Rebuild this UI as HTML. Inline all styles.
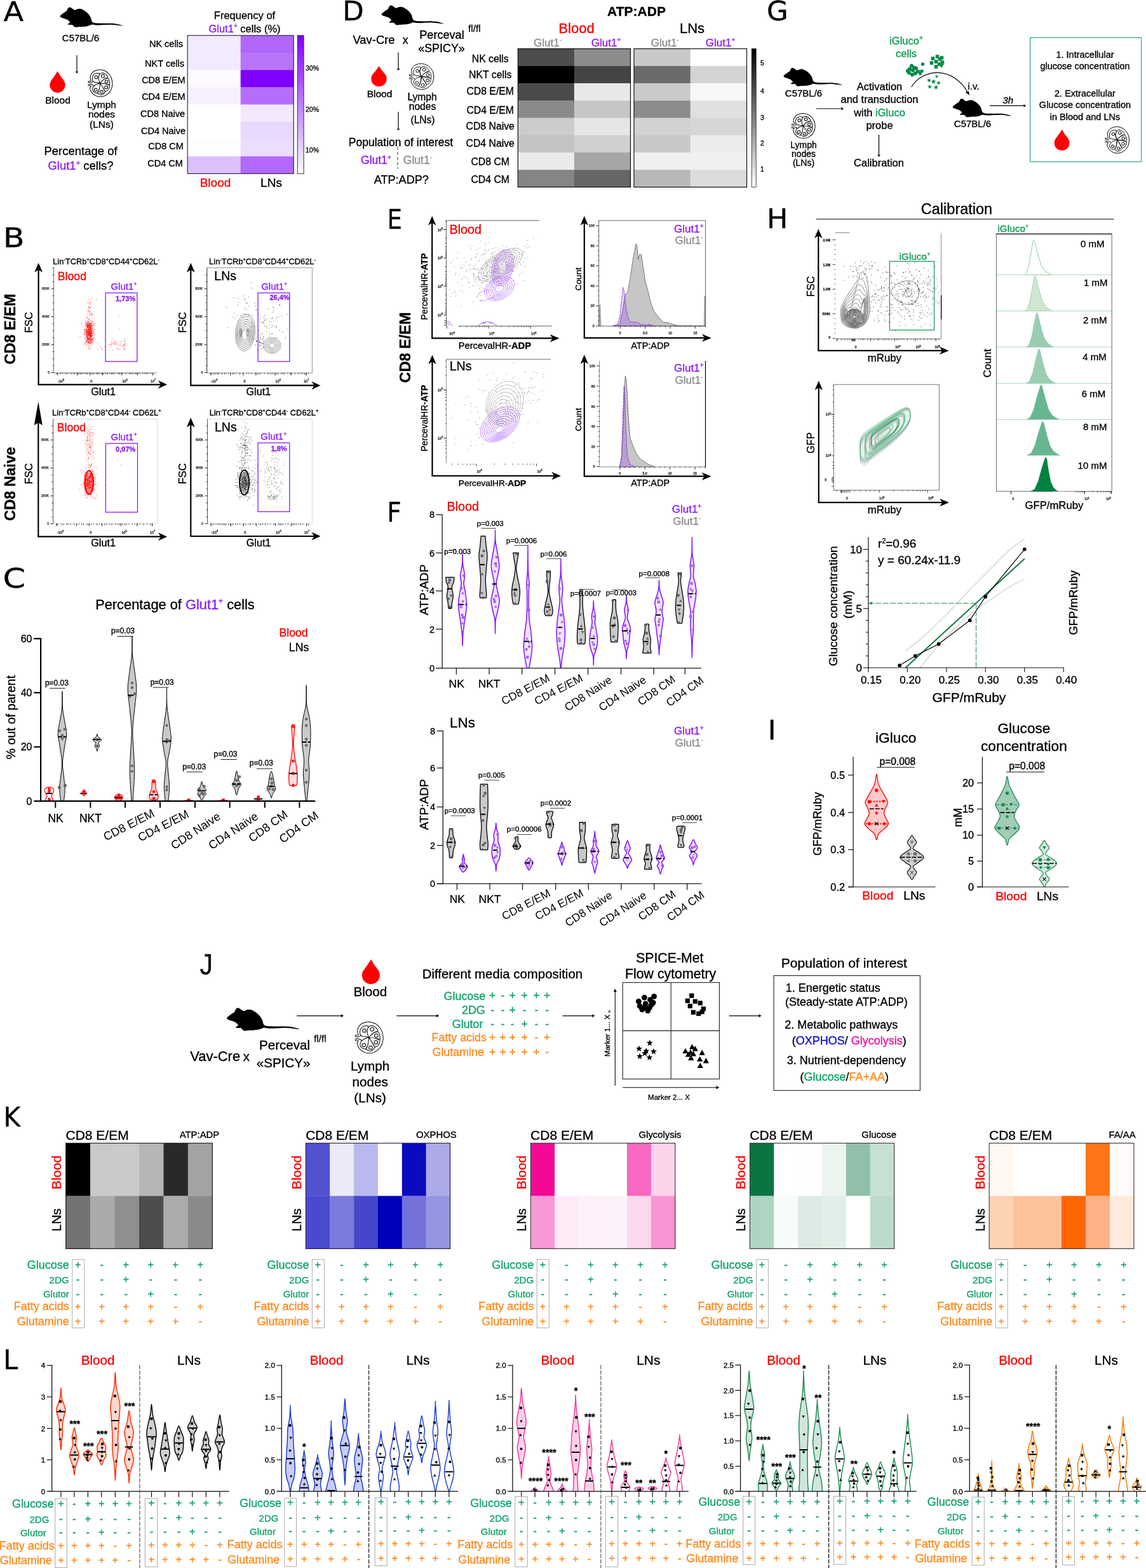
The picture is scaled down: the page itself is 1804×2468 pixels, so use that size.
<!DOCTYPE html>
<html lang="en"><head><meta charset="utf-8"><title>Figure</title>
<style>
html,body{margin:0;padding:0;background:#fff}
body{width:1804px;height:2468px;overflow:hidden}
svg{display:block;font-family:"Liberation Sans", sans-serif}
text{white-space:pre;stroke-width:0.34px;stroke-linejoin:round}
</style></head><body>
<svg xmlns="http://www.w3.org/2000/svg" width="1804" height="2468" viewBox="0 0 1804 2468">
<rect width="1804" height="2468" fill="#fff"/>
<text transform="translate(5.4,33.0) scale(1.065,1)" x="0" y="0" font-size="43.5" font-family="'DejaVu Sans', 'Liberation Sans', sans-serif" stroke="#000" stroke-width="0.5">A</text>
<path d="M94.5,25.4c.2-.5 .8-1.2 1.8-2.2 1-.9 2.8-2.2 4.3-3.2 1.4-1.1 3.4-2 4.4-3.1 1-1 1-2.5 1.6-3.3 .6-.9 1.1-1.6 1.8-1.9 .7-.3 1.6-.2 2.4 0 .9 .3 1.6 .8 2.5 1.4 .8 .5 1.8 1.5 2.6 1.9 .9 .5 1.6 .8 2.5 .7 .8-.1 1.7-1 2.7-1.3 1.1-.3 2.5-.7 3.7-.7 1.2 0 2.3 .1 3.6 .6 1.3 .5 2.8 1.4 4.2 2.3 1.5 .9 3 2 4.3 3.1 1.2 1.1 2.3 2.3 3.3 3.5 .9 1.3 1.8 2.7 2.4 4 .6 1.4 .8 2.9 1.2 4 .4 1.2 .4 2 1 2.7 .5 .7 1.2 1.3 2.1 1.7 .9 .4 1.7 .5 3.3 .7 1.7 .2 4.1 .3 6.7 .4 2.5 .1 5.4 .1 8.4 .1 3.1 0 6.9-.2 9.7-.1 2.9 .1 5.1 .4 7.3 .7 2.2 .4 4.2 .9 6.1 1.3 1.8 .5 4.1 1.3 4.8 1.6 .7 .4 .4 .5-.6 .5-1 0-3.5-.5-5.5-.7-1.9-.3-3.8-.6-6-.9-2.2-.2-4.7-.4-7.3-.5-2.6 0-5.6 .3-8.5 .4-2.8 .2-5.9 .4-8.4 .5-2.6 .1-4.8 .1-6.7-.1-1.9-.2-3.5-1-4.8-1-1.3 0-1.8 .7-3.1 1.1-1.3 .4-3 1.2-4.8 1.6-1.8 .4-3.8 .5-6.1 .7-2.2 .2-5.2 .2-7.2 .4-2 .1-3.6 .5-4.9 .4-1.2 0-1.9-.3-2.6-.8-.7-.5-1-1.5-1.6-1.9-.6-.5-.7-.8-1.8-1-1.1-.2-3.8 .1-4.9 0-1.1-.1-1.6-.4-1.7-.7 0-.4 .9-1.1 1.5-1.6 .5-.5 1.8-.6 1.9-1.2 .1-.6-.7-1.6-1.4-2.3-.7-.8-1.5-1.6-2.7-2.2-1.1-.6-2.8-1.1-4.2-1.6-1.4-.5-3.2-.8-4.3-1.3-1.1-.5-1.9-1-2.4-1.5-.5-.4-.8-.6-.6-1.2Z" fill="#000"/>
<text x="127.0" y="65.0" font-size="15" text-anchor="middle" stroke="#000">C57BL/6</text>
<line x1="121.0" y1="87.0" x2="121.0" y2="112.5" stroke="#000" stroke-width="1.2"/>
<polygon points="121.0,115.5 118.6,112.5 123.4,112.5" fill="#000"/>
<path d="M90.5,112.0 Q94.8,119.7 100.6,126.9 A12.2,12.2 0 1 1 80.4,126.9 Q86.2,119.7 90.5,112.0Z" fill="#ff0000"/>
<text x="91.0" y="162.5" font-size="15.5" text-anchor="middle" stroke="#000">Blood</text>
<defs><g id="ln" fill="none" stroke="#000" stroke-linecap="round" stroke-linejoin="round"><path d="M12.8,45.6c-.4-1.1-1.9-4.1-2.5-6.6-.6-2.5-1.4-5.1-1.1-8.2 .4-3.2 1-7.1 3.1-10.8 2.1-3.7 5.9-8.6 9.8-11.6 3.8-2.9 8.8-4.7 13.3-6 4.4-1.4 8.9-2 13.3-1.9 4.5 .1 9 1 13.4 2.3 4.3 1.3 8.7 2.8 12.8 5.6 4.1 2.8 8.3 6.9 11.8 11.3 3.4 4.4 6.9 9.6 9 15.2 2.1 5.6 3.4 12.3 3.8 18.4 .4 6.2-.3 12.9-1.6 18.5-1.2 5.6-3.4 10.8-6.1 15.4-2.7 4.6-6.2 8.7-10.3 12.3-4.1 3.6-9.2 7.2-14.3 9.2-5.1 2.1-11 3.1-16.4 3.1-5.5 0-11.3-1-16.4-3.1-5.2-2-10.5-5.5-14.4-9.2-3.9-3.8-7.2-9.5-9.2-13.3-2-3.9-2.6-7.2-2.8-9.8-.2-2.6 1-4.3 1.7-5.6 .8-1.4 2.4-2.2 2.9-2.6M.5,48.2c1.2 0 5.4 .3 7.2 .2 1.8-.1 2.7-.2 3.6-.7 .8-.5 1.3-1.7 1.5-2.1M.5,52.3c1.4 .3 5.8 1.4 8.2 1.5 2.4 .2 4.5 .2 6.2-.5 1.7-.7 3.2-2.5 4.1-3.6 .8-1 .8-2.1 1-2.5M.5,61c1.6-.1 6.5-.9 9.2-.7 2.8 .2 5.2 .9 7.2 1.8 2.1 .8 3.9 2 5.2 3 1.2 1.1 2.1 2.6 2.5 3.1M.5,66.2c1.4-.1 6.2-.7 8.2-.4 2 .4 3.3 2 3.9 2.4M49.7,56.4c-2.1-.7-4.2-2.1-9.2-3.1-5-.9-7.6 .3-12.3-1-4.7-1.3-5.2-.8-7.7-4.6-2.4-3.8-3.1-6.1-2.8-11.8 .4-5.7 1.2-8.3 4.1-12.8 3-4.5 4.5-4.6 8.5-6.5 4-1.9 4.6-1.8 8.7-1.7 4.1 0 7.6-1 8.9 2 1.3 3-2.6 5.2-3.5 10.8-.9 5.6-1.5 6.6-.3 13.3 1.2 6.7 4.3 11.8 5.6 15.4M49.7,56.4c-1.3-3.6-4.4-8.7-5.6-15.4-1.2-6.7-.8-7.9 .3-13.3 1.1-5.5 .9-6.8 4.3-10.1 3.4-3.2 5.4-3.7 10.3-3.8 4.9 0 6.4 .9 10.7 3.6 4.4 2.8 5.2 4.4 7.7 8.2 2.6 3.9 6 5.2 3.3 8.5-2.6 3.2-8.9 2.1-14.5 5.4-5.7 3.3-6 4.8-9.8 8.7-3.8 4-5.1 6.3-6.7 8.2M49.7,56.4c1.6-1.9 2.9-4.2 6.7-8.2 3.8-3.9 5.3-5.6 9.8-8.7 4.4-3.1 5.1-4.3 9.2-4.6 4.1-.4 5.3 .2 8.2 3 2.9 2.9 3 5 4.1 9.3 1.1 4.3 .9 5.4 .7 9.2-.2 3.8 2.3 6.7-1.7 7.2-4 .5-6.8-3.3-15.4-4.9-8.6-1.7-16.5-1.8-21.6-2.3M49.7,56.4c5.1 .5 13 .6 21.6 2.3 8.6 1.6 11.7 1.3 15.4 4.9 3.6 3.5 1.2 5.5 .2 10.2-1.1 4.8-1.8 6.8-4.8 10.3-3.1 3.5-5.1 3.7-8.3 4.6-3.1 1-2.1 3-5.1-.5-3-3.5-3.2-6.9-7.7-14.4-4.4-7.4-8.6-13.3-11.3-17.4M49.7,56.4c2.7 4.1 6.9 10 11.3 17.4 4.5 7.5 6 9.6 7.7 14.4 1.7 4.8 1.2 3-.5 6.2-1.7 3.1-3.1 5-6.7 7.1-3.6 2.2-4.7 2.3-8.7 2.1-3.9-.2-5.1-1.2-8.2-3.1-3.1-1.9-5.2-1.3-5.1-5.1 .1-3.8 3.7-5.3 5.6-11.3 2-6 1.7-7.9 2.8-14.4 1.1-6.4 1.4-10.2 1.8-13.3M49.7,56.4c-3.1 .8-7.7 1.2-13.3 3.6-5.6 2.4-6.9 3.4-10.8 6.7-3.8 3.2-4 3.1-5.6 7.1-1.6 4.1-2.2 6-1.2 10.3 .9 4.3 2.1 5.5 5.3 8.2 3.2 2.8 4.6 2.9 8.2 3.6 3.6 .7 4.2 2.2 7.2-.5 3-2.8 3.7-5.3 5.6-11.3 2-6 1.7-7.9 2.8-14.4 1.1-6.4 1.4-10.2 1.8-13.3"/><circle cx="33.5" cy="31.5" r="6.2"/><circle cx="61.0" cy="26.7" r="6.4"/><circle cx="75.4" cy="49.2" r="6.4"/><circle cx="74.4" cy="72.8" r="6.4"/><circle cx="55.4" cy="91.8" r="6.2"/><circle cx="31.5" cy="83.1" r="6.2"/></g></defs>
<use href="#ln" transform="translate(138.5,109.5) scale(0.3850,0.3829)" stroke-width="2.60"/>
<text x="160.0" y="169.5" font-size="15.5" text-anchor="middle" stroke="#000">Lymph</text>
<text x="160.0" y="184.5" font-size="15.5" text-anchor="middle" stroke="#000">nodes</text>
<text x="160.0" y="200.5" font-size="15.5" text-anchor="middle" stroke="#000">(LNs)</text>
<text x="127.0" y="244.0" font-size="18.5" text-anchor="middle" stroke="#000">Percentage of</text>
<text x="127.0" y="266.5" font-size="18.5" text-anchor="middle" stroke="#000"><tspan fill="#8a1cf5" stroke="#8a1cf5">Glut1</tspan><tspan dy="-7" font-size="11" fill="#8a1cf5" stroke="#8a1cf5">+</tspan><tspan dy="7" font-size="1">&#8203;</tspan> cells?</text>
<text x="385.0" y="30.0" font-size="16.5" text-anchor="middle" stroke="#000">Frequency of</text>
<text x="385.0" y="50.5" font-size="16.5" text-anchor="middle" stroke="#000"><tspan fill="#8a1cf5" stroke="#8a1cf5">Glut1</tspan><tspan dy="-6.5" font-size="10" fill="#8a1cf5" stroke="#8a1cf5">+</tspan><tspan dy="6.5" font-size="1">&#8203;</tspan> cells (%)</text>
<rect x="295.20" y="55.80" width="83.80" height="27.49" fill="#f3eafd"/>
<rect x="378.70" y="55.80" width="83.80" height="27.49" fill="#b066fb"/>
<rect x="295.20" y="82.99" width="83.80" height="27.49" fill="#f3ebfd"/>
<rect x="378.70" y="82.99" width="83.80" height="27.49" fill="#b774fb"/>
<rect x="295.20" y="110.17" width="83.80" height="27.49" fill="#fcfaff"/>
<rect x="378.70" y="110.17" width="83.80" height="27.49" fill="#7f00ff"/>
<rect x="295.20" y="137.36" width="83.80" height="27.49" fill="#f6f0fe"/>
<rect x="378.70" y="137.36" width="83.80" height="27.49" fill="#b46efb"/>
<rect x="295.20" y="164.55" width="83.80" height="27.49" fill="#ffffff"/>
<rect x="378.70" y="164.55" width="83.80" height="27.49" fill="#f3e8fe"/>
<rect x="295.20" y="191.74" width="83.80" height="27.49" fill="#ffffff"/>
<rect x="378.70" y="191.74" width="83.80" height="27.49" fill="#e9d8fd"/>
<rect x="295.20" y="218.93" width="83.80" height="27.49" fill="#fdfcff"/>
<rect x="378.70" y="218.93" width="83.80" height="27.49" fill="#ecdcfd"/>
<rect x="295.20" y="246.11" width="83.80" height="27.49" fill="#dcc0fb"/>
<rect x="378.70" y="246.11" width="83.80" height="27.49" fill="#b268fb"/>
<rect x="295.2" y="55.8" width="167.0" height="217.5" fill="none" stroke="#333" stroke-width="1.2"/>
<defs><linearGradient id="gA" x1="0" y1="0" x2="0" y2="1"><stop offset="0" stop-color="#7f00ff"/><stop offset="1" stop-color="#ffffff"/></linearGradient><linearGradient id="gD" x1="0" y1="0" x2="0" y2="1"><stop offset="0" stop-color="#000"/><stop offset="1" stop-color="#fff"/></linearGradient></defs>
<rect x="468.3" y="55.8" width="9.8" height="217.5" fill="url(#gA)" stroke="#333" stroke-width="1"/>
<text x="481.0" y="110.8" font-size="10.5" stroke="#000">30%</text>
<text x="481.0" y="175.8" font-size="10.5" stroke="#000">20%</text>
<text x="481.0" y="240.3" font-size="10.5" stroke="#000">10%</text>
<text x="261.5" y="73.7" font-size="14.5" text-anchor="middle" stroke="#000">NK cells</text>
<text x="259.0" y="105.2" font-size="14.5" text-anchor="middle" stroke="#000">NKT cells</text>
<text x="257.4" y="131.2" font-size="14.5" text-anchor="middle" stroke="#000">CD8 E/EM</text>
<text x="257.4" y="157.2" font-size="14.5" text-anchor="middle" stroke="#000">CD4 E/EM</text>
<text x="256.0" y="184.2" font-size="14.5" text-anchor="middle" stroke="#000">CD8 Naive</text>
<text x="257.0" y="211.2" font-size="14.5" text-anchor="middle" stroke="#000">CD4 Naive</text>
<text x="261.0" y="235.2" font-size="14.5" text-anchor="middle" stroke="#000">CD8 CM</text>
<text x="260.1" y="262.2" font-size="14.5" text-anchor="middle" stroke="#000">CD4 CM</text>
<text x="339.0" y="293.5" font-size="19" text-anchor="middle" fill="#ff0000" stroke="#ff0000">Blood</text>
<text x="427.0" y="293.5" font-size="19" text-anchor="middle" stroke="#000">LNs</text>
<text transform="translate(539.3,32.0) scale(1.0,1)" x="0" y="0" font-size="43.5" font-family="'DejaVu Sans', 'Liberation Sans', sans-serif" stroke="#000" stroke-width="0.5">D</text>
<path d="M600.5,22.3c.2-.6 .8-1.3 1.8-2.2 1-.9 2.7-2.2 4.2-3.2 1.4-1.1 3.4-2 4.4-3 1-1.1 1-2.5 1.6-3.4 .5-.8 1.1-1.5 1.8-1.8 .7-.3 1.6-.2 2.4 0 .7 .3 1.5 .8 2.3 1.4 .9 .5 1.8 1.4 2.7 1.9 .8 .4 1.5 .8 2.4 .7 .8-.1 1.7-1 2.7-1.3 1.1-.4 2.4-.7 3.6-.7 1.2-.1 2.3 .1 3.6 .6 1.3 .4 2.8 1.3 4.2 2.2 1.4 .9 2.9 2 4.2 3.1 1.2 1.1 2.3 2.3 3.2 3.5 .9 1.2 1.8 2.6 2.4 4 .6 1.3 .8 2.8 1.2 3.9 .3 1.1 .4 1.9 .9 2.6 .6 .7 1.3 1.3 2.2 1.7 .9 .4 1.6 .5 3.2 .7 1.7 .2 4.1 .3 6.6 .4 2.5 .1 5.4 .1 8.4 .1 3 0 6.8-.2 9.6-.1 2.7 .1 4.9 .4 7.1 .7 2.2 .3 4.2 .8 6 1.3 1.8 .5 4.1 1.2 4.8 1.6 .7 .3 .4 .5-.6 .5-1-.1-3.5-.5-5.4-.8-1.9-.2-3.8-.6-6-.8-2.2-.2-4.5-.5-7.1-.5-2.6 0-5.6 .2-8.4 .4-2.8 .1-5.9 .4-8.4 .5-2.5 0-4.7 0-6.6-.2-1.9-.1-3.5-.9-4.8-.9-1.3 0-1.6 .6-2.9 1.1-1.3 .4-3 1.1-4.8 1.5-1.8 .4-3.8 .5-6 .7-2.2 .2-5.2 .2-7.2 .4-2 .1-3.5 .5-4.8 .5-1.2-.1-1.9-.4-2.6-.9-.7-.4-1-1.4-1.6-1.9-.5-.5-.7-.8-1.8-.9-1.1-.2-3.7 .1-4.7 0-1.1-.2-1.7-.4-1.7-.8-.1-.3 .9-1.1 1.4-1.5 .6-.5 1.9-.6 1.9-1.2 .1-.6-.7-1.5-1.4-2.3-.7-.7-1.5-1.5-2.6-2.1-1.2-.7-2.8-1.1-4.2-1.6-1.4-.5-3.1-.9-4.2-1.3-1.1-.5-1.9-1-2.4-1.4-.5-.5-.8-.7-.6-1.2Z" fill="#000"/>
<text x="588.5" y="69.0" font-size="18.4" text-anchor="middle" stroke="#000">Vav-Cre</text>
<text x="638.0" y="69.0" font-size="17.5" text-anchor="middle" stroke="#000">x</text>
<text x="695.5" y="60.5" font-size="18.1" text-anchor="middle" stroke="#000">Perceval</text>
<text x="737.0" y="50.0" font-size="15.3" stroke="#000">fl/fl</text>
<text x="695.0" y="82.0" font-size="17.9" text-anchor="middle" stroke="#000">«SPICY»</text>
<line x1="627.0" y1="82.5" x2="627.0" y2="108.0" stroke="#000" stroke-width="1.2"/>
<polygon points="627.0,111.0 624.6,108.0 629.4,108.0" fill="#000"/>
<path d="M596.5,104.0 Q600.6,110.7 606.3,116.8 A12.2,12.2 0 1 1 586.7,116.8 Q592.4,110.7 596.5,104.0Z" fill="#ff0000"/>
<text x="597.5" y="153.0" font-size="15.5" text-anchor="middle" stroke="#000">Blood</text>
<use href="#ln" transform="translate(644.0,100.0) scale(0.3900,0.3651)" stroke-width="2.56"/>
<text x="664.5" y="158.0" font-size="15.6" text-anchor="middle" stroke="#000">Lymph</text>
<text x="665.0" y="173.0" font-size="15.6" text-anchor="middle" stroke="#000">nodes</text>
<text x="665.5" y="194.0" font-size="15.6" text-anchor="middle" stroke="#000">(LNs)</text>
<line x1="627.0" y1="176.0" x2="627.0" y2="202.5" stroke="#000" stroke-width="1.2"/>
<polygon points="627.0,205.5 624.6,202.5 629.4,202.5" fill="#000"/>
<text x="631.0" y="229.5" font-size="17.5" text-anchor="middle" stroke="#000">Population of interest</text>
<line x1="626.0" y1="231.0" x2="626.0" y2="266.0" stroke="#666" stroke-width="1.3" stroke-dasharray="5,3"/>
<text x="592.0" y="257.5" font-size="17.5" text-anchor="middle" stroke="#000"><tspan fill="#8a1cf5" stroke="#8a1cf5">Glut1</tspan><tspan dy="-7" font-size="10.5" fill="#8a1cf5" stroke="#8a1cf5">+</tspan><tspan dy="7" font-size="1">&#8203;</tspan></text>
<text x="657.5" y="257.5" font-size="17.5" text-anchor="middle" stroke="#000"><tspan fill="#8c8c8c" stroke="#8c8c8c">Glut1</tspan><tspan dy="-7" font-size="10.5" fill="#8c8c8c" stroke="#8c8c8c">-</tspan><tspan dy="7" font-size="1">&#8203;</tspan></text>
<text x="631.8" y="288.5" font-size="18.1" text-anchor="middle" stroke="#000">ATP:ADP?</text>
<text x="1002.0" y="24.8" font-size="21" text-anchor="middle" stroke="#000" font-weight="bold">ATP:ADP</text>
<text x="907.5" y="52.0" font-size="22" text-anchor="middle" fill="#ff0000" stroke="#ff0000">Blood</text>
<text x="1089.5" y="52.0" font-size="22" text-anchor="middle" stroke="#000">LNs</text>
<text x="862.0" y="73.0" font-size="17" text-anchor="middle" stroke="#000"><tspan fill="#8c8c8c" stroke="#8c8c8c">Glut1</tspan><tspan dy="-7" font-size="10" fill="#8c8c8c" stroke="#8c8c8c">-</tspan><tspan dy="7" font-size="1">&#8203;</tspan></text>
<text x="954.0" y="73.0" font-size="17" text-anchor="middle" stroke="#000"><tspan fill="#8a1cf5" stroke="#8a1cf5">Glut1</tspan><tspan dy="-7" font-size="10" fill="#8a1cf5" stroke="#8a1cf5">+</tspan><tspan dy="7" font-size="1">&#8203;</tspan></text>
<text x="1046.7" y="73.0" font-size="17" text-anchor="middle" stroke="#000"><tspan fill="#8c8c8c" stroke="#8c8c8c">Glut1</tspan><tspan dy="-7" font-size="10" fill="#8c8c8c" stroke="#8c8c8c">-</tspan><tspan dy="7" font-size="1">&#8203;</tspan></text>
<text x="1134.0" y="73.0" font-size="17" text-anchor="middle" stroke="#000"><tspan fill="#8a1cf5" stroke="#8a1cf5">Glut1</tspan><tspan dy="-7" font-size="10" fill="#8a1cf5" stroke="#8a1cf5">+</tspan><tspan dy="7" font-size="1">&#8203;</tspan></text>
<rect x="815.30" y="76.70" width="88.90" height="27.53" fill="#4d4d4d"/>
<rect x="903.90" y="76.70" width="88.90" height="27.53" fill="#8c8c8c"/>
<rect x="815.30" y="103.93" width="88.90" height="27.53" fill="#000000"/>
<rect x="903.90" y="103.93" width="88.90" height="27.53" fill="#444444"/>
<rect x="815.30" y="131.15" width="88.90" height="27.53" fill="#4a4a4a"/>
<rect x="903.90" y="131.15" width="88.90" height="27.53" fill="#e8e8e8"/>
<rect x="815.30" y="158.38" width="88.90" height="27.53" fill="#8a8a8a"/>
<rect x="903.90" y="158.38" width="88.90" height="27.53" fill="#c6c6c6"/>
<rect x="815.30" y="185.60" width="88.90" height="27.53" fill="#cccccc"/>
<rect x="903.90" y="185.60" width="88.90" height="27.53" fill="#e6e6e6"/>
<rect x="815.30" y="212.82" width="88.90" height="27.53" fill="#c4c4c4"/>
<rect x="903.90" y="212.82" width="88.90" height="27.53" fill="#d0d0d0"/>
<rect x="815.30" y="240.05" width="88.90" height="27.53" fill="#ebebeb"/>
<rect x="903.90" y="240.05" width="88.90" height="27.53" fill="#a6a6a6"/>
<rect x="815.30" y="267.28" width="88.90" height="27.53" fill="#858585"/>
<rect x="903.90" y="267.28" width="88.90" height="27.53" fill="#666666"/>
<rect x="815.3" y="76.7" width="177.2" height="217.8" fill="none" stroke="#111" stroke-width="1.2"/>
<rect x="998.00" y="76.70" width="89.05" height="27.53" fill="#c8c8c8"/>
<rect x="1086.75" y="76.70" width="89.05" height="27.53" fill="#ffffff"/>
<rect x="998.00" y="103.93" width="89.05" height="27.53" fill="#6b6b6b"/>
<rect x="1086.75" y="103.93" width="89.05" height="27.53" fill="#d4d4d4"/>
<rect x="998.00" y="131.15" width="89.05" height="27.53" fill="#cacaca"/>
<rect x="1086.75" y="131.15" width="89.05" height="27.53" fill="#f8f8f8"/>
<rect x="998.00" y="158.38" width="89.05" height="27.53" fill="#8c8c8c"/>
<rect x="1086.75" y="158.38" width="89.05" height="27.53" fill="#e0e0e0"/>
<rect x="998.00" y="185.60" width="89.05" height="27.53" fill="#d2d2d2"/>
<rect x="1086.75" y="185.60" width="89.05" height="27.53" fill="#d6d6d6"/>
<rect x="998.00" y="212.82" width="89.05" height="27.53" fill="#c8c8c8"/>
<rect x="1086.75" y="212.82" width="89.05" height="27.53" fill="#ececec"/>
<rect x="998.00" y="240.05" width="89.05" height="27.53" fill="#f0f0f0"/>
<rect x="1086.75" y="240.05" width="89.05" height="27.53" fill="#f0f0f0"/>
<rect x="998.00" y="267.28" width="89.05" height="27.53" fill="#b8b8b8"/>
<rect x="1086.75" y="267.28" width="89.05" height="27.53" fill="#dcdcdc"/>
<rect x="998.0" y="76.7" width="177.5" height="217.8" fill="none" stroke="#111" stroke-width="1.2"/>
<rect x="1183.2" y="76.7" width="7.0" height="217.8" fill="url(#gD)" stroke="#222" stroke-width="0.8"/>
<text x="1197.0" y="103.4" font-size="10.5" stroke="#000">5</text>
<text x="1197.0" y="146.8" font-size="10.5" stroke="#000">4</text>
<text x="1197.0" y="189.4" font-size="10.5" stroke="#000">3</text>
<text x="1197.0" y="229.2" font-size="10.5" stroke="#000">2</text>
<text x="1197.0" y="269.8" font-size="10.5" stroke="#000">1</text>
<text x="771.7" y="97.7" font-size="15.8" text-anchor="middle" stroke="#000">NK cells</text>
<text x="771.7" y="122.7" font-size="15.8" text-anchor="middle" stroke="#000">NKT cells</text>
<text x="771.7" y="148.9" font-size="15.8" text-anchor="middle" stroke="#000">CD8 E/EM</text>
<text x="771.7" y="178.6" font-size="15.8" text-anchor="middle" stroke="#000">CD4 E/EM</text>
<text x="771.7" y="204.3" font-size="15.8" text-anchor="middle" stroke="#000">CD8 Naive</text>
<text x="771.7" y="231.3" font-size="15.8" text-anchor="middle" stroke="#000">CD4 Naive</text>
<text x="771.7" y="260.0" font-size="15.8" text-anchor="middle" stroke="#000">CD8 CM</text>
<text x="771.7" y="287.9" font-size="15.8" text-anchor="middle" stroke="#000">CD4 CM</text>
<text transform="translate(1207.0,32.0) scale(1.0,1)" x="0" y="0" font-size="43.5" font-family="'DejaVu Sans', 'Liberation Sans', sans-serif" stroke="#000" stroke-width="0.5">G</text>
<text x="1426.5" y="69.5" font-size="16.5" text-anchor="middle" stroke="#000"><tspan fill="#0c9a55" stroke="#0c9a55">iGluco</tspan><tspan dy="-6.5" font-size="10" fill="#0c9a55" stroke="#0c9a55">+</tspan><tspan dy="6.5" font-size="1">&#8203;</tspan></text>
<text x="1426.5" y="89.8" font-size="16.5" text-anchor="middle" fill="#0c9a55" stroke="#0c9a55">cells</text>
<path d="M1233.5,119.7c.2-.5 .7-1.2 1.7-2 .9-.9 2.6-2.1 3.9-3 1.4-1 3.2-1.9 4.2-2.8 .9-1 .9-2.4 1.4-3.2 .6-.8 1.1-1.4 1.7-1.7 .7-.3 1.5-.2 2.3 0 .7 .2 1.4 .8 2.2 1.3 .8 .5 1.7 1.3 2.5 1.8 .8 .4 1.4 .7 2.2 .6 .8-.1 1.6-.9 2.6-1.2 1-.3 2.2-.7 3.4-.7 1.1 0 2.1 .1 3.3 .6 1.3 .4 2.7 1.3 4 2.1 1.3 .9 2.7 1.9 3.9 2.9 1.2 1.1 2.1 2.1 3 3.3 .9 1.2 1.7 2.5 2.3 3.7 .5 1.2 .8 2.7 1.1 3.7 .3 1 .4 1.8 .9 2.5 .5 .6 1.2 1.2 2 1.5 .9 .4 1.5 .5 3 .7 1.6 .2 3.9 .3 6.2 .4 2.4 0 5.1 .1 7.9 .1 2.8 0 6.3-.2 9-.1 2.6 0 4.6 .3 6.7 .6 2.1 .3 3.9 .8 5.6 1.3 1.7 .4 3.8 1.1 4.5 1.4 .7 .3 .4 .5-.6 .5-.9-.1-3.2-.5-5-.7-1.8-.2-3.6-.6-5.6-.8-2.1-.2-4.3-.4-6.8-.4-2.4-.1-5.2 .2-7.8 .3-2.6 .1-5.5 .4-7.9 .4-2.3 .1-4.4 .1-6.2-.1-1.7-.1-3.2-.9-4.4-.9-1.3 .1-1.6 .6-2.9 1-1.2 .5-2.8 1.2-4.4 1.5-1.7 .4-3.6 .5-5.7 .7-2 .1-4.8 .2-6.7 .3-1.9 .1-3.3 .5-4.5 .5-1.1-.1-1.8-.4-2.5-.8-.6-.5-.9-1.4-1.4-1.8-.5-.5-.7-.8-1.7-.9-1-.2-3.5 .1-4.5 0-1-.1-1.5-.3-1.6-.7 0-.3 .9-1 1.4-1.4 .5-.5 1.7-.6 1.8-1.2 .1-.5-.7-1.4-1.4-2.1-.6-.7-1.4-1.4-2.4-2-1.1-.6-2.7-1-4-1.5-1.3-.4-2.9-.8-3.9-1.2-1-.4-1.8-1-2.2-1.4-.5-.4-.8-.6-.6-1.1Z" fill="#000"/>
<text x="1265.0" y="151.8" font-size="15" text-anchor="middle" stroke="#000">C57BL/6</text>
<line x1="1285.0" y1="171.0" x2="1324.5" y2="171.0" stroke="#000" stroke-width="1.2"/>
<polygon points="1328.0,171.0 1324.5,173.4 1324.5,168.6" fill="#000"/>
<use href="#ln" transform="translate(1245.7,178.4) scale(0.3750,0.3517)" stroke-width="2.67"/>
<text x="1265.0" y="232.5" font-size="14" text-anchor="middle" stroke="#000">Lymph</text>
<text x="1265.0" y="247.0" font-size="14" text-anchor="middle" stroke="#000">nodes</text>
<text x="1265.0" y="261.0" font-size="14" text-anchor="middle" stroke="#000">(LNs)</text>
<text x="1384.5" y="141.7" font-size="16.5" text-anchor="middle" stroke="#000">Activation</text>
<text x="1384.5" y="162.2" font-size="16.5" text-anchor="middle" stroke="#000">and transduction</text>
<text x="1384.5" y="183.0" font-size="16.5" text-anchor="middle" stroke="#000">with <tspan fill="#0c9a55" stroke="#0c9a55">iGluco</tspan></text>
<text x="1384.5" y="203.3" font-size="16.5" text-anchor="middle" stroke="#000">probe</text>
<line x1="1383.5" y1="212.0" x2="1383.5" y2="243.5" stroke="#000" stroke-width="1.2"/>
<polygon points="1383.5,247.0 1381.1,243.5 1385.9,243.5" fill="#000"/>
<text x="1383.5" y="261.6" font-size="16.5" text-anchor="middle" stroke="#000">Calibration</text>
<circle cx="1437.0" cy="110.5" r="3.1" fill="#0a8a4a"/>
<circle cx="1442.0" cy="107.5" r="3.1" fill="#0a8a4a"/>
<circle cx="1432.0" cy="108.5" r="3.1" fill="#0a8a4a"/>
<circle cx="1431.0" cy="114.5" r="3.1" fill="#0a8a4a"/>
<circle cx="1441.0" cy="115.5" r="3.1" fill="#0a8a4a"/>
<circle cx="1436.0" cy="117.5" r="3.1" fill="#0a8a4a"/>
<circle cx="1445.0" cy="112.5" r="3.1" fill="#0a8a4a"/>
<circle cx="1435.0" cy="103.5" r="3.1" fill="#0a8a4a"/>
<circle cx="1439.0" cy="106.5" r="3.1" fill="#0a8a4a"/>
<circle cx="1429.0" cy="111.5" r="3.1" fill="#0a8a4a"/>
<circle cx="1452.5" cy="101.0" r="2.8" fill="#0a8a4a"/>
<circle cx="1451.0" cy="112.0" r="2.8" fill="#0a8a4a"/>
<circle cx="1448.5" cy="116.0" r="2.5" fill="#0a8a4a"/>
<rect x="1470.7" y="94.2" width="5.6" height="5.6" fill="#0a8a4a"/>
<rect x="1476.7" y="90.2" width="5.6" height="5.6" fill="#0a8a4a"/>
<rect x="1465.7" y="89.2" width="5.6" height="5.6" fill="#0a8a4a"/>
<rect x="1463.7" y="96.2" width="5.6" height="5.6" fill="#0a8a4a"/>
<rect x="1475.7" y="98.2" width="5.6" height="5.6" fill="#0a8a4a"/>
<rect x="1470.7" y="102.2" width="5.6" height="5.6" fill="#0a8a4a"/>
<rect x="1480.7" y="95.2" width="5.6" height="5.6" fill="#0a8a4a"/>
<rect x="1472.7" y="86.2" width="5.6" height="5.6" fill="#0a8a4a"/>
<rect x="1479.7" y="88.2" width="5.6" height="5.6" fill="#0a8a4a"/>
<polygon points="1478,101 1486,101 1482,107" fill="#0a8a4a"/>
<path d="M1469.5,124.3L1470.6,127L1473.5,127.2L1471.2,129.1L1472,131.9L1469.5,130.3L1467,131.9L1467.8,129.1L1465.5,127.2L1468.4,127Z" fill="#0a8a4a"/>
<path d="M1477.5,126.9L1478.4,129.2L1481,129.4L1479,131L1479.6,133.4L1477.5,132.1L1475.4,133.4L1476,131L1474,129.4L1476.6,129.2Z" fill="#0a8a4a"/>
<path d="M1462.5,122.9L1463.4,125.2L1466,125.4L1464,127L1464.6,129.4L1462.5,128.1L1460.4,129.4L1461,127L1459,125.4L1461.6,125.2Z" fill="#0a8a4a"/>
<path d="M1463.5,132.9L1464.4,135.2L1467,135.4L1465,137L1465.6,139.4L1463.5,138.1L1461.4,139.4L1462,137L1460,135.4L1462.6,135.2Z" fill="#0a8a4a"/>
<path d="M1473.5,133.6L1474.5,136.1L1477.2,136.3L1475.1,138L1475.8,140.7L1473.5,139.2L1471.2,140.7L1471.9,138L1469.8,136.3L1472.5,136.1Z" fill="#0a8a4a"/>
<path d="M1474.5,117.4L1475.3,119.4L1477.4,119.5L1475.8,120.9L1476.3,123L1474.5,121.8L1472.7,123L1473.2,120.9L1471.6,119.5L1473.7,119.4Z" fill="#0a8a4a"/>
<path d="M1434.7,137 C1452,108 1500,102 1525,148" fill="none" stroke="#000" stroke-width="1.2"/>
<polygon points="1526,150 1519.5,145 1525,143.5" fill="#000"/>
<text x="1523.5" y="140.8" font-size="15" stroke="#000">i.v.</text>
<path d="M1499.8,168.3c.2-.5 .7-1.2 1.7-2 .9-.9 2.6-2.1 3.9-3 1.4-1 3.2-1.9 4.2-2.8 .9-1 .9-2.4 1.4-3.2 .6-.8 1.1-1.4 1.7-1.7 .7-.3 1.5-.2 2.3 0 .7 .2 1.4 .8 2.2 1.3 .8 .5 1.7 1.3 2.5 1.8 .8 .4 1.4 .7 2.2 .6 .8-.1 1.6-.9 2.6-1.2 1-.3 2.2-.7 3.4-.7 1.1 0 2.1 .1 3.3 .6 1.3 .4 2.7 1.3 4 2.1 1.3 .9 2.7 1.9 3.9 2.9 1.2 1.1 2.1 2.1 3 3.3 .9 1.2 1.7 2.5 2.3 3.7 .5 1.2 .8 2.7 1.1 3.7 .3 1 .4 1.8 .9 2.5 .5 .6 1.2 1.2 2 1.5 .9 .4 1.5 .5 3 .7 1.6 .2 3.9 .3 6.2 .4 2.4 0 5.1 .1 7.9 .1 2.8 0 6.3-.2 9-.1 2.6 0 4.6 .3 6.7 .6 2.1 .3 3.9 .8 5.6 1.3 1.7 .4 3.8 1.1 4.5 1.4 .7 .3 .4 .5-.6 .5-.9-.1-3.2-.5-5-.7-1.8-.2-3.6-.6-5.6-.8-2.1-.2-4.3-.4-6.8-.4-2.4-.1-5.2 .2-7.8 .3-2.6 .1-5.5 .4-7.9 .4-2.3 .1-4.4 .1-6.2-.1-1.7-.1-3.2-.9-4.4-.9-1.3 .1-1.6 .6-2.9 1-1.2 .5-2.8 1.2-4.4 1.5-1.7 .4-3.6 .5-5.7 .7-2 .1-4.8 .2-6.7 .3-1.9 .1-3.3 .5-4.5 .5-1.1-.1-1.8-.4-2.5-.8-.6-.5-.9-1.4-1.4-1.8-.5-.5-.7-.8-1.7-.9-1-.2-3.5 .1-4.5 0-1-.1-1.5-.3-1.6-.7 0-.3 .9-1 1.4-1.4 .5-.5 1.7-.6 1.8-1.2 .1-.5-.7-1.4-1.4-2.1-.6-.7-1.4-1.4-2.4-2-1.1-.6-2.7-1-4-1.5-1.3-.4-2.9-.8-3.9-1.2-1-.4-1.8-1-2.2-1.4-.5-.4-.8-.6-.6-1.1Z" fill="#000"/>
<text x="1531.0" y="199.5" font-size="15" text-anchor="middle" stroke="#000">C57BL/6</text>
<line x1="1558.0" y1="166.4" x2="1611.5" y2="166.4" stroke="#000" stroke-width="1.2"/>
<polygon points="1615.0,166.4 1611.5,168.8 1611.5,164.0" fill="#000"/>
<text x="1586.8" y="163.2" font-size="15" text-anchor="middle" stroke="#000" font-style="italic">3h</text>
<rect x="1621.6" y="59.2" width="175.0" height="195.3" fill="none" stroke="#3daf78" stroke-width="1.3"/>
<text x="1708.0" y="90.5" font-size="14.5" text-anchor="middle" stroke="#000">1. Intracellular</text>
<text x="1708.0" y="108.5" font-size="14.5" text-anchor="middle" stroke="#000">glucose concentration</text>
<text x="1708.0" y="152.0" font-size="14.5" text-anchor="middle" stroke="#000">2. Extracellular</text>
<text x="1708.0" y="170.2" font-size="14.5" text-anchor="middle" stroke="#000">Glucose concentration</text>
<text x="1708.0" y="188.5" font-size="14.5" text-anchor="middle" stroke="#000">in Blood and LNs</text>
<path d="M1671.6,204.0 Q1675.7,211.4 1681.4,218.1 A12.0,12.0 0 1 1 1661.8,218.1 Q1667.5,211.4 1671.6,204.0Z" fill="#ff0000"/>
<use href="#ln" transform="translate(1739.7,199.3) scale(0.3800,0.3740)" stroke-width="2.63"/>
<text transform="translate(4.9,388.8) scale(1.126,1)" x="0" y="0" font-size="43.5" font-family="'DejaVu Sans', 'Liberation Sans', sans-serif" stroke="#000" stroke-width="0.5">B</text>
<text x="24.0" y="518.0" font-size="23.5" text-anchor="middle" stroke="#000" font-weight="bold" transform="rotate(-90 24.0 518.0)">CD8 E/EM</text>
<text x="24.0" y="761.5" font-size="23.5" text-anchor="middle" stroke="#000" font-weight="bold" transform="rotate(-90 24.0 761.5)">CD8 Naive</text>
<text x="83.1" y="416.0" font-size="12.9" stroke="#000">Lin<tspan dy="-5" font-size="7.5">-</tspan><tspan dy="5" font-size="1">&#8203;</tspan>TCRb<tspan dy="-5" font-size="7.5">+</tspan><tspan dy="5" font-size="1">&#8203;</tspan>CD8<tspan dy="-5" font-size="7.5">+</tspan><tspan dy="5" font-size="1">&#8203;</tspan>CD44<tspan dy="-5" font-size="7.5">+</tspan><tspan dy="5" font-size="1">&#8203;</tspan>CD62L<tspan dy="-5" font-size="7.5">-</tspan><tspan dy="5" font-size="1">&#8203;</tspan></text>
<path d="M84.6,421.0V587.0H246.6" fill="none" stroke="#444" stroke-width="0.8"/>
<path d="M84.6,454.5h-4M84.6,498.5h-4M84.6,542.5h-4M84.6,586.5h-4M84.6,443.5h-2M84.6,432.5h-2M84.6,421.5h-2M84.6,465.5h-2M84.6,476.5h-2M84.6,487.5h-2M84.6,509.5h-2M84.6,520.5h-2M84.6,531.5h-2M84.6,553.5h-2M84.6,564.5h-2M84.6,575.5h-2" stroke="#000" stroke-width="0.8" fill="none"/>
<path d="M90.6,587.0v4M121.6,587.0v4M141.6,587.0v4M161.6,587.0v4M191.6,587.0v4M216.6,587.0v4M240.6,587.0v4M89.6,587.0v2M95.1,587.0v2M98.1,587.0v1.5M103.6,587.0v2.5M106.6,587.0v1.5M112.1,587.0v2M115.1,587.0v1.5M117.3,587.0v2.5M122.8,587.0v2M125.8,587.0v2.5M128.0,587.0v2.5M130.2,587.0v1.5M132.4,587.0v1.5M135.4,587.0v2.5M137.6,587.0v2M141.6,587.0v2M144.6,587.0v2.5M147.6,587.0v2.5M151.6,587.0v2M153.8,587.0v2.5M156.0,587.0v2M160.0,587.0v2M162.2,587.0v2.5M166.2,587.0v2M169.2,587.0v2.5M173.2,587.0v1.5M175.4,587.0v2.5M177.6,587.0v2M179.8,587.0v2M185.3,587.0v1.5M187.5,587.0v2.5M189.7,587.0v1.5M192.7,587.0v1.5M198.2,587.0v2M203.7,587.0v2M205.9,587.0v2.5M208.9,587.0v2.5M212.9,587.0v2M215.1,587.0v2M219.1,587.0v1.5M224.6,587.0v1.5M227.6,587.0v1.5M229.8,587.0v1.5M232.0,587.0v2M237.5,587.0v1.5M240.5,587.0v2" stroke="#000" stroke-width="0.8" fill="none"/>
<text x="78.1" y="456.3" font-size="5.2" text-anchor="end" fill="#333" stroke="#333">600K</text>
<text x="78.1" y="500.3" font-size="5.2" text-anchor="end" fill="#333" stroke="#333">400K</text>
<text x="78.1" y="544.3" font-size="5.2" text-anchor="end" fill="#333" stroke="#333">200K</text>
<text x="78.1" y="588.3" font-size="5.2" text-anchor="end" fill="#333" stroke="#333">0</text>
<text x="96.0" y="601.5" font-size="5.5" text-anchor="middle" fill="#222" stroke="#222">-10<tspan dy="-2.475" font-size="4.125">3</tspan><tspan dy="2.475" font-size="1">&#8203;</tspan></text>
<text x="143.9" y="601.5" font-size="5.5" text-anchor="middle" fill="#222" stroke="#222">0</text>
<text x="196.6" y="601.5" font-size="5.5" text-anchor="middle" fill="#222" stroke="#222">10<tspan dy="-2.475" font-size="4.125">5</tspan><tspan dy="2.475" font-size="1">&#8203;</tspan></text>
<text x="241.2" y="601.5" font-size="5.5" text-anchor="middle" fill="#222" stroke="#222">10<tspan dy="-2.475" font-size="4.125">7</tspan><tspan dy="2.475" font-size="1">&#8203;</tspan></text>
<path d="M146.3,520.3h0.9M137.1,527.0h0.9M131.6,541.6h0.9M147.4,522.1h0.9M145.0,519.8h0.9M140.9,522.0h0.9M136.4,513.8h0.9M142.2,523.5h0.9M139.7,522.5h0.9M135.0,509.4h0.9M139.1,524.7h0.9M141.5,536.4h0.9M143.6,523.0h0.9M138.8,518.2h0.9M134.4,511.7h0.9M142.5,529.8h0.9M138.0,515.5h0.9M140.9,536.3h0.9M139.9,515.9h0.9M137.0,512.3h0.9M138.8,512.4h0.9M138.8,522.5h0.9M141.9,523.5h0.9M137.4,521.4h0.9M140.0,511.6h0.9M133.3,532.9h0.9M135.8,522.7h0.9M149.1,509.6h0.9M143.1,530.6h0.9M137.4,510.1h0.9M142.4,525.3h0.9M145.4,513.1h0.9M143.6,526.6h0.9M140.2,525.2h0.9M139.3,534.7h0.9M141.8,521.2h0.9M142.7,530.8h0.9M137.4,536.9h0.9M131.6,518.5h0.9M133.3,509.3h0.9M136.9,523.6h0.9M139.8,524.5h0.9M139.0,519.6h0.9M143.0,525.7h0.9M141.1,525.1h0.9M136.9,524.9h0.9M148.3,528.8h0.9M140.0,516.5h0.9M143.4,519.8h0.9M143.7,528.0h0.9M146.5,531.7h0.9M141.0,521.1h0.9M139.6,522.0h0.9M138.4,513.3h0.9M141.6,522.3h0.9M141.7,524.8h0.9M140.0,532.9h0.9M136.1,543.5h0.9M138.8,511.1h0.9M135.8,525.1h0.9M135.9,520.5h0.9M139.6,526.2h0.9M149.2,525.7h0.9M145.0,533.9h0.9M138.0,511.8h0.9M142.9,515.9h0.9M143.3,533.3h0.9M134.2,520.0h0.9M135.6,542.3h0.9M137.5,522.1h0.9M137.9,526.5h0.9M135.9,507.9h0.9M140.3,515.0h0.9M140.8,529.2h0.9M142.4,518.6h0.9M142.4,529.3h0.9M141.0,520.2h0.9M149.5,533.5h0.9M141.0,517.4h0.9M132.1,526.3h0.9M141.9,513.0h0.9M134.9,520.0h0.9M138.7,502.3h0.9M138.0,515.5h0.9M141.6,514.5h0.9M136.0,512.1h0.9M139.5,531.6h0.9M137.5,511.1h0.9M137.9,513.7h0.9M142.5,538.7h0.9M139.6,540.2h0.9M143.2,493.1h0.9M141.5,525.3h0.9M135.2,518.7h0.9M139.2,525.1h0.9M142.4,540.5h0.9M140.0,538.6h0.9M140.3,509.0h0.9M142.7,523.7h0.9M141.0,509.1h0.9M144.2,517.9h0.9M142.3,521.9h0.9M143.4,508.7h0.9M140.8,532.7h0.9M143.0,515.5h0.9M137.9,524.1h0.9M140.5,521.2h0.9M135.2,517.3h0.9M133.5,521.7h0.9M138.4,529.8h0.9M141.8,521.5h0.9M144.5,508.0h0.9M141.8,519.5h0.9M140.4,532.4h0.9M142.8,526.7h0.9M148.5,518.5h0.9M139.8,538.7h0.9M144.4,523.2h0.9M143.4,524.2h0.9M137.7,526.0h0.9M142.4,518.4h0.9M142.8,513.8h0.9M144.5,524.8h0.9M137.1,500.5h0.9M125.5,530.0h0.9M143.7,514.6h0.9M138.5,511.8h0.9M143.7,512.5h0.9M137.9,505.6h0.9M135.9,527.0h0.9M142.5,510.2h0.9M142.4,532.8h0.9M142.5,517.5h0.9M135.9,499.0h0.9M143.6,511.5h0.9M139.5,527.5h0.9M137.4,519.7h0.9M136.5,522.2h0.9M140.5,522.7h0.9M137.0,531.1h0.9M147.9,528.4h0.9M129.8,513.4h0.9M141.3,525.2h0.9M144.4,543.0h0.9M132.4,528.0h0.9M141.3,511.8h0.9M140.3,534.2h0.9M136.1,541.1h0.9M147.6,512.7h0.9M138.5,521.2h0.9M139.4,523.2h0.9M139.8,538.3h0.9M141.2,521.6h0.9M140.5,523.3h0.9M139.0,538.5h0.9M140.3,534.3h0.9M135.4,522.0h0.9M143.2,510.2h0.9M139.1,506.0h0.9M140.8,520.4h0.9M135.7,507.5h0.9M136.9,513.3h0.9M143.1,512.2h0.9M140.7,529.2h0.9M135.6,518.3h0.9M145.4,539.6h0.9M137.9,515.0h0.9M142.3,535.0h0.9M142.0,517.6h0.9M140.6,515.2h0.9M146.4,534.6h0.9M141.2,525.3h0.9M137.3,529.3h0.9M144.4,517.3h0.9M139.5,515.3h0.9M135.7,508.5h0.9M144.1,529.7h0.9M136.0,537.2h0.9M136.6,534.5h0.9M138.0,514.8h0.9M147.0,521.8h0.9M141.5,510.6h0.9M146.2,524.7h0.9M134.3,507.1h0.9M137.9,522.8h0.9M141.9,526.3h0.9M141.8,529.2h0.9M138.0,509.8h0.9M143.8,533.9h0.9M141.6,524.2h0.9M137.3,529.0h0.9M138.7,527.7h0.9M136.6,532.6h0.9M142.5,523.8h0.9M137.4,527.4h0.9M134.6,539.3h0.9M138.9,519.1h0.9M141.0,513.0h0.9M146.2,532.2h0.9M145.8,505.8h0.9M144.5,516.9h0.9M141.9,535.0h0.9M136.9,537.0h0.9M139.9,527.1h0.9M140.1,515.8h0.9M142.0,519.7h0.9M138.0,533.5h0.9M137.6,530.1h0.9M141.2,528.5h0.9M142.8,539.2h0.9M139.7,526.6h0.9M148.6,501.3h0.9M141.1,520.1h0.9M138.9,548.5h0.9M139.4,529.0h0.9M138.3,525.7h0.9M144.0,527.9h0.9M137.7,522.1h0.9M142.8,529.2h0.9M138.6,519.6h0.9M142.3,526.9h0.9M136.2,526.3h0.9M140.6,506.9h0.9M143.0,522.5h0.9M139.7,531.5h0.9M136.6,519.3h0.9M133.3,519.4h0.9M143.4,528.7h0.9M137.4,511.5h0.9M135.8,499.2h0.9M133.8,538.2h0.9M133.0,540.3h0.9M143.0,511.7h0.9M137.1,515.7h0.9M137.3,522.3h0.9M137.7,527.4h0.9M136.1,519.7h0.9M139.2,546.0h0.9M137.1,507.1h0.9M146.3,525.0h0.9M135.8,514.4h0.9M135.6,530.6h0.9M143.2,525.0h0.9M136.4,530.3h0.9M139.7,512.9h0.9M141.0,514.9h0.9M139.7,514.2h0.9M140.2,518.8h0.9M145.5,533.1h0.9M141.9,518.8h0.9M142.8,520.0h0.9M139.9,518.7h0.9M138.6,524.6h0.9M142.4,514.4h0.9M142.1,530.2h0.9M142.6,530.4h0.9M136.1,513.1h0.9M138.8,512.9h0.9M139.9,502.7h0.9M142.1,528.6h0.9M143.0,530.7h0.9M137.1,521.8h0.9M133.2,521.1h0.9M139.4,536.2h0.9M139.3,505.9h0.9M141.3,529.9h0.9M140.8,547.8h0.9M135.0,521.8h0.9M142.0,537.0h0.9M139.9,521.0h0.9M140.1,524.4h0.9M142.7,523.8h0.9M139.1,539.4h0.9M142.0,518.8h0.9M136.9,523.0h0.9M138.0,532.4h0.9M145.1,537.8h0.9M141.5,511.2h0.9M143.2,504.0h0.9M140.7,510.7h0.9M140.1,511.6h0.9M141.4,526.9h0.9M142.7,509.9h0.9M138.7,539.1h0.9M141.3,516.1h0.9M137.5,510.6h0.9M137.1,524.2h0.9M136.5,519.0h0.9M134.2,514.0h0.9M133.7,526.4h0.9M143.3,522.5h0.9M144.3,514.4h0.9M138.8,510.5h0.9M140.5,512.7h0.9M142.1,517.0h0.9M138.4,514.2h0.9M142.8,516.9h0.9M135.7,527.1h0.9M144.7,512.8h0.9M139.4,534.7h0.9M144.2,521.4h0.9M141.9,549.1h0.9M139.7,509.4h0.9M146.0,532.0h0.9M145.6,524.4h0.9M134.7,512.5h0.9M140.0,512.0h0.9M138.6,525.9h0.9M138.3,518.4h0.9M143.5,528.2h0.9M144.2,506.8h0.9M140.4,525.6h0.9M141.8,529.4h0.9M147.0,524.8h0.9M136.0,528.5h0.9M138.7,534.4h0.9M138.7,529.2h0.9M142.7,527.6h0.9M145.4,524.5h0.9M145.6,533.1h0.9M135.2,529.8h0.9M132.4,523.6h0.9M138.1,531.9h0.9M136.3,537.4h0.9M139.2,526.9h0.9M133.7,523.4h0.9M144.7,528.4h0.9M146.0,527.1h0.9M143.5,521.1h0.9M143.7,522.2h0.9M143.6,528.2h0.9M139.4,521.4h0.9M139.9,523.1h0.9M146.5,537.2h0.9M142.5,518.0h0.9M142.9,534.7h0.9M138.9,513.5h0.9M136.8,530.3h0.9M139.1,543.6h0.9M134.5,525.0h0.9M139.5,527.8h0.9M147.2,510.8h0.9M140.2,520.0h0.9M133.8,524.2h0.9M139.3,528.4h0.9M137.2,532.8h0.9M136.9,515.0h0.9M136.3,521.4h0.9M143.1,515.4h0.9M147.4,508.8h0.9M134.2,504.1h0.9M133.5,515.6h0.9M136.6,523.0h0.9M145.3,517.8h0.9M140.4,517.4h0.9M142.6,513.9h0.9M140.6,527.5h0.9M143.1,494.6h0.9M141.9,504.6h0.9M140.5,518.5h0.9M147.0,511.8h0.9M145.7,505.8h0.9M137.6,524.4h0.9M133.7,532.1h0.9M134.9,531.1h0.9M145.0,540.1h0.9M140.9,516.8h0.9M139.9,507.4h0.9M139.0,521.7h0.9M138.2,519.1h0.9M142.5,544.4h0.9M141.3,526.4h0.9M137.2,533.6h0.9M132.8,518.1h0.9M139.7,517.9h0.9M140.2,508.9h0.9M139.5,521.9h0.9M141.1,528.4h0.9M137.6,505.3h0.9M139.3,523.1h0.9M136.6,528.4h0.9M149.0,513.1h0.9M138.7,531.8h0.9M128.6,509.5h0.9M139.5,518.6h0.9M142.0,524.6h0.9M137.5,508.3h0.9M140.1,503.6h0.9M143.0,529.9h0.9M143.9,509.5h0.9M137.2,523.4h0.9M144.9,533.8h0.9M144.5,506.1h0.9M138.7,499.8h0.9M143.1,534.1h0.9M145.7,515.3h0.9M146.0,517.0h0.9M138.8,520.5h0.9M141.5,531.5h0.9M142.6,527.7h0.9M139.6,533.7h0.9M137.7,513.2h0.9M139.0,525.3h0.9M138.8,518.1h0.9M138.7,517.2h0.9M140.5,524.7h0.9M134.7,525.8h0.9M140.9,523.6h0.9M144.0,521.1h0.9M140.6,512.5h0.9M143.9,500.5h0.9M141.8,527.5h0.9M143.5,534.9h0.9M132.1,524.6h0.9M136.0,510.2h0.9M137.8,516.0h0.9M140.9,514.4h0.9M144.6,520.8h0.9" stroke="#ff0000" stroke-width="0.9" fill="none" opacity="1"/>
<path d="M141.1,490.8h0.8M140.1,494.1h0.8M139.3,482.9h0.8M140.0,491.5h0.8M145.0,493.6h0.8M141.1,496.2h0.8M140.5,491.3h0.8M138.5,478.0h0.8M139.4,482.3h0.8M151.0,471.9h0.8M140.6,484.1h0.8M138.4,471.9h0.8M143.4,492.8h0.8M138.9,489.0h0.8M146.3,495.0h0.8M136.6,489.3h0.8M141.5,496.7h0.8M140.2,484.1h0.8M142.8,482.2h0.8M140.3,489.4h0.8M141.4,484.7h0.8M140.1,477.1h0.8M141.3,476.5h0.8M143.2,495.5h0.8M142.4,475.8h0.8M136.9,494.0h0.8M151.2,470.9h0.8M144.5,496.5h0.8M145.0,469.0h0.8M138.0,476.5h0.8M141.3,479.7h0.8M140.5,486.2h0.8M139.7,484.2h0.8M138.9,489.5h0.8M142.7,490.0h0.8M142.1,483.8h0.8M142.2,470.9h0.8M141.9,476.1h0.8M139.8,485.1h0.8M144.5,479.0h0.8M139.2,489.0h0.8" stroke="#ff0000" stroke-width="0.8" fill="none" opacity="1"/>
<ellipse cx="140.2" cy="512.0" rx="3.6" ry="4.0" fill="none" stroke="#ff0000" stroke-width="0.5"/>
<ellipse cx="140.2" cy="512.0" rx="2.1" ry="2.3" fill="none" stroke="#ff0000" stroke-width="0.5"/>
<ellipse cx="140.2" cy="512.0" rx="0.5" ry="0.6" fill="none" stroke="#ff0000" stroke-width="0.5"/>
<ellipse cx="140.7" cy="536.0" rx="5.5" ry="4.5" fill="none" stroke="#ff0000" stroke-width="0.5"/>
<ellipse cx="140.7" cy="536.0" rx="3.9" ry="3.2" fill="none" stroke="#ff0000" stroke-width="0.5"/>
<ellipse cx="140.7" cy="536.0" rx="2.4" ry="2.0" fill="none" stroke="#ff0000" stroke-width="0.5"/>
<ellipse cx="140.7" cy="536.0" rx="0.8" ry="0.7" fill="none" stroke="#ff0000" stroke-width="0.5"/>
<ellipse cx="140.2" cy="523.0" rx="4.5" ry="9.0" fill="none" stroke="#ff0000" stroke-width="0.5"/>
<ellipse cx="140.2" cy="523.0" rx="2.6" ry="5.2" fill="none" stroke="#ff0000" stroke-width="0.5"/>
<ellipse cx="140.2" cy="523.0" rx="0.7" ry="1.4" fill="none" stroke="#ff0000" stroke-width="0.5"/>
<path d="M195.5,533.5h0.9M189.9,545.2h0.9M193.7,544.6h0.9M196.9,544.5h0.9M179.9,538.3h0.9M171.3,542.4h0.9M196.0,541.2h0.9M182.7,549.0h0.9M181.1,539.5h0.9M195.3,550.1h0.9M195.2,543.3h0.9M177.4,551.7h0.9M195.0,548.0h0.9M173.6,542.1h0.9M196.1,536.7h0.9M196.9,541.2h0.9M195.2,550.3h0.9M195.0,543.0h0.9M180.9,537.4h0.9M175.2,541.3h0.9M188.8,541.0h0.9M172.6,544.1h0.9M185.1,549.4h0.9M186.7,549.8h0.9M183.3,540.9h0.9M171.3,550.0h0.9M175.4,538.4h0.9M185.5,544.8h0.9M174.6,541.8h0.9M179.2,540.0h0.9M183.3,541.4h0.9M174.6,546.7h0.9M192.3,544.5h0.9M176.3,533.9h0.9M194.7,542.4h0.9M179.4,541.5h0.9M194.7,543.7h0.9M188.4,542.5h0.9M190.1,537.8h0.9M177.2,541.0h0.9M197.2,549.4h0.9M179.2,542.0h0.9M193.5,546.5h0.9M182.4,542.1h0.9M195.2,537.3h0.9" stroke="#ff0000" stroke-width="0.9" fill="none" opacity="1"/>
<path d="M166.2,550.3h0.8M158.9,547.9h0.8M153.0,549.5h0.8M164.4,545.6h0.8M160.6,549.2h0.8M156.5,545.5h0.8M161.1,549.6h0.8M152.9,540.5h0.8" stroke="#ff0000" stroke-width="0.8" fill="none" opacity="1"/>
<path d="M187.6,498.0h0.8M187.1,518.0h0.8" stroke="#ff0000" stroke-width="0.8" fill="none" opacity="1"/>
<rect x="166.1" y="461.0" width="49.7" height="108.0" fill="none" stroke="#8a1cf5" stroke-width="1.3"/>
<text x="174.4" y="455.5" font-size="15" stroke="#000"><tspan fill="#8a1cf5" stroke="#8a1cf5">Glut1</tspan><tspan dy="-6" font-size="9" fill="#8a1cf5" stroke="#8a1cf5">+</tspan><tspan dy="6" font-size="1">&#8203;</tspan></text>
<text x="213.2" y="474.2" font-size="11" text-anchor="end" fill="#8a1cf5" stroke="#8a1cf5" font-weight="bold">1,73%</text>
<text x="90.8" y="440.7" font-size="17.7" fill="#ff0000" stroke="#ff0000">Blood</text>
<line x1="60.6" y1="605.3" x2="60.6" y2="424.8" stroke="#000" stroke-width="2.2"/>
<polygon points="60.6,413.8 67.1,428.8 60.6,424.8 54.1,428.8" fill="#000"/>
<line x1="59.6" y1="605.3" x2="253.0" y2="605.3" stroke="#000" stroke-width="2.2"/>
<polygon points="263.0,605.3 249.0,611.8 253.0,605.3 249.0,598.8" fill="#000"/>
<text x="51.0" y="507.5" font-size="16.5" text-anchor="middle" stroke="#000" transform="rotate(-90 51.0 507.5)">FSC</text>
<text x="162.6" y="622.3" font-size="16.2" text-anchor="middle" stroke="#000">Glut1</text>
<text x="329.1" y="416.0" font-size="12.9" stroke="#000">Lin<tspan dy="-5" font-size="7.5">-</tspan><tspan dy="5" font-size="1">&#8203;</tspan>TCRb<tspan dy="-5" font-size="7.5">+</tspan><tspan dy="5" font-size="1">&#8203;</tspan>CD8<tspan dy="-5" font-size="7.5">+</tspan><tspan dy="5" font-size="1">&#8203;</tspan>CD44<tspan dy="-5" font-size="7.5">+</tspan><tspan dy="5" font-size="1">&#8203;</tspan>CD62L<tspan dy="-5" font-size="7.5">-</tspan><tspan dy="5" font-size="1">&#8203;</tspan></text>
<rect x="325.8" y="421.5" width="165.6" height="165.5" fill="none" stroke="#8a8a8a" stroke-width="0.9"/>
<path d="M325.8,421.5V587.0" fill="none" stroke="#333" stroke-width="0.8"/>
<path d="M325.8,454.5h-4M325.8,498.5h-4M325.8,542.5h-4M325.8,586.5h-4M325.8,443.5h-2M325.8,432.5h-2M325.8,465.5h-2M325.8,476.5h-2M325.8,487.5h-2M325.8,509.5h-2M325.8,520.5h-2M325.8,531.5h-2M325.8,553.5h-2M325.8,564.5h-2M325.8,575.5h-2" stroke="#000" stroke-width="0.8" fill="none"/>
<path d="M331.8,587.0v4M362.8,587.0v4M382.8,587.0v4M402.8,587.0v4M432.8,587.0v4M457.8,587.0v4M481.8,587.0v4M330.8,587.0v1.5M333.8,587.0v2M336.8,587.0v2.5M339.0,587.0v2M341.2,587.0v2M343.4,587.0v2.5M345.6,587.0v1.5M349.6,587.0v2.5M353.6,587.0v2M355.8,587.0v1.5M359.8,587.0v1.5M362.8,587.0v1.5M366.8,587.0v2.5M369.0,587.0v1.5M372.0,587.0v1.5M377.5,587.0v2.5M383.0,587.0v1.5M388.5,587.0v1.5M391.5,587.0v1.5M395.5,587.0v2M401.0,587.0v1.5M405.0,587.0v2.5M408.0,587.0v2.5M411.0,587.0v1.5M416.5,587.0v1.5M422.0,587.0v2.5M426.0,587.0v2.5M429.0,587.0v2M434.5,587.0v2.5M437.5,587.0v2.5M443.0,587.0v2M445.2,587.0v1.5M447.4,587.0v2.5M452.9,587.0v1.5M456.9,587.0v1.5M459.1,587.0v2.5M464.6,587.0v2M470.1,587.0v2.5M474.1,587.0v1.5M476.3,587.0v1.5M479.3,587.0v2.5M482.3,587.0v2.5M485.3,587.0v1.5" stroke="#000" stroke-width="0.8" fill="none"/>
<text x="319.3" y="456.3" font-size="5.2" text-anchor="end" fill="#333" stroke="#333">600K</text>
<text x="319.3" y="500.3" font-size="5.2" text-anchor="end" fill="#333" stroke="#333">400K</text>
<text x="319.3" y="544.3" font-size="5.2" text-anchor="end" fill="#333" stroke="#333">200K</text>
<text x="319.3" y="588.3" font-size="5.2" text-anchor="end" fill="#333" stroke="#333">0</text>
<text x="337.2" y="601.5" font-size="5.5" text-anchor="middle" fill="#222" stroke="#222">-10<tspan dy="-2.475" font-size="4.125">3</tspan><tspan dy="2.475" font-size="1">&#8203;</tspan></text>
<text x="385.1" y="601.5" font-size="5.5" text-anchor="middle" fill="#222" stroke="#222">0</text>
<text x="437.8" y="601.5" font-size="5.5" text-anchor="middle" fill="#222" stroke="#222">10<tspan dy="-2.475" font-size="4.125">5</tspan><tspan dy="2.475" font-size="1">&#8203;</tspan></text>
<text x="482.4" y="601.5" font-size="5.5" text-anchor="middle" fill="#222" stroke="#222">10<tspan dy="-2.475" font-size="4.125">7</tspan><tspan dy="2.475" font-size="1">&#8203;</tspan></text>
<ellipse cx="386.0" cy="523.5" rx="15.3" ry="29.0" fill="none" stroke="#444" stroke-width="0.55" transform="rotate(5 386.0 523.5)"/>
<ellipse cx="386.0" cy="524.0" rx="13.5" ry="25.7" fill="none" stroke="#444" stroke-width="0.55" transform="rotate(5 386.0 523.5)"/>
<ellipse cx="386.0" cy="524.5" rx="11.8" ry="22.3" fill="none" stroke="#444" stroke-width="0.55" transform="rotate(5 386.0 523.5)"/>
<ellipse cx="386.0" cy="525.0" rx="10.0" ry="19.0" fill="none" stroke="#444" stroke-width="0.55" transform="rotate(5 386.0 523.5)"/>
<ellipse cx="386.0" cy="525.5" rx="8.3" ry="15.7" fill="none" stroke="#444" stroke-width="0.55" transform="rotate(5 386.0 523.5)"/>
<ellipse cx="386.0" cy="526.0" rx="6.5" ry="12.3" fill="none" stroke="#444" stroke-width="0.55" transform="rotate(5 386.0 523.5)"/>
<ellipse cx="386.0" cy="526.5" rx="4.7" ry="9.0" fill="none" stroke="#444" stroke-width="0.55" transform="rotate(5 386.0 523.5)"/>
<ellipse cx="379.0" cy="523.5" rx="1.2" ry="6.0" fill="none" stroke="#777" stroke-width="1.2"/>
<ellipse cx="389.5" cy="523.5" rx="1.2" ry="6.0" fill="none" stroke="#777" stroke-width="1.0"/>
<ellipse cx="428.2" cy="543.8" rx="13.8" ry="12.5" fill="none" stroke="#444" stroke-width="0.55"/>
<ellipse cx="428.2" cy="543.8" rx="11.5" ry="10.4" fill="none" stroke="#444" stroke-width="0.55"/>
<ellipse cx="428.2" cy="543.8" rx="9.1" ry="8.2" fill="none" stroke="#444" stroke-width="0.55"/>
<ellipse cx="428.2" cy="543.8" rx="6.8" ry="6.1" fill="none" stroke="#444" stroke-width="0.55"/>
<ellipse cx="428.2" cy="543.8" rx="4.4" ry="4.0" fill="none" stroke="#444" stroke-width="0.55"/>
<path d="M384.7,470.2h0.9M396.4,507.5h0.9M370.2,500.9h0.9M367.9,468.9h0.9M388.2,477.5h0.9M387.2,495.2h0.9M402.1,481.9h0.9M374.4,480.0h0.9M390.9,467.7h0.9M391.8,482.1h0.9M359.1,515.9h0.9M402.5,487.2h0.9M384.2,494.3h0.9M373.4,496.5h0.9M387.9,476.5h0.9M395.9,514.3h0.9M396.3,453.5h0.9M392.9,521.7h0.9M384.8,484.9h0.9M355.9,483.5h0.9M381.5,521.0h0.9M404.0,488.3h0.9M390.5,497.2h0.9M398.2,533.5h0.9M379.0,497.1h0.9M395.0,444.9h0.9M368.2,493.2h0.9M372.5,526.8h0.9M374.9,505.0h0.9M384.6,521.9h0.9M366.4,499.0h0.9M399.4,512.9h0.9M391.8,495.7h0.9M409.3,501.9h0.9M375.1,475.4h0.9M397.5,496.2h0.9M374.5,469.8h0.9M389.0,503.7h0.9M400.6,476.8h0.9M384.9,508.9h0.9M390.8,518.8h0.9M382.7,465.6h0.9M385.7,471.8h0.9M386.8,487.6h0.9M381.2,499.9h0.9" stroke="#222" stroke-width="0.9" fill="none" opacity="1"/>
<path d="M430.3,505.2h0.9M407.2,519.7h0.9M434.6,515.4h0.9M427.5,472.7h0.9M435.1,498.7h0.9M434.1,531.5h0.9M415.5,501.2h0.9M443.3,497.1h0.9M428.4,499.6h0.9M427.3,515.3h0.9M439.7,479.5h0.9M430.3,484.9h0.9M426.2,501.4h0.9M439.9,480.5h0.9M445.1,522.5h0.9M415.0,499.7h0.9M429.8,491.4h0.9M426.6,525.4h0.9M434.7,501.6h0.9M423.6,529.2h0.9M411.6,507.0h0.9M428.0,512.4h0.9M408.1,506.0h0.9M424.0,525.4h0.9M415.6,503.8h0.9M432.7,513.0h0.9M416.3,513.2h0.9M418.7,513.1h0.9M422.0,486.8h0.9M428.4,524.8h0.9M423.7,505.9h0.9M419.7,522.0h0.9M424.2,512.1h0.9M416.7,504.3h0.9M413.7,508.0h0.9M414.9,508.3h0.9M451.3,494.1h0.9M452.6,518.3h0.9M424.3,547.2h0.9M413.6,507.3h0.9M439.4,519.7h0.9M419.5,502.0h0.9M429.2,501.4h0.9M438.2,499.2h0.9M448.9,531.8h0.9M416.6,496.3h0.9M435.1,514.0h0.9M426.0,506.3h0.9M419.7,515.6h0.9M429.5,483.4h0.9M423.4,516.9h0.9M429.6,488.7h0.9" stroke="#222" stroke-width="0.9" fill="none" opacity="1"/>
<path d="M410.8,543.8h1.0M409.0,541.0h1.0M404.1,537.0h1.0M414.4,536.8h1.0M409.9,534.2h1.0M407.8,537.8h1.0M412.6,524.4h1.0M408.6,538.5h1.0M409.8,526.8h1.0M407.5,538.2h1.0M408.2,543.5h1.0M402.4,534.1h1.0M403.1,537.8h1.0M411.7,548.8h1.0M410.7,539.6h1.0M413.7,540.2h1.0M412.0,540.9h1.0M412.9,534.0h1.0M403.1,536.3h1.0M413.8,532.0h1.0M414.2,529.4h1.0M409.9,531.9h1.0M414.6,546.5h1.0M406.6,551.0h1.0M401.4,543.2h1.0" stroke="#111" stroke-width="1.0" fill="none" opacity="1"/>
<rect x="406.1" y="461.0" width="49.7" height="108.0" fill="none" stroke="#8a1cf5" stroke-width="1.3"/>
<text x="411.2" y="455.5" font-size="15" stroke="#000"><tspan fill="#8a1cf5" stroke="#8a1cf5">Glut1</tspan><tspan dy="-6" font-size="9" fill="#8a1cf5" stroke="#8a1cf5">+</tspan><tspan dy="6" font-size="1">&#8203;</tspan></text>
<text x="455.6" y="472.0" font-size="11" text-anchor="end" fill="#8a1cf5" stroke="#8a1cf5" font-weight="bold">26,4%</text>
<text x="337.3" y="440.7" font-size="19.5" stroke="#000">LNs</text>
<line x1="300.3" y1="606.7" x2="300.3" y2="424.8" stroke="#000" stroke-width="2.2"/>
<polygon points="300.3,413.8 306.8,428.8 300.3,424.8 293.8,428.8" fill="#000"/>
<line x1="299.3" y1="606.7" x2="494.5" y2="606.7" stroke="#000" stroke-width="2.2"/>
<polygon points="504.5,606.7 490.5,613.2 494.5,606.7 490.5,600.2" fill="#000"/>
<text x="293.0" y="507.5" font-size="16.5" text-anchor="middle" stroke="#000" transform="rotate(-90 293.0 507.5)">FSC</text>
<text x="406.8" y="622.3" font-size="16.2" text-anchor="middle" stroke="#000">Glut1</text>
<text x="82.1" y="654.0" font-size="12.9" stroke="#000">Lin<tspan dy="-5" font-size="7.5">-</tspan><tspan dy="5" font-size="1">&#8203;</tspan>TCRb<tspan dy="-5" font-size="7.5">+</tspan><tspan dy="5" font-size="1">&#8203;</tspan>CD8<tspan dy="-5" font-size="7.5">+</tspan><tspan dy="5" font-size="1">&#8203;</tspan>CD44<tspan dy="-5" font-size="7.5">-</tspan><tspan dy="5" font-size="1">&#8203;</tspan> CD62L<tspan dy="-5" font-size="7.5">+</tspan><tspan dy="5" font-size="1">&#8203;</tspan></text>
<rect x="83.6" y="659.5" width="163.9" height="164.7" fill="none" stroke="#d4d4d4" stroke-width="0.9"/>
<path d="M83.6,659.5V824.2" fill="none" stroke="#333" stroke-width="0.8"/>
<path d="M83.6,692.5h-4M83.6,736.5h-4M83.6,780.5h-4M83.6,824.5h-4M83.6,681.5h-2M83.6,670.5h-2M83.6,703.5h-2M83.6,714.5h-2M83.6,725.5h-2M83.6,747.5h-2M83.6,758.5h-2M83.6,769.5h-2M83.6,791.5h-2M83.6,802.5h-2M83.6,813.5h-2" stroke="#000" stroke-width="0.8" fill="none"/>
<path d="M89.6,824.2v4M120.6,824.2v4M140.6,824.2v4M160.6,824.2v4M190.6,824.2v4M215.6,824.2v4M239.6,824.2v4M88.6,824.2v2M90.8,824.2v2M96.3,824.2v1.5M99.3,824.2v2.5M104.8,824.2v2M107.0,824.2v2M111.0,824.2v2M116.5,824.2v2M120.5,824.2v2M124.5,824.2v1.5M128.5,824.2v1.5M131.5,824.2v2.5M137.0,824.2v2.5M140.0,824.2v2.5M144.0,824.2v1.5M147.0,824.2v1.5M152.5,824.2v2.5M156.5,824.2v1.5M159.5,824.2v1.5M165.0,824.2v2.5M168.0,824.2v2M172.0,824.2v2M176.0,824.2v2.5M181.5,824.2v2M184.5,824.2v1.5M187.5,824.2v2.5M189.7,824.2v1.5M192.7,824.2v2M196.7,824.2v2.5M198.9,824.2v2M202.9,824.2v1.5M208.4,824.2v1.5M212.4,824.2v1.5M216.4,824.2v2M220.4,824.2v1.5M225.9,824.2v2.5M231.4,824.2v1.5M236.9,824.2v2.5M239.9,824.2v2.5" stroke="#000" stroke-width="0.8" fill="none"/>
<text x="77.1" y="694.3" font-size="5.2" text-anchor="end" fill="#333" stroke="#333">600K</text>
<text x="77.1" y="738.3" font-size="5.2" text-anchor="end" fill="#333" stroke="#333">400K</text>
<text x="77.1" y="782.3" font-size="5.2" text-anchor="end" fill="#333" stroke="#333">200K</text>
<text x="77.1" y="826.3" font-size="5.2" text-anchor="end" fill="#333" stroke="#333">0</text>
<text x="95.0" y="839.5" font-size="5.5" text-anchor="middle" fill="#222" stroke="#222">-10<tspan dy="-2.475" font-size="4.125">3</tspan><tspan dy="2.475" font-size="1">&#8203;</tspan></text>
<text x="142.9" y="839.5" font-size="5.5" text-anchor="middle" fill="#222" stroke="#222">0</text>
<text x="195.6" y="839.5" font-size="5.5" text-anchor="middle" fill="#222" stroke="#222">10<tspan dy="-2.475" font-size="4.125">5</tspan><tspan dy="2.475" font-size="1">&#8203;</tspan></text>
<text x="240.2" y="839.5" font-size="5.5" text-anchor="middle" fill="#222" stroke="#222">10<tspan dy="-2.475" font-size="4.125">7</tspan><tspan dy="2.475" font-size="1">&#8203;</tspan></text>
<ellipse cx="140.2" cy="759.3" rx="6.6" ry="18.5" fill="#ffd9d9" stroke="#ff0000" stroke-width="2.3"/>
<ellipse cx="140.2" cy="759.3" rx="4.5" ry="15.0" fill="none" stroke="#ff0000" stroke-width="0.5"/>
<ellipse cx="140.2" cy="759.3" rx="2.9" ry="9.8" fill="none" stroke="#ff0000" stroke-width="0.5"/>
<ellipse cx="140.2" cy="759.3" rx="1.4" ry="4.5" fill="none" stroke="#ff0000" stroke-width="0.5"/>
<path d="M131.5,761.2h0.9M137.7,761.7h0.9M142.2,767.0h0.9M138.8,753.7h0.9M140.4,758.3h0.9M141.0,753.7h0.9M139.2,753.1h0.9M137.6,761.1h0.9M145.4,753.6h0.9M142.9,763.1h0.9M140.7,766.7h0.9M137.7,765.5h0.9M141.8,765.8h0.9M149.0,748.0h0.9M140.7,763.2h0.9M135.9,772.3h0.9M142.3,750.8h0.9M134.8,754.9h0.9M150.9,782.6h0.9M129.1,739.8h0.9M143.2,758.2h0.9M137.4,765.9h0.9M140.7,762.5h0.9M141.4,747.7h0.9M146.2,754.4h0.9M145.3,766.8h0.9M140.4,760.9h0.9M140.0,739.5h0.9M138.8,764.0h0.9M133.0,743.3h0.9M145.1,768.1h0.9M133.3,764.4h0.9M140.0,769.9h0.9M138.8,757.0h0.9M136.8,761.3h0.9M139.7,752.3h0.9M138.7,751.2h0.9M143.0,748.2h0.9M133.2,749.0h0.9M145.1,753.9h0.9M143.2,767.3h0.9M137.9,767.5h0.9M142.5,758.9h0.9M137.0,758.7h0.9M134.4,756.4h0.9M137.6,764.1h0.9M141.8,752.4h0.9M144.1,772.3h0.9M140.5,751.3h0.9M142.5,732.9h0.9M137.6,765.7h0.9M149.3,751.4h0.9M147.2,784.6h0.9M148.8,733.8h0.9M145.2,761.4h0.9M144.8,757.4h0.9M137.4,756.9h0.9M147.0,768.5h0.9M138.9,763.5h0.9M144.2,765.5h0.9M140.0,752.2h0.9M136.8,754.6h0.9M137.7,742.2h0.9M133.8,768.9h0.9M135.1,745.1h0.9M140.0,775.1h0.9M146.0,754.8h0.9M135.5,753.5h0.9M136.1,753.3h0.9M142.4,747.7h0.9M136.7,756.5h0.9M140.1,751.0h0.9M136.6,747.0h0.9M136.8,765.0h0.9M143.0,758.6h0.9M136.2,756.5h0.9M126.4,741.2h0.9M145.5,782.7h0.9M150.2,751.3h0.9M140.4,767.8h0.9M134.6,778.4h0.9M136.9,763.2h0.9M134.9,763.3h0.9M140.1,771.2h0.9M134.9,759.2h0.9M148.5,746.2h0.9M141.8,764.1h0.9M137.9,756.4h0.9M146.7,771.8h0.9M142.8,762.3h0.9M135.0,760.3h0.9M148.4,770.9h0.9M134.0,736.5h0.9M137.2,761.1h0.9M137.7,755.9h0.9M141.8,769.2h0.9M141.2,773.1h0.9M133.7,764.5h0.9M142.2,742.9h0.9M146.0,741.7h0.9M146.2,763.5h0.9M146.4,772.0h0.9M135.0,764.6h0.9M146.7,757.5h0.9M140.5,754.2h0.9M143.6,753.2h0.9M137.5,745.8h0.9M135.9,761.7h0.9M142.4,755.0h0.9M135.4,763.1h0.9M141.9,773.4h0.9M137.9,754.8h0.9M142.6,776.2h0.9M140.0,758.4h0.9M135.9,755.1h0.9M144.6,768.7h0.9M145.4,741.2h0.9M144.1,749.1h0.9M143.0,733.1h0.9M139.8,749.5h0.9M146.1,760.7h0.9M146.2,754.4h0.9M149.3,754.4h0.9M149.0,753.9h0.9M135.7,769.3h0.9M138.4,758.7h0.9M134.0,755.5h0.9M140.7,751.5h0.9M142.0,733.8h0.9M144.3,754.8h0.9M147.0,755.4h0.9M137.2,754.3h0.9M141.5,765.9h0.9M138.1,750.5h0.9M142.2,768.5h0.9M132.1,747.7h0.9M137.1,778.3h0.9M145.9,768.2h0.9M142.5,746.9h0.9M145.4,754.4h0.9M136.5,780.8h0.9M133.5,774.7h0.9M141.1,749.1h0.9M141.0,749.9h0.9M141.1,752.1h0.9M137.9,770.3h0.9M140.0,766.9h0.9M134.3,747.7h0.9M125.0,770.5h0.9M142.3,746.2h0.9M144.1,765.9h0.9M153.8,762.0h0.9M144.5,766.2h0.9M143.8,759.1h0.9M138.3,767.2h0.9M146.0,746.3h0.9M134.9,758.9h0.9M148.6,757.0h0.9M132.3,768.3h0.9M143.7,781.0h0.9M141.1,781.3h0.9M136.9,769.4h0.9M140.8,746.1h0.9M138.9,774.2h0.9M145.4,755.1h0.9M145.4,769.4h0.9M144.4,762.5h0.9M141.6,750.1h0.9M139.9,760.7h0.9M136.8,756.1h0.9M141.0,761.7h0.9M145.1,747.9h0.9M138.4,762.4h0.9M138.5,763.1h0.9M138.0,772.5h0.9M139.2,746.7h0.9M143.7,777.9h0.9M131.3,757.9h0.9M140.5,770.9h0.9M147.2,757.6h0.9M133.0,766.8h0.9M144.9,764.5h0.9M140.6,750.3h0.9M151.6,746.0h0.9M133.2,770.2h0.9M141.6,766.8h0.9M141.9,778.1h0.9M146.9,753.2h0.9M144.9,746.3h0.9M132.3,772.8h0.9M138.2,735.5h0.9M140.1,752.0h0.9M142.6,758.7h0.9M136.7,751.4h0.9M143.8,749.0h0.9M140.8,748.4h0.9M142.3,779.2h0.9M142.9,771.8h0.9M142.3,748.7h0.9M138.8,760.2h0.9M142.3,752.7h0.9M143.1,751.4h0.9M140.5,759.3h0.9M134.9,770.5h0.9M140.5,760.6h0.9M140.1,736.0h0.9M133.7,749.4h0.9M144.8,753.0h0.9M143.1,747.9h0.9M136.3,754.2h0.9M145.2,741.0h0.9M139.4,763.9h0.9M140.9,759.2h0.9M143.9,762.6h0.9M135.6,766.4h0.9M136.6,755.6h0.9M147.0,764.1h0.9M136.6,750.9h0.9M148.0,763.1h0.9M133.8,776.8h0.9M142.9,774.0h0.9M142.1,735.4h0.9M136.8,757.8h0.9M139.5,776.1h0.9M137.1,758.3h0.9M140.0,758.4h0.9M135.4,745.8h0.9M128.3,763.1h0.9M139.3,761.6h0.9M135.3,759.4h0.9M135.7,748.1h0.9M141.8,766.4h0.9M142.9,758.9h0.9M138.4,774.9h0.9M146.0,752.3h0.9M135.2,763.5h0.9M141.7,749.2h0.9M150.8,736.2h0.9M136.4,762.1h0.9M144.8,738.8h0.9M138.2,775.3h0.9M146.7,756.6h0.9M140.4,749.6h0.9M142.1,747.7h0.9M130.8,742.5h0.9M140.5,744.7h0.9M145.4,773.6h0.9M144.9,766.6h0.9M145.5,762.3h0.9M144.3,764.6h0.9M143.9,748.1h0.9M137.2,748.3h0.9M144.1,765.0h0.9M136.6,748.4h0.9M137.6,769.0h0.9M139.7,756.7h0.9M137.0,758.0h0.9M147.6,751.7h0.9M138.6,778.2h0.9M143.6,746.8h0.9M145.3,745.4h0.9M142.8,731.4h0.9M135.6,769.5h0.9M137.5,751.3h0.9M140.5,759.4h0.9M138.1,751.9h0.9M148.6,775.9h0.9M141.8,746.6h0.9M137.8,756.2h0.9M142.5,777.1h0.9M137.8,761.0h0.9M138.2,760.9h0.9M137.0,763.6h0.9M145.6,755.0h0.9M138.7,760.7h0.9M134.1,779.4h0.9M134.0,755.4h0.9M136.1,776.0h0.9M138.0,753.8h0.9M149.0,758.1h0.9M136.6,759.3h0.9M141.1,751.1h0.9M139.4,757.1h0.9M143.6,767.9h0.9M144.1,758.0h0.9M143.9,757.0h0.9M145.6,763.9h0.9M138.3,773.0h0.9M133.2,748.6h0.9M136.5,757.9h0.9M134.5,746.1h0.9M131.5,760.6h0.9M136.7,783.6h0.9M143.8,746.7h0.9M146.3,760.6h0.9M145.2,747.1h0.9M145.6,771.5h0.9M138.3,750.0h0.9M138.5,762.3h0.9M151.4,779.4h0.9M147.2,757.0h0.9M138.7,763.5h0.9M139.0,754.2h0.9M139.3,768.7h0.9M139.9,762.0h0.9M139.0,757.2h0.9M138.7,773.4h0.9M141.3,775.9h0.9M139.4,771.1h0.9M133.8,754.9h0.9M140.0,752.4h0.9M139.7,749.2h0.9M139.5,752.0h0.9M140.2,756.1h0.9M135.6,754.9h0.9M140.4,745.3h0.9M140.7,773.2h0.9M139.2,765.5h0.9M143.1,750.5h0.9M135.5,783.1h0.9M137.0,775.5h0.9M131.9,772.0h0.9M140.9,745.2h0.9M136.4,747.8h0.9M136.1,763.6h0.9M139.4,731.7h0.9M138.8,764.5h0.9M140.6,778.1h0.9M131.7,762.1h0.9M140.4,767.4h0.9M134.0,744.9h0.9M139.4,760.2h0.9M131.9,763.4h0.9M140.2,767.5h0.9M128.2,764.9h0.9M136.1,754.1h0.9M143.8,778.1h0.9M140.9,758.2h0.9M146.3,749.5h0.9M139.5,753.8h0.9M135.7,761.5h0.9M149.7,762.1h0.9M142.5,759.0h0.9M145.5,761.4h0.9M136.2,760.5h0.9M146.9,758.4h0.9M145.8,758.6h0.9M149.6,762.5h0.9M143.3,756.2h0.9M144.1,756.9h0.9M133.4,762.7h0.9M134.6,775.7h0.9M143.9,759.6h0.9M143.4,730.7h0.9M147.3,752.2h0.9M132.8,754.8h0.9M141.8,764.0h0.9M132.4,749.1h0.9M147.1,752.7h0.9M142.8,744.2h0.9M136.0,739.2h0.9M141.5,772.2h0.9M140.7,756.4h0.9M141.4,764.6h0.9M138.9,765.5h0.9M149.3,784.0h0.9M137.6,745.4h0.9M149.1,770.3h0.9M145.9,766.1h0.9M139.2,770.2h0.9M145.4,772.4h0.9M135.2,770.8h0.9M138.6,755.4h0.9M141.9,755.6h0.9M151.0,765.6h0.9M141.5,757.3h0.9M141.4,756.9h0.9M142.9,768.9h0.9M144.1,745.5h0.9M138.7,760.3h0.9M134.6,763.6h0.9M139.6,760.0h0.9M142.0,752.5h0.9M147.4,770.9h0.9M137.7,764.6h0.9M143.7,750.9h0.9M138.6,767.1h0.9M128.3,744.8h0.9M141.8,766.3h0.9M136.0,768.9h0.9M150.5,761.7h0.9M140.1,760.2h0.9M135.6,765.5h0.9M141.1,767.7h0.9M146.9,759.8h0.9M141.1,763.0h0.9M148.3,743.3h0.9M140.2,752.5h0.9M140.8,768.6h0.9M140.6,767.6h0.9M141.1,751.5h0.9M137.2,744.1h0.9M141.3,755.1h0.9M144.1,770.1h0.9M136.2,747.4h0.9M143.1,749.7h0.9M141.2,766.2h0.9M138.5,779.1h0.9M136.7,764.1h0.9M139.5,757.7h0.9M142.9,758.0h0.9M136.9,753.7h0.9" stroke="#ff0000" stroke-width="0.9" fill="none" opacity="1"/>
<path d="M139.2,713.1h0.8M139.3,721.3h0.8M143.2,687.5h0.8M143.8,661.6h0.8M140.3,683.5h0.8M139.9,719.9h0.8M140.2,697.3h0.8M144.6,687.2h0.8M137.4,716.8h0.8M142.3,675.8h0.8M140.8,713.5h0.8M139.7,693.3h0.8M140.7,703.8h0.8M137.8,714.5h0.8M134.9,698.9h0.8M147.5,682.1h0.8M137.4,680.5h0.8M140.4,691.8h0.8M146.5,684.4h0.8M140.1,703.9h0.8M142.4,715.5h0.8M139.2,688.0h0.8M134.6,692.6h0.8M134.2,703.4h0.8M138.2,705.7h0.8M137.5,701.4h0.8M147.8,720.1h0.8M140.8,683.4h0.8M145.2,671.3h0.8M135.4,722.3h0.8M138.2,723.2h0.8M146.3,710.1h0.8M138.1,710.3h0.8M145.0,702.5h0.8M130.4,693.7h0.8M139.0,699.1h0.8M139.0,719.6h0.8M135.9,707.6h0.8M133.5,663.0h0.8M136.8,687.3h0.8M137.2,688.1h0.8M142.3,710.0h0.8M140.5,703.5h0.8M137.8,683.3h0.8M135.4,693.0h0.8M136.4,694.5h0.8M142.7,709.4h0.8M144.7,684.2h0.8M132.7,681.1h0.8M147.0,712.0h0.8M138.7,722.6h0.8M138.8,728.5h0.8M138.8,693.1h0.8M142.6,680.5h0.8M139.6,733.0h0.8M141.7,681.2h0.8M139.3,699.6h0.8M137.6,707.0h0.8M144.5,700.8h0.8M143.2,705.0h0.8M140.7,687.2h0.8M143.5,723.0h0.8M138.7,685.1h0.8M142.0,701.8h0.8M144.0,708.4h0.8M139.8,676.4h0.8M142.3,701.7h0.8M135.9,674.6h0.8M134.0,710.6h0.8M137.2,689.2h0.8M139.8,700.6h0.8M139.0,712.6h0.8M143.7,696.2h0.8M145.6,697.8h0.8M137.2,702.6h0.8M135.3,694.9h0.8M136.6,692.6h0.8M141.5,704.4h0.8M139.5,712.2h0.8M141.4,693.8h0.8M136.8,712.4h0.8M142.8,674.8h0.8M137.7,679.8h0.8M143.0,690.2h0.8M135.9,725.6h0.8M141.7,703.9h0.8M141.0,696.9h0.8M140.3,715.2h0.8M141.7,692.1h0.8M140.5,731.8h0.8M138.3,677.4h0.8M140.6,680.5h0.8M149.1,710.6h0.8M142.2,706.2h0.8M146.9,682.6h0.8M140.0,671.4h0.8M144.4,698.6h0.8M146.2,695.2h0.8M136.6,687.9h0.8M142.9,685.8h0.8M141.1,687.5h0.8M137.7,690.3h0.8M145.7,681.5h0.8M141.3,713.6h0.8M137.6,674.2h0.8M145.3,729.5h0.8M139.3,679.4h0.8M143.1,699.2h0.8M137.4,693.2h0.8M132.0,685.9h0.8M136.0,677.3h0.8M142.2,704.4h0.8M137.9,685.4h0.8M144.7,717.5h0.8M140.6,701.4h0.8M137.6,690.9h0.8M146.6,712.4h0.8M147.3,720.9h0.8M141.8,714.0h0.8M134.4,682.4h0.8M143.1,693.2h0.8M134.6,699.5h0.8M135.7,699.7h0.8M145.5,680.2h0.8M138.6,709.2h0.8M140.1,702.9h0.8M137.2,693.9h0.8M132.0,696.6h0.8M144.5,680.4h0.8M139.5,711.9h0.8M144.3,719.7h0.8M137.1,692.5h0.8M146.2,691.7h0.8M141.1,685.1h0.8M138.3,661.8h0.8M136.6,682.8h0.8M144.8,712.8h0.8M141.5,690.7h0.8M135.3,707.9h0.8M137.3,697.6h0.8M143.4,696.3h0.8M140.0,682.5h0.8" stroke="#ff0000" stroke-width="0.8" fill="none" opacity="1"/>
<path d="M184.6,724.5h0.8M189.6,731.5h0.8M164.6,763.5h0.8" stroke="#ff0000" stroke-width="0.8" fill="none" opacity="1"/>
<rect x="166.4" y="698.0" width="50.1" height="108.2" fill="none" stroke="#8a1cf5" stroke-width="1.3"/>
<text x="174.6" y="692.5" font-size="15" stroke="#000"><tspan fill="#8a1cf5" stroke="#8a1cf5">Glut1</tspan><tspan dy="-6" font-size="9" fill="#8a1cf5" stroke="#8a1cf5">+</tspan><tspan dy="6" font-size="1">&#8203;</tspan></text>
<text x="213.3" y="711.2" font-size="11" text-anchor="end" fill="#8a1cf5" stroke="#8a1cf5" font-weight="bold">0,07%</text>
<text x="89.8" y="678.7" font-size="17.7" fill="#ff0000" stroke="#ff0000">Blood</text>
<line x1="60.3" y1="844.7" x2="60.3" y2="665.2" stroke="#000" stroke-width="2.2"/>
<polygon points="60.3,632.2 66.8,669.2 60.3,665.2 53.8,669.2" fill="#000"/>
<line x1="59.3" y1="844.7" x2="253.0" y2="844.7" stroke="#000" stroke-width="2.2"/>
<polygon points="263.0,844.7 249.0,851.2 253.0,844.7 249.0,838.2" fill="#000"/>
<text x="51.0" y="745.5" font-size="16.5" text-anchor="middle" stroke="#000" transform="rotate(-90 51.0 745.5)">FSC</text>
<text x="162.6" y="860.3" font-size="16.2" text-anchor="middle" stroke="#000">Glut1</text>
<text x="329.8" y="654.0" font-size="12.9" stroke="#000">Lin<tspan dy="-5" font-size="7.5">-</tspan><tspan dy="5" font-size="1">&#8203;</tspan>TCRb<tspan dy="-5" font-size="7.5">+</tspan><tspan dy="5" font-size="1">&#8203;</tspan>CD8<tspan dy="-5" font-size="7.5">+</tspan><tspan dy="5" font-size="1">&#8203;</tspan>CD44<tspan dy="-5" font-size="7.5">-</tspan><tspan dy="5" font-size="1">&#8203;</tspan> CD62L<tspan dy="-5" font-size="7.5">+</tspan><tspan dy="5" font-size="1">&#8203;</tspan></text>
<rect x="326.5" y="659.5" width="164.9" height="164.7" fill="none" stroke="#d4d4d4" stroke-width="0.9"/>
<path d="M326.5,659.5V824.2" fill="none" stroke="#333" stroke-width="0.8"/>
<path d="M326.5,692.5h-4M326.5,736.5h-4M326.5,780.5h-4M326.5,824.5h-4M326.5,681.5h-2M326.5,670.5h-2M326.5,703.5h-2M326.5,714.5h-2M326.5,725.5h-2M326.5,747.5h-2M326.5,758.5h-2M326.5,769.5h-2M326.5,791.5h-2M326.5,802.5h-2M326.5,813.5h-2" stroke="#000" stroke-width="0.8" fill="none"/>
<path d="M332.5,824.2v4M363.5,824.2v4M383.5,824.2v4M403.5,824.2v4M433.5,824.2v4M458.5,824.2v4M482.5,824.2v4M331.5,824.2v1.5M335.5,824.2v2.5M338.5,824.2v1.5M341.5,824.2v1.5M343.7,824.2v1.5M345.9,824.2v2.5M348.9,824.2v2M351.1,824.2v2M353.3,824.2v2.5M355.5,824.2v2.5M359.5,824.2v2M362.5,824.2v2.5M366.5,824.2v2.5M370.5,824.2v2M373.5,824.2v2M377.5,824.2v1.5M383.0,824.2v2.5M387.0,824.2v2.5M391.0,824.2v1.5M394.0,824.2v2.5M398.0,824.2v1.5M402.0,824.2v2M407.5,824.2v1.5M410.5,824.2v2.5M413.5,824.2v2M417.5,824.2v2.5M421.5,824.2v1.5M425.5,824.2v1.5M431.0,824.2v2M433.2,824.2v1.5M438.7,824.2v2.5M440.9,824.2v2.5M443.1,824.2v2.5M445.3,824.2v1.5M449.3,824.2v1.5M453.3,824.2v2M458.8,824.2v1.5M461.0,824.2v2M463.2,824.2v2.5M466.2,824.2v2.5M470.2,824.2v1.5M473.2,824.2v2.5M477.2,824.2v1.5M482.7,824.2v2M485.7,824.2v2.5" stroke="#000" stroke-width="0.8" fill="none"/>
<text x="320.0" y="694.3" font-size="5.2" text-anchor="end" fill="#333" stroke="#333">600K</text>
<text x="320.0" y="738.3" font-size="5.2" text-anchor="end" fill="#333" stroke="#333">400K</text>
<text x="320.0" y="782.3" font-size="5.2" text-anchor="end" fill="#333" stroke="#333">200K</text>
<text x="320.0" y="826.3" font-size="5.2" text-anchor="end" fill="#333" stroke="#333">0</text>
<text x="337.9" y="839.5" font-size="5.5" text-anchor="middle" fill="#222" stroke="#222">-10<tspan dy="-2.475" font-size="4.125">3</tspan><tspan dy="2.475" font-size="1">&#8203;</tspan></text>
<text x="385.8" y="839.5" font-size="5.5" text-anchor="middle" fill="#222" stroke="#222">0</text>
<text x="438.5" y="839.5" font-size="5.5" text-anchor="middle" fill="#222" stroke="#222">10<tspan dy="-2.475" font-size="4.125">5</tspan><tspan dy="2.475" font-size="1">&#8203;</tspan></text>
<text x="483.1" y="839.5" font-size="5.5" text-anchor="middle" fill="#222" stroke="#222">10<tspan dy="-2.475" font-size="4.125">7</tspan><tspan dy="2.475" font-size="1">&#8203;</tspan></text>
<ellipse cx="384.6" cy="759.3" rx="7.6" ry="19.5" fill="#e4e4e4" stroke="#000" stroke-width="1.8"/>
<ellipse cx="384.6" cy="759.3" rx="5.4" ry="16.0" fill="none" stroke="#555" stroke-width="0.5"/>
<ellipse cx="384.6" cy="759.3" rx="3.5" ry="10.4" fill="none" stroke="#555" stroke-width="0.5"/>
<ellipse cx="384.6" cy="759.3" rx="1.6" ry="4.8" fill="none" stroke="#555" stroke-width="0.5"/>
<ellipse cx="384.6" cy="757.3" rx="3.0" ry="6.0" fill="none" stroke="#888" stroke-width="2.2"/>
<path d="M390.6,752.0h0.9M388.9,759.4h0.9M389.4,759.1h0.9M385.6,753.1h0.9M391.8,758.6h0.9M387.4,767.3h0.9M379.2,748.5h0.9M384.2,775.2h0.9M378.3,746.1h0.9M378.7,754.1h0.9M378.2,748.7h0.9M387.6,745.2h0.9M384.4,744.1h0.9M383.3,765.6h0.9M372.7,759.7h0.9M385.8,758.3h0.9M386.0,764.3h0.9M376.9,757.5h0.9M388.3,775.4h0.9M376.5,751.5h0.9M376.5,758.8h0.9M378.2,746.6h0.9M389.0,787.5h0.9M372.4,779.9h0.9M379.1,767.7h0.9M386.6,774.7h0.9M383.3,748.6h0.9M384.1,769.1h0.9M379.3,764.2h0.9M384.5,761.4h0.9M384.6,766.7h0.9M389.2,755.4h0.9M382.4,732.0h0.9M379.4,739.8h0.9M388.5,745.5h0.9M380.4,765.8h0.9M390.3,774.5h0.9M379.5,762.1h0.9M390.8,748.4h0.9M383.2,743.7h0.9M380.8,768.1h0.9M385.1,754.5h0.9M381.2,778.3h0.9M388.9,743.5h0.9M397.2,753.9h0.9M383.6,752.9h0.9M381.2,767.2h0.9M376.0,759.5h0.9M382.6,781.1h0.9M386.8,764.6h0.9M387.6,766.6h0.9M385.2,728.3h0.9M387.0,755.1h0.9M388.7,763.1h0.9M381.3,747.9h0.9M378.6,762.7h0.9M383.9,748.0h0.9M382.4,763.6h0.9M380.6,757.6h0.9M385.1,759.9h0.9M389.3,775.6h0.9M380.3,766.7h0.9M386.1,760.1h0.9M389.4,770.2h0.9M377.1,777.8h0.9M383.5,750.8h0.9M380.5,756.3h0.9M378.0,772.9h0.9M387.0,747.8h0.9M389.4,762.1h0.9M385.0,771.3h0.9M384.0,755.9h0.9M387.5,736.1h0.9M377.5,765.5h0.9M390.8,738.0h0.9M384.6,750.8h0.9M382.9,766.7h0.9M393.3,781.4h0.9M390.1,767.2h0.9M385.4,735.7h0.9M386.8,744.2h0.9M378.0,760.7h0.9M375.3,781.4h0.9M388.1,763.8h0.9M387.4,762.2h0.9M384.9,768.1h0.9M380.6,762.6h0.9M385.5,769.0h0.9M378.1,762.3h0.9M383.8,767.1h0.9M387.7,761.5h0.9M387.2,764.8h0.9M392.5,763.0h0.9M387.7,747.5h0.9M383.4,768.9h0.9M390.7,746.9h0.9M384.3,755.8h0.9M384.9,753.2h0.9M382.1,758.4h0.9M385.3,772.0h0.9M379.6,747.1h0.9M389.1,765.5h0.9M383.5,744.7h0.9M390.7,745.7h0.9M391.1,762.3h0.9M383.7,757.1h0.9M389.3,759.3h0.9M374.4,750.4h0.9M372.1,764.2h0.9M389.9,772.1h0.9M376.7,785.8h0.9M395.1,757.8h0.9M373.0,748.3h0.9M390.6,785.1h0.9M381.4,736.1h0.9M378.9,783.2h0.9M384.5,741.6h0.9M372.4,767.2h0.9M389.2,753.2h0.9M383.4,760.2h0.9M382.6,752.3h0.9M381.2,751.8h0.9M391.7,764.2h0.9M390.5,782.3h0.9M371.3,758.4h0.9M390.1,756.5h0.9M381.1,764.2h0.9M381.5,748.6h0.9M382.8,759.9h0.9M384.6,770.4h0.9M384.7,753.2h0.9M402.3,756.3h0.9M383.0,757.4h0.9M380.5,739.4h0.9M385.7,777.5h0.9M374.0,749.7h0.9M387.0,750.6h0.9M387.6,758.6h0.9M378.1,756.5h0.9M381.5,766.0h0.9M369.8,764.3h0.9M392.3,761.1h0.9M385.9,752.5h0.9M386.5,757.3h0.9M377.1,744.3h0.9M371.1,764.6h0.9M385.5,772.8h0.9M386.0,767.9h0.9M376.7,735.8h0.9M381.2,755.1h0.9M386.6,757.5h0.9M383.6,759.7h0.9M386.0,761.7h0.9M386.4,752.9h0.9M384.0,740.7h0.9M378.1,755.8h0.9M387.0,749.7h0.9M376.4,771.2h0.9M379.7,737.6h0.9M378.9,744.3h0.9M370.5,754.3h0.9M394.3,749.9h0.9M379.8,773.5h0.9M385.0,757.9h0.9M392.4,744.4h0.9M384.2,765.5h0.9M385.7,744.5h0.9M379.1,781.4h0.9M384.0,755.9h0.9M390.8,736.7h0.9M384.2,737.1h0.9M392.6,746.8h0.9M385.2,747.6h0.9M385.3,763.2h0.9M384.6,755.2h0.9M386.0,756.2h0.9M381.6,767.1h0.9M389.5,742.3h0.9M378.7,749.5h0.9M386.3,741.6h0.9M393.6,759.7h0.9M385.5,770.1h0.9M380.2,763.9h0.9M386.9,775.4h0.9M378.5,776.5h0.9M388.0,762.4h0.9M390.7,756.1h0.9M383.5,769.7h0.9M382.5,772.8h0.9M392.5,762.0h0.9M385.6,751.2h0.9M379.3,777.2h0.9M378.6,760.3h0.9M386.3,748.1h0.9M380.6,750.5h0.9M396.9,763.9h0.9M392.6,784.7h0.9M390.5,775.8h0.9M382.1,750.7h0.9M393.0,777.6h0.9M378.7,773.6h0.9M386.3,769.3h0.9M390.2,783.1h0.9M381.0,759.4h0.9M391.9,756.2h0.9M387.8,758.5h0.9M374.8,752.5h0.9M389.8,752.6h0.9M375.8,753.2h0.9M385.3,765.6h0.9M386.6,766.1h0.9M378.6,752.0h0.9M380.2,754.0h0.9M387.2,776.1h0.9M383.3,772.7h0.9M391.1,745.2h0.9M380.0,761.4h0.9M376.7,782.9h0.9M373.9,744.2h0.9M389.2,750.2h0.9M388.8,747.3h0.9M390.8,752.3h0.9M388.9,772.1h0.9M376.1,748.5h0.9M374.6,745.8h0.9M390.1,759.2h0.9M389.6,777.3h0.9M390.7,768.6h0.9M382.3,754.8h0.9M386.6,770.5h0.9M391.0,763.4h0.9M383.1,758.7h0.9M394.4,763.2h0.9M396.4,750.8h0.9M389.8,762.4h0.9M389.2,750.3h0.9M386.7,758.9h0.9M383.2,744.8h0.9M376.6,755.5h0.9M388.0,763.0h0.9M386.2,763.7h0.9M377.0,773.0h0.9M385.2,750.4h0.9M381.6,772.1h0.9M385.9,739.0h0.9M397.0,741.3h0.9M394.7,770.3h0.9M379.0,775.3h0.9M392.1,772.8h0.9M388.6,763.8h0.9M386.1,753.1h0.9M386.4,775.7h0.9M384.2,784.3h0.9M375.9,760.2h0.9M376.3,737.9h0.9M386.3,755.7h0.9M381.6,746.6h0.9M383.5,739.6h0.9M383.7,753.2h0.9M377.6,764.9h0.9M374.1,765.2h0.9M386.4,766.4h0.9M385.6,769.7h0.9M383.3,746.3h0.9M387.0,750.0h0.9M382.8,761.3h0.9M379.5,772.0h0.9M376.0,775.0h0.9M384.7,780.9h0.9M391.2,768.2h0.9M386.5,761.3h0.9M376.9,752.9h0.9M379.4,750.9h0.9M384.1,749.9h0.9M385.6,756.6h0.9M382.1,764.7h0.9M387.5,743.1h0.9M384.9,765.5h0.9M379.7,772.0h0.9M393.7,767.0h0.9M384.1,760.2h0.9M373.9,767.2h0.9M383.1,764.7h0.9M387.0,762.5h0.9M397.0,771.3h0.9M381.1,767.4h0.9M388.5,760.3h0.9M393.0,755.2h0.9M374.7,746.6h0.9M387.1,747.5h0.9M385.7,741.0h0.9M387.1,756.6h0.9M379.6,752.9h0.9M383.3,771.2h0.9M386.2,757.3h0.9M385.8,770.9h0.9M387.5,781.6h0.9M380.7,770.0h0.9M385.6,752.0h0.9M388.3,770.2h0.9M390.5,765.8h0.9M379.8,761.9h0.9M387.0,780.5h0.9M385.5,761.7h0.9M393.8,760.6h0.9M382.3,763.4h0.9M389.3,761.7h0.9M375.2,754.8h0.9M390.6,750.6h0.9M389.8,761.9h0.9M380.3,769.7h0.9M372.5,733.8h0.9M375.9,766.4h0.9M383.3,767.7h0.9M384.4,761.4h0.9M381.8,754.9h0.9M390.5,769.3h0.9M377.2,766.9h0.9M396.5,769.2h0.9M379.4,769.0h0.9M386.1,755.9h0.9M390.4,775.0h0.9M381.8,761.3h0.9M382.6,759.9h0.9M394.0,754.5h0.9M388.1,763.0h0.9M385.3,745.9h0.9M388.4,746.3h0.9" stroke="#111" stroke-width="0.9" fill="none" opacity="1"/>
<path d="M389.0,704.2h0.85M386.4,697.6h0.85M382.0,687.5h0.85M385.8,704.3h0.85M387.1,700.6h0.85M389.2,708.3h0.85M386.3,701.4h0.85M385.7,717.3h0.85M382.7,684.4h0.85M387.5,713.2h0.85M385.9,710.1h0.85M380.0,688.5h0.85M385.8,705.2h0.85M380.3,714.0h0.85M377.3,727.8h0.85M381.1,695.8h0.85M381.2,681.8h0.85M384.4,672.1h0.85M384.3,708.7h0.85M384.5,705.3h0.85M379.4,672.9h0.85M379.9,724.5h0.85M387.2,673.9h0.85M393.3,716.8h0.85M390.6,723.6h0.85M391.5,675.7h0.85M386.1,691.9h0.85M394.3,717.8h0.85M385.7,701.1h0.85M376.4,707.5h0.85M382.0,729.7h0.85M389.0,704.3h0.85M384.0,725.2h0.85M383.4,725.1h0.85M386.7,700.6h0.85M387.4,736.6h0.85M378.7,718.9h0.85M389.0,701.1h0.85M392.2,717.5h0.85M388.2,687.8h0.85M388.3,682.7h0.85M381.8,733.3h0.85M381.0,706.8h0.85M388.9,680.0h0.85M387.2,691.9h0.85M383.0,720.6h0.85M385.4,712.8h0.85M385.8,712.4h0.85M392.7,707.8h0.85M384.5,706.1h0.85M388.9,713.7h0.85M376.2,704.3h0.85M383.1,700.8h0.85M380.6,704.4h0.85M377.9,690.7h0.85M385.4,678.8h0.85M384.6,693.4h0.85M391.3,733.9h0.85M395.1,708.1h0.85M382.9,735.8h0.85M381.7,724.4h0.85M378.8,698.5h0.85M384.9,701.1h0.85M377.1,707.8h0.85M384.5,732.0h0.85M388.3,667.0h0.85M386.3,724.6h0.85M385.3,693.0h0.85M379.7,699.0h0.85M381.6,700.7h0.85M384.3,728.4h0.85M381.4,711.5h0.85M380.9,710.5h0.85M390.3,695.4h0.85M380.5,706.2h0.85M385.8,694.2h0.85M387.6,706.9h0.85M388.8,681.1h0.85M389.1,728.1h0.85M382.1,740.9h0.85M386.8,682.4h0.85M381.0,692.3h0.85M382.8,701.3h0.85M387.1,701.9h0.85M384.3,688.4h0.85M376.6,692.9h0.85M380.3,721.3h0.85M374.9,725.9h0.85M373.0,702.0h0.85M385.8,685.7h0.85M381.4,721.2h0.85M380.9,703.9h0.85M385.9,717.2h0.85M380.1,729.0h0.85M385.0,723.6h0.85M379.4,725.0h0.85M385.3,719.5h0.85M382.9,720.9h0.85M385.9,671.6h0.85M396.9,693.6h0.85M387.8,702.0h0.85M383.7,698.8h0.85M389.8,722.3h0.85M389.9,676.3h0.85M389.4,678.6h0.85M396.1,712.4h0.85M390.8,705.5h0.85M386.4,692.8h0.85M394.7,699.6h0.85M390.6,691.0h0.85M385.1,698.5h0.85M385.2,696.4h0.85M388.6,717.3h0.85M378.5,697.6h0.85M379.8,724.8h0.85M380.1,713.9h0.85M386.4,704.5h0.85M377.0,736.0h0.85M385.1,717.8h0.85M390.5,687.6h0.85M381.3,736.4h0.85M394.4,690.8h0.85M385.4,722.6h0.85M385.1,729.2h0.85M388.4,704.2h0.85M388.8,697.0h0.85M391.4,693.7h0.85M377.9,736.1h0.85M379.1,704.3h0.85M394.0,725.1h0.85M388.8,712.3h0.85M386.5,713.9h0.85M384.9,700.5h0.85M380.2,737.0h0.85M385.7,739.9h0.85M389.1,713.8h0.85M380.8,701.0h0.85M386.0,703.4h0.85M384.4,664.5h0.85M383.9,701.1h0.85M383.6,699.9h0.85M378.7,690.2h0.85M392.4,688.6h0.85M383.4,690.7h0.85M385.0,696.3h0.85M394.8,686.9h0.85M391.9,697.2h0.85M385.7,705.5h0.85M372.9,699.5h0.85M384.7,708.0h0.85M386.8,685.9h0.85M381.5,719.5h0.85M384.6,706.3h0.85M388.8,707.6h0.85M386.5,686.2h0.85M385.8,675.1h0.85M393.8,691.9h0.85M393.4,696.8h0.85M385.2,729.3h0.85M386.7,709.1h0.85M384.6,701.1h0.85M382.5,691.9h0.85M377.7,703.1h0.85M382.3,731.2h0.85M395.4,740.2h0.85" stroke="#222" stroke-width="0.85" fill="none" opacity="1"/>
<path d="M420.3,739.7h0.85M428.8,716.2h0.85M442.4,761.3h0.85M432.2,785.8h0.85M433.8,741.0h0.85M432.1,737.6h0.85M433.7,720.7h0.85M434.0,741.1h0.85M426.5,739.4h0.85M428.9,712.1h0.85M434.7,743.1h0.85M444.3,746.7h0.85M437.5,746.4h0.85M428.8,722.6h0.85M426.2,735.3h0.85M410.5,741.1h0.85M424.2,753.2h0.85M438.2,741.0h0.85M439.5,772.0h0.85M436.1,740.5h0.85M430.8,780.0h0.85M442.4,770.1h0.85M444.2,761.5h0.85M440.8,758.8h0.85M427.5,756.4h0.85M429.6,777.2h0.85M436.7,728.1h0.85M423.9,767.6h0.85M437.1,753.0h0.85M432.7,722.1h0.85M423.1,757.8h0.85M415.3,757.1h0.85M434.7,760.4h0.85M436.8,785.6h0.85M432.4,730.9h0.85M430.8,765.1h0.85M416.6,750.8h0.85M424.3,742.2h0.85M431.7,748.0h0.85M420.5,762.5h0.85M428.9,709.6h0.85M436.2,779.0h0.85M426.9,779.6h0.85M417.3,742.2h0.85M440.5,773.7h0.85M434.2,768.7h0.85M426.7,761.8h0.85M437.7,766.4h0.85M433.1,764.2h0.85M433.5,759.6h0.85M417.6,759.4h0.85M422.5,739.7h0.85M430.5,752.3h0.85M419.4,736.6h0.85M431.9,739.0h0.85M430.2,751.9h0.85M431.7,736.3h0.85M431.5,758.8h0.85M419.8,763.0h0.85M422.0,754.6h0.85M434.9,760.2h0.85M420.5,728.8h0.85M420.5,758.7h0.85M431.1,710.9h0.85M435.9,771.1h0.85M425.8,745.6h0.85M432.0,726.9h0.85M426.5,758.3h0.85M427.2,747.0h0.85M430.9,781.7h0.85M432.1,754.0h0.85M426.2,772.1h0.85M430.5,746.6h0.85M440.5,774.2h0.85M422.5,740.9h0.85M440.2,737.7h0.85M442.6,743.9h0.85M445.6,727.6h0.85M414.3,717.9h0.85M445.9,732.6h0.85M426.5,735.6h0.85M424.0,750.3h0.85M431.0,734.6h0.85M425.7,774.0h0.85M437.6,767.1h0.85M439.9,743.3h0.85M437.0,780.2h0.85M423.3,774.4h0.85M410.2,708.8h0.85M418.2,727.0h0.85M422.1,737.3h0.85M436.5,732.4h0.85M426.9,720.9h0.85M417.1,743.4h0.85M423.9,764.8h0.85M430.8,710.6h0.85M435.7,722.9h0.85M426.7,726.0h0.85M423.2,734.9h0.85M420.3,732.1h0.85M427.6,761.4h0.85M435.5,782.6h0.85M416.8,739.0h0.85M439.6,724.1h0.85M428.5,761.4h0.85M442.2,758.4h0.85M432.4,743.6h0.85M434.8,748.8h0.85" stroke="#222" stroke-width="0.85" fill="none" opacity="1"/>
<path d="M431.8,781.7h0.8M429.0,781.1h0.8M423.2,781.2h0.8M424.7,781.6h0.8M426.2,779.7h0.8M431.6,783.8h0.8M439.0,777.9h0.8M421.2,780.9h0.8M424.4,783.2h0.8M424.6,781.4h0.8M434.1,782.7h0.8M420.0,785.2h0.8M443.2,785.6h0.8M428.7,786.1h0.8M429.3,782.3h0.8M431.2,785.9h0.8M430.4,782.4h0.8M421.4,783.5h0.8M423.2,782.9h0.8M421.3,781.2h0.8M423.9,781.6h0.8M422.8,785.8h0.8M434.3,782.3h0.8M423.4,785.5h0.8M428.2,784.3h0.8M435.7,782.2h0.8M432.3,784.1h0.8M427.1,782.7h0.8M425.9,775.6h0.8M427.3,786.7h0.8M435.8,789.1h0.8M430.1,785.0h0.8M425.9,781.4h0.8M424.4,784.1h0.8M434.3,778.9h0.8M433.9,785.1h0.8M434.4,780.3h0.8M430.9,783.8h0.8M421.7,780.6h0.8M442.9,781.6h0.8M426.7,778.8h0.8M426.0,786.0h0.8M432.0,781.2h0.8M429.9,783.9h0.8M433.2,780.9h0.8" stroke="#333" stroke-width="0.8" fill="none" opacity="1"/>
<path d="M401.7,744.8h0.8M399.1,741.8h0.8M398.2,763.2h0.8M395.3,758.5h0.8M408.7,741.2h0.8M399.7,754.3h0.8M405.2,732.6h0.8M402.3,753.8h0.8M406.4,752.1h0.8M406.5,740.0h0.8M401.6,737.8h0.8M398.8,735.4h0.8M399.4,780.1h0.8M399.0,794.7h0.8M405.4,760.2h0.8M400.6,760.4h0.8M398.3,764.8h0.8M400.8,724.2h0.8M400.7,764.5h0.8M400.7,760.3h0.8M400.6,747.6h0.8M403.7,777.7h0.8M399.7,768.1h0.8M397.3,775.2h0.8M398.1,756.0h0.8M403.4,747.3h0.8M400.7,771.3h0.8M398.9,760.7h0.8M403.8,759.3h0.8M398.2,749.0h0.8M399.8,755.6h0.8M402.4,730.6h0.8M400.3,758.5h0.8M405.0,732.1h0.8M397.9,769.4h0.8M400.4,772.6h0.8M400.4,745.0h0.8M400.4,774.8h0.8M402.7,758.4h0.8M401.0,772.3h0.8" stroke="#333" stroke-width="0.8" fill="none" opacity="1"/>
<rect x="406.1" y="697.1" width="49.7" height="108.3" fill="none" stroke="#8a1cf5" stroke-width="1.3"/>
<text x="410.3" y="691.6" font-size="15" stroke="#000"><tspan fill="#8a1cf5" stroke="#8a1cf5">Glut1</tspan><tspan dy="-6" font-size="9" fill="#8a1cf5" stroke="#8a1cf5">+</tspan><tspan dy="6" font-size="1">&#8203;</tspan></text>
<text x="451.6" y="710.3" font-size="11" text-anchor="end" fill="#8a1cf5" stroke="#8a1cf5" font-weight="bold">1,8%</text>
<text x="338.0" y="678.7" font-size="19.5" stroke="#000">LNs</text>
<line x1="300.3" y1="844.0" x2="300.3" y2="668.6" stroke="#000" stroke-width="2.2"/>
<polygon points="300.3,657.6 306.8,672.6 300.3,668.6 293.8,672.6" fill="#000"/>
<line x1="299.3" y1="844.0" x2="494.5" y2="844.0" stroke="#000" stroke-width="2.2"/>
<polygon points="504.5,844.0 490.5,850.5 494.5,844.0 490.5,837.5" fill="#000"/>
<text x="293.0" y="745.5" font-size="16.5" text-anchor="middle" stroke="#000" transform="rotate(-90 293.0 745.5)">FSC</text>
<text x="407.1" y="860.3" font-size="16.2" text-anchor="middle" stroke="#000">Glut1</text>
<text transform="translate(4.5,925.0) scale(1.17,1)" x="0" y="0" font-size="43.5" font-family="'DejaVu Sans', 'Liberation Sans', sans-serif" stroke="#000" stroke-width="0.5">C</text>
<text x="275.5" y="958.5" font-size="21.8" text-anchor="middle" stroke="#000">Percentage of <tspan fill="#8a1cf5" stroke="#8a1cf5">Glut1</tspan><tspan dy="-8.5" font-size="12" fill="#8a1cf5" stroke="#8a1cf5">+</tspan><tspan dy="8.5" font-size="1">&#8203;</tspan> cells</text>
<clipPath id="cC"><rect x="60" y="990" width="440" height="270.8"/></clipPath><g clip-path="url(#cC)">
<path d="M80.5,1239.3c1.7 .5 3.4 1.8 4 3.1 .6 1.2 .2 2.7-.4 4.5-.6 1.9-3.1 4.5-3.2 6.3-.1 1.9 2.2 3.5 2.4 4.8 .2 1.2 .4 2.4-1.3 2.8-1.7 .5-7.3 .5-9 0-1.7-.4-1.5-1.6-1.3-2.8 .2-1.3 2.5-2.9 2.4-4.8-.1-1.8-2.6-4.4-3.2-6.3-.6-1.8-1-3.3-.4-4.5 .6-1.3 2.3-2.6 4-3.1 1.7-.5 4.3-.5 6 0Z" fill="#fff" fill-opacity="1.0" stroke="#ff0000" stroke-width="1.2" stroke-linejoin="round"/>
<circle cx="77.5" cy="1241.9" r="2.4" fill="#ff0000" opacity="0.9"/>
<circle cx="77.5" cy="1245.6" r="2.4" fill="#ff0000" opacity="0.9"/>
<circle cx="77.5" cy="1258.0" r="2.4" fill="#ff0000" opacity="0.9"/>
<line x1="73.0" y1="1248.8" x2="82.0" y2="1248.8" stroke="#000" stroke-width="2"/>
<path d="M98,1091c.1 4.1-.1 16.8 .6 24.6 .7 7.8 2.6 15.5 3.6 22 1 6.5 2.6 11 2.6 17 0 5.9-1.8 11-2.8 18.6-1 7.6-3.3 18.7-3.5 27.1-.2 8.5 1.5 17 2.1 23.8 .6 6.7 1.6 10.8 1.6 16.9 0 6.1-1.2 15.3-1.7 19.8-.5 4.6-.3 6.1-1 7.3-.7 1.3-2.3 1.3-3 0-.7-1.2-.5-2.7-1-7.3-.5-4.5-1.7-13.7-1.7-19.8 0-6.1 1-10.2 1.6-16.9 .6-6.8 2.3-15.3 2.1-23.8-.2-8.4-2.5-19.5-3.5-27.1-1-7.6-2.8-12.7-2.8-18.6 0-6 1.6-10.5 2.6-17 1-6.5 2.9-14.2 3.6-22 .7-7.8 .5-20.5 .6-24.6 .1-4.1-.1-4.1 0 0Z" fill="#c9c9c9" fill-opacity="1.0" stroke="#000" stroke-width="1.0" stroke-linejoin="round"/>
<circle cx="94.0" cy="1150.3" r="2.2" fill="#5a5a5a" opacity="0.85"/>
<circle cx="101.8" cy="1147.8" r="2.2" fill="#5a5a5a" opacity="0.85"/>
<circle cx="98.0" cy="1157.1" r="2.2" fill="#5a5a5a" opacity="0.85"/>
<circle cx="98.0" cy="1162.7" r="2.2" fill="#5a5a5a" opacity="0.85"/>
<path d="M91.2,1237.2h4.2v4.2h-4.2Z" fill="#5a5a5a"/>
<path d="M100.5,1234.2h4.2v4.2h-4.2Z" fill="#5a5a5a"/>
<line x1="91.5" y1="1159.7" x2="104.5" y2="1159.7" stroke="#000" stroke-width="2" stroke-dasharray="6,2"/>
<path d="M132.2,1242.7c1.2 0 3.6 4.2 3.6 5.9 0 1.7-2.4 4.3-3.6 4.3-1.2 0-3.6-2.6-3.6-4.3 0-1.7 2.4-5.9 3.6-5.9Z" fill="#ffb3b3" fill-opacity="1.0" stroke="#ff0000" stroke-width="1.0" stroke-linejoin="round"/>
<circle cx="132.2" cy="1246.1" r="2.2" fill="#ff0000" opacity="0.9"/>
<circle cx="132.2" cy="1249.5" r="2.0" fill="#ff0000" opacity="0.9"/>
<line x1="125.7" y1="1248.8" x2="138.7" y2="1248.8" stroke="#000" stroke-width="1.6" stroke-dasharray="5,1.5"/>
<path d="M152.9,1155.4c.5 0 .4 2.8 1.5 4.3 1.1 1.4 5.2 3 5.3 4.5 .1 1.6-4.1 3.1-4.6 4.8-.5 1.6 1.6 3.5 1.4 5.1-.2 1.5-1.8 2.8-2.4 4.2-.6 1.4-.8 4.2-1.2 4.2-.4 0-.6-2.8-1.2-4.2-.6-1.4-2.2-2.7-2.4-4.2-.2-1.6 1.9-3.5 1.4-5.1-.5-1.7-4.7-3.2-4.6-4.8 .1-1.5 4.2-3.1 5.3-4.5 1.1-1.5 1-4.3 1.5-4.3Z" fill="#c9c9c9" fill-opacity="1.0" stroke="#000" stroke-width="1.0" stroke-linejoin="round"/>
<circle cx="152.9" cy="1164.2" r="2.2" fill="#5a5a5a"/>
<circle cx="152.9" cy="1174.1" r="2.2" fill="#5a5a5a"/>
<line x1="146.4" y1="1163.9" x2="159.4" y2="1163.9" stroke="#000" stroke-width="1.8" stroke-dasharray="5,1.5"/>
<path d="M187,1249.5c2.3 0 6.8 4 6.8 5.9 0 1.9-4.5 5.4-6.8 5.4-2.3 0-6.8-3.5-6.8-5.4 0-1.9 4.5-5.9 6.8-5.9Z" fill="#ffb3b3" fill-opacity="1.0" stroke="#ff0000" stroke-width="1.1" stroke-linejoin="round"/>
<circle cx="184.0" cy="1255.9" r="2.4" fill="#ff0000" opacity="0.9"/>
<circle cx="187.0" cy="1255.9" r="2.4" fill="#ff0000" opacity="0.9"/>
<circle cx="190.0" cy="1255.9" r="2.4" fill="#ff0000" opacity="0.9"/>
<circle cx="187.0" cy="1252.0" r="2.2" fill="#ff0000" opacity="0.9"/>
<line x1="180.5" y1="1254.9" x2="193.5" y2="1254.9" stroke="#000" stroke-width="1.8" stroke-dasharray="5,1.5"/>
<path d="M208,1004.6c.1 4.4-.3 16.8 .5 26.2 .8 9.5 3 21.5 4.1 30.6 1.1 9 2.3 15.2 2.2 23.7-.1 8.5-1.6 16.4-2.6 27.1-1 10.7-3.1 25.4-3.4 37.3-.3 11.9 1.1 22.6 1.6 33.9 .5 11.3 1.4 21 1.2 33.9-.2 12.9-2.1 35.1-2.6 43.5-.5 8.5-.2 6.1-.5 7.3-.2 1.3-.8 1.3-1 0-.2-1.2 0 1.2-.5-7.3-.5-8.4-2.4-30.6-2.6-43.5-.2-12.9 .7-22.6 1.2-33.9 .5-11.3 1.9-22 1.6-33.9-.3-11.9-2.4-26.6-3.4-37.3-1-10.7-2.5-18.6-2.6-27.1-.1-8.5 1.2-14.7 2.2-23.7 1.1-9.1 3.3-21.1 4.1-30.6 .8-9.4 .4-21.8 .5-26.2 .1-4.4-.1-4.4 0 0Z" fill="#c9c9c9" fill-opacity="1.0" stroke="#000" stroke-width="1.0" stroke-linejoin="round"/>
<circle cx="208.0" cy="1074.9" r="2.2" fill="#5a5a5a" opacity="0.85"/>
<circle cx="208.0" cy="1082.2" r="2.2" fill="#5a5a5a" opacity="0.85"/>
<circle cx="212.0" cy="1091.9" r="2.2" fill="#5a5a5a" opacity="0.85"/>
<circle cx="204.5" cy="1096.6" r="2.2" fill="#5a5a5a" opacity="0.85"/>
<circle cx="208.0" cy="1205.4" r="2.2" fill="#5a5a5a" opacity="0.85"/>
<circle cx="208.0" cy="1213.9" r="2.2" fill="#5a5a5a" opacity="0.85"/>
<line x1="201.5" y1="1094.2" x2="210.5" y2="1094.2" stroke="#000" stroke-width="2"/>
<path d="M243.8,1227.8c.8 .5 .8 .8 1 3 .2 2.3-.3 6.8 .4 10.2 .7 3.4 3 7.6 3.6 10.2 .6 2.6 .5 4.1 0 5.4-.5 1.3-1 1.8-2.8 2.2-1.8 .4-6.2 .4-8 0-1.8-.4-2.3-.9-2.8-2.2-.5-1.3-.6-2.8 0-5.4 .6-2.6 2.9-6.8 3.6-10.2 .7-3.4 .2-7.9 .4-10.2 .2-2.2 .2-2.5 1-3 .8-.5 2.8-.5 3.6 0Z" fill="#ffd0d0" fill-opacity="1.0" stroke="#ff0000" stroke-width="1.2" stroke-linejoin="round"/>
<circle cx="242.0" cy="1230.5" r="2.4" fill="#ff0000" opacity="0.9"/>
<circle cx="242.0" cy="1246.1" r="2.4" fill="#ff0000" opacity="0.9"/>
<circle cx="242.0" cy="1256.6" r="2.4" fill="#ff0000" opacity="0.9"/>
<line x1="235.5" y1="1250.8" x2="248.5" y2="1250.8" stroke="#000" stroke-width="1.8" stroke-dasharray="6,2"/>
<path d="M262.5,1085.9c.1 4.4-.2 17.1 .5 26.3 .7 9.2 2.8 20.3 3.9 28.8 1.1 8.5 2.4 15 2.4 22.1 0 7-1.7 14.1-2.6 20.3-.9 6.2-2.8 10.4-3 16.9-.2 6.5 1.3 15.6 1.8 22.1 .5 6.5 1.3 10.5 1.2 16.9-.1 6.4-1.4 16.7-1.8 21.5-.4 4.8-.2 6.1-.9 7.3-.6 1.3-2.4 1.3-3 0-.6-1.2-.4-2.5-.9-7.3-.4-4.8-1.7-15.1-1.8-21.5-.1-6.4 .7-10.4 1.2-16.9 .5-6.5 2-15.6 1.8-22.1-.2-6.5-2.1-10.7-3-16.9-.9-6.2-2.6-13.3-2.6-20.3 0-7.1 1.4-13.6 2.4-22.1 1.1-8.5 3.2-19.6 3.9-28.8 .7-9.2 .4-21.9 .5-26.3 .1-4.3-.1-4.3 0 0Z" fill="#c9c9c9" fill-opacity="1.0" stroke="#000" stroke-width="1.0" stroke-linejoin="round"/>
<circle cx="262.5" cy="1141.9" r="2.2" fill="#5a5a5a" opacity="0.85"/>
<circle cx="262.5" cy="1163.9" r="2.2" fill="#5a5a5a" opacity="0.85"/>
<circle cx="262.5" cy="1168.1" r="2.2" fill="#5a5a5a" opacity="0.85"/>
<circle cx="266.5" cy="1165.6" r="2.2" fill="#5a5a5a" opacity="0.85"/>
<circle cx="262.5" cy="1238.5" r="2.2" fill="#5a5a5a" opacity="0.85"/>
<circle cx="262.5" cy="1243.2" r="2.2" fill="#5a5a5a" opacity="0.85"/>
<line x1="256.0" y1="1166.8" x2="269.0" y2="1166.8" stroke="#000" stroke-width="2" stroke-dasharray="8,1.5"/>
<circle cx="297.0" cy="1259.3" r="2.6" fill="#ff0000"/>
<line x1="290.5" y1="1259.7" x2="303.5" y2="1259.7" stroke="#ff0000" stroke-width="0.8"/>
<path d="M317.6,1230c.7 0 1.1 5.4 2.2 7.6 1.1 2.3 4.1 4.5 4.6 6 .5 1.4-1.8 1.9-1.8 2.8 0 1 2.1 1.9 1.8 3.1-.2 1.2-2.2 2.5-3.3 4.2-1.1 1.7-2.3 6-3.5 6-1.2 0-2.4-4.3-3.5-6-1.1-1.7-3.1-3-3.3-4.2-.2-1.2 1.8-2.1 1.8-3.1 0-.9-2.3-1.4-1.8-2.8 .5-1.5 3.5-3.7 4.6-6 1.1-2.2 1.5-7.6 2.2-7.6Z" fill="#c9c9c9" fill-opacity="1.0" stroke="#000" stroke-width="1.0" stroke-linejoin="round"/>
<circle cx="313.5" cy="1241.9" r="2.4" fill="#5a5a5a" opacity="0.85"/>
<circle cx="321.5" cy="1237.6" r="2.4" fill="#5a5a5a" opacity="0.85"/>
<circle cx="317.6" cy="1248.6" r="2.4" fill="#5a5a5a" opacity="0.85"/>
<circle cx="313.5" cy="1252.0" r="2.4" fill="#5a5a5a" opacity="0.85"/>
<circle cx="320.0" cy="1249.5" r="2.4" fill="#5a5a5a" opacity="0.85"/>
<line x1="312.1" y1="1244.7" x2="323.1" y2="1244.7" stroke="#000" stroke-width="1.8"/>
<circle cx="351.5" cy="1259.3" r="2.6" fill="#ff0000"/>
<line x1="345.0" y1="1259.7" x2="358.0" y2="1259.7" stroke="#ff0000" stroke-width="0.8"/>
<path d="M372.4,1213.6c.7 0 1.6 6.2 2.2 8.8 .6 2.6 .4 4.8 1.2 6.8 .8 1.9 3.7 3.1 3.7 5 0 2-2.7 4-3.9 6.8-1.2 2.8-2.1 10.2-3.2 10.2-1.1 0-2-7.4-3.2-10.2-1.2-2.8-3.9-4.8-3.9-6.8 0-1.9 2.9-3.1 3.7-5 .8-2 .6-4.2 1.2-6.8 .6-2.6 1.5-8.8 2.2-8.8Z" fill="#c9c9c9" fill-opacity="1.0" stroke="#000" stroke-width="1.0" stroke-linejoin="round"/>
<circle cx="377.0" cy="1222.7" r="2.4" fill="#5a5a5a" opacity="0.85"/>
<circle cx="372.4" cy="1228.3" r="2.4" fill="#5a5a5a" opacity="0.85"/>
<circle cx="368.4" cy="1233.9" r="2.4" fill="#5a5a5a" opacity="0.85"/>
<circle cx="372.4" cy="1236.8" r="2.4" fill="#5a5a5a" opacity="0.85"/>
<circle cx="376.0" cy="1234.2" r="2.4" fill="#5a5a5a" opacity="0.85"/>
<line x1="366.4" y1="1234.2" x2="378.4" y2="1234.2" stroke="#000" stroke-width="1.8" stroke-dasharray="5,1.5"/>
<circle cx="406.6" cy="1254.6" r="2.5" fill="#ff0000" opacity="0.9"/>
<circle cx="406.6" cy="1258.0" r="2.5" fill="#ff0000" opacity="0.9"/>
<line x1="399.8" y1="1257.5" x2="413.4" y2="1257.5" stroke="#000" stroke-width="1.8" stroke-dasharray="6,1.5"/>
<path d="M427.1,1213.9c1.1 0 2.4 6.8 3.2 10.2 .8 3.4 .8 7.2 1.4 10.1 .6 3 2.6 5.1 2.2 7.7-.4 2.5-3.5 5.2-4.6 7.6-1.1 2.4-1.5 6.8-2.2 6.8-.7 0-1.1-4.4-2.2-6.8-1.1-2.4-4.2-5.1-4.6-7.6-.4-2.6 1.6-4.7 2.2-7.7 .6-2.9 .6-6.7 1.4-10.1 .8-3.4 2.1-10.2 3.2-10.2Z" fill="#c9c9c9" fill-opacity="1.0" stroke="#000" stroke-width="1.0" stroke-linejoin="round"/>
<circle cx="427.1" cy="1225.8" r="2.4" fill="#5a5a5a" opacity="0.85"/>
<circle cx="428.0" cy="1232.5" r="2.4" fill="#5a5a5a" opacity="0.85"/>
<circle cx="424.0" cy="1241.9" r="2.4" fill="#5a5a5a" opacity="0.85"/>
<circle cx="430.0" cy="1242.7" r="2.4" fill="#5a5a5a" opacity="0.85"/>
<circle cx="427.1" cy="1237.6" r="2.4" fill="#5a5a5a" opacity="0.85"/>
<line x1="422.1" y1="1237.6" x2="432.1" y2="1237.6" stroke="#000" stroke-width="1.6"/>
<path d="M463,1141c.7 .5 1.1 0 1 3.1-.1 3.1-1.1 11-1.4 15.6-.3 4.5-.8 7-.6 11.8 .2 4.8 .9 11.3 1.6 17 .7 5.6 2.1 11.8 2.8 16.9 .7 5.1 1.4 9.3 1.6 13.6 .2 4.2 0 9-.2 11.8-.2 2.9-.3 4.1-.9 5.1-.6 1-1.1 .7-2.5 .9-1.4 .1-4.6 .1-6 0-1.4-.2-1.9 .1-2.5-.9-.6-1-.7-2.2-.9-5.1-.2-2.8-.4-7.6-.2-11.8 .2-4.3 .9-8.5 1.6-13.6 .7-5.1 2.1-11.3 2.8-16.9 .7-5.7 1.4-12.2 1.6-17 .2-4.8-.3-7.3-.6-11.8-.3-4.6-1.3-12.5-1.4-15.6-.1-3.1 .3-2.6 1-3.1 .7-.5 2.5-.5 3.2 0Z" fill="#ffdede" fill-opacity="1.0" stroke="#ff0000" stroke-width="1.3" stroke-linejoin="round"/>
<circle cx="461.4" cy="1143.6" r="2.5" fill="#ff0000" opacity="0.85"/>
<circle cx="461.4" cy="1197.8" r="2.5" fill="#ff0000" opacity="0.85"/>
<circle cx="461.4" cy="1217.3" r="2.5" fill="#ff0000" opacity="0.85"/>
<circle cx="461.4" cy="1235.9" r="2.5" fill="#ff0000" opacity="0.85"/>
<line x1="454.9" y1="1217.6" x2="467.9" y2="1217.6" stroke="#000" stroke-width="2" stroke-dasharray="6,1.5"/>
<path d="M482.2,1081.7c.1 4.5-.3 18.6 .6 27.1 .9 8.5 3.8 16.4 4.8 23.7 1 7.4 1.3 13.3 1.4 20.4 .1 7-.1 14.7-.6 22-.5 7.4-2.4 15-2.6 22-.2 7.1 1.3 13.6 1.2 20.4-.1 6.8-.9 13.1-1.6 20.3-.7 7.3-1.9 18.4-2.4 23.2-.5 4.8-.3 4.7-.5 5.6-.2 1-.4 1-.6 0-.2-.9 0-.8-.5-5.6-.5-4.8-1.7-15.9-2.4-23.2-.7-7.2-1.5-13.5-1.6-20.3-.1-6.8 1.4-13.3 1.2-20.4-.2-7-2.1-14.6-2.6-22-.5-7.3-.7-15-.6-22 .1-7.1 .4-13 1.4-20.4 1-7.3 3.9-15.2 4.8-23.7 .9-8.5 .5-22.6 .6-27.1 .1-4.5-.1-4.5 0 0Z" fill="#c9c9c9" fill-opacity="1.0" stroke="#000" stroke-width="1.0" stroke-linejoin="round"/>
<circle cx="482.2" cy="1131.7" r="2.3" fill="#5a5a5a" opacity="0.85"/>
<circle cx="482.2" cy="1141.9" r="2.3" fill="#5a5a5a" opacity="0.85"/>
<circle cx="482.2" cy="1163.4" r="2.3" fill="#5a5a5a" opacity="0.85"/>
<circle cx="482.2" cy="1173.2" r="2.3" fill="#5a5a5a" opacity="0.85"/>
<circle cx="482.2" cy="1212.2" r="2.3" fill="#5a5a5a" opacity="0.85"/>
<circle cx="482.2" cy="1231.2" r="2.3" fill="#5a5a5a" opacity="0.85"/>
<line x1="475.7" y1="1168.1" x2="488.7" y2="1168.1" stroke="#000" stroke-width="2" stroke-dasharray="7,2"/>
</g>
<line x1="64.1" y1="1004.0" x2="64.1" y2="1261.8" stroke="#000" stroke-width="2.2"/>
<line x1="53.4" y1="1260.8" x2="496.2" y2="1260.8" stroke="#000" stroke-width="2.2"/>
<text x="50.5" y="1266.6" font-size="16" text-anchor="end" stroke="#000">0</text>
<line x1="53.4" y1="1175.6" x2="64.1" y2="1175.6" stroke="#000" stroke-width="2.2"/>
<text x="50.5" y="1181.4" font-size="16" text-anchor="end" stroke="#000">20</text>
<line x1="53.4" y1="1090.3" x2="64.1" y2="1090.3" stroke="#000" stroke-width="2.2"/>
<text x="50.5" y="1096.1" font-size="16" text-anchor="end" stroke="#000">40</text>
<line x1="53.4" y1="1005.1" x2="64.1" y2="1005.1" stroke="#000" stroke-width="2.2"/>
<text x="50.5" y="1010.9" font-size="16" text-anchor="end" stroke="#000">60</text>
<line x1="53.4" y1="1005.1" x2="64.1" y2="1005.1" stroke="#000" stroke-width="2.2"/>
<line x1="87.3" y1="1260.8" x2="87.3" y2="1271.5" stroke="#000" stroke-width="2"/>
<line x1="142.4" y1="1260.8" x2="142.4" y2="1271.5" stroke="#000" stroke-width="2"/>
<line x1="197.1" y1="1260.8" x2="197.1" y2="1271.5" stroke="#000" stroke-width="2"/>
<line x1="252.0" y1="1260.8" x2="252.0" y2="1271.5" stroke="#000" stroke-width="2"/>
<line x1="307.0" y1="1260.8" x2="307.0" y2="1271.5" stroke="#000" stroke-width="2"/>
<line x1="361.7" y1="1260.8" x2="361.7" y2="1271.5" stroke="#000" stroke-width="2"/>
<line x1="416.8" y1="1260.8" x2="416.8" y2="1271.5" stroke="#000" stroke-width="2"/>
<line x1="471.4" y1="1260.8" x2="471.4" y2="1271.5" stroke="#000" stroke-width="2"/>
<text x="23.5" y="1129.0" font-size="19.5" text-anchor="middle" stroke="#000" transform="rotate(-90 23.5 1129.0)">% out of parent</text>
<text x="87.6" y="1294.2" font-size="17.5" text-anchor="middle" stroke="#000">NK</text>
<text x="142.4" y="1294.2" font-size="17.5" text-anchor="middle" stroke="#000">NKT</text>
<text transform="translate(202.6,1298.0) rotate(-27)" x="0" y="6.7" font-size="18.5" text-anchor="middle" fill="#000">CD8 E/EM</text>
<text transform="translate(256.8,1299.3) rotate(-27)" x="0" y="6.7" font-size="18.5" text-anchor="middle" fill="#000">CD4 E/EM</text>
<text transform="translate(307.6,1307.3) rotate(-33.8)" x="0" y="6.7" font-size="18.5" text-anchor="middle" fill="#000">CD8 Naive</text>
<text transform="translate(366.9,1307.3) rotate(-33.8)" x="0" y="6.7" font-size="18.5" text-anchor="middle" fill="#000">CD4 Naive</text>
<text transform="translate(421.7,1300.1) rotate(-36)" x="0" y="6.7" font-size="18.5" text-anchor="middle" fill="#000">CD8 CM</text>
<text transform="translate(470.0,1301.6) rotate(-36)" x="0" y="6.7" font-size="18.5" text-anchor="middle" fill="#000">CD4 CM</text>
<text x="89.4" y="1078.8" font-size="12" text-anchor="middle" stroke="#000">p=0.03</text>
<line x1="78.0" y1="1083.3" x2="102.5" y2="1083.3" stroke="#000" stroke-width="0.9"/>
<text x="193.5" y="997.0" font-size="12" text-anchor="middle" stroke="#000">p=0.03</text>
<line x1="184.7" y1="1001.5" x2="209.7" y2="1001.5" stroke="#000" stroke-width="0.9"/>
<text x="255.2" y="1077.5" font-size="12" text-anchor="middle" stroke="#000">p=0.03</text>
<line x1="240.7" y1="1082.0" x2="265.3" y2="1082.0" stroke="#000" stroke-width="0.9"/>
<text x="305.7" y="1210.5" font-size="12" text-anchor="middle" stroke="#000">p=0.03</text>
<line x1="293.6" y1="1215.0" x2="318.6" y2="1215.0" stroke="#000" stroke-width="0.9"/>
<text x="355.0" y="1191.0" font-size="12" text-anchor="middle" stroke="#000">p=0.03</text>
<line x1="347.5" y1="1195.5" x2="372.7" y2="1195.5" stroke="#000" stroke-width="0.9"/>
<text x="411.3" y="1205.4" font-size="12" text-anchor="middle" stroke="#000">p=0.03</text>
<line x1="404.0" y1="1209.9" x2="429.0" y2="1209.9" stroke="#000" stroke-width="0.9"/>
<text x="484.7" y="1001.7" font-size="17.7" text-anchor="end" fill="#ff0000" stroke="#ff0000">Blood</text>
<text x="486.3" y="1024.6" font-size="17.7" text-anchor="end" stroke="#000">LNs</text>
<text transform="translate(609.6,360.0) scale(0.857,1)" x="0" y="0" font-size="43.5" font-family="'DejaVu Sans', 'Liberation Sans', sans-serif" stroke="#000" stroke-width="0.5">E</text>
<text x="645.5" y="547.0" font-size="23.5" text-anchor="middle" stroke="#000" font-weight="bold" transform="rotate(-90 645.5 547.0)">CD8 E/EM</text>
<path d="M848.8,347.1H702.5V513.2" fill="none" stroke="#333" stroke-width="0.8"/>
<line x1="722.5" y1="513.2" x2="868.8" y2="513.2" stroke="#333" stroke-width="0.8"/>
<path d="M702.5,374.9h-1.8M702.5,382.8h-1.8M702.5,388.4h-1.8M702.5,392.7h-1.8M702.5,396.2h-1.8M702.5,399.2h-1.8M702.5,401.8h-1.8M702.5,404.1h-1.8M702.5,419.5h-1.8M702.5,427.3h-1.8M702.5,432.8h-1.8M702.5,437.1h-1.8M702.5,440.7h-1.8M702.5,443.6h-1.8M702.5,446.2h-1.8M702.5,448.5h-1.8M702.5,464.1h-1.8M702.5,472.1h-1.8M702.5,477.8h-1.8M702.5,482.1h-1.8M702.5,485.7h-1.8M702.5,488.8h-1.8M702.5,491.4h-1.8M702.5,493.7h-1.8M702.5,361.5h-4M702.5,406.1h-4M702.5,450.5h-4M702.5,495.8h-4" stroke="#000" stroke-width="0.8" fill="none"/>
<path d="M702.5,348.1h-1.8M702.5,361.5h-4" stroke="#000" stroke-width="0.8" fill="none"/>
<path d="M702.5,504.7h-3M702.5,508.1h-3M702.5,511.5h-3" stroke="#000" stroke-width="0.8"/>
<path d="M723.2,513.2v1.8M734.8,513.2v1.8M743.0,513.2v1.8M749.4,513.2v1.8M754.6,513.2v1.8M759.0,513.2v1.8M762.8,513.2v1.8M766.1,513.2v1.8M789.1,513.2v1.8M800.7,513.2v1.8M808.9,513.2v1.8M815.4,513.2v1.8M820.6,513.2v1.8M825.0,513.2v1.8M828.8,513.2v1.8M832.2,513.2v1.8M703.4,513.2v4M769.2,513.2v4M835.3,513.2v4" stroke="#000" stroke-width="0.8" fill="none"/>
<text x="697.1" y="363.5" font-size="5.5" text-anchor="end" fill="#222" stroke="#222">10<tspan dy="-2.475" font-size="4.125">6</tspan><tspan dy="2.475" font-size="1">&#8203;</tspan></text>
<text x="697.1" y="408.1" font-size="5.5" text-anchor="end" fill="#222" stroke="#222">10<tspan dy="-2.475" font-size="4.125">5</tspan><tspan dy="2.475" font-size="1">&#8203;</tspan></text>
<text x="697.1" y="452.5" font-size="5.5" text-anchor="end" fill="#222" stroke="#222">10<tspan dy="-2.475" font-size="4.125">4</tspan><tspan dy="2.475" font-size="1">&#8203;</tspan></text>
<text x="697.1" y="497.8" font-size="5.5" text-anchor="end" fill="#222" stroke="#222">10<tspan dy="-2.475" font-size="4.125">3</tspan><tspan dy="2.475" font-size="1">&#8203;</tspan></text>
<text x="711.5" y="527.1" font-size="5.5" text-anchor="middle" fill="#222" stroke="#222">10<tspan dy="-2.475" font-size="4.125">3</tspan><tspan dy="2.475" font-size="1">&#8203;</tspan></text>
<text x="774.2" y="527.1" font-size="5.5" text-anchor="middle" fill="#222" stroke="#222">10<tspan dy="-2.475" font-size="4.125">4</tspan><tspan dy="2.475" font-size="1">&#8203;</tspan></text>
<text x="840.3" y="527.1" font-size="5.5" text-anchor="middle" fill="#222" stroke="#222">10<tspan dy="-2.475" font-size="4.125">5</tspan><tspan dy="2.475" font-size="1">&#8203;</tspan></text>
<path d="M726.9,422.2h0.85M768.5,374.0h0.85M745.5,387.7h0.85M806.3,407.2h0.85M806.5,391.7h0.85M781.1,410.7h0.85M752.7,435.9h0.85M732.7,436.2h0.85M793.2,411.4h0.85M783.0,463.6h0.85M768.3,411.3h0.85M771.8,410.7h0.85M757.9,422.3h0.85M831.1,389.4h0.85M784.5,429.7h0.85M828.4,385.6h0.85M779.7,471.6h0.85M726.8,439.3h0.85M815.0,447.7h0.85M720.5,397.9h0.85M786.3,402.6h0.85M766.1,435.4h0.85M781.9,422.8h0.85M773.2,449.4h0.85M816.2,398.0h0.85M767.0,440.8h0.85M775.7,397.2h0.85M770.0,446.0h0.85M766.4,418.0h0.85M778.3,417.7h0.85M752.8,390.6h0.85M825.0,396.7h0.85M757.2,451.6h0.85M781.6,417.0h0.85M825.7,441.2h0.85M804.6,438.3h0.85M765.4,442.6h0.85M720.6,444.9h0.85M820.4,417.7h0.85M770.0,381.8h0.85M799.7,417.3h0.85M708.5,426.2h0.85M757.0,472.2h0.85M746.1,431.2h0.85M771.0,435.0h0.85M789.7,417.9h0.85M780.1,423.3h0.85M807.0,400.2h0.85M759.1,438.1h0.85M717.2,430.0h0.85M746.5,442.5h0.85M807.9,407.1h0.85M776.0,410.0h0.85M739.7,387.1h0.85M724.8,420.3h0.85M803.4,418.9h0.85M821.3,428.4h0.85M774.5,443.6h0.85M828.8,390.1h0.85M802.2,401.5h0.85M727.3,449.6h0.85M750.0,436.7h0.85M762.5,434.3h0.85M808.2,394.2h0.85M746.4,436.4h0.85M796.3,417.6h0.85M764.1,383.5h0.85M753.6,461.5h0.85M764.0,393.3h0.85M732.8,412.4h0.85M755.1,457.2h0.85M777.6,443.5h0.85M762.5,394.2h0.85M777.2,469.6h0.85M739.3,417.1h0.85M809.6,403.0h0.85M787.5,445.8h0.85M725.2,457.4h0.85M727.1,416.0h0.85M760.6,454.0h0.85M749.4,393.9h0.85M755.8,465.0h0.85M791.3,386.9h0.85M840.1,375.8h0.85M736.0,439.1h0.85M816.8,432.8h0.85M798.4,397.7h0.85M740.9,407.0h0.85M764.2,413.1h0.85M766.6,396.8h0.85M748.1,415.7h0.85M724.8,422.0h0.85M730.2,419.0h0.85M790.3,414.0h0.85M738.9,451.9h0.85M796.2,441.0h0.85M764.6,421.4h0.85M753.5,435.1h0.85M788.9,416.4h0.85M770.9,435.2h0.85M777.8,424.3h0.85M747.2,440.5h0.85M734.4,424.2h0.85M799.2,453.7h0.85M802.0,405.3h0.85M777.5,440.9h0.85M826.0,419.0h0.85M769.0,427.9h0.85M759.8,422.4h0.85M744.8,431.7h0.85M775.4,399.4h0.85M775.0,391.5h0.85M765.8,434.3h0.85M734.5,427.0h0.85M745.8,423.9h0.85M773.3,420.7h0.85M809.8,418.5h0.85M756.9,422.5h0.85M715.3,420.4h0.85M758.4,445.9h0.85M784.4,432.9h0.85M798.6,403.5h0.85M829.0,378.5h0.85M749.7,424.9h0.85M804.6,400.7h0.85M755.3,441.0h0.85M804.7,401.2h0.85M776.4,443.7h0.85M811.3,421.1h0.85M753.0,438.9h0.85M764.6,386.2h0.85M809.0,403.6h0.85M786.0,464.6h0.85M769.4,407.4h0.85M776.6,432.0h0.85M795.9,407.4h0.85M739.9,424.4h0.85M737.6,417.8h0.85M766.9,414.0h0.85M765.6,407.2h0.85M745.1,432.9h0.85M774.2,446.4h0.85M748.1,439.9h0.85M757.7,400.9h0.85M795.7,412.5h0.85M717.0,466.1h0.85M791.9,393.2h0.85M824.0,396.4h0.85M744.5,449.9h0.85M748.1,405.6h0.85M712.0,461.0h0.85M757.6,444.4h0.85M778.5,406.8h0.85M775.3,459.4h0.85M830.5,406.0h0.85M751.9,411.4h0.85M778.4,455.4h0.85M783.1,409.4h0.85M738.2,444.6h0.85M746.9,436.3h0.85M805.4,427.1h0.85M773.1,413.8h0.85M797.9,447.5h0.85M769.1,392.6h0.85M820.7,400.4h0.85M766.7,418.4h0.85M777.6,406.0h0.85M709.4,414.4h0.85M763.6,415.3h0.85M777.5,465.9h0.85M807.1,426.5h0.85M761.0,434.8h0.85M764.3,421.8h0.85M800.7,419.4h0.85M783.0,419.1h0.85M722.7,433.2h0.85M779.9,409.5h0.85M753.5,440.2h0.85M738.6,425.8h0.85M794.7,401.4h0.85M819.8,406.9h0.85M807.9,426.9h0.85M708.5,455.7h0.85M730.0,435.2h0.85M782.3,443.7h0.85M788.2,449.2h0.85M756.6,429.4h0.85M785.0,435.6h0.85M764.7,412.4h0.85M748.5,404.2h0.85M817.0,413.3h0.85M787.9,419.2h0.85M750.7,425.0h0.85M788.0,395.6h0.85M766.0,460.2h0.85M821.1,401.0h0.85M790.0,416.1h0.85M809.6,391.2h0.85M779.9,428.2h0.85M812.0,394.2h0.85M774.3,409.9h0.85M746.7,421.7h0.85M784.1,434.8h0.85M746.2,423.2h0.85M764.4,434.0h0.85M780.0,390.0h0.85M772.6,399.8h0.85M783.4,394.5h0.85M733.8,427.7h0.85M760.6,406.6h0.85M780.2,420.7h0.85M777.7,424.7h0.85M790.4,395.7h0.85M772.3,421.2h0.85M717.1,461.2h0.85M742.9,422.5h0.85M760.6,430.5h0.85M787.0,424.2h0.85M759.6,444.2h0.85M780.6,408.6h0.85M780.1,435.0h0.85M792.2,426.0h0.85M787.2,438.4h0.85M743.9,475.3h0.85M742.0,408.6h0.85M708.5,466.8h0.85M814.3,420.2h0.85M776.2,451.2h0.85M764.3,413.4h0.85M776.7,424.0h0.85M778.0,427.3h0.85M725.4,482.3h0.85M762.8,441.3h0.85M751.2,437.2h0.85M751.4,399.1h0.85M790.1,425.7h0.85M719.1,405.9h0.85M745.4,418.5h0.85M775.6,419.6h0.85M825.6,406.2h0.85M766.8,428.4h0.85M744.9,434.8h0.85M783.9,420.0h0.85M792.5,395.5h0.85M780.0,414.7h0.85M776.2,426.7h0.85M766.6,429.6h0.85M781.9,438.7h0.85M772.4,428.4h0.85M798.2,430.8h0.85M750.7,449.3h0.85M798.6,416.7h0.85M808.5,418.7h0.85M800.3,392.2h0.85M779.5,406.0h0.85M809.6,403.9h0.85M736.3,444.4h0.85M753.7,453.6h0.85M740.6,392.0h0.85M771.8,444.4h0.85M775.6,406.2h0.85M797.0,420.5h0.85M823.9,412.6h0.85M775.1,403.2h0.85M783.8,422.0h0.85M777.2,428.2h0.85M744.3,449.9h0.85M776.5,427.3h0.85M766.7,418.4h0.85M787.8,430.2h0.85M766.6,432.1h0.85M754.8,440.7h0.85M760.1,400.9h0.85M796.9,388.8h0.85M761.6,399.4h0.85M729.6,460.0h0.85M711.4,410.9h0.85M750.7,400.4h0.85M785.2,454.2h0.85M764.9,433.7h0.85M791.1,416.7h0.85M784.3,447.7h0.85M773.8,428.7h0.85M762.8,399.4h0.85M782.3,417.5h0.85M798.0,422.4h0.85M751.8,423.0h0.85M752.1,442.1h0.85M771.7,425.2h0.85M716.4,432.5h0.85M766.2,415.6h0.85M754.0,429.5h0.85M753.9,409.2h0.85M813.2,384.4h0.85M797.1,420.8h0.85M794.4,397.2h0.85M748.5,444.6h0.85M756.2,380.0h0.85M758.7,423.6h0.85M774.6,399.7h0.85M812.3,405.4h0.85M715.8,458.5h0.85M761.3,437.5h0.85M776.0,434.2h0.85M743.9,429.9h0.85M765.1,409.6h0.85M765.7,438.7h0.85M825.2,387.6h0.85M784.6,390.5h0.85M762.8,434.2h0.85M778.7,396.2h0.85M791.1,414.5h0.85M819.2,415.7h0.85M784.1,406.7h0.85M771.4,403.9h0.85M730.5,405.5h0.85" stroke="#333" stroke-width="0.85" fill="none" opacity="0.9"/>
<ellipse cx="787.8" cy="416.6" rx="40.0" ry="17.0" fill="none" stroke="#8a8a8a" stroke-width="0.55" transform="rotate(-33 787.8 416.6)"/>
<ellipse cx="787.8" cy="416.6" rx="35.2" ry="15.0" fill="none" stroke="#8a8a8a" stroke-width="0.55" transform="rotate(-33 787.8 416.6)"/>
<ellipse cx="787.8" cy="416.6" rx="30.4" ry="12.9" fill="none" stroke="#8a8a8a" stroke-width="0.55" transform="rotate(-33 787.8 416.6)"/>
<ellipse cx="787.8" cy="416.6" rx="25.6" ry="10.9" fill="none" stroke="#8a8a8a" stroke-width="0.55" transform="rotate(-33 787.8 416.6)"/>
<ellipse cx="787.8" cy="416.6" rx="20.8" ry="8.8" fill="none" stroke="#8a8a8a" stroke-width="0.55" transform="rotate(-33 787.8 416.6)"/>
<ellipse cx="787.8" cy="416.6" rx="16.0" ry="6.8" fill="none" stroke="#8a8a8a" stroke-width="0.55" transform="rotate(-33 787.8 416.6)"/>
<ellipse cx="787.8" cy="416.6" rx="11.2" ry="4.8" fill="none" stroke="#8a8a8a" stroke-width="0.55" transform="rotate(-33 787.8 416.6)"/>
<ellipse cx="791.2" cy="421.7" rx="16.0" ry="29.0" fill="none" stroke="#8a1cf5" stroke-width="0.6" stroke-dasharray="3,0.8" transform="rotate(14 791.2 421.7)"/>
<ellipse cx="791.2" cy="421.7" rx="13.9" ry="25.2" fill="none" stroke="#8a1cf5" stroke-width="0.6" stroke-dasharray="3,0.8" transform="rotate(14 791.2 421.7)"/>
<ellipse cx="791.2" cy="421.7" rx="11.8" ry="21.5" fill="none" stroke="#8a1cf5" stroke-width="0.6" stroke-dasharray="3,0.8" transform="rotate(14 791.2 421.7)"/>
<ellipse cx="791.2" cy="421.7" rx="9.8" ry="17.7" fill="none" stroke="#8a1cf5" stroke-width="0.6" stroke-dasharray="3,0.8" transform="rotate(14 791.2 421.7)"/>
<ellipse cx="791.2" cy="421.7" rx="7.7" ry="13.9" fill="none" stroke="#8a1cf5" stroke-width="0.6" stroke-dasharray="3,0.8" transform="rotate(14 791.2 421.7)"/>
<ellipse cx="791.2" cy="421.7" rx="5.6" ry="10.1" fill="none" stroke="#8a1cf5" stroke-width="0.6" stroke-dasharray="3,0.8" transform="rotate(14 791.2 421.7)"/>
<ellipse cx="786.1" cy="453.9" rx="25.0" ry="17.0" fill="none" stroke="#8a1cf5" stroke-width="0.6" stroke-dasharray="3,0.8" transform="rotate(-28 786.1 453.9)"/>
<ellipse cx="786.1" cy="453.9" rx="21.5" ry="14.6" fill="none" stroke="#8a1cf5" stroke-width="0.6" stroke-dasharray="3,0.8" transform="rotate(-28 786.1 453.9)"/>
<ellipse cx="786.1" cy="453.9" rx="18.0" ry="12.2" fill="none" stroke="#8a1cf5" stroke-width="0.6" stroke-dasharray="3,0.8" transform="rotate(-28 786.1 453.9)"/>
<ellipse cx="786.1" cy="453.9" rx="14.5" ry="9.9" fill="none" stroke="#8a1cf5" stroke-width="0.6" stroke-dasharray="3,0.8" transform="rotate(-28 786.1 453.9)"/>
<ellipse cx="786.1" cy="453.9" rx="11.0" ry="7.5" fill="none" stroke="#8a1cf5" stroke-width="0.6" stroke-dasharray="3,0.8" transform="rotate(-28 786.1 453.9)"/>
<ellipse cx="786.1" cy="453.9" rx="7.5" ry="5.1" fill="none" stroke="#8a1cf5" stroke-width="0.6" stroke-dasharray="3,0.8" transform="rotate(-28 786.1 453.9)"/>
<path d="M750.5,469.2c2,-8 12,-14 20,-12M754.7,472.5c8,4 14,-4 22,-4" fill="none" stroke="#8a1cf5" stroke-width="0.6" stroke-dasharray="3,1"/>
<path d="M703.1,505.6q6,0 8,7M703.1,508.1q3,0 4,4M752.2,512.4q14,-12 30,0M759.0,508.5h6M770.0,508.1h6" fill="none" stroke="#8a1cf5" stroke-width="0.7"/>
<text x="707.5" y="367.5" font-size="19.7" fill="#ff0000" stroke="#ff0000">Blood</text>
<line x1="680.2" y1="532.4" x2="680.2" y2="350.7" stroke="#000" stroke-width="2.2"/>
<polygon points="680.2,340.0 686.4,354.7 680.2,350.7 674.0,354.7" fill="#000"/>
<line x1="679.2" y1="532.4" x2="869.8" y2="532.4" stroke="#000" stroke-width="2.2"/>
<polygon points="880.5,532.4 865.8,538.6 869.8,532.4 865.8,526.2" fill="#000"/>
<text x="673.4" y="451.0" font-size="13.8" text-anchor="middle" stroke="#000" transform="rotate(-90 673.4 451.0)">PercevalHR-<tspan font-weight="bold">ATP</tspan></text>
<text x="778.9" y="548.8" font-size="14.7" text-anchor="middle" stroke="#000">PercevalHR-<tspan font-weight="bold">ADP</tspan></text>
<path d="M867.1,565.4H702.5" fill="none" stroke="#555" stroke-width="0.8"/>
<line x1="702.5" y1="565.4" x2="702.5" y2="729.3" stroke="#777" stroke-width="0.8"/>
<path d="M702.5,590.9h-1.8M702.5,577.6h-1.8M702.5,568.1h-1.8M702.5,613.7h-4" stroke="#000" stroke-width="0.7" fill="none"/>
<path d="M702.5,666.7h-1.8M702.5,653.3h-1.8M702.5,643.9h-1.8M702.5,636.5h-1.8M702.5,630.5h-1.8M702.5,625.5h-1.8M702.5,621.1h-1.8M702.5,617.2h-1.8M702.5,689.5h-4M702.5,613.7h-4" stroke="#000" stroke-width="0.7" fill="none"/>
<path d="M702.5,719.6h-1.8M702.5,712.3h-1.8M702.5,706.3h-1.8M702.5,701.2h-1.8M702.5,696.8h-1.8M702.5,693.0h-1.8M702.5,689.5h-4" stroke="#000" stroke-width="0.7" fill="none"/>
<clipPath id="cE3"><rect x="708.1" y="729.3" width="140.7" height="6"/></clipPath><g clip-path="url(#cE3)">
<path d="M683.3,729.7v1.8M700.0,729.7v1.8M711.9,729.7v1.8M721.1,729.7v1.8M728.6,729.7v1.8M735.0,729.7v1.8M740.5,729.7v1.8M745.3,729.7v1.8M778.2,729.7v1.8M794.9,729.7v1.8M806.8,729.7v1.8M816.0,729.7v1.8M823.5,729.7v1.8M829.9,729.7v1.8M835.4,729.7v1.8M840.2,729.7v1.8M654.7,729.7v4M749.7,729.7v4M844.6,729.7v4" stroke="#000" stroke-width="0.8" fill="none"/>
</g>
<text x="754.7" y="743.7" font-size="5.5" text-anchor="middle" fill="#222" stroke="#222">10<tspan dy="-2.475" font-size="4.125">4</tspan><tspan dy="2.475" font-size="1">&#8203;</tspan></text>
<text x="849.7" y="743.7" font-size="5.5" text-anchor="middle" fill="#222" stroke="#222">10<tspan dy="-2.475" font-size="4.125">5</tspan><tspan dy="2.475" font-size="1">&#8203;</tspan></text>
<text x="697.1" y="615.7" font-size="5.5" text-anchor="end" fill="#222" stroke="#222">10<tspan dy="-2.475" font-size="4.125">5</tspan><tspan dy="2.475" font-size="1">&#8203;</tspan></text>
<text x="697.1" y="691.5" font-size="5.5" text-anchor="end" fill="#222" stroke="#222">10<tspan dy="-2.475" font-size="4.125">4</tspan><tspan dy="2.475" font-size="1">&#8203;</tspan></text>
<path d="M741.7,635.2h0.85M795.9,632.4h0.85M754.1,657.8h0.85M821.5,635.7h0.85M797.4,634.4h0.85M796.7,653.9h0.85M751.1,669.1h0.85M764.6,614.6h0.85M737.0,661.9h0.85M781.9,667.9h0.85M768.2,620.0h0.85M799.9,637.5h0.85M829.5,618.3h0.85M740.7,648.0h0.85M782.0,617.1h0.85M817.2,604.5h0.85M790.8,623.0h0.85M781.3,599.6h0.85M753.6,612.5h0.85M778.5,604.9h0.85M821.7,642.5h0.85M811.6,605.8h0.85M835.5,595.1h0.85M796.6,630.5h0.85M787.1,647.0h0.85M737.6,624.4h0.85M826.7,586.7h0.85M790.0,642.6h0.85M768.7,617.5h0.85M780.0,615.5h0.85M809.5,607.3h0.85M798.1,648.4h0.85M731.0,636.9h0.85M835.2,634.4h0.85M791.9,613.2h0.85M842.3,609.1h0.85M808.6,571.1h0.85M781.2,612.3h0.85M769.3,664.4h0.85M814.9,602.6h0.85M805.4,659.3h0.85M816.7,610.7h0.85M814.8,618.3h0.85M751.3,648.2h0.85M813.5,633.0h0.85M749.9,641.4h0.85M761.0,614.2h0.85M837.5,610.9h0.85M792.8,680.4h0.85M731.5,627.6h0.85M822.7,651.9h0.85M806.4,595.7h0.85M819.6,622.8h0.85M810.2,629.2h0.85M837.1,630.2h0.85M853.1,615.8h0.85M771.1,597.7h0.85M797.1,587.9h0.85M717.3,637.4h0.85M813.3,624.6h0.85M821.3,618.3h0.85M782.2,661.3h0.85M757.8,616.8h0.85M832.3,616.8h0.85M764.8,645.4h0.85M840.8,621.4h0.85M776.3,673.6h0.85M716.3,690.3h0.85M808.1,617.0h0.85M782.2,596.1h0.85M799.1,640.4h0.85M769.6,652.4h0.85M765.8,590.8h0.85M784.9,653.1h0.85M748.4,665.0h0.85M793.1,596.9h0.85M800.0,650.5h0.85M808.8,593.1h0.85M833.8,610.6h0.85M819.1,653.0h0.85M825.1,617.8h0.85M835.9,617.9h0.85M836.6,596.4h0.85M759.4,698.4h0.85M829.3,619.0h0.85M798.1,625.5h0.85M789.8,608.3h0.85M823.2,611.7h0.85M770.4,655.4h0.85M787.0,635.3h0.85M846.5,665.0h0.85M768.6,660.7h0.85M825.3,619.3h0.85M840.0,585.4h0.85M787.2,635.7h0.85M767.1,680.5h0.85M764.7,667.3h0.85M826.0,584.8h0.85M789.8,628.6h0.85M855.6,592.7h0.85M754.4,689.1h0.85M775.6,586.9h0.85M848.0,629.5h0.85M736.8,707.6h0.85M820.2,611.1h0.85M779.9,651.8h0.85M773.8,650.2h0.85M784.4,626.0h0.85M826.8,633.4h0.85M831.4,615.5h0.85M802.2,630.0h0.85M780.1,632.7h0.85M830.7,665.4h0.85M804.3,620.8h0.85M823.1,636.2h0.85M812.1,663.3h0.85M773.8,679.8h0.85M832.2,630.0h0.85M844.6,587.1h0.85M814.2,623.3h0.85M769.6,628.2h0.85M783.0,662.1h0.85M709.9,658.1h0.85M815.7,650.5h0.85M809.5,653.9h0.85M789.6,619.7h0.85M750.1,668.4h0.85M854.2,589.1h0.85M771.5,663.4h0.85M740.6,639.3h0.85M838.4,609.5h0.85M831.6,609.8h0.85M796.2,634.1h0.85M800.0,655.3h0.85M734.4,623.5h0.85M781.4,664.8h0.85M753.4,598.2h0.85M798.5,643.4h0.85M807.7,616.4h0.85M754.2,674.5h0.85" stroke="#333" stroke-width="0.85" fill="none" opacity="0.9"/>
<path d="M751.3,682.7h0.9M813.5,633.1h0.9M716.9,698.9h0.9M819.1,651.9h0.9M741.8,694.3h0.9M811.1,665.1h0.9M806.0,650.0h0.9M782.9,673.2h0.9M816.4,635.7h0.9M796.5,689.7h0.9M780.0,649.3h0.9M801.9,623.8h0.9M758.6,700.1h0.9M798.2,668.7h0.9M810.4,627.6h0.9M804.3,640.0h0.9M799.9,656.2h0.9M773.4,643.5h0.9M800.7,650.8h0.9M798.4,630.3h0.9M794.7,650.5h0.9M771.0,666.6h0.9M766.5,647.0h0.9M764.7,667.1h0.9M805.1,644.1h0.9M847.6,628.8h0.9M803.2,653.0h0.9M740.8,701.5h0.9M825.7,611.3h0.9M844.2,631.6h0.9M795.7,645.3h0.9M782.4,647.6h0.9M789.4,659.8h0.9M779.6,640.7h0.9M817.0,625.1h0.9M810.0,655.9h0.9M806.5,696.9h0.9M798.1,661.0h0.9M783.7,669.7h0.9M749.6,700.9h0.9" stroke="#8a1cf5" stroke-width="0.9" fill="none" opacity="0.9"/>
<ellipse cx="794.6" cy="634.9" rx="28.0" ry="36.0" fill="none" stroke="#999" stroke-width="0.55" transform="rotate(25 794.6 634.9)"/>
<ellipse cx="794.6" cy="636.9" rx="24.9" ry="32.0" fill="none" stroke="#999" stroke-width="0.55" transform="rotate(25 794.6 634.9)"/>
<ellipse cx="794.6" cy="639.0" rx="21.8" ry="28.1" fill="none" stroke="#999" stroke-width="0.55" transform="rotate(25 794.6 634.9)"/>
<ellipse cx="794.6" cy="641.0" rx="18.8" ry="24.1" fill="none" stroke="#999" stroke-width="0.55" transform="rotate(25 794.6 634.9)"/>
<ellipse cx="794.6" cy="643.1" rx="15.7" ry="20.2" fill="none" stroke="#999" stroke-width="0.55" transform="rotate(25 794.6 634.9)"/>
<ellipse cx="794.6" cy="645.1" rx="12.6" ry="16.2" fill="none" stroke="#999" stroke-width="0.55" transform="rotate(25 794.6 634.9)"/>
<ellipse cx="794.6" cy="647.1" rx="9.5" ry="12.2" fill="none" stroke="#999" stroke-width="0.55" transform="rotate(25 794.6 634.9)"/>
<ellipse cx="794.6" cy="649.2" rx="6.4" ry="8.3" fill="none" stroke="#999" stroke-width="0.55" transform="rotate(25 794.6 634.9)"/>
<ellipse cx="786.9" cy="668.0" rx="35.0" ry="22.0" fill="none" stroke="#8a1cf5" stroke-width="0.6" stroke-dasharray="3,0.8" transform="rotate(-38 786.9 668.0)"/>
<ellipse cx="786.3" cy="668.6" rx="31.5" ry="19.8" fill="none" stroke="#8a1cf5" stroke-width="0.6" stroke-dasharray="3,0.8" transform="rotate(-38 786.9 668.0)"/>
<ellipse cx="785.6" cy="669.3" rx="28.0" ry="17.6" fill="none" stroke="#8a1cf5" stroke-width="0.6" stroke-dasharray="3,0.8" transform="rotate(-38 786.9 668.0)"/>
<ellipse cx="784.9" cy="670.0" rx="24.5" ry="15.4" fill="none" stroke="#8a1cf5" stroke-width="0.6" stroke-dasharray="3,0.8" transform="rotate(-38 786.9 668.0)"/>
<ellipse cx="784.2" cy="670.7" rx="21.0" ry="13.2" fill="none" stroke="#8a1cf5" stroke-width="0.6" stroke-dasharray="3,0.8" transform="rotate(-38 786.9 668.0)"/>
<ellipse cx="783.6" cy="671.4" rx="17.5" ry="11.0" fill="none" stroke="#8a1cf5" stroke-width="0.6" stroke-dasharray="3,0.8" transform="rotate(-38 786.9 668.0)"/>
<ellipse cx="782.9" cy="672.0" rx="14.0" ry="8.8" fill="none" stroke="#8a1cf5" stroke-width="0.6" stroke-dasharray="3,0.8" transform="rotate(-38 786.9 668.0)"/>
<ellipse cx="782.2" cy="672.7" rx="10.5" ry="6.6" fill="none" stroke="#8a1cf5" stroke-width="0.6" stroke-dasharray="3,0.8" transform="rotate(-38 786.9 668.0)"/>
<ellipse cx="781.5" cy="673.4" rx="7.0" ry="4.4" fill="none" stroke="#8a1cf5" stroke-width="0.6" stroke-dasharray="3,0.8" transform="rotate(-38 786.9 668.0)"/>
<text x="707.7" y="583.2" font-size="19.6" stroke="#000">LNs</text>
<line x1="680.5" y1="749.0" x2="680.5" y2="569.3" stroke="#000" stroke-width="2.2"/>
<polygon points="680.5,558.6 686.7,573.3 680.5,569.3 674.3,573.3" fill="#000"/>
<line x1="679.5" y1="749.0" x2="872.3" y2="749.0" stroke="#000" stroke-width="2.2"/>
<polygon points="883.0,749.0 868.3,755.2 872.3,749.0 868.3,742.8" fill="#000"/>
<text x="673.4" y="658.2" font-size="13.8" text-anchor="middle" stroke="#000" transform="rotate(-90 673.4 658.2)">PercevalHR-<tspan font-weight="bold">ATP</tspan></text>
<text x="775.0" y="765.4" font-size="13.7" text-anchor="middle" stroke="#000">PercevalHR-<tspan font-weight="bold">ADP</tspan></text>
<path d="M964.7,513.2L974.9,511.5L980.0,489.5L984.2,464.1L988.5,459.0L991.9,438.6L996.9,404.7L1001.2,383.6L1002.9,387.8L1004.6,408.1L1007.1,399.7L1009.7,401.4L1012.2,418.3L1015.6,442.0L1019.0,453.9L1021.5,464.1L1024.9,477.6L1029.2,489.5L1034.2,496.3L1039.3,502.2L1044.4,507.3L1051.2,507.8L1056.3,509.5L1063.1,511.5L1069.8,512.9L1107.1,513.1Z" fill="#c6c6c6" stroke="#333" stroke-width="0.6" stroke-linejoin="round"/>
<path d="M965.6,513.2L972.4,509.8L975.8,498.0L978.3,472.5L980.8,452.2L982.5,459.0L985.1,481.0L988.5,499.7L991.9,506.4L998.6,507.3L1003.7,507.3L1008.8,510.7L1015.6,511.5L1022.4,510.2L1029.2,513.2Z" fill="#8a1cf5" fill-opacity="0.22" stroke="#8a1cf5" stroke-width="0.8" stroke-dasharray="4,1" stroke-linejoin="round"/>
<path d="M943.1,513.2L944.4,479.3L945.8,513.2Z" fill="#c6c6c6" stroke="#444" stroke-width="0.6"/>
<path d="M1108.3,513.2L1109.7,465.8L1111.0,513.2Z" fill="#c6c6c6" stroke="#444" stroke-width="0.6"/>
<rect x="942.7" y="347.1" width="167.8" height="166.1" fill="none" stroke="#555" stroke-width="0.9"/>
<path d="M942.7,363.2h-1.6M942.7,371.1h-1.6M942.7,379.0h-1.6M942.7,394.8h-1.6M942.7,402.6h-1.6M942.7,410.5h-1.6M942.7,426.3h-1.6M942.7,434.2h-1.6M942.7,442.2h-1.6M942.7,458.0h-1.6M942.7,465.8h-1.6M942.7,473.6h-1.6M942.7,489.2h-1.6M942.7,497.1h-1.6M942.7,505.0h-1.6M942.7,355.3h-4.5M942.7,386.9h-4.5M942.7,418.3h-4.5M942.7,450.2h-4.5M942.7,481.4h-4.5M942.7,512.9h-4.5M984.1,513.2v1.6M992.0,513.2v1.6M999.9,513.2v1.6M1007.7,513.2v1.6M1023.5,513.2v1.6M1031.4,513.2v1.6M1039.3,513.2v1.6M1047.2,513.2v1.6M1062.9,513.2v1.6M1070.8,513.2v1.6M1078.7,513.2v1.6M1086.5,513.2v1.6M1102.3,513.2v1.6M1110.1,513.2v1.6M976.3,513.2v4M1015.6,513.2v4M1055.1,513.2v4M1094.4,513.2v4" stroke="#000" stroke-width="0.8" fill="none"/>
<text x="935.7" y="357.3" font-size="5.3" text-anchor="end" fill="#222" stroke="#222">100</text>
<text x="935.7" y="388.9" font-size="5.3" text-anchor="end" fill="#222" stroke="#222">80</text>
<text x="935.7" y="420.3" font-size="5.3" text-anchor="end" fill="#222" stroke="#222">60</text>
<text x="935.7" y="452.2" font-size="5.3" text-anchor="end" fill="#222" stroke="#222">40</text>
<text x="935.7" y="483.4" font-size="5.3" text-anchor="end" fill="#222" stroke="#222">20</text>
<text x="935.7" y="514.9" font-size="5.3" text-anchor="end" fill="#222" stroke="#222">0</text>
<text x="976.3" y="525.5" font-size="5.3" text-anchor="middle" fill="#222" stroke="#222">0</text>
<text x="1015.6" y="525.5" font-size="5.3" text-anchor="middle" fill="#222" stroke="#222">5.0</text>
<text x="1055.1" y="525.5" font-size="5.3" text-anchor="middle" fill="#222" stroke="#222">10</text>
<text x="1094.4" y="525.5" font-size="5.3" text-anchor="middle" fill="#222" stroke="#222">15</text>
<text x="1107.6" y="365.8" font-size="17" text-anchor="end" stroke="#000"><tspan fill="#8a1cf5" stroke="#8a1cf5">Glut1</tspan><tspan dy="-7" font-size="10" fill="#8a1cf5" stroke="#8a1cf5">+</tspan><tspan dy="7" font-size="1">&#8203;</tspan></text>
<text x="1106.6" y="384.3" font-size="17" text-anchor="end" stroke="#000"><tspan fill="#8c8c8c" stroke="#8c8c8c">Glut1</tspan><tspan dy="-7" font-size="10" fill="#8c8c8c" stroke="#8c8c8c">-</tspan><tspan dy="7" font-size="1">&#8203;</tspan></text>
<line x1="919.8" y1="531.9" x2="919.8" y2="350.7" stroke="#000" stroke-width="2.2"/>
<polygon points="919.8,340.0 926.0,354.7 919.8,350.7 913.6,354.7" fill="#000"/>
<line x1="918.8" y1="531.9" x2="1109.1" y2="531.9" stroke="#000" stroke-width="2.2"/>
<polygon points="1119.8,531.9 1105.1,538.1 1109.1,531.9 1105.1,525.7" fill="#000"/>
<text x="915.2" y="439.2" font-size="13.7" text-anchor="middle" stroke="#000" transform="rotate(-90 915.2 439.2)">Count</text>
<text x="1023.7" y="548.5" font-size="14.5" text-anchor="middle" stroke="#000">ATP:ADP</text>
<path d="M974.9,734.9L978.3,726.4L980.8,675.6L982.5,624.7L984.2,591.7L985.9,597.6L987.6,624.7L989.3,658.6L991.9,689.2L996.9,702.7L1001.2,712.9L1007.1,721.4L1013.9,726.4L1020.7,730.7L1030.8,734.6Z" fill="#c6c6c6" stroke="#333" stroke-width="0.6" stroke-linejoin="round"/>
<path d="M974.9,734.9L978.3,718.0L980.3,658.6L982.2,607.8L983.7,624.7L985.1,675.6L987.6,718.0L991.9,731.5L999.5,734.6Z" fill="#8a1cf5" fill-opacity="0.22" stroke="#8a1cf5" stroke-width="0.8" stroke-dasharray="4,1" stroke-linejoin="round"/>
<path d="M943.6,568.0V734.9H1110.5" fill="none" stroke="#777" stroke-width="0.9"/>
<line x1="1110.5" y1="568.0" x2="1110.5" y2="735.9" stroke="#000" stroke-width="1.2"/>
<path d="M943.6,583.9h-1.6M943.6,591.9h-1.6M943.6,599.8h-1.6M943.6,615.7h-1.6M943.6,623.6h-1.6M943.6,631.6h-1.6M943.6,647.5h-1.6M943.6,655.4h-1.6M943.6,663.4h-1.6M943.6,679.2h-1.6M943.6,687.0h-1.6M943.6,694.9h-1.6M943.6,710.6h-1.6M943.6,718.6h-1.6M943.6,726.5h-1.6M943.6,575.9h-4.5M943.6,607.8h-4.5M943.6,639.5h-4.5M943.6,671.4h-4.5M943.6,702.7h-4.5M943.6,734.4h-4.5M983.6,734.9v1.6M991.5,734.9v1.6M999.4,734.9v1.6M1007.2,734.9v1.6M1023.0,734.9v1.6M1030.9,734.9v1.6M1038.8,734.9v1.6M1046.7,734.9v1.6M1062.5,734.9v1.6M1070.4,734.9v1.6M1078.3,734.9v1.6M1086.2,734.9v1.6M1102.0,734.9v1.6M1109.9,734.9v1.6M975.8,734.9v4M1015.1,734.9v4M1054.6,734.9v4M1094.1,734.9v4" stroke="#000" stroke-width="0.8" fill="none"/>
<text x="936.6" y="577.9" font-size="5.3" text-anchor="end" fill="#222" stroke="#222">100</text>
<text x="936.6" y="609.8" font-size="5.3" text-anchor="end" fill="#222" stroke="#222">80</text>
<text x="936.6" y="641.5" font-size="5.3" text-anchor="end" fill="#222" stroke="#222">60</text>
<text x="936.6" y="673.4" font-size="5.3" text-anchor="end" fill="#222" stroke="#222">40</text>
<text x="936.6" y="704.7" font-size="5.3" text-anchor="end" fill="#222" stroke="#222">20</text>
<text x="936.6" y="736.4" font-size="5.3" text-anchor="end" fill="#222" stroke="#222">0</text>
<text x="975.8" y="747.2" font-size="5.3" text-anchor="middle" fill="#222" stroke="#222">0</text>
<text x="1015.1" y="747.2" font-size="5.3" text-anchor="middle" fill="#222" stroke="#222">5.0</text>
<text x="1054.6" y="747.2" font-size="5.3" text-anchor="middle" fill="#222" stroke="#222">10</text>
<text x="1094.1" y="747.2" font-size="5.3" text-anchor="middle" fill="#222" stroke="#222">15</text>
<text x="1107.6" y="585.0" font-size="17" text-anchor="end" stroke="#000"><tspan fill="#8a1cf5" stroke="#8a1cf5">Glut1</tspan><tspan dy="-7" font-size="10" fill="#8a1cf5" stroke="#8a1cf5">+</tspan><tspan dy="7" font-size="1">&#8203;</tspan></text>
<text x="1106.6" y="603.5" font-size="17" text-anchor="end" stroke="#000"><tspan fill="#8c8c8c" stroke="#8c8c8c">Glut1</tspan><tspan dy="-7" font-size="10" fill="#8c8c8c" stroke="#8c8c8c">-</tspan><tspan dy="7" font-size="1">&#8203;</tspan></text>
<line x1="919.8" y1="749.7" x2="919.8" y2="569.0" stroke="#000" stroke-width="2.2"/>
<polygon points="919.8,558.3 926.0,573.0 919.8,569.0 913.6,573.0" fill="#000"/>
<line x1="918.8" y1="749.7" x2="1108.8" y2="749.7" stroke="#000" stroke-width="2.2"/>
<polygon points="1119.5,749.7 1104.8,755.9 1108.8,749.7 1104.8,743.5" fill="#000"/>
<text x="915.2" y="660.5" font-size="13.7" text-anchor="middle" stroke="#000" transform="rotate(-90 915.2 660.5)">Count</text>
<text x="1023.7" y="765.4" font-size="14.5" text-anchor="middle" stroke="#000">ATP:ADP</text>
<text transform="translate(609.3,820.7) scale(0.9,1)" x="0" y="0" font-size="43.5" font-family="'DejaVu Sans', 'Liberation Sans', sans-serif" stroke="#000" stroke-width="0.5">F</text>
<clipPath id="cF1"><rect x="690" y="790" width="420" height="261.6"/></clipPath><g clip-path="url(#cF1)">
<path d="M713.9,908.6c2 .2 .7 0 .8 1.1 .1 1.1 .2 3.2-.3 5.7-.5 2.5-2.8 5.3-3 9-.2 3.8 2 9.6 2 13.6 0 4-1.4 7.4-1.8 10.5-.4 3.1-.4 6.3-.6 7.8-.2 1.5 .2 1-.6 1.2-.8 .2-3.2 .2-4 0-.8-.2-.4 .3-.6-1.2-.2-1.5-.2-4.7-.6-7.8-.4-3.1-1.8-6.5-1.8-10.5 0-4 2.2-9.8 2-13.6-.2-3.7-2.5-6.5-3-9-.5-2.5-.4-4.6-.3-5.7 .1-1.1-1.2-.9 .8-1.1 2-.1 9-.1 11 0Z" fill="#c8c8c8" fill-opacity="1.0" stroke="#000" stroke-width="1.3" stroke-linejoin="round"/>
<path d="M706.1,910.1a2.1,2.1 0 1,0 4.2,0a2.1,2.1 0 1,0 -4.2,0ZM705.7,911h4.2v4.2h-4.2ZM706.6,914.6L708.9,918.8L704.3,918.8ZM710.2,940.3L712.5,936.1L707.9,936.1ZM705.9,940L708.5,942.5L705.9,945L703.4,942.5ZM706.3,955.3a2.1,2.1 0 1,0 4.2,0a2.1,2.1 0 1,0 -4.2,0Z" fill="#5e5e5e"/>
<line x1="703.6" y1="926.7" x2="710.8" y2="926.7" stroke="#000" stroke-width="2"/>
<path d="M728.1,870.3c.2 0-.1 12 .5 18 .6 6 2.8 13.1 3 18.1 .2 5-1.8 7.5-1.6 12 .2 4.5 1.8 9.3 2.6 15.1 .8 5.7 2.1 12.5 2 19.5-.1 7-1.9 15.1-2.9 22.6-1 7.5-2.3 15.6-2.9 22.5-.6 6.9-.5 18.8-.7 18.8-.2 0-.1-11.9-.7-18.8-.6-6.9-1.9-15-2.9-22.5-1-7.5-2.8-15.6-2.9-22.6-.1-7 1.2-13.8 2-19.5 .8-5.8 2.4-10.6 2.6-15.1 .2-4.5-1.8-7-1.6-12 .2-5 2.4-12.1 3-18.1 .6-6 .3-18 .5-18Z" fill="#efe3ff" fill-opacity="1.0" stroke="#8a1cf5" stroke-width="1.6" stroke-linejoin="round"/>
<path d="M728,906.1a2.1,2.1 0 1,0 4.2,0a2.1,2.1 0 1,0 -4.2,0ZM723.9,924.1h4.2v4.2h-4.2ZM728.4,931.1L730.7,935.3L726.1,935.3ZM728.7,949.3L731,945.1L726.4,945.1ZM725.8,952.7L728.3,955.3L725.8,957.8L723.3,955.3ZM725.4,968.1a2.1,2.1 0 1,0 4.2,0a2.1,2.1 0 1,0 -4.2,0ZM727,969.7h4.2v4.2h-4.2ZM727.9,978.5L730.2,982.7L725.6,982.7Z" fill="#a65cf0"/>
<line x1="721.9" y1="951.5" x2="734.3" y2="951.5" stroke="#000" stroke-width="2" stroke-dasharray="8,2.5"/>
<path d="M763.3,843.9c1 .2 .3-1.3 .6 1.1 .3 2.4 .7 8.3 1.2 13.2 .5 5 1.8 10.6 1.9 16.6 .1 6-1 13.3-1.5 19.5-.5 6.3-1.1 12.6-1.2 18.1-.1 5.5 .6 11 .8 15 .2 4 .5 6.9 .6 9.1 .1 2.1 0 3.1-.2 3.9-.2 .7 .5 .5-1 .6-1.5 .1-6.5 .1-8 0-1.5-.1-.8 .1-1-.6-.2-.8-.3-1.8-.2-3.9 .1-2.2 .4-5.1 .6-9.1 .2-4 .9-9.5 .8-15-.1-5.5-.8-11.8-1.2-18.1-.5-6.2-1.6-13.5-1.5-19.5 .1-6 1.4-11.6 1.9-16.6 .5-4.9 .9-10.8 1.2-13.2 .3-2.4-.4-.9 .6-1.1 1-.1 4.6-.1 5.6 0Z" fill="#c8c8c8" fill-opacity="1.0" stroke="#000" stroke-width="1.3" stroke-linejoin="round"/>
<path d="M759.5,867.3a2.1,2.1 0 1,0 4.2,0a2.1,2.1 0 1,0 -4.2,0ZM756.7,872.7h4.2v4.2h-4.2ZM759.2,901.1L761.5,905.3L756.9,905.3ZM758.6,936.5L760.9,932.3L756.2,932.3ZM760.5,938.2L763.1,940.7L760.5,943.2L758,940.7Z" fill="#5e5e5e"/>
<line x1="755.7" y1="888.8" x2="762.9" y2="888.8" stroke="#000" stroke-width="2"/>
<path d="M779.6,834.2c.1 0-.2 12 .4 18 .6 6 2 11.8 3 18.1 1 6.2 2.8 13.5 2.9 19.5 .1 6-1.7 11.8-2.5 16.6-.8 4.7-2.3 8-2.3 12 0 4 1.3 7.5 2.1 12 .8 4.6 2.8 10.1 2.9 15.1 .1 5-1.5 10-2.5 15-1 5-2.7 8.9-3.4 15.1-.7 6.1-.4 21.8-.6 21.8-.2 0 .1-15.7-.6-21.8-.7-6.2-2.4-10.1-3.4-15.1-1-5-2.6-10-2.5-15 .1-5 2.1-10.5 2.9-15.1 .8-4.5 2.1-8 2.1-12 0-4-1.5-7.3-2.3-12-.8-4.8-2.6-10.6-2.5-16.6 .1-6 1.9-13.3 2.9-19.5 1-6.3 2.4-12.1 3-18.1 .6-6 .3-18 .4-18Z" fill="#efe3ff" fill-opacity="1.0" stroke="#8a1cf5" stroke-width="1.6" stroke-linejoin="round"/>
<path d="M779.6,877a2.1,2.1 0 1,0 4.2,0a2.1,2.1 0 1,0 -4.2,0ZM778,885h4.2v4.2h-4.2ZM781,888.3L783.3,892.5L778.7,892.5ZM779,902.2L781.3,898L776.7,898ZM780.8,935.4L783.4,938L780.8,940.5L778.3,938ZM775.5,943.2a2.1,2.1 0 1,0 4.2,0a2.1,2.1 0 1,0 -4.2,0ZM776.5,944.9h4.2v4.2h-4.2ZM780.5,952.2L782.8,956.4L778.2,956.4Z" fill="#a65cf0"/>
<line x1="774.8" y1="919.2" x2="782.0" y2="919.2" stroke="#000" stroke-width="2"/>
<path d="M815.6,870.3c1.2 .1 .5-1.1 .3 .9-.2 2-1 7.2-1.5 11.1-.5 3.9-1.7 7.5-1.6 12 .1 4.6 1.2 10.6 2 15.1 .8 4.5 2 8.3 2.6 12 .6 3.8 1 7 1 10.5 0 3.6-.5 7.7-.8 10.6-.3 2.9-.8 5.4-1.2 6.7-.4 1.4 .3 1.3-1 1.6-1.3 .2-5.5 .2-6.8 0-1.3-.3-.6-.2-1-1.6-.4-1.3-.9-3.8-1.2-6.7-.3-2.9-.8-7-.8-10.6 0-3.5 .4-6.7 1-10.5 .6-3.7 1.8-7.5 2.6-12 .8-4.5 1.9-10.5 2-15.1 .1-4.5-1.1-8.1-1.6-12-.5-3.9-1.3-9.1-1.5-11.1-.2-2-1-.8 .3-.9 1.2-.2 6-.2 7.2 0Z" fill="#c8c8c8" fill-opacity="1.0" stroke="#000" stroke-width="1.3" stroke-linejoin="round"/>
<path d="M811,871.8a2.1,2.1 0 1,0 4.2,0a2.1,2.1 0 1,0 -4.2,0ZM809.5,926.1h4.2v4.2h-4.2ZM809.9,931.1L812.2,935.3L807.6,935.3ZM810.8,940.3L813.1,936.1L808.5,936.1ZM810.5,947.5L813.1,950L810.5,952.5L808,950Z" fill="#5e5e5e"/>
<line x1="807.2" y1="928.2" x2="814.4" y2="928.2" stroke="#000" stroke-width="2"/>
<path d="M831,862.7c0 5.1 .1 22.6 .3 30.1 .2 7.6 .6 10.6 .9 15.1 .3 4.5 .8 8.3 .8 12 0 3.8-.5 5-.6 10.5-.1 5.6-.2 15.1-.1 22.6 .1 7.5 .3 15.6 .9 22.6 .6 7 1.9 12.5 2.6 19.5 .7 7.1 1.8 15.8 1.8 22.6 0 6.8-1.2 12.4-2 18.1-.8 5.6-2.2 12.5-2.8 15.8-.6 3.2-.1 3.1-.6 3.7-.5 .6-1.9 .6-2.4 0-.5-.6 0-.5-.6-3.7-.6-3.3-2-10.2-2.8-15.8-.8-5.7-2-11.3-2-18.1 0-6.8 1.1-15.5 1.8-22.6 .7-7 2-12.5 2.6-19.5 .6-7 .8-15.1 .9-22.6 .1-7.5 0-17-.1-22.6-.1-5.5-.6-6.7-.6-10.5 0-3.7 .5-7.5 .8-12 .3-4.5 .7-7.5 .9-15.1 .2-7.5 .2-25 .3-30.1 0-5 0-5 0 0Z" fill="#efe3ff" fill-opacity="1.0" stroke="#8a1cf5" stroke-width="1.6" stroke-linejoin="round"/>
<path d="M827.8,920.7a2.1,2.1 0 1,0 4.2,0a2.1,2.1 0 1,0 -4.2,0ZM830.4,958.4h4.2v4.2h-4.2ZM829.5,1002.6L831.8,1006.8L827.2,1006.8ZM832.9,1014L835.2,1009.8L830.6,1009.8ZM832.9,1015.2L835.4,1017.7L832.9,1020.2L830.4,1017.7ZM826.7,1022.2a2.1,2.1 0 1,0 4.2,0a2.1,2.1 0 1,0 -4.2,0ZM828.3,1032.2h4.2v4.2h-4.2Z" fill="#a65cf0"/>
<line x1="824.8" y1="1009.4" x2="837.2" y2="1009.4" stroke="#000" stroke-width="2" stroke-dasharray="8,2.5"/>
<path d="M865.7,898.9c.9 .1 .7-1.3 .7 1 0 2.3-.1 7.4-.5 12.5-.4 5.1-1.7 12.8-1.6 18 .1 5.3 1.5 8.8 2.4 13.6 1 4.7 2.8 11.4 3.3 15 .5 3.7-.2 5.2-.5 6.8-.2 1.6-.7 2-1 2.6-.3 .5 .5 .5-1 .6-1.5 .1-6.5 .1-8 0-1.5-.1-.7-.1-1-.6-.3-.6-.8-1-1-2.6-.2-1.6-1-3.1-.5-6.8 .5-3.6 2.3-10.3 3.3-15 1-4.8 2.3-8.3 2.4-13.6 .1-5.2-1.2-12.9-1.6-18-.4-5.1-.5-10.2-.5-12.5 0-2.3-.2-.9 .7-1 .9-.2 3.6-.2 4.4 0Z" fill="#c8c8c8" fill-opacity="1.0" stroke="#000" stroke-width="1.3" stroke-linejoin="round"/>
<path d="M861.4,900.4a2.1,2.1 0 1,0 4.2,0a2.1,2.1 0 1,0 -4.2,0ZM859,913.3h4.2v4.2h-4.2ZM863.1,948.4L865.4,952.6L860.8,952.6ZM865.5,962.8L867.8,958.6L863.2,958.6ZM861.6,960.3L864.1,962.8L861.6,965.3L859,962.8ZM861.9,968.1a2.1,2.1 0 1,0 4.2,0a2.1,2.1 0 1,0 -4.2,0Z" fill="#5e5e5e"/>
<line x1="858.7" y1="955.6" x2="865.9" y2="955.6" stroke="#000" stroke-width="2"/>
<path d="M882.8,883.1c.1 3.3 .1 14.9 .4 20.3 .3 5.4 1 8.2 1.4 12 .4 3.8 1.1 7 1.2 10.5 .1 3.5-.5 7.3-.8 10.6-.2 3.2-.9 5-.7 9 .2 4 1 9.5 1.7 15 .7 5.5 1.8 11.8 2.4 18.1 .6 6.3 1.1 13 1 19.5-.1 6.6-.8 13.3-1.6 19.6-.8 6.3-2.2 12.5-3 18.1-.8 5.5-1.2 12.5-1.6 15-.4 2.5-.4 2.5-.8 0-.4-2.5-.8-9.5-1.6-15-.8-5.6-2.2-11.8-3-18.1-.8-6.3-1.5-13-1.6-19.6-.1-6.5 .4-13.2 1-19.5 .6-6.3 1.7-12.6 2.4-18.1 .7-5.5 1.5-11 1.7-15 .2-4-.5-5.8-.7-9-.3-3.3-.9-7.1-.8-10.6 .1-3.5 .8-6.7 1.2-10.5 .4-3.8 1.1-6.6 1.4-12 .3-5.4 .3-17 .4-20.3 .1-3.4-.1-3.4 0 0Z" fill="#efe3ff" fill-opacity="1.0" stroke="#8a1cf5" stroke-width="1.6" stroke-linejoin="round"/>
<path d="M878.8,926.7a2.1,2.1 0 1,0 4.2,0a2.1,2.1 0 1,0 -4.2,0ZM881.1,966h4.2v4.2h-4.2ZM884.8,976.3L887.1,980.5L882.5,980.5ZM881.3,999.7L883.6,995.5L879,995.5ZM880.3,1003.1L882.9,1005.7L880.3,1008.2L877.8,1005.7ZM878.6,1008.7a2.1,2.1 0 1,0 4.2,0a2.1,2.1 0 1,0 -4.2,0ZM880.9,1018.6h4.2v4.2h-4.2Z" fill="#a65cf0"/>
<line x1="878.0" y1="987.6" x2="885.2" y2="987.6" stroke="#000" stroke-width="2"/>
<path d="M916.6,928.2c.6 .4 .4-.1 .5 2.2 .1 2.4 .1 8.3 .1 12.1 0 3.7-.2 6.7 0 10.5 .2 3.8 .6 8.3 1 12 .4 3.8 .8 6.3 1.3 10.6 .5 4.2 1.2 10.5 1.5 15 .3 4.5 .5 8.7 .5 12.1 0 3.3-.1 6.5-.3 8.2-.2 1.7-.5 1.6-.8 2-.3 .4 .6 .5-1 .6-1.6 .1-7.2 .1-8.8 0-1.6-.1-.7-.2-1-.6-.3-.4-.6-.3-.8-2-.2-1.7-.3-4.9-.3-8.2 0-3.4 .2-7.6 .5-12.1 .3-4.5 1-10.8 1.5-15 .5-4.3 .9-6.8 1.3-10.6 .4-3.7 .8-8.2 1-12 .2-3.8 0-6.8 0-10.5 0-3.8 0-9.7 .1-12.1 .1-2.3-.1-1.8 .5-2.2 .6-.4 2.6-.4 3.2 0Z" fill="#c8c8c8" fill-opacity="1.0" stroke="#000" stroke-width="1.3" stroke-linejoin="round"/>
<path d="M910.5,933.5a2.1,2.1 0 1,0 4.2,0a2.1,2.1 0 1,0 -4.2,0ZM910.8,965.2h4.2v4.2h-4.2ZM915,983L917.3,987.2L912.7,987.2ZM917.1,997.4L919.4,993.2L914.8,993.2ZM914.6,1004.7L917.1,1007.2L914.6,1009.7L912.1,1007.2ZM912.4,1012.4a2.1,2.1 0 1,0 4.2,0a2.1,2.1 0 1,0 -4.2,0Z" fill="#5e5e5e"/>
<line x1="910.2" y1="989.9" x2="917.4" y2="989.9" stroke="#000" stroke-width="2"/>
<path d="M934.3,945.5c.2 0 .1 7.9 .6 12 .5 4.2 2.1 9.1 2.4 12.8 .3 3.8-1.1 5.9-.8 9.8 .3 3.9 1.7 8.5 2.4 13.5 .7 5 1.9 11.6 1.7 16.6-.2 5-1.8 9.8-2.7 13.5-.9 3.8-2.4 5.2-3 9-.6 3.9-.4 14.3-.6 14.3-.2 0 0-10.4-.6-14.3-.6-3.8-2.1-5.2-3-9-1-3.7-2.5-8.5-2.7-13.5-.2-5 1-11.6 1.7-16.6 .7-5 2.1-9.6 2.4-13.5 .3-3.9-1.1-6-.8-9.8 .3-3.7 1.9-8.6 2.4-12.8 .5-4.1 .4-12 .6-12Z" fill="#efe3ff" fill-opacity="1.0" stroke="#8a1cf5" stroke-width="1.6" stroke-linejoin="round"/>
<path d="M932.9,970.3a2.1,2.1 0 1,0 4.2,0a2.1,2.1 0 1,0 -4.2,0ZM930.2,985.5h4.2v4.2h-4.2ZM934.7,998.8L937,1003L932.4,1003ZM932.7,1014L935,1009.8L930.4,1009.8ZM934.8,1012.2L937.4,1014.7L934.8,1017.2L932.3,1014.7ZM934.5,1021.5a2.1,2.1 0 1,0 4.2,0a2.1,2.1 0 1,0 -4.2,0Z" fill="#a65cf0"/>
<line x1="929.5" y1="1004.9" x2="936.7" y2="1004.9" stroke="#000" stroke-width="2"/>
<path d="M968.8,944c.8 .2 .5-.5 .6 1 .1 1.5-.2 4.9-.1 8 .1 3.1 .2 7 .7 10.5 .5 3.6 1.7 7.3 2.2 10.6 .5 3.2 .8 5.2 .9 9 .1 3.8-.2 9.5-.3 13.5-.1 4.1-.4 8.4-.6 10.6-.2 2.2-.2 2.1-.4 2.7-.2 .5 .5 .5-1 .6-1.5 .1-6.5 .1-8 0-1.5-.1-.8-.1-1-.6-.2-.6-.2-.5-.4-2.7-.2-2.2-.5-6.5-.6-10.6-.1-4-.4-9.7-.3-13.5 .1-3.8 .4-5.8 .9-9 .5-3.3 1.7-7 2.2-10.6 .5-3.5 .6-7.4 .7-10.5 .1-3.1-.2-6.5-.1-8 .1-1.5-.2-.8 .6-1 .8-.2 3.2-.2 4 0Z" fill="#c8c8c8" fill-opacity="1.0" stroke="#000" stroke-width="1.3" stroke-linejoin="round"/>
<path d="M962.5,945.5a2.1,2.1 0 1,0 4.2,0a2.1,2.1 0 1,0 -4.2,0ZM965,970.5h4.2v4.2h-4.2ZM967.3,980L969.6,984.2L965,984.2ZM965,989.2L967.4,985L962.7,985ZM965.6,999.4L968.2,1001.9L965.6,1004.4L963.1,1001.9ZM967.2,1009.4a2.1,2.1 0 1,0 4.2,0a2.1,2.1 0 1,0 -4.2,0Z" fill="#5e5e5e"/>
<line x1="962.0" y1="984.6" x2="969.2" y2="984.6" stroke="#000" stroke-width="2"/>
<path d="M986,936.5c.2 0 .1 8.1 .6 12 .5 3.9 2.2 7.3 2.4 11.3 .1 4-1.7 9.1-1.5 12.8 .2 3.6 2.1 6 2.9 9 .8 3 2 6 2.1 9 .1 3-1 6-1.3 9-.3 3.1-.3 6.1-.7 9.1-.4 3-1.2 6-1.9 9-.7 3-1.7 5.8-2.1 9-.4 3.3-.3 10.6-.5 10.6-.2 0-.1-7.3-.5-10.6-.4-3.2-1.4-6-2.1-9-.7-3-1.5-6-1.9-9-.4-3-.4-6-.7-9.1-.3-3-1.4-6-1.3-9 .1-3 1.3-6 2.1-9 .8-3 2.7-5.4 2.9-9 .2-3.7-1.6-8.8-1.5-12.8 .1-4 1.9-7.4 2.4-11.3 .5-3.9 .4-12 .6-12Z" fill="#efe3ff" fill-opacity="1.0" stroke="#8a1cf5" stroke-width="1.6" stroke-linejoin="round"/>
<path d="M986.4,960.2a2.1,2.1 0 1,0 4.2,0a2.1,2.1 0 1,0 -4.2,0ZM982,982.5h4.2v4.2h-4.2ZM987,987.6L989.3,991.8L984.7,991.8ZM988.3,998.9L990.6,994.7L985.9,994.7ZM984.7,1006.2L987.2,1008.7L984.7,1011.2L982.2,1008.7ZM984.5,1013.2a2.1,2.1 0 1,0 4.2,0a2.1,2.1 0 1,0 -4.2,0Z" fill="#a65cf0"/>
<line x1="979.8" y1="992.9" x2="992.2" y2="992.9" stroke="#000" stroke-width="2" stroke-dasharray="8,2.5"/>
<path d="M1020.8,982.3c.9 .2 .6-.3 .7 1.1 .1 1.4-.3 4.8-.1 7.2 .2 2.5 .7 5 1.2 7.5 .5 2.6 1.6 5.2 1.8 7.6 .2 2.3-.3 4.6-.4 6.7-.1 2.2-.4 4-.3 6.1 .1 2 .7 4.5 .9 6 .2 1.4 .3 2 .2 2.5-.1 .6 1.2 .8-.8 .9-2 .2-9.2 .2-11.2 0-2-.1-.7-.3-.8-.9-.1-.5 0-1.1 .2-2.5 .2-1.5 .8-4 .9-6 .1-2.1-.2-3.9-.3-6.1-.1-2.1-.6-4.4-.4-6.7 .2-2.4 1.3-5 1.8-7.6 .5-2.5 1-5 1.2-7.5 .2-2.4-.2-5.8-.1-7.2 .1-1.4-.2-.9 .7-1.1 .9-.1 3.9-.1 4.8 0Z" fill="#c8c8c8" fill-opacity="1.0" stroke="#000" stroke-width="1.3" stroke-linejoin="round"/>
<path d="M1014,983.9a2.1,2.1 0 1,0 4.2,0a2.1,2.1 0 1,0 -4.2,0ZM1015.6,994.5h4.2v4.2h-4.2ZM1019.3,1002.6L1021.6,1006.8L1017,1006.8ZM1018.9,1016.3L1021.2,1012.1L1016.5,1012.1ZM1019.8,1024.2L1022.3,1026.7L1019.8,1029.2L1017.3,1026.7Z" fill="#5e5e5e"/>
<line x1="1013.6" y1="1009.7" x2="1020.8" y2="1009.7" stroke="#000" stroke-width="2"/>
<path d="M1037.5,913.1c.2 0 .1 10.2 .7 14.3 .6 4.2 2.1 7.2 3.1 10.6 1 3.4 2.4 6.9 2.7 9.7 .3 2.9-.8 5.1-1.1 7.6-.3 2.5-.9 5.1-.9 7.5 0 2.4 .8 4.6 1.1 6.8 .3 2.1 1.1 3 .9 6-.2 3-1.4 8.3-1.9 12-.5 3.8-.8 7-1.2 10.5-.4 3.6-.9 6.8-1.4 10.6-.5 3.7-1.2 8.4-1.5 12-.3 3.6-.3 9.8-.5 9.8-.2 0-.2-6.2-.5-9.8-.3-3.6-1-8.3-1.5-12-.5-3.8-1-7-1.4-10.6-.4-3.5-.7-6.7-1.2-10.5-.5-3.7-1.7-9-1.9-12-.2-3 .6-3.9 .9-6 .3-2.2 1.1-4.4 1.1-6.8 0-2.4-.6-5-.9-7.5-.3-2.5-1.4-4.7-1.1-7.6 .3-2.8 1.7-6.3 2.7-9.7 1-3.4 2.5-6.4 3.1-10.6 .6-4.1 .5-14.3 .7-14.3Z" fill="#efe3ff" fill-opacity="1.0" stroke="#8a1cf5" stroke-width="1.6" stroke-linejoin="round"/>
<path d="M1033.3,941.7a2.1,2.1 0 1,0 4.2,0a2.1,2.1 0 1,0 -4.2,0ZM1034.6,945.6h4.2v4.2h-4.2ZM1039.3,956.7L1041.6,960.9L1037,960.9ZM1037.9,977.9L1040.2,973.7L1035.6,973.7ZM1037.3,976.1L1039.8,978.6L1037.3,981.1L1034.7,978.6ZM1034.9,983.9a2.1,2.1 0 1,0 4.2,0a2.1,2.1 0 1,0 -4.2,0ZM1037.8,999.1h4.2v4.2h-4.2Z" fill="#a65cf0"/>
<line x1="1032.7" y1="968.1" x2="1039.9" y2="968.1" stroke="#000" stroke-width="2"/>
<path d="M1071.9,901.9c.8 .1 .7-1.2 .6 1-.1 2.3-1.1 8.7-1 12.5 .1 3.8 .8 6.8 1.4 10.5 .6 3.8 1.5 8.3 2 12.1 .5 3.7 1 7.2 1.2 10.5 .3 3.3 .4 5.8 .3 9-.1 3.3-.6 7.5-.9 10.6-.3 3-.9 5.5-1.2 7.5-.3 2-.4 3.6-.6 4.5-.2 .9 .3 .7-.8 .9-1.1 .1-4.9 .1-6 0-1.1-.2-.6 0-.8-.9-.2-.9-.3-2.5-.6-4.5-.3-2-.8-4.5-1.2-7.5-.3-3.1-.8-7.3-.9-10.6-.1-3.2 0-5.7 .3-9 .2-3.3 .7-6.8 1.2-10.5 .5-3.8 1.4-8.3 2-12.1 .6-3.7 1.3-6.7 1.4-10.5 .1-3.8-.9-10.2-1-12.5-.1-2.2-.2-.9 .6-1 .8-.2 3.2-.2 4 0Z" fill="#c8c8c8" fill-opacity="1.0" stroke="#000" stroke-width="1.3" stroke-linejoin="round"/>
<path d="M1068.2,903.4a2.1,2.1 0 1,0 4.2,0a2.1,2.1 0 1,0 -4.2,0ZM1065.4,935.1h4.2v4.2h-4.2ZM1071.4,943.2L1073.7,947.4L1069.1,947.4ZM1069,962.1L1071.4,957.9L1066.7,957.9ZM1069.6,963.3L1072.1,965.8L1069.6,968.3L1067,965.8ZM1066.4,980.1a2.1,2.1 0 1,0 4.2,0a2.1,2.1 0 1,0 -4.2,0Z" fill="#5e5e5e"/>
<line x1="1065.1" y1="952.7" x2="1072.3" y2="952.7" stroke="#000" stroke-width="2"/>
<path d="M1089.4,845.4c.1 0 0 18.7 .3 24.9 .3 6.1 1.2 8.7 1.7 12 .5 3.3 .9 4.8 1 7.5 .1 2.8-.4 6-.5 9.1-.1 3-.7 5.7-.3 9 .4 3.2 1.9 6.7 2.6 10.5 .7 3.8 1.6 8 1.7 12 .1 4.1-.2 7.1-.9 12.1-.7 5-2.4 12.5-3 18-.6 5.5-.3 10.1-.4 15.1-.1 5 .2 10.5 0 15-.2 4.5-.7 8.3-1 12.1-.3 3.7-.5 5-.7 10.5-.2 5.5-.3 22.6-.5 22.6-.2 0-.3-17.1-.5-22.6-.2-5.5-.4-6.8-.7-10.5-.3-3.8-.8-7.6-1-12.1-.2-4.5 .1-10 0-15-.1-5 .2-9.6-.4-15.1-.6-5.5-2.3-13-3-18-.6-5-1-8-.9-12.1 .1-4 1-8.2 1.7-12 .7-3.8 2.2-7.3 2.6-10.5 .4-3.3-.2-6-.3-9-.1-3.1-.6-6.3-.5-9.1 .1-2.7 .5-4.2 1-7.5 .5-3.3 1.4-5.9 1.7-12 .3-6.2 .2-24.9 .3-24.9Z" fill="#efe3ff" fill-opacity="1.0" stroke="#8a1cf5" stroke-width="1.6" stroke-linejoin="round"/>
<path d="M1087,890.6a2.1,2.1 0 1,0 4.2,0a2.1,2.1 0 1,0 -4.2,0ZM1086.4,916.3h4.2v4.2h-4.2ZM1087.3,924.4L1089.7,928.6L1085,928.6ZM1090,932.8L1092.4,928.6L1087.7,928.6ZM1087.4,937L1089.9,939.5L1087.4,942L1084.9,939.5ZM1088.7,962.8a2.1,2.1 0 1,0 4.2,0a2.1,2.1 0 1,0 -4.2,0ZM1084.9,968.2h4.2v4.2h-4.2ZM1090.8,988.3L1093.1,992.5L1088.5,992.5Z" fill="#a65cf0"/>
<line x1="1083.2" y1="934.5" x2="1095.6" y2="934.5" stroke="#000" stroke-width="2" stroke-dasharray="8,2.5"/>
</g>
<line x1="696.1" y1="809.5" x2="696.1" y2="1052.2" stroke="#1a1a1a" stroke-width="1.3"/>
<line x1="686.3" y1="1051.6" x2="1103.9" y2="1051.6" stroke="#1a1a1a" stroke-width="1.3"/>
<line x1="686.3" y1="810.1" x2="696.1" y2="810.1" stroke="#1a1a1a" stroke-width="1.3"/>
<text x="684.0" y="815.3" font-size="14.5" text-anchor="end" stroke="#000">8</text>
<line x1="686.3" y1="870.3" x2="696.1" y2="870.3" stroke="#1a1a1a" stroke-width="1.3"/>
<text x="684.0" y="875.5" font-size="14.5" text-anchor="end" stroke="#000">6</text>
<line x1="686.3" y1="930.1" x2="696.1" y2="930.1" stroke="#1a1a1a" stroke-width="1.3"/>
<text x="684.0" y="935.3" font-size="14.5" text-anchor="end" stroke="#000">4</text>
<line x1="686.3" y1="990.3" x2="696.1" y2="990.3" stroke="#1a1a1a" stroke-width="1.3"/>
<text x="684.0" y="995.5" font-size="14.5" text-anchor="end" stroke="#000">2</text>
<line x1="686.3" y1="1051.6" x2="696.1" y2="1051.6" stroke="#1a1a1a" stroke-width="1.3"/>
<text x="684.0" y="1056.8" font-size="14.5" text-anchor="end" stroke="#000">0</text>
<line x1="718.4" y1="1051.6" x2="718.4" y2="1061.6" stroke="#1a1a1a" stroke-width="1.3"/>
<line x1="770.1" y1="1051.6" x2="770.1" y2="1061.6" stroke="#1a1a1a" stroke-width="1.3"/>
<line x1="821.7" y1="1051.6" x2="821.7" y2="1061.6" stroke="#1a1a1a" stroke-width="1.3"/>
<line x1="873.6" y1="1051.6" x2="873.6" y2="1061.6" stroke="#1a1a1a" stroke-width="1.3"/>
<line x1="925.6" y1="1051.6" x2="925.6" y2="1061.6" stroke="#1a1a1a" stroke-width="1.3"/>
<line x1="977.5" y1="1051.6" x2="977.5" y2="1061.6" stroke="#1a1a1a" stroke-width="1.3"/>
<line x1="1029.2" y1="1051.6" x2="1029.2" y2="1061.6" stroke="#1a1a1a" stroke-width="1.3"/>
<line x1="1078.3" y1="1051.6" x2="1078.3" y2="1061.6" stroke="#1a1a1a" stroke-width="1.3"/>
<text x="718.7" y="1082.4" font-size="17.4" text-anchor="middle" stroke="#000">NK</text>
<text x="770.1" y="1082.4" font-size="17.4" text-anchor="middle" stroke="#000">NKT</text>
<text transform="translate(827.0,1085.0) rotate(-27.8)" x="0" y="6.3" font-size="17.6" text-anchor="middle" fill="#000">CD8 E/EM</text>
<text transform="translate(879.0,1085.0) rotate(-27.8)" x="0" y="6.3" font-size="17.6" text-anchor="middle" fill="#000">CD4 E/EM</text>
<text transform="translate(925.8,1091.2) rotate(-33.5)" x="0" y="6.3" font-size="17.6" text-anchor="middle" fill="#000">CD8 Naive</text>
<text transform="translate(979.6,1091.2) rotate(-33.5)" x="0" y="6.3" font-size="17.6" text-anchor="middle" fill="#000">CD4 Naive</text>
<text transform="translate(1033.0,1086.5) rotate(-35.6)" x="0" y="6.3" font-size="17.6" text-anchor="middle" fill="#000">CD8 CM</text>
<text transform="translate(1077.8,1088.0) rotate(-35.6)" x="0" y="6.3" font-size="17.6" text-anchor="middle" fill="#000">CD4 CM</text>
<text x="703.6" y="804.0" font-size="19.7" fill="#ff0000" stroke="#ff0000">Blood</text>
<text x="673.6" y="928.2" font-size="19" text-anchor="middle" stroke="#000" transform="rotate(-90 673.6 928.2)">ATP:ADP</text>
<text x="1104.2" y="807.0" font-size="17" text-anchor="end" stroke="#000"><tspan fill="#8a1cf5" stroke="#8a1cf5">Glut1</tspan><tspan dy="-7" font-size="10" fill="#8a1cf5" stroke="#8a1cf5">+</tspan><tspan dy="7" font-size="1">&#8203;</tspan></text>
<text x="1103.2" y="825.9" font-size="17" text-anchor="end" stroke="#000"><tspan fill="#8c8c8c" stroke="#8c8c8c">Glut1</tspan><tspan dy="-7" font-size="10" fill="#8c8c8c" stroke="#8c8c8c">-</tspan><tspan dy="7" font-size="1">&#8203;</tspan></text>
<text x="720.3" y="872.0" font-size="11.5" text-anchor="middle" stroke="#000">p=0.003</text>
<line x1="706.6" y1="865.8" x2="717.5" y2="865.8" stroke="#333" stroke-width="0.9"/>
<text x="771.8" y="827.8" font-size="11.5" text-anchor="middle" stroke="#000">p=0.003</text>
<line x1="757.8" y1="831.5" x2="780.8" y2="831.5" stroke="#333" stroke-width="0.9"/>
<text x="821.0" y="855.2" font-size="11.5" text-anchor="middle" stroke="#000">p=0.0006</text>
<line x1="809.0" y1="858.4" x2="832.0" y2="858.4" stroke="#333" stroke-width="0.9"/>
<text x="871.4" y="876.3" font-size="11.5" text-anchor="middle" stroke="#000">p=0.006</text>
<line x1="860.0" y1="879.3" x2="883.7" y2="879.3" stroke="#333" stroke-width="0.9"/>
<text x="921.8" y="937.7" font-size="11.5" text-anchor="middle" stroke="#000">p=0.0007</text>
<line x1="911.6" y1="927.7" x2="935.0" y2="927.7" stroke="#333" stroke-width="0.9"/>
<text x="977.8" y="937.2" font-size="11.5" text-anchor="middle" stroke="#000">p=0.0003</text>
<line x1="963.5" y1="928.6" x2="986.0" y2="928.6" stroke="#333" stroke-width="0.9"/>
<text x="1029.7" y="907.1" font-size="11.5" text-anchor="middle" stroke="#000">p=0.0008</text>
<line x1="1015.9" y1="909.4" x2="1038.7" y2="909.4" stroke="#333" stroke-width="0.9"/>
<path d="M712.1,1304.3c.8 .2 .4-.6 .6 1 .2 1.7 0 6.3 .4 8.8 .4 2.4 1.4 4 2 6 .6 2 1.4 4 1.5 6 .1 2-.4 4-.9 6-.5 2-1.6 3.8-2.1 6-.5 2.3-.6 5.7-.8 7.6-.1 1.8 0 3-.1 3.7-.1 .8 .2 .7-.6 .8-.8 .1-3.2 .1-4 0-.8-.1-.5 0-.6-.8-.1-.7 0-1.9-.1-3.7-.1-1.9-.3-5.3-.8-7.6-.5-2.2-1.6-4-2.1-6-.5-2-1-4-.9-6 .1-2 .9-4 1.5-6 .6-2 1.6-3.6 2-6 .4-2.5 .2-7.1 .4-8.8 .2-1.6-.2-.8 .6-1 .8-.2 3.2-.2 4 0Z" fill="#c8c8c8" fill-opacity="1.0" stroke="#000" stroke-width="1.3" stroke-linejoin="round"/>
<path d="M709.5,1305.8a2.1,2.1 0 1,0 4.2,0a2.1,2.1 0 1,0 -4.2,0ZM708,1318h4.2v4.2h-4.2ZM711.1,1323L713.5,1327.2L708.8,1327.2ZM708.8,1335.9L711.2,1331.7L706.5,1331.7ZM711.3,1346.2L713.8,1348.7L711.3,1351.2L708.8,1348.7Z" fill="#5e5e5e"/>
<line x1="703.9" y1="1325.8" x2="716.3" y2="1325.8" stroke="#000" stroke-width="2" stroke-dasharray="8,2.5"/>
<path d="M729.4,1344.2c.3 0 .5 3.1 .8 4.5 .3 1.4 1.1 2.4 1.2 3.7 .1 1.4-1.1 3.2-.8 4.5 .3 1.4 1.9 2.6 2.8 3.8 .9 1.2 2.4 2.2 2.5 3.3 .1 1.1-.9 2-2 3.5-1.1 1.4-3 5.2-4.5 5.2-1.5 0-3.4-3.8-4.5-5.2-1.1-1.5-2.1-2.4-2-3.5 .1-1.1 1.6-2.1 2.5-3.3 .9-1.2 2.5-2.4 2.8-3.8 .3-1.3-.9-3.1-.8-4.5 .1-1.3 .9-2.3 1.2-3.7 .3-1.4 .5-4.5 .8-4.5Z" fill="#efe3ff" fill-opacity="1.0" stroke="#8a1cf5" stroke-width="1.6" stroke-linejoin="round"/>
<path d="M726.9,1351.7a2.1,2.1 0 1,0 4.2,0a2.1,2.1 0 1,0 -4.2,0ZM726,1358.6h4.2v4.2h-4.2ZM731.7,1362.2L734,1366.4L729.4,1366.4ZM728.9,1369L731.2,1364.8L726.6,1364.8Z" fill="#a65cf0"/>
<line x1="723.2" y1="1363.4" x2="735.6" y2="1363.4" stroke="#000" stroke-width="2" stroke-dasharray="8,2.5"/>
<path d="M766.5,1234.3c1.7 .2 .8-1 1 1.2 .2 2.3 .3 6.6 .4 12.4 .1 5.8 .4 16.3 .3 22.5-.1 6.3-.7 10.1-1.1 15.1-.4 5-1.2 10-1.2 15 0 5 .6 10.6 1 15.1 .4 4.5 1.1 8.7 1.3 12 .2 3.3-.2 6.3-.3 7.8-.1 1.6 0 1.2-.2 1.5-.2 .4 .5 .5-1.2 .6-1.7 .1-7.5 .1-9.2 0-1.7-.1-1-.2-1.2-.6-.2-.3-.1 .1-.2-1.5-.1-1.5-.5-4.5-.3-7.8 .2-3.3 .9-7.5 1.3-12 .4-4.5 1-10.1 1-15.1 0-5-.8-10-1.2-15-.4-5-1-8.8-1.1-15.1-.1-6.2 .2-16.7 .3-22.5 .1-5.8 .2-10.1 .4-12.4 .2-2.2-.7-1 1-1.2 1.7-.2 7.5-.2 9.2 0Z" fill="#c8c8c8" fill-opacity="1.0" stroke="#000" stroke-width="1.3" stroke-linejoin="round"/>
<path d="M759.2,1235.8a2.1,2.1 0 1,0 4.2,0a2.1,2.1 0 1,0 -4.2,0ZM761.6,1246.5h4.2v4.2h-4.2ZM761.2,1250.1L763.6,1254.3L758.9,1254.3ZM762.7,1274.3L765,1270.1L760.4,1270.1ZM760.3,1289L762.8,1291.5L760.3,1294L757.7,1291.5ZM761.5,1326.9a2.1,2.1 0 1,0 4.2,0a2.1,2.1 0 1,0 -4.2,0ZM758.6,1327.8h4.2v4.2h-4.2ZM759.7,1334.3L762,1338.5L757.3,1338.5Z" fill="#5e5e5e"/>
<line x1="757.1" y1="1281.7" x2="764.3" y2="1281.7" stroke="#000" stroke-width="2"/>
<path d="M780.8,1295.3c.3 0 .4 6.7 1 9.7 .6 3.1 2.2 5.3 2.5 8.3 .3 3-.9 6.4-.5 9.8 .4 3.4 2.4 7.3 3 10.5 .6 3.3 .7 6 .5 9.1-.2 3-.6 6-1.5 9-.9 3-3.2 5.8-4 9-.8 3.3-.7 10.5-1 10.5-.3 0-.2-7.2-1-10.5-.8-3.2-3.1-6-4-9-.9-3-1.3-6-1.5-9-.2-3.1-.1-5.8 .5-9.1 .6-3.2 2.6-7.1 3-10.5 .4-3.4-.8-6.8-.5-9.8 .3-3 1.9-5.2 2.5-8.3 .6-3 .7-9.7 1-9.7Z" fill="#efe3ff" fill-opacity="1.0" stroke="#8a1cf5" stroke-width="1.6" stroke-linejoin="round"/>
<path d="M781.1,1313.3a2.1,2.1 0 1,0 4.2,0a2.1,2.1 0 1,0 -4.2,0ZM777.1,1328.5h4.2v4.2h-4.2ZM783,1331.3L785.3,1335.5L780.7,1335.5ZM783.2,1344.2L785.5,1340L780.9,1340ZM781.3,1344.7L783.9,1347.2L781.3,1349.7L778.8,1347.2ZM776.3,1350.2a2.1,2.1 0 1,0 4.2,0a2.1,2.1 0 1,0 -4.2,0Z" fill="#a65cf0"/>
<line x1="776.0" y1="1338.1" x2="783.2" y2="1338.1" stroke="#000" stroke-width="2"/>
<path d="M815.1,1317.1c.6 .2 .3-.1 .4 1.2 .1 1.2-.4 4.6 0 6.3 .4 1.7 1.5 2.6 2.2 3.8 .7 1.2 2 2.4 2.1 3.4 .1 1-1.2 1.9-1.7 2.6-.5 .7-.8 1.3-1.1 1.6-.3 .4 .1 .5-.9 .6-1 .1-4.2 .1-5.2 0-1-.1-.6-.2-.9-.6-.3-.3-.6-.9-1.1-1.6-.5-.7-1.8-1.6-1.7-2.6 .1-1 1.4-2.2 2.1-3.4 .7-1.2 1.8-2.1 2.2-3.8 .4-1.7-.1-5.1 0-6.3 .1-1.3-.2-1 .4-1.2 .6-.2 2.6-.2 3.2 0Z" fill="#c8c8c8" fill-opacity="1.0" stroke="#000" stroke-width="1.3" stroke-linejoin="round"/>
<path d="M809.2,1319.3a2.1,2.1 0 1,0 4.2,0a2.1,2.1 0 1,0 -4.2,0ZM809.9,1328.5h4.2v4.2h-4.2ZM812.9,1329.8L815.3,1334L810.6,1334ZM814.1,1338.2L816.4,1334L811.7,1334Z" fill="#5e5e5e"/>
<line x1="807.3" y1="1331.8" x2="819.7" y2="1331.8" stroke="#000" stroke-width="2" stroke-dasharray="8,2.5"/>
<path d="M832.7,1350.2c1.2 0 2.4 2.5 3.5 3.7 1.1 1.3 2.8 2.7 3 3.8 .2 1.1-1 2-1.5 3-.5 1-1 2-1.5 3-.5 1-.7 2-1.3 3-.6 1-1.5 3-2.2 3-.7 0-1.6-2-2.2-3-.6-1-.8-2-1.3-3-.5-1-1-2-1.5-3-.5-1-1.8-1.9-1.5-3 .2-1.1 1.9-2.5 3-3.8 1.1-1.2 2.3-3.7 3.5-3.7Z" fill="#efe3ff" fill-opacity="1.0" stroke="#8a1cf5" stroke-width="1.6" stroke-linejoin="round"/>
<path d="M832.9,1354.7a2.1,2.1 0 1,0 4.2,0a2.1,2.1 0 1,0 -4.2,0ZM829.9,1355.6h4.2v4.2h-4.2ZM830.9,1356.9L833.2,1361.1L828.6,1361.1ZM833,1364.5L835.3,1360.3L830.7,1360.3ZM830.9,1363.5L833.4,1366L830.9,1368.5L828.4,1366Z" fill="#a65cf0"/>
<line x1="826.5" y1="1358.2" x2="838.9" y2="1358.2" stroke="#000" stroke-width="2" stroke-dasharray="8,2.5"/>
<path d="M869.4,1277.2c1.5 .3 1 .5 1 1.5 0 1-.6 3.2-1 4.5-.4 1.4-1.6 2.2-1.5 3.8 .1 1.6 1.5 4.1 2.1 6 .6 1.9 1.7 3.5 1.7 5.3 0 1.7-1 3.4-1.5 5.2-.6 1.9-1.5 3.9-1.8 6.1-.3 2.1-.2 5.3-.2 6.7 0 1.5 .1 1.6 0 2-.1 .4 0 .4-.8 .4-.8 .1-3.2 .1-4 0-.8 0-.7 0-.8-.4-.1-.4 0-.5 0-2 0-1.4 .1-4.6-.2-6.7-.3-2.2-1.2-4.2-1.8-6.1-.5-1.8-1.5-3.5-1.5-5.2 0-1.8 1.1-3.4 1.7-5.3 .6-1.9 2-4.4 2.1-6 .1-1.6-1.1-2.4-1.5-3.8-.4-1.3-1-3.5-1-4.5 0-1-.5-1.2 1-1.5 1.5-.2 6.5-.2 8 0Z" fill="#c8c8c8" fill-opacity="1.0" stroke="#000" stroke-width="1.3" stroke-linejoin="round"/>
<path d="M861.2,1278a2.1,2.1 0 1,0 4.2,0a2.1,2.1 0 1,0 -4.2,0ZM863.6,1294.7h4.2v4.2h-4.2ZM866.4,1296.7L868.7,1300.9L864.1,1300.9ZM863.2,1319.4L865.5,1315.2L860.9,1315.2Z" fill="#5e5e5e"/>
<line x1="859.2" y1="1297.2" x2="871.6" y2="1297.2" stroke="#000" stroke-width="2" stroke-dasharray="8,2.5"/>
<path d="M884.5,1325.4c.4 0 .7 3.1 1.2 4.5 .5 1.3 1.4 2.4 1.8 3.7 .4 1.4 0 2.8 .6 4.5 .6 1.7 2.8 4 2.9 5.8 .1 1.7-1.8 3.3-2.3 4.8-.5 1.4-.5 2.4-1 3.7-.5 1.4-1.5 2.9-2 4.5-.5 1.7-.8 5.3-1.2 5.3-.4 0-.7-3.6-1.2-5.3-.5-1.6-1.5-3.1-2-4.5-.5-1.3-.5-2.3-1-3.7-.5-1.5-2.4-3.1-2.3-4.8 .1-1.8 2.3-4.1 2.9-5.8 .6-1.7 .2-3.1 .6-4.5 .4-1.3 1.3-2.4 1.8-3.7 .5-1.4 .8-4.5 1.2-4.5Z" fill="#efe3ff" fill-opacity="1.0" stroke="#8a1cf5" stroke-width="1.6" stroke-linejoin="round"/>
<path d="M882.2,1333.6a2.1,2.1 0 1,0 4.2,0a2.1,2.1 0 1,0 -4.2,0ZM883.4,1340.6h4.2v4.2h-4.2ZM885.8,1341.9L888.1,1346.1L883.5,1346.1ZM883.9,1354.7L886.2,1350.5L881.6,1350.5Z" fill="#a65cf0"/>
<line x1="878.3" y1="1343.7" x2="890.7" y2="1343.7" stroke="#000" stroke-width="2" stroke-dasharray="8,2.5"/>
<path d="M920.7,1294.5c1.4 .2 .7-.8 .8 1.2 .1 2 .1 7.8-.1 10.9-.2 3-.8 5.2-1.1 7.5-.3 2.2-.8 3.7-.6 6 .2 2.2 1.2 5 1.8 7.5 .6 2.5 1.6 4.5 1.9 7.5 .3 3 0 7.3-.1 10.6-.1 3.2-.2 7.1-.4 9-.2 1.9-.3 1.7-.6 2.2-.3 .6 .6 .7-1 .8-1.6 .1-7.2 .1-8.8 0-1.6-.1-.7-.2-1-.8-.3-.5-.4-.3-.6-2.2-.2-1.9-.3-5.8-.4-9-.1-3.3-.4-7.6-.1-10.6 .3-3 1.3-5 1.9-7.5 .6-2.5 1.6-5.3 1.8-7.5 .2-2.3-.3-3.8-.6-6-.3-2.3-.9-4.5-1.1-7.5-.2-3.1-.2-8.9-.1-10.9 .1-2-.6-1 .8-1.2 1.4-.2 6.2-.2 7.6 0Z" fill="#c8c8c8" fill-opacity="1.0" stroke="#000" stroke-width="1.3" stroke-linejoin="round"/>
<path d="M916.7,1296a2.1,2.1 0 1,0 4.2,0a2.1,2.1 0 1,0 -4.2,0ZM913.1,1305.2h4.2v4.2h-4.2ZM918,1332.1L920.3,1336.3L915.7,1336.3ZM918.3,1356.3L920.6,1352.1L915.9,1352.1ZM918.8,1353.7L921.3,1356.2L918.8,1358.7L916.3,1356.2Z" fill="#5e5e5e"/>
<line x1="910.7" y1="1334.8" x2="923.1" y2="1334.8" stroke="#000" stroke-width="2" stroke-dasharray="8,2.5"/>
<path d="M936.3,1308.1c.3 0 .4 6.3 .8 9 .4 2.6 1.5 4.5 1.7 6.8 .2 2.2-.9 4.7-.5 6.7 .4 2 1.9 3.7 2.6 5.3 .8 1.5 1.9 2.7 1.9 4 0 1.4-1.4 2.8-2.1 4.3-.7 1.4-1.8 3-1.9 4.5-.1 1.5 .8 3 1.1 4.5 .3 1.5 1.1 2.7 .9 4.5-.2 1.8-1.4 3.3-2.1 6-.8 2.8-1.6 10.6-2.4 10.6-.8 0-1.6-7.8-2.4-10.6-.8-2.7-1.9-4.2-2.1-6-.2-1.8 .6-3 .9-4.5 .3-1.5 1.2-3 1.1-4.5-.1-1.5-1.2-3.1-1.9-4.5-.7-1.5-2.1-2.9-2.1-4.3 0-1.3 1.1-2.5 1.9-4 .7-1.6 2.2-3.3 2.6-5.3 .4-2-.7-4.5-.5-6.7 .2-2.3 1.3-4.2 1.7-6.8 .4-2.7 .5-9 .8-9Z" fill="#efe3ff" fill-opacity="1.0" stroke="#8a1cf5" stroke-width="1.6" stroke-linejoin="round"/>
<path d="M934.2,1323.9a2.1,2.1 0 1,0 4.2,0a2.1,2.1 0 1,0 -4.2,0ZM932.2,1334.5h4.2v4.2h-4.2ZM934,1338.1L936.4,1342.3L931.7,1342.3ZM936.4,1359.3L938.8,1355.1L934.1,1355.1Z" fill="#a65cf0"/>
<line x1="930.1" y1="1339.9" x2="942.5" y2="1339.9" stroke="#000" stroke-width="2" stroke-dasharray="8,2.5"/>
<path d="M972.7,1297.5c1.6 .2 .9-.5 1 1.2 .1 1.8 .1 6.5-.2 9.4-.3 2.8-1.5 5.3-1.5 7.5 0 2.1 1 3.5 1.5 5.2 .5 1.8 1.4 3.4 1.5 5.3 .1 1.9-.7 4-1 6-.3 2-1 3.8-1 6 0 2.3 .9 5.7 1.1 7.6 .2 1.8 .6 2.8 .4 3.7-.2 .9 .4 1.3-1.4 1.5-1.8 .3-7.4 .3-9.2 0-1.8-.2-1.2-.6-1.4-1.5-.2-.9 .1-1.9 .4-3.7 .2-1.9 1.1-5.3 1.1-7.6 0-2.2-.7-4-1-6-.3-2-1.1-4.1-1-6 .1-1.9 1-3.5 1.5-5.3 .5-1.7 1.5-3.1 1.5-5.2 0-2.2-1.2-4.7-1.5-7.5-.3-2.9-.3-7.6-.2-9.4 .1-1.7-.6-1 1-1.2 1.6-.2 6.8-.2 8.4 0Z" fill="#c8c8c8" fill-opacity="1.0" stroke="#000" stroke-width="1.3" stroke-linejoin="round"/>
<path d="M964.8,1299a2.1,2.1 0 1,0 4.2,0a2.1,2.1 0 1,0 -4.2,0ZM967,1305.2h4.2v4.2h-4.2ZM966.4,1323L968.7,1327.2L964.1,1327.2ZM969.9,1347.2L972.2,1343L967.6,1343ZM967.1,1346.9L969.6,1349.4L967.1,1351.9L964.6,1349.4Z" fill="#5e5e5e"/>
<line x1="962.3" y1="1325.8" x2="974.7" y2="1325.8" stroke="#000" stroke-width="2" stroke-dasharray="8,2.5"/>
<path d="M987.7,1323.1c.9 0 1.9 4.8 2.6 6.8 .8 2 1.8 3.7 1.9 5.2 .1 1.5-1 2.5-1.5 3.8-.5 1.2-1.8 2.1-1.5 3.8 .3 1.6 2.2 4.2 3.1 6 .9 1.7 2.2 3 2.2 4.5 0 1.5-1.5 3-2.4 4.5-.9 1.5-2.2 3-2.9 4.5-.7 1.5-1 4.5-1.5 4.5-.5 0-.8-3-1.5-4.5-.7-1.5-2-3-2.9-4.5-.9-1.5-2.4-3-2.4-4.5 0-1.5 1.3-2.8 2.2-4.5 .9-1.8 2.8-4.4 3.1-6 .3-1.7-1-2.6-1.5-3.8-.5-1.3-1.6-2.3-1.5-3.8 .1-1.5 1.1-3.2 1.9-5.2 .8-2 1.7-6.8 2.6-6.8Z" fill="#efe3ff" fill-opacity="1.0" stroke="#8a1cf5" stroke-width="1.6" stroke-linejoin="round"/>
<path d="M983.2,1335.1a2.1,2.1 0 1,0 4.2,0a2.1,2.1 0 1,0 -4.2,0ZM984,1334.5h4.2v4.2h-4.2ZM987.5,1350.9L989.8,1355.1L985.2,1355.1ZM988,1356.3L990.3,1352.1L985.7,1352.1Z" fill="#a65cf0"/>
<line x1="982.9" y1="1350.2" x2="990.1" y2="1350.2" stroke="#000" stroke-width="2"/>
<path d="M1022.6,1329.1c.9 .2 .5-.3 .6 1.2 .1 1.5-.5 5.5-.2 7.8 .3 2.4 1.2 3.8 1.8 6.1 .6 2.2 1.6 5.5 1.7 7.5 .1 2-.9 3.2-1.3 4.5-.4 1.3-1 1.8-1 3 0 1.3 1 3.2 1.2 4.5 .2 1.3 .4 2.6 .3 3.3-.1 .8 .6 1-1.1 1.2-1.6 .2-7.1 .2-8.8 0-1.6-.2-1-.4-1.1-1.2-.1-.7 0-2 .3-3.3 .2-1.3 1.2-3.2 1.2-4.5 0-1.2-.6-1.7-1-3-.4-1.3-1.4-2.5-1.3-4.5 .1-2 1.1-5.3 1.7-7.5 .6-2.3 1.5-3.7 1.8-6.1 .3-2.3-.3-6.3-.2-7.8 .1-1.5-.3-1 .6-1.2 .9-.2 3.9-.2 4.8 0Z" fill="#c8c8c8" fill-opacity="1.0" stroke="#000" stroke-width="1.3" stroke-linejoin="round"/>
<path d="M1017.5,1330.6a2.1,2.1 0 1,0 4.2,0a2.1,2.1 0 1,0 -4.2,0ZM1016.5,1342.8h4.2v4.2h-4.2ZM1020.1,1350.1L1022.4,1354.3L1017.8,1354.3ZM1022.4,1369L1024.7,1364.8L1020.1,1364.8Z" fill="#5e5e5e"/>
<line x1="1014.0" y1="1352.4" x2="1026.4" y2="1352.4" stroke="#000" stroke-width="2" stroke-dasharray="8,2.5"/>
<path d="M1039.5,1329.9c.5 0 1 4.9 1.6 6.7 .6 1.9 1.4 3 1.9 4.6 .5 1.5 .8 2.8 1.3 4.5 .5 1.6 1.9 3.7 1.7 5.2-.2 1.5-2 2.7-2.7 3.8-.8 1.1-1.8 2-1.8 3 0 1 1.3 2.1 1.8 3 .5 .9 1.4 1.3 1.2 2.3-.2 1-1.6 1.6-2.4 3.7-.8 2.2-1.7 9.1-2.6 9.1-.9 0-1.8-6.9-2.6-9.1-.8-2.1-2.2-2.7-2.4-3.7-.2-1 .7-1.4 1.2-2.3 .5-.9 1.8-2 1.8-3 0-1-1-1.9-1.8-3-.8-1.1-2.5-2.3-2.7-3.8-.2-1.5 1.2-3.6 1.7-5.2 .5-1.7 .8-3 1.3-4.5 .5-1.6 1.3-2.7 1.9-4.6 .6-1.8 1.1-6.7 1.6-6.7Z" fill="#efe3ff" fill-opacity="1.0" stroke="#8a1cf5" stroke-width="1.6" stroke-linejoin="round"/>
<path d="M1037.6,1341.2a2.1,2.1 0 1,0 4.2,0a2.1,2.1 0 1,0 -4.2,0ZM1039.6,1345.1h4.2v4.2h-4.2ZM1037.1,1349.4L1039.5,1353.6L1034.8,1353.6ZM1042,1365.3L1044.3,1361.1L1039.7,1361.1Z" fill="#a65cf0"/>
<line x1="1033.3" y1="1351.2" x2="1045.7" y2="1351.2" stroke="#000" stroke-width="2" stroke-dasharray="8,2.5"/>
<path d="M1076.6,1300.5c1.9 .3 1.5 .8 1.7 1.8 .2 1 0 3-.2 4.3-.2 1.2-.4 1.5-.8 3-.4 1.5-1.1 4-1.5 6-.4 2-1 4-1 6 0 2 .7 4.5 1 6 .3 1.5 .7 2.2 .8 3 .1 .9 0 1.6-.2 2.1-.2 .5 .4 .8-1 .9-1.4 .2-5.8 .2-7.2 0-1.4-.1-.8-.4-1-.9-.2-.5-.3-1.2-.2-2.1 .1-.8 .5-1.5 .8-3 .3-1.5 1-4 1-6 0-2-.6-4-1-6-.4-2-1.1-4.5-1.5-6-.4-1.5-.6-1.8-.8-3-.2-1.3-.5-3.3-.2-4.3 .2-1-.2-1.5 1.7-1.8 1.9-.3 7.7-.3 9.6 0Z" fill="#c8c8c8" fill-opacity="1.0" stroke="#000" stroke-width="1.3" stroke-linejoin="round"/>
<path d="M1071.6,1302.8a2.1,2.1 0 1,0 4.2,0a2.1,2.1 0 1,0 -4.2,0ZM1069.9,1304.5h4.2v4.2h-4.2ZM1071.9,1307.2L1074.2,1311.4L1069.6,1311.4ZM1072,1332.9L1074.3,1328.7L1069.7,1328.7Z" fill="#5e5e5e"/>
<line x1="1067.0" y1="1315.3" x2="1074.2" y2="1315.3" stroke="#000" stroke-width="2"/>
<path d="M1091.4,1321.6c1.3 0 2.7 5.5 3.8 7.5 1.1 2 2.6 3.2 2.7 4.5 .1 1.4-1.2 2.7-2 3.8-.8 1.1-2.5 2-2.5 3 0 1 1.5 1.9 2.2 3 .7 1.1 1.9 2.4 1.8 3.8-.1 1.3-1.4 3-2.2 4.5-.8 1.5-2 2.9-2.6 4.5-.6 1.6-.8 5.3-1.2 5.3-.4 0-.6-3.7-1.2-5.3-.6-1.6-1.8-3-2.6-4.5-.8-1.5-2.1-3.2-2.2-4.5-.1-1.4 1.1-2.7 1.8-3.8 .7-1.1 2.2-2 2.2-3 0-1-1.8-1.9-2.5-3-.8-1.1-2.1-2.4-2-3.8 .1-1.3 1.6-2.5 2.7-4.5 1.1-2 2.5-7.5 3.8-7.5Z" fill="#efe3ff" fill-opacity="1.0" stroke="#8a1cf5" stroke-width="1.6" stroke-linejoin="round"/>
<path d="M1091.3,1332.9a2.1,2.1 0 1,0 4.2,0a2.1,2.1 0 1,0 -4.2,0ZM1087.1,1332.3h4.2v4.2h-4.2ZM1092.1,1343.4L1094.4,1347.6L1089.8,1347.6ZM1091.6,1350.2L1093.9,1346L1089.3,1346ZM1090.4,1347.7L1092.9,1350.2L1090.4,1352.7L1087.9,1350.2Z" fill="#a65cf0"/>
<line x1="1086.6" y1="1340.4" x2="1093.8" y2="1340.4" stroke="#000" stroke-width="2"/>
<line x1="697.3" y1="1149.5" x2="697.3" y2="1391.4" stroke="#1a1a1a" stroke-width="1.3"/>
<line x1="687.8" y1="1390.8" x2="1104.5" y2="1390.8" stroke="#1a1a1a" stroke-width="1.3"/>
<line x1="687.8" y1="1150.5" x2="697.3" y2="1150.5" stroke="#1a1a1a" stroke-width="1.3"/>
<text x="685.0" y="1155.7" font-size="14.5" text-anchor="end" stroke="#000">8</text>
<line x1="687.8" y1="1208.8" x2="697.3" y2="1208.8" stroke="#1a1a1a" stroke-width="1.3"/>
<text x="685.0" y="1214.0" font-size="14.5" text-anchor="end" stroke="#000">6</text>
<line x1="687.8" y1="1270.1" x2="697.3" y2="1270.1" stroke="#1a1a1a" stroke-width="1.3"/>
<text x="685.0" y="1275.3" font-size="14.5" text-anchor="end" stroke="#000">4</text>
<line x1="687.8" y1="1330.6" x2="697.3" y2="1330.6" stroke="#1a1a1a" stroke-width="1.3"/>
<text x="685.0" y="1335.8" font-size="14.5" text-anchor="end" stroke="#000">2</text>
<line x1="687.8" y1="1390.8" x2="697.3" y2="1390.8" stroke="#1a1a1a" stroke-width="1.3"/>
<text x="685.0" y="1396.0" font-size="14.5" text-anchor="end" stroke="#000">0</text>
<line x1="719.4" y1="1390.8" x2="719.4" y2="1400.6" stroke="#1a1a1a" stroke-width="1.3"/>
<line x1="771.0" y1="1390.8" x2="771.0" y2="1400.6" stroke="#1a1a1a" stroke-width="1.3"/>
<line x1="822.5" y1="1390.8" x2="822.5" y2="1400.6" stroke="#1a1a1a" stroke-width="1.3"/>
<line x1="874.7" y1="1390.8" x2="874.7" y2="1400.6" stroke="#1a1a1a" stroke-width="1.3"/>
<line x1="926.3" y1="1390.8" x2="926.3" y2="1400.6" stroke="#1a1a1a" stroke-width="1.3"/>
<line x1="977.9" y1="1390.8" x2="977.9" y2="1400.6" stroke="#1a1a1a" stroke-width="1.3"/>
<line x1="1029.7" y1="1390.8" x2="1029.7" y2="1400.6" stroke="#1a1a1a" stroke-width="1.3"/>
<line x1="1081.6" y1="1390.8" x2="1081.6" y2="1400.6" stroke="#1a1a1a" stroke-width="1.3"/>
<text x="719.9" y="1421.4" font-size="17.4" text-anchor="middle" stroke="#000">NK</text>
<text x="771.0" y="1421.4" font-size="17.4" text-anchor="middle" stroke="#000">NKT</text>
<text transform="translate(827.9,1423.5) rotate(-27.8)" x="0" y="6.3" font-size="17.6" text-anchor="middle" fill="#000">CD8 E/EM</text>
<text transform="translate(880.0,1423.5) rotate(-27.8)" x="0" y="6.3" font-size="17.6" text-anchor="middle" fill="#000">CD4 E/EM</text>
<text transform="translate(926.5,1430.4) rotate(-33.5)" x="0" y="6.3" font-size="17.6" text-anchor="middle" fill="#000">CD8 Naive</text>
<text transform="translate(980.3,1430.4) rotate(-33.5)" x="0" y="6.3" font-size="17.6" text-anchor="middle" fill="#000">CD4 Naive</text>
<text transform="translate(1033.8,1424.7) rotate(-35.6)" x="0" y="6.3" font-size="17.6" text-anchor="middle" fill="#000">CD8 CM</text>
<text transform="translate(1078.9,1425.7) rotate(-35.6)" x="0" y="6.3" font-size="17.6" text-anchor="middle" fill="#000">CD4 CM</text>
<text x="708.1" y="1144.8" font-size="22.4" stroke="#000">LNs</text>
<text x="673.6" y="1266.2" font-size="19" text-anchor="middle" stroke="#000" transform="rotate(-90 673.6 1266.2)">ATP:ADP</text>
<text x="1107.6" y="1156.4" font-size="17" text-anchor="end" stroke="#000"><tspan fill="#8a1cf5" stroke="#8a1cf5">Glut1</tspan><tspan dy="-7" font-size="10" fill="#8a1cf5" stroke="#8a1cf5">+</tspan><tspan dy="7" font-size="1">&#8203;</tspan></text>
<text x="1106.6" y="1174.5" font-size="17" text-anchor="end" stroke="#000"><tspan fill="#8c8c8c" stroke="#8c8c8c">Glut1</tspan><tspan dy="-7" font-size="10" fill="#8c8c8c" stroke="#8c8c8c">-</tspan><tspan dy="7" font-size="1">&#8203;</tspan></text>
<text x="723.6" y="1279.9" font-size="11.5" text-anchor="middle" stroke="#000">p=0.0003</text>
<line x1="709.6" y1="1284.0" x2="733.0" y2="1284.0" stroke="#333" stroke-width="0.9"/>
<text x="773.9" y="1223.8" font-size="11.5" text-anchor="middle" stroke="#000">p=0.005</text>
<line x1="762.3" y1="1228.0" x2="785.6" y2="1228.0" stroke="#333" stroke-width="0.9"/>
<text x="825.2" y="1309.3" font-size="11.5" text-anchor="middle" stroke="#000">p=0.00006</text>
<line x1="813.5" y1="1313.6" x2="836.8" y2="1313.6" stroke="#333" stroke-width="0.9"/>
<text x="875.0" y="1268.2" font-size="11.5" text-anchor="middle" stroke="#000">p=0.0002</text>
<line x1="866.1" y1="1272.2" x2="889.0" y2="1272.2" stroke="#333" stroke-width="0.9"/>
<text x="1081.9" y="1290.8" font-size="11.5" text-anchor="middle" stroke="#000">p=0.0001</text>
<line x1="1073.8" y1="1294.8" x2="1097.0" y2="1294.8" stroke="#333" stroke-width="0.9"/>
<text transform="translate(1207.0,359.4) scale(1.02,1)" x="0" y="0" font-size="43.5" font-family="'DejaVu Sans', 'Liberation Sans', sans-serif" stroke="#000" stroke-width="0.5">H</text>
<text x="1506.0" y="336.5" font-size="23.5" text-anchor="middle" stroke="#000">Calibration</text>
<line x1="1285.0" y1="344.8" x2="1753.7" y2="344.8" stroke="#333" stroke-width="1.3"/>
<line x1="1315.1" y1="366.2" x2="1337.1" y2="366.2" stroke="#555" stroke-width="0.8"/>
<line x1="1481.6" y1="367.3" x2="1481.6" y2="533.3" stroke="#777" stroke-width="0.9"/>
<line x1="1481.6" y1="464.9" x2="1481.6" y2="502.7" stroke="#000" stroke-width="1.3"/>
<line x1="1315.1" y1="533.3" x2="1481.6" y2="533.3" stroke="#555" stroke-width="0.8"/>
<path d="M1315.1,532.6h-4.5M1315.1,524.8h-1.6M1315.1,517.1h-1.6M1315.1,509.3h-1.6M1315.1,501.6h-1.6M1315.1,493.8h-4.5M1315.1,486.1h-1.6M1315.1,478.3h-1.6M1315.1,470.6h-1.6M1315.1,462.8h-1.6M1315.1,455.1h-4.5M1315.1,447.3h-1.6M1315.1,439.5h-1.6M1315.1,431.8h-1.6M1315.1,424.0h-1.6M1315.1,416.3h-4.5M1315.1,408.5h-1.6M1315.1,400.8h-1.6M1315.1,393.0h-1.6M1315.1,385.3h-1.6M1315.1,377.5h-4.5" stroke="#111" stroke-width="0.8" fill="none"/>
<path d="M1317.4,533.3v4M1370.2,533.3v4M1407.9,533.3v4M1440.7,533.3v4M1473.3,533.3v4M1318.5,533.3v1.4M1324.2,533.3v2.4M1329.9,533.3v2.4M1334.3,533.3v2M1337.4,533.3v2M1340.6,533.3v2.4M1343.7,533.3v1.4M1345.9,533.3v2M1351.6,533.3v1.4M1354.7,533.3v1.4M1357.9,533.3v2.4M1360.1,533.3v2M1365.8,533.3v2.4M1371.4,533.3v1.4M1375.8,533.3v2.4M1381.5,533.3v2.4M1383.7,533.3v2.4M1388.1,533.3v1.4M1391.3,533.3v2.4M1393.5,533.3v1.4M1395.7,533.3v2M1398.8,533.3v2.4M1403.2,533.3v2M1408.9,533.3v1.4M1412.0,533.3v2.4M1414.2,533.3v2M1417.4,533.3v1.4M1420.5,533.3v1.4M1422.7,533.3v1.4M1428.4,533.3v2.4M1434.1,533.3v1.4M1438.5,533.3v1.4M1444.1,533.3v2M1448.5,533.3v2M1454.2,533.3v2M1459.9,533.3v2M1464.3,533.3v1.4M1466.5,533.3v1.4M1472.1,533.3v1.4M1477.8,533.3v1.4M1341.1,533.3v4M1342.3,533.3v4M1343.6,533.3v4M1344.8,533.3v4M1346.1,533.3v4" stroke="#111" stroke-width="0.8" fill="none"/>
<text x="1307.2" y="379.5" font-size="5.3" text-anchor="end" fill="#222" stroke="#222" font-weight="bold">2.0M</text>
<text x="1307.2" y="418.9" font-size="5.3" text-anchor="end" fill="#222" stroke="#222" font-weight="bold">1.5M</text>
<text x="1307.2" y="457.4" font-size="5.3" text-anchor="end" fill="#222" stroke="#222" font-weight="bold">1.0M</text>
<text x="1307.2" y="496.3" font-size="5.3" text-anchor="end" fill="#222" stroke="#222" font-weight="bold">500K</text>
<text x="1307.2" y="533.0" font-size="5.3" text-anchor="end" fill="#222" stroke="#222" font-weight="bold">0</text>
<text x="1347.0" y="547.5" font-size="5.5" text-anchor="middle" fill="#222" stroke="#222">0</text>
<text x="1413.4" y="548.0" font-size="5.5" text-anchor="middle" fill="#222" stroke="#222">10<tspan dy="-2.475" font-size="4.125">4</tspan><tspan dy="2.475" font-size="1">&#8203;</tspan></text>
<text x="1445.7" y="548.0" font-size="5.5" text-anchor="middle" fill="#222" stroke="#222">10<tspan dy="-2.475" font-size="4.125">5</tspan><tspan dy="2.475" font-size="1">&#8203;</tspan></text>
<text x="1475.6" y="548.0" font-size="5.5" text-anchor="middle" fill="#222" stroke="#222">10<tspan dy="-2.475" font-size="4.125">6</tspan><tspan dy="2.475" font-size="1">&#8203;</tspan></text>
<ellipse cx="1345.0" cy="498.7" rx="14.0" ry="12.5" fill="none" stroke="#2a2a2a" stroke-width="0.7"/>
<ellipse cx="1345.0" cy="498.7" rx="12.8" ry="11.4" fill="none" stroke="#2a2a2a" stroke-width="0.7"/>
<ellipse cx="1345.0" cy="498.7" rx="11.6" ry="10.4" fill="none" stroke="#2a2a2a" stroke-width="0.7"/>
<ellipse cx="1345.0" cy="498.7" rx="10.4" ry="9.3" fill="none" stroke="#2a2a2a" stroke-width="0.7"/>
<ellipse cx="1345.0" cy="498.7" rx="9.2" ry="8.2" fill="none" stroke="#2a2a2a" stroke-width="0.7"/>
<ellipse cx="1345.0" cy="498.7" rx="8.0" ry="7.2" fill="none" stroke="#2a2a2a" stroke-width="0.7"/>
<ellipse cx="1345.0" cy="498.7" rx="6.9" ry="6.1" fill="none" stroke="#2a2a2a" stroke-width="0.7"/>
<ellipse cx="1345.0" cy="498.7" rx="5.7" ry="5.1" fill="none" stroke="#2a2a2a" stroke-width="0.7"/>
<ellipse cx="1345.0" cy="498.7" rx="4.5" ry="4.0" fill="none" stroke="#2a2a2a" stroke-width="0.7"/>
<ellipse cx="1345.0" cy="498.7" rx="3.3" ry="2.9" fill="none" stroke="#2a2a2a" stroke-width="0.7"/>
<ellipse cx="1345.0" cy="498.7" rx="2.1" ry="1.9" fill="none" stroke="#2a2a2a" stroke-width="0.7"/>
<path d="M1345,512.1c-3.8-.4-8-2.8-10.9-5.5-2.9-2.7-3.3-3.9-3.6-7.9-.3-3.9 1.2-11.6 2-11.8 .9-.1 .4 11.3 2.3 11 1.8-.2 4.4-9.5 7-12.2 2.7-2.7 4-2.5 6.3-1.3 2.4 1.2 3.3 9.6 5.5 7.2 2.3-2.3 4.6-18.8 5.9-18.8 1.2 0 .5 12.2 .3 18.8-.3 6.7-.4 10.8-1.8 14.2-1.3 3.4-2.4 1.6-5.1 2.8-2.6 1.3-4.1 3.9-7.9 3.5Z" fill="none" stroke="#3a3a3a" stroke-width="0.6"/>
<path d="M1345,512.7c-4-.4-8.4-2.8-11.5-5.5-3-2.8-3.5-4.2-3.8-8.5-.3-4.2 .8-11.4 2.1-12.9 1.4-1.5 2.5 6.7 4.8 5.3 2.2-1.3 4.1-9.4 6.7-12 2.6-2.7 3.9-2.5 6.2-1.3 2.4 1.2 3.2 8.5 5.4 7.2 2.1-1.2 4.3-14.7 5.5-13.4 1.2 1.3 .7 13.2 .4 20-.4 6.9-.6 10.7-2.1 14.2-1.4 3.5-2.6 2-5.3 3.4-2.8 1.4-4.4 3.9-8.4 3.5Z" fill="none" stroke="#3a3a3a" stroke-width="0.6"/>
<path d="M1345,513.2c-4.2-.4-8.9-2.6-12.1-5.5-3.2-2.9-3.7-4.4-4-9-.4-4.6 .3-11.2 2.2-14 1.9-2.9 4.5 2.1 7.2-.4 2.8-2.4 3.8-9.2 6.4-11.9 2.5-2.6 4-2.4 6.3-1.2 2.3 1.2 3 7.4 5.1 7.2 2.1-.1 4.2-10.6 5.3-7.9 1.1 2.6 .8 14.1 .4 21.1-.4 7.1-.7 10.6-2.3 14.2-1.6 3.6-2.8 2.5-5.7 4-2.9 1.5-4.6 3.8-8.8 3.4Z" fill="none" stroke="#3a3a3a" stroke-width="0.6"/>
<path d="M1345,513.8c-4.4-.4-9.3-2.5-12.7-5.5-3.4-3-3.9-4.6-4.2-9.6-.4-4.9-.1-10.9 2.3-15.2 2.5-4.2 6.6-2.4 9.7-6 3.2-3.5 3.5-9.1 6-11.7 2.4-2.6 4-2.4 6.3-1.2 2.2 1.2 2.9 6.3 4.9 7.2 2 1 4-6.4 5.1-2.4 1.1 3.9 .9 15 .4 22.2-.4 7.3-.9 10.5-2.6 14.2-1.7 3.7-2.9 2.9-5.9 4.5-3.1 1.6-4.9 3.9-9.3 3.5Z" fill="none" stroke="#3a3a3a" stroke-width="0.6"/>
<path d="M1345,514.5c-4.7-.4-9.8-2.4-13.4-5.5-3.6-3.2-4.1-4.9-4.5-10.3-.4-5.3-.5-10.7 2.5-16.5 3-5.8 9-7.8 12.6-12.6 3.7-4.8 3.2-8.9 5.5-11.5 2.4-2.5 4.1-2.4 6.3-1.2 2.2 1.2 2.9 5 4.8 7.2 1.9 2.2 3.7-1.6 4.8 3.9 1 5.5 1 16.1 .5 23.6-.5 7.6-1.2 10.3-3 14.2-1.9 3.9-3.1 3.5-6.3 5.2-3.2 1.7-5.2 3.9-9.8 3.5Z" fill="none" stroke="#3a3a3a" stroke-width="0.6"/>
<path d="M1345,515.1c-4.9-.4-10.4-2.2-14.1-5.5-3.8-3.3-4.3-5.1-4.7-10.9-.4-5.7-1-10.4 2.6-17.8 3.6-7.4 11.4-13.1 15.5-19.2 4.1-6.1 2.8-8.8 5.1-11.3 2.3-2.5 4.1-2.4 6.3-1.2 2.1 1.1 2.7 3.7 4.5 7.2 1.8 3.5 3.5 3.3 4.6 10.3 1 7.1 1.1 17.1 .6 24.9-.6 7.9-1.5 10.2-3.5 14.2-2 4-3.2 4-6.6 5.9-3.4 1.8-5.4 3.8-10.3 3.4Z" fill="none" stroke="#3a3a3a" stroke-width="0.6"/>
<path d="M1345,515.9c-5.2-.4-11-2.1-14.9-5.5-4-3.5-4.6-5.5-5-11.7-.4-6.2-1.5-10.1 2.8-19.3 4.3-9.3 14.1-19.2 18.8-26.8 4.7-7.5 2.4-8.5 4.6-11 2.2-2.5 4.2-2.5 6.3-1.3 2.1 1.2 2.5 2.3 4.2 7.3 1.7 4.9 3.3 8.8 4.4 17.6 1 8.8 1.3 18.3 .7 26.4-.7 8.2-1.8 10.1-4 14.2-2.2 4.2-3.4 4.6-7 6.6-3.6 2-5.7 3.9-10.9 3.5Z" fill="none" stroke="#3a3a3a" stroke-width="0.6"/>
<path d="M1345,516.8c-5.5-.4-11.7-1.9-15.9-5.5-4.3-3.6-4.9-5.8-5.4-12.6-.4-6.7-2.2-9.7 3-21.2 5.2-11.5 17.6-26.8 23-36.2 5.4-9.4 1.9-8.3 3.9-10.7 2.1-2.4 4.3-2.5 6.3-1.3 2.1 1.2 2.4 .5 4 7.3 1.6 6.8 3 15.7 4 26.7 1 11 1.6 19.8 .9 28.3-.8 8.5-2.3 9.9-4.7 14.2-2.4 4.4-3.6 5.4-7.4 7.6-3.9 2.2-6.2 3.8-11.7 3.4Z" fill="none" stroke="#3a3a3a" stroke-width="0.6"/>
<path d="M1402.4,460.2c0-4 4.6-9.6 8.7-12.6 4.1-3 11-5 15.7-5.5 4.7-.6 9.3-.2 12.6 2.3 3.3 2.5 6.3 8.4 7.1 12.6 .8 4.2-.7 9.2-2.4 12.6-1.7 3.4-4.4 6.4-7.8 7.9-3.4 1.4-8.4 1.8-12.6 .8-4.2-1.1-9.1-4.1-12.6-7.1-3.6-3-8.7-7.1-8.7-11Z" fill="none" stroke="#333" stroke-width="0.6"/>
<ellipse cx="1429.2" cy="461.0" rx="5.5" ry="7" fill="none" stroke="#444" stroke-width="0.55" transform="rotate(20 1429.2 461.0)"/>
<path d="M1404.7,453.4h0.95M1445.5,461.7h0.95M1408.3,431.4h0.95M1444.4,443.1h0.95M1430.5,479.1h0.95M1447.5,455.8h0.95M1412.9,470.0h0.95M1467.7,470.5h0.95M1417.0,447.1h0.95M1446.6,455.7h0.95M1429.7,458.9h0.95M1408.3,488.7h0.95M1431.0,496.7h0.95M1399.6,473.2h0.95M1429.4,454.4h0.95M1415.2,512.8h0.95M1425.3,457.5h0.95M1430.3,489.4h0.95M1461.6,436.1h0.95M1441.1,475.1h0.95M1428.6,455.1h0.95M1459.6,492.3h0.95M1461.0,447.6h0.95M1417.7,474.5h0.95M1392.6,496.2h0.95M1412.7,465.4h0.95M1415.1,455.8h0.95M1424.2,438.2h0.95M1465.7,492.6h0.95M1427.4,486.3h0.95M1387.3,482.1h0.95M1430.6,415.8h0.95M1441.4,474.3h0.95M1413.6,473.4h0.95M1394.6,427.8h0.95M1444.5,469.0h0.95M1424.6,485.0h0.95M1460.0,454.0h0.95M1464.0,439.9h0.95M1456.3,510.0h0.95M1445.8,504.3h0.95M1431.9,428.0h0.95M1377.1,462.0h0.95M1381.3,497.0h0.95M1396.8,483.4h0.95M1444.2,448.3h0.95M1472.5,455.4h0.95M1429.3,443.8h0.95M1458.6,498.1h0.95M1442.1,434.8h0.95M1393.9,448.9h0.95M1470.0,476.2h0.95M1412.7,491.4h0.95M1418.4,498.5h0.95M1431.0,446.5h0.95M1408.8,447.9h0.95M1433.5,472.4h0.95M1411.7,440.6h0.95M1461.4,435.5h0.95M1389.3,429.6h0.95M1467.5,459.0h0.95M1475.6,450.5h0.95M1420.0,435.1h0.95M1436.5,465.8h0.95M1425.0,456.8h0.95M1423.1,497.6h0.95M1402.1,478.8h0.95M1439.5,438.2h0.95M1419.2,479.8h0.95M1470.1,444.0h0.95M1449.1,467.0h0.95M1399.5,488.7h0.95M1437.4,491.1h0.95M1400.1,436.6h0.95M1424.8,428.1h0.95M1440.6,445.0h0.95M1392.6,466.9h0.95M1419.2,487.3h0.95M1380.1,457.1h0.95M1446.0,455.0h0.95M1449.4,514.0h0.95M1427.0,452.2h0.95M1447.6,491.5h0.95M1407.3,446.0h0.95M1449.2,462.4h0.95M1385.9,479.3h0.95M1400.7,488.0h0.95M1434.9,473.3h0.95M1467.8,468.9h0.95M1460.7,445.1h0.95M1433.5,502.9h0.95M1426.0,448.5h0.95M1404.6,479.8h0.95M1384.0,472.7h0.95M1407.0,429.5h0.95M1419.4,455.1h0.95M1452.0,460.5h0.95M1403.3,492.9h0.95M1451.3,445.4h0.95M1467.5,478.8h0.95M1402.3,480.1h0.95M1446.9,458.0h0.95M1450.5,460.4h0.95M1428.3,464.8h0.95M1450.9,492.6h0.95M1458.9,448.8h0.95M1444.8,444.5h0.95M1372.5,490.1h0.95M1431.5,497.3h0.95M1448.9,432.5h0.95M1374.5,472.6h0.95M1423.2,454.8h0.95M1374.3,482.6h0.95M1476.7,460.7h0.95M1451.6,488.2h0.95M1390.9,458.0h0.95M1381.8,465.4h0.95M1421.7,449.9h0.95M1445.0,480.9h0.95M1427.2,460.6h0.95M1446.6,427.1h0.95M1435.6,474.2h0.95M1444.3,441.7h0.95M1418.6,475.7h0.95M1407.9,452.7h0.95M1437.9,437.9h0.95M1452.8,467.1h0.95M1414.7,478.6h0.95M1436.6,479.5h0.95M1462.2,455.5h0.95M1419.8,479.6h0.95M1378.4,462.6h0.95M1394.5,440.4h0.95M1425.8,459.1h0.95M1405.2,485.1h0.95M1452.7,442.2h0.95M1455.7,465.8h0.95M1475.4,476.8h0.95M1403.5,434.5h0.95M1417.6,455.6h0.95M1421.8,479.9h0.95M1381.8,472.3h0.95M1382.5,506.0h0.95M1441.6,481.4h0.95M1460.7,467.3h0.95M1429.8,446.8h0.95M1467.2,458.4h0.95M1410.4,473.0h0.95M1403.8,461.4h0.95M1378.0,477.0h0.95M1432.7,498.4h0.95M1401.4,494.4h0.95M1457.9,438.1h0.95M1428.8,445.4h0.95M1399.8,458.2h0.95M1456.7,462.1h0.95M1455.0,495.8h0.95M1402.9,444.3h0.95M1409.2,463.9h0.95M1434.8,479.4h0.95M1440.5,447.0h0.95M1420.9,464.4h0.95M1443.7,449.6h0.95M1437.0,440.5h0.95M1404.7,471.4h0.95M1444.4,477.4h0.95M1439.6,475.4h0.95M1447.9,447.1h0.95M1447.5,438.3h0.95M1378.5,448.8h0.95M1426.5,457.9h0.95M1444.7,456.4h0.95M1414.9,484.3h0.95M1397.8,452.5h0.95M1427.6,453.5h0.95M1429.4,475.5h0.95M1400.9,428.2h0.95M1414.0,466.8h0.95M1463.9,441.8h0.95M1398.9,507.1h0.95M1429.4,443.7h0.95M1466.6,494.9h0.95M1443.8,458.5h0.95M1395.8,438.2h0.95M1412.9,462.1h0.95M1434.9,433.2h0.95M1464.2,448.3h0.95M1424.7,483.1h0.95M1435.1,455.1h0.95M1431.7,428.1h0.95M1435.5,503.7h0.95M1390.3,465.8h0.95M1397.5,455.0h0.95M1450.2,483.9h0.95M1386.6,476.3h0.95M1421.7,429.4h0.95M1408.4,470.4h0.95M1470.9,418.9h0.95M1460.6,426.0h0.95M1473.5,438.4h0.95M1419.6,475.8h0.95M1455.3,465.1h0.95M1420.4,442.8h0.95M1464.5,457.0h0.95M1431.3,466.9h0.95M1440.0,475.9h0.95M1411.6,458.4h0.95M1402.0,434.6h0.95M1441.8,472.6h0.95M1423.3,446.4h0.95M1437.8,496.4h0.95M1431.1,490.9h0.95M1411.3,418.2h0.95M1446.9,426.2h0.95M1454.9,445.4h0.95M1421.2,459.6h0.95M1382.2,490.0h0.95M1421.1,464.1h0.95M1394.7,428.4h0.95M1428.4,492.7h0.95M1425.5,511.7h0.95M1422.5,487.6h0.95M1405.0,464.5h0.95M1453.0,452.5h0.95M1461.7,486.2h0.95M1370.9,467.3h0.95M1463.1,495.0h0.95M1417.9,487.3h0.95M1424.0,502.1h0.95M1438.4,458.7h0.95M1428.4,414.6h0.95M1414.8,462.3h0.95M1452.1,460.1h0.95M1468.2,435.3h0.95M1472.9,473.9h0.95M1403.4,445.8h0.95M1430.8,458.3h0.95M1410.9,463.0h0.95M1433.9,478.6h0.95M1435.0,462.4h0.95M1439.1,413.2h0.95M1453.6,458.9h0.95M1392.1,503.1h0.95M1448.3,500.9h0.95M1446.3,453.6h0.95M1417.9,473.9h0.95M1383.4,504.7h0.95M1414.7,445.8h0.95M1430.0,423.2h0.95M1428.8,452.8h0.95M1477.6,478.2h0.95M1416.3,494.7h0.95M1454.1,422.3h0.95M1428.6,457.2h0.95M1432.4,444.6h0.95M1435.1,467.3h0.95M1437.7,487.8h0.95M1447.1,498.4h0.95M1418.8,447.8h0.95M1464.4,511.9h0.95M1376.1,504.0h0.95M1434.8,432.1h0.95M1478.2,475.6h0.95M1430.5,447.7h0.95M1457.8,482.2h0.95M1455.4,473.8h0.95M1448.8,494.1h0.95M1392.7,420.1h0.95M1415.9,506.2h0.95M1468.7,453.3h0.95M1429.4,466.0h0.95M1382.2,488.2h0.95M1455.6,443.2h0.95M1427.1,487.3h0.95M1384.3,456.3h0.95M1415.2,450.5h0.95M1437.4,473.0h0.95M1435.2,448.5h0.95M1439.3,461.8h0.95M1441.9,424.5h0.95M1420.6,463.1h0.95M1457.9,467.5h0.95M1420.5,446.1h0.95M1449.5,479.9h0.95M1421.0,428.5h0.95M1436.3,478.5h0.95M1426.2,436.7h0.95M1406.2,500.5h0.95M1387.5,494.1h0.95M1408.9,520.4h0.95M1456.1,468.9h0.95M1438.3,511.1h0.95M1432.5,446.6h0.95M1472.7,453.5h0.95M1458.9,446.2h0.95M1450.7,501.2h0.95M1420.5,466.5h0.95M1402.9,483.8h0.95M1463.2,444.1h0.95M1426.8,461.0h0.95M1338.5,423.4h0.95M1382.7,425.8h0.95M1362.6,424.4h0.95M1328.8,441.3h0.95M1371.4,412.2h0.95M1348.2,426.1h0.95M1341.9,419.8h0.95M1367.6,424.1h0.95M1363.5,423.1h0.95M1372.8,418.4h0.95M1338.4,419.4h0.95M1342.1,435.9h0.95M1347.9,434.4h0.95M1372.2,418.0h0.95M1367.8,418.4h0.95M1343.3,427.6h0.95M1358.4,438.2h0.95M1356.1,432.0h0.95M1348.2,421.7h0.95M1345.9,419.4h0.95M1350.0,429.0h0.95M1377.0,413.5h0.95M1359.7,431.6h0.95M1328.2,419.1h0.95M1372.2,446.2h0.95M1366.5,442.9h0.95M1341.5,427.1h0.95M1355.8,437.3h0.95M1371.5,432.6h0.95M1366.5,415.0h0.95M1358.4,426.9h0.95M1359.3,413.8h0.95M1362.7,411.9h0.95M1345.8,413.6h0.95M1380.8,425.1h0.95M1344.3,433.9h0.95M1360.9,431.5h0.95M1335.6,436.0h0.95M1352.4,419.1h0.95M1354.4,411.0h0.95M1349.8,430.5h0.95M1356.6,418.3h0.95M1353.2,418.8h0.95M1371.9,422.5h0.95M1348.2,424.9h0.95M1371.2,443.5h0.95M1361.2,422.0h0.95M1365.1,437.1h0.95M1351.7,436.8h0.95M1371.9,418.9h0.95M1361.4,426.2h0.95M1350.7,422.9h0.95M1368.9,423.1h0.95M1390.6,471.3h0.95M1395.4,464.4h0.95M1376.9,463.4h0.95M1387.2,452.3h0.95M1398.1,494.9h0.95M1386.7,453.8h0.95M1386.8,469.0h0.95M1375.7,467.1h0.95M1376.8,471.8h0.95M1391.3,452.5h0.95M1369.7,485.4h0.95M1371.4,475.1h0.95M1379.2,467.7h0.95M1385.9,436.9h0.95M1373.5,465.4h0.95M1381.2,501.4h0.95M1373.3,466.9h0.95M1387.0,454.9h0.95M1389.0,457.6h0.95M1392.3,442.9h0.95M1388.0,471.8h0.95M1394.9,490.1h0.95M1375.8,456.9h0.95M1390.9,453.6h0.95M1369.6,489.9h0.95M1393.1,505.6h0.95M1394.7,482.6h0.95M1396.1,465.4h0.95M1396.0,489.2h0.95M1387.6,467.3h0.95M1386.5,491.7h0.95M1384.9,482.8h0.95M1397.1,429.3h0.95M1399.8,446.8h0.95M1401.3,433.1h0.95M1387.1,450.7h0.95M1382.3,455.2h0.95" stroke="#111" stroke-width="0.95" fill="none" opacity="1"/>
<rect x="1400.4" y="411.4" width="70.2" height="108.1" fill="none" stroke="#1f9b5d" stroke-width="1.3"/>
<text x="1415.5" y="409.3" font-size="15.4" stroke="#000"><tspan fill="#0c9a55" stroke="#0c9a55">iGluco</tspan><tspan dy="-6" font-size="9" fill="#0c9a55" stroke="#0c9a55">+</tspan><tspan dy="6" font-size="1">&#8203;</tspan></text>
<line x1="1288.3" y1="551.9" x2="1288.3" y2="370.9" stroke="#000" stroke-width="2.2"/>
<polygon points="1288.3,360.2 1294.5,374.9 1288.3,370.9 1282.1,374.9" fill="#000"/>
<line x1="1287.3" y1="551.9" x2="1483.0" y2="551.9" stroke="#000" stroke-width="2.2"/>
<polygon points="1493.7,551.9 1479.0,558.1 1483.0,551.9 1479.0,545.7" fill="#000"/>
<text x="1282.3" y="451.0" font-size="16.2" text-anchor="middle" stroke="#000" transform="rotate(-90 1282.3 451.0)">FSC</text>
<text x="1392.4" y="569.2" font-size="16.8" text-anchor="middle" stroke="#000">mRuby</text>
<rect x="1312.4" y="605.2" width="166.0" height="166.4" fill="none" stroke="#666" stroke-width="0.9"/>
<path d="M1312.4,632.9h-1.8M1312.4,621.5h-1.8M1312.4,613.4h-1.8M1312.4,607.1h-1.8M1312.4,652.4h-4" stroke="#000" stroke-width="0.7" fill="none"/>
<path d="M1312.4,697.7h-1.8M1312.4,686.3h-1.8M1312.4,678.2h-1.8M1312.4,671.9h-1.8M1312.4,666.8h-1.8M1312.4,662.4h-1.8M1312.4,658.7h-1.8M1312.4,655.4h-1.8M1312.4,717.2h-4M1312.4,652.4h-4" stroke="#000" stroke-width="0.7" fill="none"/>
<path d="M1312.4,755.0h-4M1312.4,751.5h-3M1312.4,753.1h-3M1312.4,756.9h-3M1312.4,758.8h-3M1312.4,765.7h-3M1312.4,727.9h-2M1312.4,732.7h-2M1312.4,737.4h-2" stroke="#111" stroke-width="0.8" fill="none"/>
<path d="M1406.8,771.5v1.8M1420.3,771.5v1.8M1429.8,771.5v1.8M1437.2,771.5v1.8M1443.3,771.5v1.8M1448.4,771.5v1.8M1452.8,771.5v1.8M1456.7,771.5v1.8M1383.9,771.5v4M1460.2,771.5v4" stroke="#000" stroke-width="0.8" fill="none"/>
<path d="M1323.7,771.5v4h1v-4M1326.1,771.5v4M1328.5,771.5v4M1330.8,771.5v4M1333.2,771.5v4M1335.5,771.5v3M1337.9,771.5v4M1345.0,771.5v2M1354.4,771.5v2M1363.1,771.5v2M1370.2,771.5v2M1376.5,771.5v2M1317.0,771.5v2" stroke="#111" stroke-width="0.8" fill="none"/>
<text x="1308.0" y="654.4" font-size="5.5" text-anchor="end" fill="#222" stroke="#222">10<tspan dy="-2.475" font-size="4.125">5</tspan><tspan dy="2.475" font-size="1">&#8203;</tspan></text>
<text x="1308.0" y="719.2" font-size="5.5" text-anchor="end" fill="#222" stroke="#222">10<tspan dy="-2.475" font-size="4.125">4</tspan><tspan dy="2.475" font-size="1">&#8203;</tspan></text>
<text x="1301.2" y="757.0" font-size="5.5" text-anchor="end" fill="#222" stroke="#222">0</text>
<text x="1333.2" y="786.0" font-size="5.5" text-anchor="middle" fill="#222" stroke="#222">0</text>
<text x="1388.3" y="786.0" font-size="5.5" text-anchor="middle" fill="#222" stroke="#222">10<tspan dy="-2.475" font-size="4.125">5</tspan><tspan dy="2.475" font-size="1">&#8203;</tspan></text>
<text x="1465.4" y="786.0" font-size="5.5" text-anchor="middle" fill="#222" stroke="#222">10<tspan dy="-2.475" font-size="4.125">6</tspan><tspan dy="2.475" font-size="1">&#8203;</tspan></text>
<path d="M1354.4,696.8c1.1-4.3 2.1-8.8 6.3-13.2 4.2-4.5 12.1-8.8 18.9-13.4 6.8-4.6 15.2-10 22-14.2 6.9-4.2 14.3-8.9 18.9-11 4.6-2.1 6.7-2.2 8.7-1.6 2 .7 3.1 2.3 3.4 5.5 .4 3.3 1.2 8.7-1.4 14.2-2.5 5.5-7.6 12.2-13.8 18.9-6.3 6.6-16.3 15.2-23.6 21.1-7.4 5.8-15.2 10.3-20.5 14.1-5.2 3.8-8 7.9-11 8.7-3 .8-5.6-1.2-6.9-3.9-1.4-2.8-1.1-8.4-1.3-12.6-.1-4.2-.8-8.3 .3-12.6Z" fill="#dcebe3" fill-opacity="0.75" stroke="none"/>
<path d="M1354.4,704.3c1.1-4 2.1-7.1 6.3-11.6 4.2-4.4 12.1-9.8 18.9-15.1 6.8-5.2 15.2-11.3 22-16.1 6.9-4.8 14.3-10.2 18.9-12.8 4.6-2.5 6.7-2.8 8.7-2.3 2 .5 3.1 1.9 3.4 5.2 .4 3.2 1.2 8.5-1.4 14.3-2.5 5.7-7.6 13.2-13.8 20.1-6.3 6.9-16.3 14.9-23.6 21-7.4 6.2-15.2 11.8-20.5 16.1-5.2 4.3-8 8.6-11 9.6-3 1.1-5.6-.6-6.9-3.3-1.4-2.6-1.1-8.3-1.3-12.4-.1-4.2-.8-8.6 .3-12.7Z" fill="none" stroke="#b9b9b9" stroke-width="0.4"/>
<path d="M1361.7,702.1c.9-3.1 1.7-5.6 4.9-9.1 3.3-3.6 9.5-8 14.8-12.2 5.3-4.2 11.8-9.1 17.2-13 5.3-3.9 11.1-8.3 14.7-10.4 3.6-2 5.2-2.3 6.7-2 1.6 .4 2.5 1.5 2.7 4 .3 2.5 .9 6.7-1.1 11.2-1.9 4.5-5.9 10.5-10.8 16-4.8 5.5-12.7 11.9-18.4 16.9-5.7 4.9-11.8 9.4-15.9 12.9-4.1 3.4-6.3 6.8-8.6 7.7-2.4 .9-4.4-.4-5.4-2.4-1.1-2-.9-6.5-1-9.7-.1-3.3-.6-6.7 .2-9.9Z" fill="none" stroke="#9a9a9a" stroke-width="0.4"/>
<path d="M1369.4,699.8c.6-2.2 1.1-4 3.4-6.6 2.3-2.6 6.7-5.9 10.4-9.1 3.8-3.1 8.4-6.8 12.1-9.8 3.8-2.9 7.9-6.2 10.4-7.7 2.5-1.6 3.7-1.9 4.8-1.7 1.1 .2 1.7 .9 1.9 2.7 .2 1.8 .6 4.7-.8 7.9-1.4 3.3-4.2 7.7-7.6 11.7-3.4 4-9 8.8-13 12.5-4 3.7-8.4 7.1-11.3 9.7-2.8 2.5-4.4 5-6 5.7-1.7 .7-3.1-.1-3.8-1.5-.8-1.4-.6-4.5-.7-6.8-.1-2.3-.4-4.7 .2-7Z" fill="none" stroke="#7a7a7a" stroke-width="0.4"/>
<path d="M1377.7,697.3c.3-1.2 .6-2.2 1.8-3.8 1.3-1.6 3.7-3.8 5.7-5.8 2.1-2 4.6-4.3 6.6-6.2 2.1-1.9 4.3-4 5.7-5.1 1.4-1 2-1.2 2.6-1.2 .6 0 .9 .4 1 1.3 .1 1 .4 2.5-.4 4.4-.8 1.9-2.3 4.5-4.2 6.9-1.8 2.5-4.8 5.5-7 7.8-2.2 2.4-4.6 4.5-6.2 6.2-1.5 1.6-2.4 3-3.3 3.6-.9 .5-1.6 .1-2.1-.6-.4-.7-.3-2.4-.3-3.7-.1-1.2-.3-2.5 .1-3.8Z" fill="none" stroke="#c8c8c8" stroke-width="0.4"/>
<path d="M1354.4,702.4c1.1-4 2.1-7.1 6.3-11.4 4.2-4.4 12.1-9.7 18.9-14.9 6.8-5.1 15.2-11.1 22-15.8 6.9-4.7 14.3-10 18.9-12.4 4.6-2.5 6.7-2.7 8.7-2.2 2 .5 3.1 2 3.4 5.2 .4 3.3 1.2 8.6-1.4 14.3-2.5 5.7-7.6 13.1-13.8 19.9-6.3 6.8-16.3 14.6-23.6 20.7-7.4 6-15.2 11.5-20.5 15.7-5.2 4.2-8 8.5-11 9.5-3 1-5.6-.8-6.9-3.4-1.4-2.7-1.1-8.4-1.3-12.5-.1-4.2-.8-8.6 .3-12.7Z" fill="none" stroke="#8f8f8f" stroke-width="0.4"/>
<path d="M1361.7,700.2c.9-3.1 1.7-5.5 4.9-9 3.3-3.5 9.5-7.8 14.8-11.9 5.3-4.1 11.8-8.9 17.2-12.7 5.3-3.8 11.1-8 14.7-10 3.6-2 5.2-2.2 6.7-1.9 1.6 .4 2.5 1.5 2.7 4 .3 2.6 .9 6.7-1.1 11.2-1.9 4.5-5.9 10.4-10.8 15.8-4.8 5.4-12.7 11.6-18.4 16.5-5.7 4.8-11.8 9.2-15.9 12.6-4.1 3.3-6.3 6.7-8.6 7.6-2.4 .8-4.4-.5-5.4-2.6-1.1-2-.9-6.5-1-9.7-.1-3.3-.6-6.7 .2-9.9Z" fill="none" stroke="#6c6c6c" stroke-width="0.4"/>
<path d="M1369.4,697.9c.6-2.2 1.1-3.9 3.4-6.5 2.3-2.5 6.7-5.7 10.4-8.8 3.8-3 8.4-6.6 12.1-9.4 3.8-2.8 7.9-6 10.4-7.5 2.5-1.5 3.7-1.7 4.8-1.5 1.1 .2 1.7 1 1.9 2.7 .2 1.8 .6 4.7-.8 7.9-1.4 3.3-4.2 7.5-7.6 11.5-3.4 3.9-9 8.6-13 12.1-4 3.6-8.4 6.9-11.3 9.4-2.8 2.5-4.4 4.9-6 5.6-1.7 .6-3.1-.3-3.8-1.7-.8-1.4-.6-4.5-.7-6.8-.1-2.3-.4-4.7 .2-7Z" fill="none" stroke="#d6d6d6" stroke-width="0.4"/>
<path d="M1377.7,695.4c.3-1.2 .6-2.2 1.8-3.7 1.3-1.6 3.7-3.6 5.7-5.5 2.1-1.9 4.6-4.1 6.6-5.9 2.1-1.8 4.3-3.7 5.7-4.7 1.4-1 2-1.2 2.6-1.1 .6 0 .9 .4 1 1.4 .1 .9 .4 2.5-.4 4.3-.8 1.9-2.3 4.4-4.2 6.7-1.8 2.4-4.8 5.3-7 7.5-2.2 2.2-4.6 4.2-6.2 5.8-1.5 1.5-2.4 2.9-3.3 3.4-.9 .4-1.6 .1-2.1-.7-.4-.7-.3-2.4-.3-3.7-.1-1.2-.3-2.5 .1-3.8Z" fill="none" stroke="#b9b9b9" stroke-width="0.4"/>
<path d="M1354.4,700.6c1.1-4 2.1-7.1 6.3-11.4 4.2-4.4 12.1-9.5 18.9-14.5 6.8-5 15.2-10.9 22-15.5 6.9-4.6 14.3-9.8 18.9-12.2 4.6-2.3 6.7-2.6 8.7-2.1 2 .6 3.1 2.1 3.4 5.3 .4 3.3 1.2 8.6-1.4 14.3-2.5 5.6-7.6 13-13.8 19.7-6.3 6.7-16.3 14.3-23.6 20.3-7.4 5.9-15.2 11.3-20.5 15.4-5.2 4.1-8 8.3-11 9.3-3 1-5.6-.8-6.9-3.5-1.4-2.7-1.1-8.3-1.3-12.5-.1-4.2-.8-8.6 .3-12.6Z" fill="none" stroke="#9a9a9a" stroke-width="0.4"/>
<path d="M1361.7,698.4c.9-3.2 1.7-5.6 4.9-9 3.3-3.4 9.5-7.6 14.8-11.6 5.3-4 11.8-8.7 17.2-12.3 5.3-3.7 11.1-7.9 14.7-9.8 3.6-1.9 5.2-2.1 6.7-1.7 1.6 .4 2.5 1.5 2.7 4.1 .3 2.5 .9 6.7-1.1 11.1-1.9 4.5-5.9 10.3-10.8 15.6-4.8 5.3-12.7 11.4-18.4 16.1-5.7 4.7-11.8 9-15.9 12.3-4.1 3.3-6.3 6.6-8.6 7.4-2.4 .8-4.4-.6-5.4-2.7-1.1-2-.9-6.4-1-9.7-.1-3.3-.6-6.7 .2-9.8Z" fill="none" stroke="#7a7a7a" stroke-width="0.4"/>
<path d="M1369.4,696.1c.6-2.3 1.1-4 3.4-6.5 2.3-2.5 6.7-5.5 10.4-8.5 3.8-2.9 8.4-6.4 12.1-9.1 3.8-2.7 7.9-5.7 10.4-7.2 2.5-1.4 3.7-1.6 4.8-1.3 1.1 .2 1.7 1 1.9 2.8 .2 1.8 .6 4.7-.8 7.9-1.4 3.1-4.2 7.3-7.6 11.2-3.4 3.8-9 8.3-13 11.8-4 3.4-8.4 6.6-11.3 9-2.8 2.4-4.4 4.8-6 5.4-1.7 .6-3.1-.3-3.8-1.8-.8-1.4-.6-4.5-.7-6.8-.1-2.3-.4-4.7 .2-6.9Z" fill="none" stroke="#c8c8c8" stroke-width="0.4"/>
<path d="M1377.7,693.6c.3-1.3 .6-2.3 1.8-3.7 1.3-1.5 3.7-3.4 5.7-5.2 2.1-1.8 4.6-3.9 6.6-5.5 2.1-1.7 4.3-3.6 5.7-4.5 1.4-.9 2-1 2.6-1 .6 .1 .9 .5 1 1.5 .1 1 .4 2.5-.4 4.3-.8 1.8-2.3 4.3-4.2 6.5-1.8 2.3-4.8 5-7 7.1-2.2 2.1-4.6 4-6.2 5.5-1.5 1.4-2.4 2.8-3.3 3.2-.9 .4-1.6 0-2.1-.7-.4-.8-.3-2.5-.3-3.7-.1-1.3-.3-2.6 .1-3.8Z" fill="none" stroke="#8f8f8f" stroke-width="0.4"/>
<path d="M1354.4,699c1.1-4 2.1-7.1 6.3-11.3 4.2-4.3 12.1-9.4 18.9-14.3 6.8-4.9 15.2-10.7 22-15.2 6.9-4.5 14.3-9.6 18.9-11.9 4.6-2.3 6.7-2.5 8.7-2 2 .6 3.1 2.1 3.4 5.4 .4 3.2 1.2 8.6-1.4 14.2-2.5 5.6-7.6 13-13.8 19.5-6.3 6.6-16.3 14.2-23.6 20-7.4 5.9-15.2 11.1-20.5 15.2-5.2 4-8 8.2-11 9.1-3 1-5.6-.9-6.9-3.6-1.4-2.7-1.1-8.3-1.3-12.5-.1-4.2-.8-8.6 .3-12.6Z" fill="none" stroke="#6c6c6c" stroke-width="0.4"/>
<path d="M1361.7,696.8c.9-3.1 1.7-5.5 4.9-8.9 3.3-3.4 9.5-7.4 14.8-11.3 5.3-3.9 11.8-8.5 17.2-12.1 5.3-3.6 11.1-7.6 14.7-9.5 3.6-1.8 5.2-2 6.7-1.6 1.6 .4 2.5 1.6 2.7 4.1 .3 2.6 .9 6.7-1.1 11.1-1.9 4.5-5.9 10.2-10.8 15.4-4.8 5.2-12.7 11.2-18.4 15.9-5.7 4.6-11.8 8.7-15.9 12-4.1 3.2-6.3 6.5-8.6 7.2-2.4 .8-4.4-.6-5.4-2.7-1.1-2.1-.9-6.5-1-9.8-.1-3.2-.6-6.7 .2-9.8Z" fill="none" stroke="#d6d6d6" stroke-width="0.4"/>
<path d="M1369.4,694.5c.6-2.2 1.1-3.9 3.4-6.4 2.3-2.4 6.7-5.4 10.4-8.2 3.8-2.9 8.4-6.2 12.1-8.8 3.8-2.7 7.9-5.6 10.4-7 2.5-1.3 3.7-1.5 4.8-1.2 1.1 .2 1.7 1 1.9 2.8 .2 1.8 .6 4.7-.8 7.9-1.4 3.1-4.2 7.3-7.6 11-3.4 3.8-9 8.1-13 11.5-4 3.4-8.4 6.4-11.3 8.8-2.8 2.3-4.4 4.7-6 5.2-1.7 .6-3.1-.4-3.8-1.8-.8-1.5-.6-4.6-.7-6.9-.1-2.3-.4-4.7 .2-6.9Z" fill="none" stroke="#b9b9b9" stroke-width="0.4"/>
<path d="M1377.7,692c.3-1.2 .6-2.2 1.8-3.6 1.3-1.4 3.7-3.2 5.7-4.9 2.1-1.7 4.6-3.7 6.6-5.3 2.1-1.6 4.3-3.3 5.7-4.2 1.4-.8 2-1 2.6-.9 .6 .1 .9 .6 1 1.5 .1 1 .4 2.6-.4 4.3-.8 1.8-2.3 4.2-4.2 6.4-1.8 2.1-4.8 4.7-7 6.7-2.2 2-4.6 3.9-6.2 5.2-1.5 1.4-2.4 2.8-3.3 3.2-.9 .3-1.6-.1-2.1-.9-.4-.8-.3-2.5-.3-3.7-.1-1.3-.3-2.6 .1-3.8Z" fill="none" stroke="#9a9a9a" stroke-width="0.4"/>
<path d="M1354.4,697.4c1.1-4 2.1-7 6.3-11.2 4.2-4.2 12.1-9.2 18.9-14 6.8-4.9 15.2-10.5 22-14.9 6.9-4.5 14.3-9.4 18.9-11.7 4.6-2.3 6.7-2.5 8.7-1.9 2 .6 3.1 2.2 3.4 5.4 .4 3.3 1.2 8.6-1.4 14.2-2.5 5.6-7.6 12.9-13.8 19.4-6.3 6.5-16.3 13.9-23.6 19.7-7.4 5.7-15.2 10.8-20.5 14.8-5.2 4-8 8.2-11 9.1-3 .8-5.6-1-6.9-3.7-1.4-2.8-1.1-8.4-1.3-12.6-.1-4.2-.8-8.6 .3-12.6Z" fill="none" stroke="#7a7a7a" stroke-width="0.4"/>
<path d="M1361.7,695.2c.9-3.1 1.7-5.5 4.9-8.8 3.3-3.3 9.5-7.3 14.8-11.1 5.3-3.8 11.8-8.3 17.2-11.8 5.3-3.5 11.1-7.4 14.7-9.2 3.6-1.8 5.2-2 6.7-1.5 1.6 .4 2.5 1.6 2.7 4.2 .3 2.5 .9 6.7-1.1 11.1-1.9 4.3-5.9 10-10.8 15.2-4.8 5.1-12.7 10.9-18.4 15.5-5.7 4.5-11.8 8.6-15.9 11.7-4.1 3.2-6.3 6.4-8.6 7.2-2.4 .7-4.4-.8-5.4-2.9-1.1-2.1-.9-6.5-1-9.8-.1-3.2-.6-6.7 .2-9.8Z" fill="none" stroke="#c8c8c8" stroke-width="0.4"/>
<path d="M1369.4,692.9c.6-2.2 1.1-3.9 3.4-6.3 2.3-2.3 6.7-5.2 10.4-8 3.8-2.7 8.4-6 12.1-8.5 3.8-2.5 7.9-5.4 10.4-6.7 2.5-1.3 3.7-1.4 4.8-1.1 1.1 .2 1.7 1.1 1.9 2.9 .2 1.8 .6 4.7-.8 7.8-1.4 3.1-4.2 7.2-7.6 10.9-3.4 3.6-9 7.9-13 11.1-4 3.3-8.4 6.3-11.3 8.5-2.8 2.3-4.4 4.6-6 5.2-1.7 .5-3.1-.5-3.8-2-.8-1.4-.6-4.6-.7-6.9-.1-2.3-.4-4.7 .2-6.9Z" fill="none" stroke="#8f8f8f" stroke-width="0.4"/>
<path d="M1377.7,690.4c.3-1.2 .6-2.1 1.8-3.5 1.3-1.4 3.7-3.1 5.7-4.7 2.1-1.6 4.6-3.5 6.6-5 2.1-1.4 4.3-3.1 5.7-3.9 1.4-.8 2-.9 2.6-.8 .6 .2 .9 .6 1 1.6 .1 .9 .4 2.5-.4 4.3-.8 1.7-2.3 4-4.2 6.1-1.8 2.1-4.8 4.6-7 6.5-2.2 1.9-4.6 3.6-6.2 4.9-1.5 1.3-2.4 2.6-3.3 3-.9 .3-1.6-.2-2.1-1-.4-.7-.3-2.4-.3-3.7-.1-1.3-.3-2.6 .1-3.8Z" fill="none" stroke="#6c6c6c" stroke-width="0.4"/>
<path d="M1354.4,695.8c1.1-3.9 2.1-7 6.3-11.1 4.2-4.2 12.1-9.1 18.9-13.8 6.8-4.7 15.2-10.3 22-14.6 6.9-4.3 14.3-9.2 18.9-11.4 4.6-2.2 6.7-2.4 8.7-1.8 2 .6 3.1 2.2 3.4 5.5 .4 3.2 1.2 8.6-1.4 14.2-2.5 5.5-7.6 12.7-13.8 19.1-6.3 6.5-16.3 13.7-23.6 19.4-7.4 5.7-15.2 10.7-20.5 14.6-5.2 3.9-8 8-11 8.9-3 .8-5.6-1.1-6.9-3.8-1.4-2.7-1.1-8.4-1.3-12.6-.1-4.2-.8-8.6 .3-12.6Z" fill="none" stroke="#d6d6d6" stroke-width="0.4"/>
<path d="M1361.7,693.6c.9-3.1 1.7-5.4 4.9-8.7 3.3-3.2 9.5-7.1 14.8-10.8 5.3-3.7 11.8-8.1 17.2-11.5 5.3-3.4 11.1-7.3 14.7-9 3.6-1.7 5.2-1.9 6.7-1.4 1.6 .5 2.5 1.7 2.7 4.2 .3 2.6 .9 6.7-1.1 11.1-1.9 4.3-5.9 10-10.8 15-4.8 5-12.7 10.8-18.4 15.2-5.7 4.5-11.8 8.4-15.9 11.5-4.1 3.1-6.3 6.3-8.6 7-2.4 .7-4.4-.8-5.4-2.9-1.1-2.2-.9-6.6-1-9.8-.1-3.3-.6-6.8 .2-9.9Z" fill="none" stroke="#b9b9b9" stroke-width="0.4"/>
<path d="M1369.4,691.3c.6-2.2 1.1-3.8 3.4-6.2 2.3-2.3 6.7-5 10.4-7.7 3.8-2.7 8.4-5.8 12.1-8.3 3.8-2.4 7.9-5.2 10.4-6.4 2.5-1.3 3.7-1.4 4.8-1.1 1.1 .4 1.7 1.2 1.9 3 .2 1.8 .6 4.7-.8 7.8-1.4 3.1-4.2 7.1-7.6 10.7-3.4 3.6-9 7.7-13 10.9-4 3.2-8.4 6-11.3 8.2-2.8 2.2-4.4 4.5-6 5-1.7 .5-3.1-.5-3.8-2-.8-1.5-.6-4.6-.7-6.9-.1-2.3-.4-4.8 .2-7Z" fill="none" stroke="#9a9a9a" stroke-width="0.4"/>
<path d="M1377.7,688.8c.3-1.2 .6-2.1 1.8-3.4 1.3-1.3 3.7-2.9 5.7-4.4 2.1-1.5 4.6-3.3 6.6-4.7 2.1-1.4 4.3-3 5.7-3.7 1.4-.7 2-.8 2.6-.7 .6 .2 .9 .6 1 1.6 .1 1 .4 2.6-.4 4.3-.8 1.7-2.3 3.9-4.2 6-1.8 2-4.8 4.3-7 6.1-2.2 1.8-4.6 3.4-6.2 4.7-1.5 1.2-2.4 2.5-3.3 2.8-.9 .3-1.6-.2-2.1-1-.4-.8-.3-2.5-.3-3.8-.1-1.2-.3-2.6 .1-3.8Z" fill="none" stroke="#7a7a7a" stroke-width="0.4"/>
<path d="M1354.4,694.6c1.1-4 2.1-7 6.3-11.1 4.2-4.1 12.1-8.9 18.9-13.6 6.8-4.6 15.2-10.1 22-14.4 6.9-4.2 14.3-9 18.9-11.2 4.6-2.1 6.7-2.3 8.7-1.7 2 .7 3.1 2.2 3.4 5.5 .4 3.3 1.2 8.7-1.4 14.2-2.5 5.5-7.6 12.7-13.8 19-6.3 6.4-16.3 13.6-23.6 19.2-7.4 5.5-15.2 10.5-20.5 14.3-5.2 3.9-8 8-11 8.8-3 .8-5.6-1.1-6.9-3.9-1.4-2.7-1.1-8.3-1.3-12.5-.1-4.2-.8-8.7 .3-12.6Z" fill="none" stroke="#c8c8c8" stroke-width="0.4"/>
<path d="M1361.7,692.4c.9-3.1 1.7-5.5 4.9-8.7 3.3-3.2 9.5-7 14.8-10.6 5.3-3.7 11.8-7.9 17.2-11.3 5.3-3.3 11.1-7.1 14.7-8.8 3.6-1.7 5.2-1.8 6.7-1.3 1.6 .5 2.5 1.7 2.7 4.3 .3 2.5 .9 6.7-1.1 11-1.9 4.3-5.9 9.9-10.8 14.9-4.8 5-12.7 10.6-18.4 15-5.7 4.3-11.8 8.2-15.9 11.2-4.1 3.1-6.3 6.3-8.6 6.9-2.4 .6-4.4-.9-5.4-3-1.1-2.1-.9-6.5-1-9.8-.1-3.3-.6-6.7 .2-9.8Z" fill="none" stroke="#8f8f8f" stroke-width="0.4"/>
<path d="M1369.4,690.1c.6-2.2 1.1-3.9 3.4-6.1 2.3-2.3 6.7-5 10.4-7.6 3.8-2.6 8.4-5.6 12.1-8 3.8-2.4 7.9-5.1 10.4-6.3 2.5-1.2 3.7-1.3 4.8-.9 1.1 .3 1.7 1.2 1.9 3 .2 1.8 .6 4.7-.8 7.8-1.4 3-4.2 7-7.6 10.5-3.4 3.5-9 7.5-13 10.6-4 3.1-8.4 5.9-11.3 8-2.8 2.2-4.4 4.4-6 4.9-1.7 .5-3.1-.6-3.8-2.1-.8-1.5-.6-4.6-.7-6.9-.1-2.3-.4-4.7 .2-6.9Z" fill="none" stroke="#6c6c6c" stroke-width="0.4"/>
<path d="M1377.7,687.6c.3-1.2 .6-2.1 1.8-3.4 1.3-1.3 3.7-2.8 5.7-4.2 2.1-1.5 4.6-3.2 6.6-4.5 2.1-1.3 4.3-2.8 5.7-3.5 1.4-.7 2-.7 2.6-.5 .6 .1 .9 .6 1 1.6 .1 1 .4 2.6-.4 4.2-.8 1.7-2.3 3.9-4.2 5.8-1.8 2-4.8 4.2-7 6-2.2 1.7-4.6 3.2-6.2 4.4-1.5 1.2-2.4 2.5-3.3 2.7-.9 .3-1.6-.3-2.1-1.1-.4-.8-.3-2.5-.3-3.7-.1-1.3-.3-2.6 .1-3.8Z" fill="none" stroke="#d6d6d6" stroke-width="0.4"/>
<path d="M1354.4,698c1.1-3.9 2.1-7 6.3-11.2 4.2-4.3 12.1-9.3 18.9-14.1 6.8-4.9 15.2-10.6 22-15.1 6.9-4.4 14.3-9.4 18.9-11.7 4.6-2.3 6.7-2.5 8.7-1.9 2 .5 3.1 2.1 3.4 5.3 .4 3.3 1.2 8.7-1.4 14.3-2.5 5.6-7.6 12.9-13.8 19.4-6.3 6.5-16.3 14-23.6 19.8-7.4 5.8-15.2 11-20.5 15-5.2 4-8 8.1-11 9-3 .9-5.6-.9-6.9-3.6-1.4-2.7-1.1-8.4-1.3-12.6-.1-4.2-.8-8.6 .3-12.6Z" fill="none" stroke="#2aa565" stroke-width="0.4"/>
<path d="M1363,694.9c.8-3.1 1.6-5.5 4.9-8.9 3.3-3.3 9.4-7.3 14.7-11.1 5.3-3.9 11.9-8.4 17.2-11.9 5.3-3.6 11.2-7.6 14.7-9.4 3.6-1.8 5.2-2 6.8-1.5 1.6 .4 2.4 1.6 2.7 4.1 .3 2.6 .9 6.7-1.1 11.1-2 4.4-6 10.1-10.8 15.3-4.9 5.1-12.7 11.1-18.4 15.6-5.8 4.6-11.9 8.7-16 11.9-4.1 3.2-6.3 6.4-8.6 7.2-2.3 .7-4.3-.7-5.4-2.8-1.1-2.1-.8-6.5-1-9.8-.1-3.3-.6-6.7 .3-9.8Z" fill="none" stroke="#47c987" stroke-width="0.4"/>
<path d="M1371.9,691.6c.6-2.3 1.2-3.9 3.5-6.3 2.3-2.4 6.6-5.4 10.4-8.1 3.7-2.8 8.3-6.1 12.1-8.7 3.7-2.6 7.8-5.5 10.4-6.8 2.5-1.3 3.6-1.5 4.7-1.2 1.1 .3 1.7 1.1 1.9 2.9 .2 1.8 .7 4.7-.7 7.8-1.4 3.2-4.2 7.3-7.7 11-3.4 3.7-8.9 8-12.9 11.3-4.1 3.3-8.4 6.3-11.3 8.6-2.9 2.3-4.4 4.6-6.1 5.2-1.6 .5-3-.5-3.8-1.9-.7-1.5-.6-4.6-.7-6.9 0-2.3-.4-4.7 .2-6.9Z" fill="none" stroke="#157a45" stroke-width="0.4"/>
<path d="M1381.6,688c.4-1.3 .7-2.2 1.9-3.6 1.3-1.4 3.6-3.1 5.7-4.7 2-1.7 4.5-3.6 6.6-5.2 2-1.5 4.3-3.2 5.7-4 1.3-.8 1.9-.9 2.6-.8 .6 .1 .9 .5 1 1.5 .1 1 .3 2.6-.4 4.3-.8 1.8-2.3 4.1-4.2 6.2-1.9 2.2-4.9 4.7-7.1 6.6-2.2 1.9-4.5 3.7-6.1 5.1-1.6 1.3-2.4 2.6-3.3 3-.9 .3-1.7-.2-2.1-.9-.4-.8-.3-2.5-.4-3.8 0-1.2-.2-2.5 .1-3.7Z" fill="none" stroke="#6fe0b0" stroke-width="0.4"/>
<path d="M1354.4,696.5c1.1-4 2.1-7 6.3-11.2 4.2-4.2 12.1-9.1 18.9-13.9 6.8-4.8 15.2-10.3 22-14.7 6.9-4.4 14.3-9.3 18.9-11.5 4.6-2.2 6.7-2.4 8.7-1.8 2 .6 3.1 2.1 3.4 5.4 .4 3.3 1.2 8.6-1.4 14.2-2.5 5.6-7.6 12.8-13.8 19.2-6.3 6.5-16.3 13.8-23.6 19.5-7.4 5.7-15.2 10.8-20.5 14.7-5.2 4-8 8.1-11 9-3 .8-5.6-1.1-6.9-3.8-1.4-2.7-1.1-8.3-1.3-12.5-.1-4.2-.8-8.7 .3-12.6Z" fill="none" stroke="#7fd9a8" stroke-width="0.4"/>
<path d="M1363,693.3c.8-3.1 1.6-5.5 4.9-8.8 3.3-3.2 9.4-7.1 14.7-10.9 5.3-3.7 11.9-8.2 17.2-11.6 5.3-3.5 11.2-7.3 14.7-9.1 3.6-1.7 5.2-1.9 6.8-1.4 1.6 .4 2.4 1.6 2.7 4.2 .3 2.5 .9 6.7-1.1 11-2 4.4-6 10.1-10.8 15.1-4.9 5.1-12.7 10.9-18.4 15.4-5.8 4.5-11.9 8.5-16 11.6-4.1 3.1-6.3 6.3-8.6 7-2.3 .7-4.3-.8-5.4-2.9-1.1-2.1-.8-6.5-1-9.8-.1-3.2-.6-6.7 .3-9.8Z" fill="none" stroke="#3fbf7a" stroke-width="0.4"/>
<path d="M1371.9,690c.6-2.2 1.2-3.9 3.5-6.2 2.3-2.4 6.6-5.2 10.4-7.9 3.7-2.7 8.3-5.9 12.1-8.4 3.7-2.4 7.8-5.2 10.4-6.5 2.5-1.3 3.6-1.4 4.7-1.1 1.1 .3 1.7 1.2 1.9 2.9 .2 1.8 .7 4.8-.7 7.9-1.4 3.1-4.2 7.1-7.7 10.7-3.4 3.6-8.9 7.8-12.9 11-4.1 3.2-8.4 6.1-11.3 8.3-2.9 2.3-4.4 4.6-6.1 5.1-1.6 .5-3-.5-3.8-2-.7-1.5-.6-4.6-.7-6.9 0-2.3-.4-4.7 .2-6.9Z" fill="none" stroke="#1f9b5d" stroke-width="0.4"/>
<path d="M1381.6,686.4c.4-1.2 .7-2.2 1.9-3.5 1.3-1.3 3.6-2.9 5.7-4.5 2-1.5 4.5-3.4 6.6-4.8 2-1.4 4.3-3.1 5.7-3.8 1.3-.8 1.9-.9 2.6-.7 .6 .1 .9 .6 1 1.6 .1 .9 .3 2.5-.4 4.2-.8 1.8-2.3 4-4.2 6.1-1.9 2-4.9 4.4-7.1 6.2-2.2 1.9-4.5 3.6-6.1 4.8-1.6 1.3-2.4 2.6-3.3 2.9-.9 .3-1.7-.2-2.1-1-.4-.8-.3-2.5-.4-3.7 0-1.3-.2-2.6 .1-3.8Z" fill="none" stroke="#5fd39a" stroke-width="0.4"/>
<path d="M1354.4,695.2c1.1-3.9 2.1-7 6.3-11.1 4.2-4.1 12.1-9 18.9-13.7 6.8-4.7 15.2-10.2 22-14.5 6.9-4.3 14.3-9.1 18.9-11.3 4.6-2.2 6.7-2.3 8.7-1.7 2 .6 3.1 2.2 3.4 5.4 .4 3.3 1.2 8.7-1.4 14.2-2.5 5.6-7.6 12.7-13.8 19.1-6.3 6.4-16.3 13.7-23.6 19.3-7.4 5.6-15.2 10.6-20.5 14.5-5.2 3.9-8 8-11 8.8-3 .8-5.6-1.1-6.9-3.8-1.4-2.8-1.1-8.4-1.3-12.6-.1-4.2-.8-8.6 .3-12.6Z" fill="none" stroke="#2aa565" stroke-width="0.4"/>
<path d="M1363,692c.8-3.1 1.6-5.4 4.9-8.7 3.3-3.2 9.4-7 14.7-10.7 5.3-3.7 11.9-8 17.2-11.4 5.3-3.4 11.2-7.2 14.7-8.9 3.6-1.7 5.2-1.8 6.8-1.3 1.6 .5 2.4 1.7 2.7 4.2 .3 2.6 .9 6.7-1.1 11.1-2 4.3-6 9.9-10.8 14.9-4.9 5-12.7 10.7-18.4 15.1-5.8 4.4-11.9 8.4-16 11.4-4.1 3-6.3 6.3-8.6 6.9-2.3 .7-4.3-.8-5.4-2.9-1.1-2.2-.8-6.6-1-9.8-.1-3.3-.6-6.8 .3-9.9Z" fill="none" stroke="#47c987" stroke-width="0.4"/>
<path d="M1371.9,688.7c.6-2.2 1.2-3.8 3.5-6.1 2.3-2.3 6.6-5.1 10.4-7.7 3.7-2.6 8.3-5.7 12.1-8.1 3.7-2.4 7.8-5.1 10.4-6.4 2.5-1.2 3.6-1.3 4.7-1 1.1 .4 1.7 1.2 1.9 3 .2 1.8 .7 4.7-.7 7.8-1.4 3.1-4.2 7.1-7.7 10.6-3.4 3.6-8.9 7.6-12.9 10.8-4.1 3.1-8.4 5.9-11.3 8.1-2.9 2.2-4.4 4.4-6.1 4.9-1.6 .5-3-.5-3.8-2-.7-1.5-.6-4.6-.7-6.9 0-2.4-.4-4.8 .2-7Z" fill="none" stroke="#157a45" stroke-width="0.4"/>
<path d="M1381.6,685.1c.4-1.2 .7-2.1 1.9-3.4 1.3-1.3 3.6-2.8 5.7-4.3 2-1.5 4.5-3.2 6.6-4.6 2-1.3 4.3-2.9 5.7-3.6 1.3-.7 1.9-.8 2.6-.6 .6 .2 .9 .6 1 1.6 .1 1 .3 2.6-.4 4.3-.8 1.7-2.3 3.9-4.2 5.9-1.9 1.9-4.9 4.2-7.1 6-2.2 1.8-4.5 3.3-6.1 4.6-1.6 1.2-2.4 2.5-3.3 2.7-.9 .3-1.7-.2-2.1-1-.4-.8-.3-2.5-.4-3.8 0-1.3-.2-2.6 .1-3.8Z" fill="none" stroke="#6fe0b0" stroke-width="0.4"/>
<path d="M1354.4,693.9c1.1-3.9 2.1-6.9 6.3-11 4.2-4.1 12.1-8.9 18.9-13.5 6.8-4.6 15.2-10 22-14.3 6.9-4.2 14.3-9 18.9-11.1 4.6-2.1 6.7-2.2 8.7-1.6 2 .7 3.1 2.2 3.4 5.5 .4 3.3 1.2 8.6-1.4 14.2-2.5 5.5-7.6 12.6-13.8 18.9-6.3 6.4-16.3 13.5-23.6 19-7.4 5.6-15.2 10.5-20.5 14.3-5.2 3.8-8 7.9-11 8.7-3 .8-5.6-1.1-6.9-3.9-1.4-2.7-1.1-8.4-1.3-12.6-.1-4.2-.8-8.6 .3-12.6Z" fill="none" stroke="#7fd9a8" stroke-width="0.4"/>
<path d="M1363,690.8c.8-3.1 1.6-5.5 4.9-8.6 3.3-3.2 9.4-7 14.7-10.6 5.3-3.6 11.9-7.8 17.2-11.1 5.3-3.4 11.2-7.1 14.7-8.7 3.6-1.7 5.2-1.8 6.8-1.3 1.6 .5 2.4 1.7 2.7 4.3 .3 2.5 .9 6.7-1.1 11-2 4.3-6 9.9-10.8 14.8-4.9 5-12.7 10.5-18.4 14.9-5.8 4.3-11.9 8.1-16 11.1-4.1 3-6.3 6.2-8.6 6.8-2.3 .7-4.3-.8-5.4-3-1.1-2.1-.8-6.5-1-9.8-.1-3.3-.6-6.7 .3-9.8Z" fill="none" stroke="#3fbf7a" stroke-width="0.4"/>
<path d="M1371.9,687.5c.6-2.2 1.2-3.9 3.5-6.1 2.3-2.3 6.6-4.9 10.4-7.5 3.7-2.5 8.3-5.5 12.1-7.9 3.7-2.3 7.8-5 10.4-6.1 2.5-1.2 3.6-1.3 4.7-1 1.1 .4 1.7 1.3 1.9 3.1 .2 1.8 .7 4.7-.7 7.8-1.4 3-4.2 6.9-7.7 10.4-3.4 3.5-8.9 7.5-12.9 10.5-4.1 3.1-8.4 5.8-11.3 7.9-2.9 2.1-4.4 4.4-6.1 4.8-1.6 .5-3-.6-3.8-2.1-.7-1.5-.6-4.6-.7-6.9 0-2.3-.4-4.8 .2-6.9Z" fill="none" stroke="#1f9b5d" stroke-width="0.4"/>
<path d="M1381.6,683.9c.4-1.2 .7-2.1 1.9-3.4 1.3-1.2 3.6-2.7 5.7-4.1 2-1.4 4.5-3.1 6.6-4.3 2-1.3 4.3-2.8 5.7-3.5 1.3-.6 1.9-.7 2.6-.5 .6 .2 .9 .7 1 1.7 .1 .9 .3 2.6-.4 4.2-.8 1.7-2.3 3.8-4.2 5.8-1.9 1.9-4.9 4.1-7.1 5.7-2.2 1.7-4.5 3.2-6.1 4.4-1.6 1.2-2.4 2.4-3.3 2.7-.9 .2-1.7-.4-2.1-1.2-.4-.8-.3-2.5-.4-3.8 0-1.2-.2-2.6 .1-3.7Z" fill="none" stroke="#5fd39a" stroke-width="0.4"/>
<path d="M1354.4,692.7c1.1-3.9 2.1-7 6.3-11 4.2-4 12.1-8.7 18.9-13.3 6.8-4.5 15.2-9.9 22-14 6.9-4.2 14.3-8.9 18.9-10.9 4.6-2.1 6.7-2.2 8.7-1.6 2 .7 3.1 2.3 3.4 5.6 .4 3.2 1.2 8.6-1.4 14.1-2.5 5.5-7.6 12.6-13.8 18.8-6.3 6.3-16.3 13.3-23.6 18.8-7.4 5.5-15.2 10.3-20.5 14-5.2 3.8-8 7.9-11 8.6-3 .8-5.6-1.2-6.9-3.9-1.4-2.8-1.1-8.4-1.3-12.6-.1-4.2-.8-8.7 .3-12.6Z" fill="none" stroke="#2aa565" stroke-width="0.4"/>
<path d="M1363,689.5c.8-3 1.6-5.4 4.9-8.5 3.3-3.2 9.4-6.8 14.7-10.4 5.3-3.5 11.9-7.7 17.2-10.9 5.3-3.3 11.2-6.9 14.7-8.5 3.6-1.6 5.2-1.7 6.8-1.2 1.6 .5 2.4 1.8 2.7 4.3 .3 2.6 .9 6.8-1.1 11.1-2 4.2-6 9.7-10.8 14.6-4.9 4.9-12.7 10.4-18.4 14.6-5.8 4.3-11.9 8-16 11-4.1 2.9-6.3 6.1-8.6 6.7-2.3 .6-4.3-1-5.4-3.1-1.1-2.2-.8-6.6-1-9.9-.1-3.2-.6-6.7 .3-9.8Z" fill="none" stroke="#47c987" stroke-width="0.4"/>
<path d="M1371.9,686.2c.6-2.2 1.2-3.8 3.5-6 2.3-2.2 6.6-4.8 10.4-7.3 3.7-2.5 8.3-5.4 12.1-7.7 3.7-2.2 7.8-4.8 10.4-5.9 2.5-1.1 3.6-1.2 4.7-.8 1.1 .3 1.7 1.2 1.9 3 .2 1.8 .7 4.8-.7 7.8-1.4 3-4.2 6.9-7.7 10.3-3.4 3.4-8.9 7.3-12.9 10.3-4.1 3-8.4 5.6-11.3 7.7-2.9 2-4.4 4.2-6.1 4.7-1.6 .4-3-.7-3.8-2.2-.7-1.6-.6-4.7-.7-7 0-2.3-.4-4.7 .2-6.9Z" fill="none" stroke="#157a45" stroke-width="0.4"/>
<path d="M1381.6,682.6c.4-1.2 .7-2.1 1.9-3.3 1.3-1.2 3.6-2.5 5.7-3.9 2-1.3 4.5-2.9 6.6-4.1 2-1.2 4.3-2.6 5.7-3.2 1.3-.6 1.9-.7 2.6-.5 .6 .3 .9 .7 1 1.7 .1 1 .3 2.6-.4 4.3-.8 1.6-2.3 3.7-4.2 5.6-1.9 1.8-4.9 3.9-7.1 5.5-2.2 1.6-4.5 3-6.1 4.1-1.6 1.2-2.4 2.4-3.3 2.6-.9 .2-1.7-.4-2.1-1.2-.4-.9-.3-2.6-.4-3.8 0-1.3-.2-2.6 .1-3.8Z" fill="none" stroke="#6fe0b0" stroke-width="0.4"/>
<path d="M1354.4,691.7c1.1-3.9 2.1-6.9 6.3-10.9 4.2-4 12.1-8.6 18.9-13.1 6.8-4.5 15.2-9.8 22-13.9 6.9-4.1 14.3-8.7 18.9-10.8 4.6-2 6.7-2.1 8.7-1.4 2 .6 3.1 2.2 3.4 5.5 .4 3.3 1.2 8.7-1.4 14.2-2.5 5.4-7.6 12.5-13.8 18.7-6.3 6.2-16.3 13.1-23.6 18.5-7.4 5.5-15.2 10.2-20.5 13.9-5.2 3.8-8 7.8-11 8.6-3 .7-5.6-1.3-6.9-4.1-1.4-2.7-1.1-8.4-1.3-12.6-.1-4.2-.8-8.6 .3-12.6Z" fill="none" stroke="#7fd9a8" stroke-width="0.4"/>
<path d="M1363,688.6c.8-3.1 1.6-5.4 4.9-8.5 3.3-3.2 9.4-6.7 14.7-10.2 5.3-3.5 11.9-7.6 17.2-10.8 5.3-3.2 11.2-6.8 14.7-8.3 3.6-1.6 5.2-1.7 6.8-1.2 1.6 .6 2.4 1.8 2.7 4.4 .3 2.6 .9 6.8-1.1 11-2 4.3-6 9.7-10.8 14.6-4.9 4.8-12.7 10.2-18.4 14.4-5.8 4.2-11.9 7.9-16 10.8-4.1 2.9-6.3 6-8.6 6.6-2.3 .6-4.3-1-5.4-3.2-1.1-2.1-.8-6.5-1-9.8-.1-3.3-.6-6.8 .3-9.8Z" fill="none" stroke="#3fbf7a" stroke-width="0.4"/>
<path d="M1371.9,685.3c.6-2.2 1.2-3.8 3.5-6 2.3-2.2 6.6-4.7 10.4-7.1 3.7-2.5 8.3-5.3 12.1-7.5 3.7-2.3 7.8-4.8 10.4-5.8 2.5-1.1 3.6-1.2 4.7-.8 1.1 .4 1.7 1.3 1.9 3.1 .2 1.8 .7 4.8-.7 7.7-1.4 3-4.2 6.9-7.7 10.3-3.4 3.3-8.9 7.1-12.9 10-4.1 3-8.4 5.5-11.3 7.6-2.9 2-4.4 4.2-6.1 4.6-1.6 .4-3-.7-3.8-2.3-.7-1.5-.6-4.6-.7-6.9 0-2.3-.4-4.8 .2-6.9Z" fill="none" stroke="#1f9b5d" stroke-width="0.4"/>
<path d="M1381.6,681.7c.4-1.2 .7-2.1 1.9-3.3 1.3-1.1 3.6-2.4 5.7-3.7 2-1.3 4.5-2.8 6.6-4 2-1.2 4.3-2.5 5.7-3.1 1.3-.5 1.9-.5 2.6-.3 .6 .2 .9 .7 1 1.7 .1 1 .3 2.6-.4 4.2-.8 1.6-2.3 3.7-4.2 5.5-1.9 1.8-4.9 3.8-7.1 5.4-2.2 1.5-4.5 2.9-6.1 3.9-1.6 1.1-2.4 2.3-3.3 2.5-.9 .2-1.7-.4-2.1-1.3-.4-.8-.3-2.5-.4-3.8 0-1.2-.2-2.6 .1-3.7Z" fill="none" stroke="#5fd39a" stroke-width="0.4"/>
<line x1="1288.8" y1="790.9" x2="1288.8" y2="609.9" stroke="#000" stroke-width="2.2"/>
<polygon points="1288.8,599.2 1295.0,613.9 1288.8,609.9 1282.6,613.9" fill="#000"/>
<line x1="1287.8" y1="790.9" x2="1483.3" y2="790.9" stroke="#000" stroke-width="2.2"/>
<polygon points="1494.0,790.9 1479.3,797.1 1483.3,790.9 1479.3,784.7" fill="#000"/>
<text x="1282.3" y="697.2" font-size="16.2" text-anchor="middle" stroke="#000" transform="rotate(-90 1282.3 697.2)">GFP</text>
<text x="1392.4" y="808.2" font-size="16.8" text-anchor="middle" stroke="#000">mRuby</text>
<text x="1570.4" y="365.1" font-size="15.4" stroke="#000"><tspan fill="#0c9a55" stroke="#0c9a55">iGluco</tspan><tspan dy="-6" font-size="9" fill="#0c9a55" stroke="#0c9a55">+</tspan><tspan dy="6" font-size="1">&#8203;</tspan></text>
<path d="M1612.4,432.6L1616.1,429.3L1619.8,416.3L1623.6,394.5L1626.0,380.4L1627.3,378.2L1629.0,382.0L1633.4,398.9L1639.1,417.4L1644.7,426.1L1650.3,429.9L1655.3,432.6Z" fill="none" stroke="#58b77a" stroke-width="0.7" stroke-linejoin="round"/>
<line x1="1568.4" y1="432.6" x2="1750.3" y2="432.6" stroke="#a5d3b3" stroke-width="0.9"/>
<path d="M1613.5,489.5L1617.5,486.2L1621.4,473.0L1625.4,451.0L1628.1,436.7L1629.4,434.5L1631.1,438.4L1635.4,455.4L1640.9,474.1L1646.4,482.9L1651.9,486.8L1656.8,489.5Z" fill="#cfe6d0" stroke="#7cc48f" stroke-width="0.7" stroke-linejoin="round"/>
<line x1="1568.4" y1="489.5" x2="1750.3" y2="489.5" stroke="#a5d3b3" stroke-width="0.9"/>
<path d="M1615.6,546.2L1619.8,543.0L1624.0,529.9L1628.2,508.2L1631.1,494.0L1632.4,491.9L1634.1,495.7L1638.1,512.5L1643.4,531.0L1648.6,539.7L1653.8,543.5L1658.5,546.2Z" fill="#9bcdb4" stroke="#8fc7aa" stroke-width="0.7" stroke-linejoin="round"/>
<line x1="1568.4" y1="546.2" x2="1750.3" y2="546.2" stroke="#a5d3b3" stroke-width="0.9"/>
<path d="M1615.6,603.4L1620.6,600.1L1625.6,587.0L1630.6,565.2L1634.3,551.0L1635.6,548.8L1637.3,552.6L1641.3,569.5L1646.5,588.1L1651.8,596.8L1657.0,600.7L1661.7,603.4Z" fill="#9bcdb4" stroke="#8fc7aa" stroke-width="0.7" stroke-linejoin="round"/>
<line x1="1568.4" y1="603.4" x2="1750.3" y2="603.4" stroke="#a5d3b3" stroke-width="0.9"/>
<path d="M1616.0,660.3L1621.8,657.0L1627.5,643.9L1633.2,621.9L1637.7,607.7L1639.0,605.5L1640.7,609.3L1645.1,626.3L1650.7,645.0L1656.3,653.7L1662.0,657.6L1667.0,660.3Z" fill="#68b591" stroke="#68b591" stroke-width="0.7" stroke-linejoin="round"/>
<line x1="1568.4" y1="660.3" x2="1750.3" y2="660.3" stroke="#a5d3b3" stroke-width="0.9"/>
<path d="M1617.1,716.6L1623.2,713.4L1629.3,700.5L1635.4,679.0L1640.2,665.0L1641.5,662.9L1643.2,666.6L1647.4,683.3L1652.7,701.5L1658.0,710.1L1663.3,713.9L1668.1,716.6Z" fill="#68b591" stroke="#68b591" stroke-width="0.7" stroke-linejoin="round"/>
<path d="M1623.0,773.3L1628.8,770.1L1634.6,757.2L1640.4,735.8L1644.9,721.9L1646.2,719.8L1647.9,723.5L1650.3,740.1L1654.0,758.3L1657.8,766.9L1661.5,770.6L1664.9,773.3Z" fill="#018240" stroke="#018240" stroke-width="0.7" stroke-linejoin="round"/>
<rect x="1568.4" y="368.2" width="181.8" height="405.1" fill="none" stroke="#555" stroke-width="0.9"/>
<line x1="1568.4" y1="368.2" x2="1750.3" y2="368.2" stroke="#000" stroke-width="1.1"/>
<text x="1738.6" y="389.3" font-size="15" text-anchor="end" stroke="#000">0 mM</text>
<text x="1743.5" y="450.0" font-size="15" text-anchor="end" stroke="#000">1 mM</text>
<text x="1742.4" y="508.9" font-size="15" text-anchor="end" stroke="#000">2 mM</text>
<text x="1741.8" y="566.8" font-size="15" text-anchor="end" stroke="#000">4 mM</text>
<text x="1740.3" y="625.3" font-size="15" text-anchor="end" stroke="#000">6 mM</text>
<text x="1742.4" y="677.3" font-size="15" text-anchor="end" stroke="#000">8 mM</text>
<text x="1742.4" y="737.6" font-size="15" text-anchor="end" stroke="#000">10 mM</text>
<path d="M1591.6,773.3v4.5M1707.4,773.3v4M1749.2,773.3v4" stroke="#111" stroke-width="1" fill="none"/>
<path d="M1678.1,773.3v1.8M1685.5,773.3v1.8M1690.7,773.3v1.8M1694.8,773.3v1.8M1698.1,773.3v1.8M1700.9,773.3v1.8M1703.3,773.3v1.8M1705.4,773.3v1.8M1720.0,773.3v1.8M1727.3,773.3v1.8M1732.6,773.3v1.8M1736.6,773.3v1.8M1739.9,773.3v1.8M1742.7,773.3v1.8M1745.1,773.3v1.8M1747.3,773.3v1.8M1665.5,773.3v4M1707.4,773.3v4M1749.2,773.3v4" stroke="#000" stroke-width="0.7" fill="none"/>
<rect x="1657.4" y="773.7" width="34.0" height="4.0" fill="#fff"/>
<text x="1594.8" y="787.3" font-size="5" text-anchor="middle" fill="#222" stroke="#222">0</text>
<text x="1711.0" y="787.3" font-size="5" text-anchor="middle" fill="#222" stroke="#222">10<tspan dy="-2.25" font-size="3.75">1</tspan><tspan dy="2.25" font-size="1">&#8203;</tspan></text>
<text x="1745.0" y="787.3" font-size="5" text-anchor="middle" fill="#222" stroke="#222">10<tspan dy="-2.25" font-size="3.75">2</tspan><tspan dy="2.25" font-size="1">&#8203;</tspan></text>
<text x="1559.8" y="571.7" font-size="16.9" text-anchor="middle" stroke="#000" transform="rotate(-90 1559.8 571.7)">Count</text>
<text x="1659.4" y="801.3" font-size="16.7" text-anchor="middle" stroke="#000">GFP/mRuby</text>
<path d="M1424.8,1024.9c4.7-3.7 17.4-12.7 28.2-22.4 10.9-9.6 24.6-23 36.9-35.4 12.3-12.4 24.6-26.4 36.8-39.1 12.3-12.8 26.7-27.1 36.9-37.3 10.2-10.3 16.4-17.1 24.6-24.2 8.2-7.2 20.5-15.6 24.6-18.7" fill="none" stroke="#cfcfcf" stroke-width="1.3"/>
<path d="M1448.1,1051c4.9-5.9 20.5-25.2 29.5-35.4 9-10.3 14.3-16.5 24.6-26.1 10.2-9.6 26.6-23.6 36.8-31.7 10.3-8.1 16.4-11.2 24.6-16.8 8.2-5.6 16.4-11.8 24.6-16.8 8.2-4.9 20.5-10.8 24.6-13" fill="none" stroke="#cfcfcf" stroke-width="1.3"/>
<line x1="1425.4" y1="1051.0" x2="1612.8" y2="879.5" stroke="#0b7a40" stroke-width="2"/>
<path d="M1416.2,1047.3L1440.7,1032.4L1477.6,1013.7L1526.7,976.4L1551.3,939.2L1612.8,864.6" fill="none" stroke="#000" stroke-width="1.2"/>
<circle cx="1416.2" cy="1047.3" r="2.9" fill="#000"/>
<circle cx="1440.7" cy="1032.4" r="2.9" fill="#000"/>
<circle cx="1477.6" cy="1013.7" r="2.9" fill="#000"/>
<circle cx="1526.7" cy="976.4" r="2.9" fill="#000"/>
<circle cx="1551.3" cy="939.2" r="2.9" fill="#000"/>
<circle cx="1612.8" cy="864.6" r="2.9" fill="#000"/>
<line x1="1536.6" y1="949.4" x2="1369.5" y2="949.4" stroke="#1f8f55" stroke-width="1" stroke-dasharray="9,2.5"/>
<polygon points="1367.0,949.4 1373.0,947.1 1373.0,951.7" fill="#1f8f55"/>
<line x1="1536.6" y1="949.4" x2="1536.6" y2="1051.0" stroke="#1f8f55" stroke-width="1" stroke-dasharray="9,2.5"/>
<line x1="1367.0" y1="845.6" x2="1367.0" y2="1051.6" stroke="#111" stroke-width="1.2"/>
<line x1="1366.4" y1="1051.0" x2="1674.8" y2="1051.0" stroke="#111" stroke-width="1.2"/>
<line x1="1359.0" y1="1051.0" x2="1367.0" y2="1051.0" stroke="#111" stroke-width="1.1"/>
<line x1="1363.0" y1="1032.4" x2="1367.0" y2="1032.4" stroke="#111" stroke-width="1.1"/>
<line x1="1363.0" y1="1013.7" x2="1367.0" y2="1013.7" stroke="#111" stroke-width="1.1"/>
<line x1="1363.0" y1="995.1" x2="1367.0" y2="995.1" stroke="#111" stroke-width="1.1"/>
<line x1="1363.0" y1="976.4" x2="1367.0" y2="976.4" stroke="#111" stroke-width="1.1"/>
<line x1="1359.0" y1="957.8" x2="1367.0" y2="957.8" stroke="#111" stroke-width="1.1"/>
<line x1="1363.0" y1="939.2" x2="1367.0" y2="939.2" stroke="#111" stroke-width="1.1"/>
<line x1="1363.0" y1="920.5" x2="1367.0" y2="920.5" stroke="#111" stroke-width="1.1"/>
<line x1="1363.0" y1="901.9" x2="1367.0" y2="901.9" stroke="#111" stroke-width="1.1"/>
<line x1="1363.0" y1="883.2" x2="1367.0" y2="883.2" stroke="#111" stroke-width="1.1"/>
<line x1="1359.0" y1="864.6" x2="1367.0" y2="864.6" stroke="#111" stroke-width="1.1"/>
<text x="1357.0" y="1057.0" font-size="17" text-anchor="end" stroke="#000">0</text>
<text x="1357.0" y="963.8" font-size="17" text-anchor="end" stroke="#000">5</text>
<text x="1357.0" y="870.6" font-size="17" text-anchor="end" stroke="#000">10</text>
<line x1="1367.0" y1="1051.0" x2="1367.0" y2="1058.0" stroke="#111" stroke-width="1.1"/>
<text x="1371.5" y="1075.5" font-size="17" text-anchor="middle" stroke="#000">0.15</text>
<line x1="1428.4" y1="1051.0" x2="1428.4" y2="1058.0" stroke="#111" stroke-width="1.1"/>
<text x="1432.9" y="1075.5" font-size="17" text-anchor="middle" stroke="#000">0.20</text>
<line x1="1489.9" y1="1051.0" x2="1489.9" y2="1058.0" stroke="#111" stroke-width="1.1"/>
<text x="1494.4" y="1075.5" font-size="17" text-anchor="middle" stroke="#000">0.25</text>
<line x1="1551.3" y1="1051.0" x2="1551.3" y2="1058.0" stroke="#111" stroke-width="1.1"/>
<text x="1555.8" y="1075.5" font-size="17" text-anchor="middle" stroke="#000">0.30</text>
<line x1="1612.8" y1="1051.0" x2="1612.8" y2="1058.0" stroke="#111" stroke-width="1.1"/>
<text x="1617.3" y="1075.5" font-size="17" text-anchor="middle" stroke="#000">0.35</text>
<line x1="1674.2" y1="1051.0" x2="1674.2" y2="1058.0" stroke="#111" stroke-width="1.1"/>
<text x="1678.7" y="1075.5" font-size="17" text-anchor="middle" stroke="#000">0.40</text>
<text x="1382.1" y="862.0" font-size="19" stroke="#000">r<tspan dy="-7.5" font-size="10.5">2</tspan><tspan dy="7.5" font-size="1">&#8203;</tspan>=0.96</text>
<text x="1382.1" y="887.6" font-size="19" stroke="#000">y = 60.24x-11.9</text>
<text x="1317.5" y="954.0" font-size="19" text-anchor="middle" stroke="#000" transform="rotate(-90 1317.5 954.0)">Glucose concentration</text>
<text x="1341.0" y="951.5" font-size="19" text-anchor="middle" stroke="#000" transform="rotate(-90 1341.0 951.5)">(mM)</text>
<text x="1696.5" y="948.7" font-size="18.5" text-anchor="middle" stroke="#000" transform="rotate(-90 1696.5 948.7)">GFP/mRuby</text>
<text x="1525.4" y="1105.0" font-size="21.1" text-anchor="middle" stroke="#000">GFP/mRuby</text>
<text transform="translate(1208.8,1163.7) scale(1.0,1)" x="0" y="0" font-size="43.5" font-family="'DejaVu Sans', 'Liberation Sans', sans-serif" stroke="#000" stroke-width="0.5">I</text>
<text x="1410.2" y="1169.0" font-size="22.7" text-anchor="middle" stroke="#000">iGluco</text>
<text x="1611.9" y="1154.0" font-size="22.6" text-anchor="middle" stroke="#000">Glucose</text>
<text x="1611.9" y="1182.0" font-size="22.6" text-anchor="middle" stroke="#000">concentration</text>
<path d="M1379.8,1218.5c1 0 1.3 10.6 3 15.6 1.8 5 5.1 9.6 7.5 14.3 2.5 4.8 6.7 10.4 7.2 14.3 .6 3.9-2.7 6.3-3.7 9.2-1 2.8-2.3 5.2-2.3 7.8 .1 2.6 1.7 5 2.8 7.8 1.2 2.8 4.7 6.2 4.2 9.1-.4 2.9-4.1 5.7-6.7 8.3-2.5 2.6-6.5 4.5-8.5 7.3-2 2.8-2.3 9.6-3.5 9.6-1.1 0-1.5-6.8-3.5-9.6-2-2.8-5.9-4.7-8.5-7.3-2.5-2.6-6.2-5.4-6.7-8.3-.4-2.9 3.1-6.3 4.2-9.1 1.2-2.8 2.8-5.2 2.8-7.8 .1-2.6-1.3-5-2.3-7.8-1-2.9-4.2-5.3-3.7-9.2 .6-3.9 4.8-9.5 7.2-14.3 2.5-4.7 5.8-9.3 7.5-14.3 1.8-5 2-15.6 3-15.6Z" fill="#ffc9c9" fill-opacity="1.0" stroke="#ff0000" stroke-width="1.3" stroke-linejoin="round"/>
<line x1="1365.8" y1="1261.4" x2="1393.8" y2="1261.4" stroke="#ff0000" stroke-width="1.8" stroke-dasharray="2.5,2"/>
<line x1="1362.8" y1="1296.6" x2="1396.8" y2="1296.6" stroke="#ff0000" stroke-width="1.8" stroke-dasharray="2.5,2"/>
<line x1="1368.8" y1="1272.9" x2="1390.8" y2="1272.9" stroke="#000" stroke-width="1.5" stroke-dasharray="7,2"/>
<path d="M1377.1,1244a2.7,2.7 0 1,0 5.4,0a2.7,2.7 0 1,0 -5.4,0Z" fill="#ff0000"/>
<path d="M1365.9,1259.5h5v5h-5Z" fill="#ff0000"/>
<path d="M1391,1264.2L1393.8,1259.2L1388.3,1259.2Z" fill="#ff0000"/>
<path d="M1379.8,1264.4L1382.6,1269.4L1377.1,1269.4Z" fill="#ff0000"/>
<path d="M1379.8,1276.2L1380.7,1278.4L1383.2,1278.6L1381.3,1280.1L1381.9,1282.5L1379.8,1281.2L1377.8,1282.5L1378.4,1280.1L1376.5,1278.6L1379,1278.4Z" fill="#ff0000"/>
<path d="M1365.7,1296.6a2.7,2.7 0 1,0 5.4,0a2.7,2.7 0 1,0 -5.4,0Z" fill="#ff0000"/>
<path d="M1377.2,1294.0L1382.4,1299.2M1377.2,1299.2L1382.4,1294.0" stroke="#000" stroke-width="1.2" fill="none"/>
<path d="M1391.8,1293.7L1394.7,1296.6L1391.8,1299.5L1388.9,1296.6Z" fill="#ff0000"/>
<path d="M1435.5,1314.8c1.2 0 2.3 3.4 3.5 5.2 1.3 1.8 3.8 3.8 3.8 5.7 0 2-2.9 4.3-3.8 6-.8 1.8-2.5 2.8-1.5 4.4 1.1 1.6 5.3 3 8 5.2 2.8 2.3 8.7 5.4 8.7 8.1 0 2.7-5.9 5.8-8.7 8.1-2.7 2.3-6.9 4.1-8 5.7-1 1.7 .7 2.5 1.5 4.2 .9 1.7 3.8 4 3.8 6 0 2-2.5 4.1-3.8 5.9-1.2 1.9-2.3 5.3-3.5 5.3-1.1 0-2.2-3.4-3.5-5.3-1.2-1.8-3.8-3.9-3.8-5.9 0-2 3-4.3 3.8-6 .9-1.7 2.6-2.5 1.5-4.2-1-1.6-5.2-3.4-8-5.7-2.7-2.3-8.7-5.4-8.7-8.1 0-2.7 6-5.8 8.7-8.1 2.8-2.2 7-3.6 8-5.2 1.1-1.6-.6-2.6-1.5-4.4-.8-1.7-3.8-4-3.8-6 0-1.9 2.6-3.9 3.8-5.7 1.3-1.8 2.4-5.2 3.5-5.2Z" fill="#cfcfcf" fill-opacity="1.0" stroke="#000" stroke-width="1.1" stroke-linejoin="round"/>
<line x1="1422.5" y1="1344.0" x2="1448.5" y2="1344.0" stroke="#555" stroke-width="0.8" stroke-dasharray="1.5,1.5"/>
<line x1="1422.5" y1="1354.4" x2="1448.5" y2="1354.4" stroke="#555" stroke-width="0.8" stroke-dasharray="1.5,1.5"/>
<line x1="1417.5" y1="1349.4" x2="1453.5" y2="1349.4" stroke="#000" stroke-width="1.7" stroke-dasharray="7,2"/>
<path d="M1435.5,1328.5L1438.3,1323.5L1432.8,1323.5Z" fill="#6a6a6a"/>
<path d="M1427.6,1344a2.5,2.5 0 1,0 5,0a2.5,2.5 0 1,0 -5,0Z" fill="#6a6a6a"/>
<path d="M1438,1341.5h5v5h-5Z" fill="#6a6a6a"/>
<path d="M1430.1,1351.9L1430.9,1354L1433.1,1354.1L1431.4,1355.6L1432,1357.7L1430.1,1356.5L1428.2,1357.7L1428.8,1355.6L1427,1354.1L1429.3,1354Z" fill="#6a6a6a"/>
<path d="M1438,1355.1a2.5,2.5 0 1,0 5,0a2.5,2.5 0 1,0 -5,0Z" fill="#6a6a6a"/>
<path d="M1435.5,1370.2L1438.7,1373.4L1435.5,1376.5L1432.4,1373.4Z" fill="#e0e0e0"/>
<path d="M1433.1,1371.0L1437.9,1375.8M1433.1,1375.8L1437.9,1371.0" stroke="#555" stroke-width="1.2" fill="none"/>
<line x1="1343.1" y1="1191.2" x2="1343.1" y2="1396.6" stroke="#111" stroke-width="1.2"/>
<line x1="1335.0" y1="1396.0" x2="1472.5" y2="1396.0" stroke="#111" stroke-width="1.2"/>
<line x1="1335.0" y1="1220.0" x2="1343.1" y2="1220.0" stroke="#111" stroke-width="1.2"/>
<text x="1330.0" y="1225.8" font-size="16.3" text-anchor="end" stroke="#000">0.5</text>
<line x1="1335.0" y1="1278.9" x2="1343.1" y2="1278.9" stroke="#111" stroke-width="1.2"/>
<text x="1330.0" y="1284.7" font-size="16.3" text-anchor="end" stroke="#000">0.4</text>
<line x1="1335.0" y1="1337.4" x2="1343.1" y2="1337.4" stroke="#111" stroke-width="1.2"/>
<text x="1330.0" y="1343.2" font-size="16.3" text-anchor="end" stroke="#000">0.3</text>
<line x1="1335.0" y1="1396.0" x2="1343.1" y2="1396.0" stroke="#111" stroke-width="1.2"/>
<text x="1330.0" y="1401.8" font-size="16.3" text-anchor="end" stroke="#000">0.2</text>
<text x="1292.6" y="1296.6" font-size="18.2" text-anchor="middle" stroke="#000" transform="rotate(-90 1292.6 1296.6)">GFP/mRuby</text>
<text x="1412.9" y="1203.7" font-size="15.6" text-anchor="middle" stroke="#000">p=0.008</text>
<line x1="1380.4" y1="1207.8" x2="1439.7" y2="1207.8" stroke="#111" stroke-width="1"/>
<text x="1381.8" y="1415.5" font-size="19.2" text-anchor="middle" fill="#ff0000" stroke="#ff0000">Blood</text>
<text x="1439.4" y="1415.5" font-size="19.2" text-anchor="middle" stroke="#000">LNs</text>
<path d="M1585.5,1221.9c1 0 1.5 9.3 3 13.5 1.4 4.2 3.6 8 5.5 11.7 1.8 3.7 3.8 7.2 5.5 10.4 1.7 3.3 4.7 6.1 4.7 9.1 0 3.1-3.5 6.1-4.7 9.2-1.3 3-3.2 6-3 9.1 .1 3 2.5 6 4 9.1 1.4 3 5 6.1 4.5 9.1-.5 3-4.9 6.3-7.5 9.1-2.7 2.8-6.5 4.8-8.5 7.8-2 3-2.4 10.4-3.5 10.4-1.2 0-1.5-7.4-3.5-10.4-2-3-5.9-5-8.5-7.8-2.7-2.8-7-6.1-7.5-9.1-.5-3 3-6.1 4.5-9.1 1.4-3.1 3.8-6.1 4-9.1 .1-3.1-1.8-6.1-3-9.1-1.3-3.1-4.7-6.1-4.7-9.2 0-3 3-5.8 4.7-9.1 1.7-3.2 3.6-6.7 5.5-10.4 1.8-3.7 4-7.5 5.5-11.7 1.4-4.2 2-13.5 3-13.5Z" fill="#a2ccb7" fill-opacity="1.0" stroke="#1a8a52" stroke-width="1.3" stroke-linejoin="round"/>
<line x1="1568.0" y1="1266.6" x2="1603.0" y2="1266.6" stroke="#1a8a52" stroke-width="1" stroke-dasharray="5,2"/>
<line x1="1567.0" y1="1303.1" x2="1604.0" y2="1303.1" stroke="#1a8a52" stroke-width="1" stroke-dasharray="5,2"/>
<line x1="1574.5" y1="1278.9" x2="1596.5" y2="1278.9" stroke="#000" stroke-width="1.7" stroke-dasharray="7,2"/>
<path d="M1582.8,1248.4a2.7,2.7 0 1,0 5.4,0a2.7,2.7 0 1,0 -5.4,0Z" fill="#1a8a52"/>
<path d="M1576.5,1264.1h5v5h-5Z" fill="#1a8a52"/>
<path d="M1591.7,1268.9L1594.5,1263.9L1589,1263.9Z" fill="#1a8a52"/>
<path d="M1585.5,1269.9L1588.2,1274.9L1582.7,1274.9Z" fill="#1a8a52"/>
<path d="M1585.5,1281.9L1586.3,1284.2L1588.8,1284.3L1586.9,1285.9L1587.5,1288.2L1585.5,1286.9L1583.4,1288.2L1584,1285.9L1582.1,1284.3L1584.6,1284.2Z" fill="#1a8a52"/>
<path d="M1570,1303.6a2.7,2.7 0 1,0 5.4,0a2.7,2.7 0 1,0 -5.4,0Z" fill="#1a8a52"/>
<path d="M1582.9,1301.0L1588.1,1306.2M1582.9,1306.2L1588.1,1301.0" stroke="#000" stroke-width="1.2" fill="none"/>
<path d="M1597.4,1300.7L1600.3,1303.6L1597.4,1306.5L1594.6,1303.6Z" fill="#1a8a52"/>
<path d="M1644,1322.6c1.2 0 2.2 3.8 3.5 5.7 1.3 2 4.3 4 4.3 6 0 2-3.3 4.2-4.3 6-.9 1.8-2.7 3-1.5 4.7 1.3 1.7 6.1 3.4 9 5.7 2.9 2.4 8.5 5.6 8.5 8.3 0 2.8-5.6 6-8.5 8.4-2.9 2.3-7.7 4-9 5.7-1.2 1.7 .6 2.9 1.5 4.7 1 1.8 4.3 4 4.3 6 0 2-3 3.9-4.3 6-1.3 2-2.3 6.2-3.5 6.2-1.1 0-2.2-4.2-3.5-6.2-1.3-2.1-4.3-4-4.3-6 0-2 3.4-4.2 4.3-6 1-1.8 2.8-3 1.5-4.7-1.2-1.7-6.1-3.4-9-5.7-2.9-2.4-8.5-5.6-8.5-8.4 0-2.7 5.6-5.9 8.5-8.3 2.9-2.3 7.8-4 9-5.7 1.3-1.7-.5-2.9-1.5-4.7-.9-1.8-4.3-4-4.3-6 0-2 3-4 4.3-6 1.3-1.9 2.4-5.7 3.5-5.7Z" fill="#d6e9de" fill-opacity="1.0" stroke="#1a8a52" stroke-width="1.2" stroke-linejoin="round"/>
<line x1="1629.0" y1="1353.3" x2="1659.0" y2="1353.3" stroke="#1a8a52" stroke-width="1" stroke-dasharray="5,2"/>
<line x1="1629.0" y1="1365.0" x2="1659.0" y2="1365.0" stroke="#1a8a52" stroke-width="1" stroke-dasharray="5,2"/>
<line x1="1625.0" y1="1359.0" x2="1663.0" y2="1359.0" stroke="#000" stroke-width="1.7" stroke-dasharray="7,2"/>
<path d="M1644,1337.1L1646.8,1332.1L1641.3,1332.1Z" fill="#1a8a52"/>
<path d="M1635,1350.8h5v5h-5Z" fill="#1a8a52"/>
<path d="M1647.5,1352.8a2.5,2.5 0 1,0 5,0a2.5,2.5 0 1,0 -5,0Z" fill="#1a8a52"/>
<path d="M1637.5,1357L1640,1361.6L1635,1361.6Z" fill="#1a8a52"/>
<path d="M1650,1357.3L1652.8,1360.1L1650,1362.8L1647.3,1360.1Z" fill="#1a8a52"/>
<path d="M1638.3,1362.3L1639.1,1364.4L1641.4,1364.6L1639.6,1366L1640.2,1368.2L1638.3,1366.9L1636.4,1368.2L1637,1366L1635.2,1364.6L1637.5,1364.4Z" fill="#1a8a52"/>
<path d="M1647.7,1363.5h4.6v4.6h-4.6Z" fill="#1a8a52"/>
<path d="M1641.4,1381.2L1646.6,1386.4M1641.4,1386.4L1646.6,1381.2" stroke="#000" stroke-width="1.2" fill="none"/>
<line x1="1546.4" y1="1191.2" x2="1546.4" y2="1396.6" stroke="#111" stroke-width="1.2"/>
<line x1="1538.1" y1="1396.0" x2="1682.5" y2="1396.0" stroke="#111" stroke-width="1.2"/>
<line x1="1538.1" y1="1232.3" x2="1546.4" y2="1232.3" stroke="#111" stroke-width="1.2"/>
<text x="1533.0" y="1238.1" font-size="16.3" text-anchor="end" stroke="#000">20</text>
<line x1="1538.1" y1="1273.4" x2="1546.4" y2="1273.4" stroke="#111" stroke-width="1.2"/>
<text x="1533.0" y="1279.2" font-size="16.3" text-anchor="end" stroke="#000">15</text>
<line x1="1538.1" y1="1314.5" x2="1546.4" y2="1314.5" stroke="#111" stroke-width="1.2"/>
<text x="1533.0" y="1320.3" font-size="16.3" text-anchor="end" stroke="#000">10</text>
<line x1="1538.1" y1="1355.4" x2="1546.4" y2="1355.4" stroke="#111" stroke-width="1.2"/>
<text x="1533.0" y="1361.2" font-size="16.3" text-anchor="end" stroke="#000">5</text>
<line x1="1538.1" y1="1396.0" x2="1546.4" y2="1396.0" stroke="#111" stroke-width="1.2"/>
<text x="1533.0" y="1401.8" font-size="16.3" text-anchor="end" stroke="#000">0</text>
<text x="1514.0" y="1286.7" font-size="18.2" text-anchor="middle" stroke="#000" transform="rotate(-90 1514.0 1286.7)">mM</text>
<text x="1616.7" y="1210.7" font-size="15.6" text-anchor="middle" stroke="#000">p=0.008</text>
<line x1="1584.2" y1="1215.1" x2="1644.0" y2="1215.1" stroke="#111" stroke-width="1"/>
<text x="1591.8" y="1417.1" font-size="19.2" text-anchor="middle" fill="#ff0000" stroke="#ff0000">Blood</text>
<text x="1649.0" y="1417.1" font-size="19.2" text-anchor="middle" stroke="#000">LNs</text>
<text transform="translate(314.5,1533.8) scale(0.87,1)" x="0" y="0" font-size="47" font-family="'Liberation Sans', 'Liberation Sans', sans-serif" stroke="#000" stroke-width="0.5">J</text>
<path d="M583.9,1510.1 Q588.8,1519.0 595.5,1527.1 A14.0,14.0 0 1 1 572.3,1527.1 Q579.0,1519.0 583.9,1510.1Z" fill="#ff0000"/>
<text x="582.9" y="1568.3" font-size="20.7" text-anchor="middle" stroke="#000">Blood</text>
<path d="M357,1602.4c.2-.6 .9-1.4 2.1-2.5 1.2-1 3.2-2.5 4.9-3.7 1.6-1.2 4-2.3 5.1-3.5 1.2-1.3 1.2-2.9 1.9-3.9 .6-1 1.2-1.8 2-2.1 .9-.4 1.9-.3 2.8 0 1 .2 1.8 .9 2.8 1.5 1 .6 2.1 1.7 3.1 2.2 1 .6 1.8 1 2.8 .9 1-.1 2-1.2 3.2-1.6 1.2-.3 2.8-.8 4.2-.8 1.4 0 2.7 .2 4.2 .7 1.5 .6 3.2 1.6 4.8 2.7 1.7 1 3.5 2.3 4.9 3.6 1.5 1.3 2.7 2.6 3.8 4 1.1 1.5 2.1 3.1 2.8 4.6 .7 1.6 1 3.4 1.4 4.6 .4 1.3 .5 2.3 1.1 3.1 .6 .8 1.5 1.5 2.5 2 1.1 .4 1.9 .6 3.8 .8 1.9 .2 4.7 .3 7.6 .4 3 .1 6.3 .2 9.8 .2 3.5 0 7.9-.3 11.2-.2 3.2 .1 5.8 .5 8.3 .9 2.6 .4 4.9 .9 7 1.5 2.1 .5 4.8 1.4 5.6 1.8 .8 .4 .5 .6-.7 .6-1.2-.1-4.1-.6-6.3-.9-2.2-.3-4.4-.7-7-1-2.5-.2-5.3-.5-8.3-.5-3 0-6.5 .2-9.8 .4-3.2 .2-6.8 .5-9.8 .6-2.9 0-5.4 0-7.6-.2-2.2-.2-4.1-1.1-5.6-1.1-1.5 0-2 .8-3.5 1.3-1.5 .5-3.5 1.3-5.6 1.8-2.1 .4-4.4 .6-6.9 .8-2.6 .2-6.1 .3-8.4 .4-2.3 .2-4.2 .7-5.6 .6-1.4-.1-2.3-.4-3.1-1-.8-.5-1.1-1.7-1.8-2.2-.6-.6-.8-.9-2.1-1.1-1.3-.2-4.3 .1-5.6 0-1.2-.2-1.9-.4-1.9-.9-.1-.4 1-1.2 1.7-1.8 .6-.5 2.1-.7 2.2-1.4 .1-.7-.9-1.8-1.7-2.6-.8-.9-1.7-1.8-3-2.5-1.4-.8-3.3-1.3-4.9-1.9-1.7-.5-3.6-1-4.9-1.5-1.3-.5-2.2-1.1-2.8-1.7-.6-.5-.9-.7-.7-1.4Z" fill="#000"/>
<line x1="467.1" y1="1598.8" x2="536.8" y2="1598.8" stroke="#000" stroke-width="1.3"/>
<polygon points="540.8,1598.8 536.8,1601.4 536.8,1596.2" fill="#000"/>
<use href="#ln" transform="translate(558.6,1608.2) scale(0.4470,0.4435)" stroke-width="2.24"/>
<text x="582.6" y="1684.5" font-size="20.7" text-anchor="middle" stroke="#000">Lymph</text>
<text x="582.6" y="1709.9" font-size="20.7" text-anchor="middle" stroke="#000">nodes</text>
<text x="582.6" y="1735.3" font-size="20.7" text-anchor="middle" stroke="#000">(LNs)</text>
<text x="378.2" y="1669.6" font-size="22" text-anchor="end" stroke="#000">Vav-Cre</text>
<text x="387.9" y="1669.6" font-size="20.3" text-anchor="middle" stroke="#000">x</text>
<text x="448.0" y="1651.8" font-size="20.6" text-anchor="middle" stroke="#000">Perceval</text>
<text x="494.3" y="1639.8" font-size="15" stroke="#000">fl/fl</text>
<text x="446.2" y="1679.8" font-size="20.6" text-anchor="middle" stroke="#000">«SPICY»</text>
<line x1="624.3" y1="1598.8" x2="687.2" y2="1598.8" stroke="#000" stroke-width="1.3"/>
<polygon points="691.2,1598.8 687.2,1601.4 687.2,1596.2" fill="#000"/>
<text x="790.9" y="1539.9" font-size="20.4" text-anchor="middle" stroke="#000">Different media composition</text>
<text x="764.2" y="1573.7" font-size="17.9" text-anchor="end" fill="#12a36a" stroke="#12a36a">Glucose</text>
<text x="775.1 791.4 806.7 825.6 844.4 861.2" y="1573.4" font-size="17.5" text-anchor="middle" fill="#12a36a" stroke="#12a36a">+-++++</text>
<text x="763.8" y="1596.2" font-size="17.9" text-anchor="end" fill="#12a36a" stroke="#12a36a">2DG</text>
<text x="775.1 791.4 806.7 825.6 844.4 861.2" y="1595.9" font-size="17.5" text-anchor="middle" fill="#12a36a" stroke="#12a36a">--+---</text>
<text x="760.5" y="1618.0" font-size="17.9" text-anchor="end" fill="#12a36a" stroke="#12a36a">Glutor</text>
<text x="775.1 791.4 806.7 825.6 844.4 861.2" y="1617.7" font-size="17.5" text-anchor="middle" fill="#12a36a" stroke="#12a36a">---+--</text>
<text x="766.0" y="1639.1" font-size="17.9" text-anchor="end" fill="#ff8a1c" stroke="#ff8a1c">Fatty acids</text>
<text x="775.1 791.4 806.7 825.6 844.4 861.2" y="1638.8" font-size="17.5" text-anchor="middle" fill="#ff8a1c" stroke="#ff8a1c">++++-+</text>
<text x="762.0" y="1662.3" font-size="17.9" text-anchor="end" fill="#ff8a1c" stroke="#ff8a1c">Glutamine</text>
<text x="775.1 791.4 806.7 825.6 844.4 861.2" y="1662" font-size="17.5" text-anchor="middle" fill="#ff8a1c" stroke="#ff8a1c">+++++-</text>
<line x1="885.4" y1="1598.8" x2="932.3" y2="1598.8" stroke="#000" stroke-width="1.3"/>
<polygon points="936.3,1598.8 932.3,1601.4 932.3,1596.2" fill="#000"/>
<text x="1054.3" y="1515.2" font-size="21.3" text-anchor="middle" stroke="#000">SPICE-Met</text>
<text x="1055.6" y="1539.9" font-size="21.3" text-anchor="middle" stroke="#000">Flow cytometry</text>
<rect x="980.2" y="1546.5" width="152.2" height="151.8" fill="none" stroke="#222" stroke-width="1.1"/>
<line x1="1056.2" y1="1546.5" x2="1056.2" y2="1698.3" stroke="#222" stroke-width="1.1"/>
<line x1="980.2" y1="1622.4" x2="1132.4" y2="1622.4" stroke="#222" stroke-width="1.1"/>
<line x1="968.3" y1="1708.8" x2="968.3" y2="1561.3" stroke="#000" stroke-width="1.1"/>
<polygon points="968.3,1556.3 970.9,1561.3 965.7,1561.3" fill="#000"/>
<line x1="980.2" y1="1711.7" x2="1127.4" y2="1711.7" stroke="#000" stroke-width="1.1"/>
<polygon points="1132.4,1711.7 1127.4,1714.3 1127.4,1709.1" fill="#000"/>
<text x="959.6" y="1626.7" font-size="11.5" text-anchor="middle" stroke="#000" transform="rotate(-90 959.6 1626.7)">Marker 1... X <tspan dy="1" font-size="6">n</tspan><tspan dy="-1" font-size="1">&#8203;</tspan></text>
<text x="1053.0" y="1731.3" font-size="11.5" text-anchor="middle" stroke="#000">Marker 2... X</text>
<circle cx="1005.3" cy="1576.2" r="4.4" fill="#000"/>
<circle cx="1014.4" cy="1570.1" r="4.4" fill="#000"/>
<circle cx="1023.5" cy="1573.7" r="4.4" fill="#000"/>
<circle cx="1029.6" cy="1568.3" r="4.4" fill="#000"/>
<circle cx="1007.1" cy="1583.5" r="4.4" fill="#000"/>
<circle cx="1016.2" cy="1579.9" r="4.4" fill="#000"/>
<circle cx="1025.3" cy="1581.7" r="4.4" fill="#000"/>
<circle cx="1028.2" cy="1578.1" r="4.4" fill="#000"/>
<circle cx="1010.8" cy="1589.0" r="4.4" fill="#000"/>
<circle cx="1019.8" cy="1590.8" r="4.4" fill="#000"/>
<circle cx="1015.1" cy="1585.3" r="4.4" fill="#000"/>
<circle cx="1022.4" cy="1586.1" r="4.4" fill="#000"/>
<rect x="1085.2" y="1563.6" width="7.2" height="7.2" fill="#000"/>
<rect x="1078.7" y="1571.6" width="7.2" height="7.2" fill="#000"/>
<rect x="1090.7" y="1572.6" width="7.2" height="7.2" fill="#000"/>
<rect x="1098.7" y="1575.2" width="7.2" height="7.2" fill="#000"/>
<rect x="1082.7" y="1579.9" width="7.2" height="7.2" fill="#000"/>
<rect x="1103.8" y="1584.3" width="7.2" height="7.2" fill="#000"/>
<rect x="1087.8" y="1589.7" width="7.2" height="7.2" fill="#000"/>
<rect x="1096.1" y="1591.9" width="7.2" height="7.2" fill="#000"/>
<rect x="1101.6" y="1589.0" width="7.2" height="7.2" fill="#000"/>
<path d="M1022.7,1636.3L1024.1,1639.8L1027.8,1640L1024.9,1642.3L1025.9,1645.9L1022.7,1643.9L1019.6,1645.9L1020.6,1642.3L1017.7,1640L1021.4,1639.8Z" fill="#000"/>
<path d="M1006,1645.4L1007.4,1648.9L1011.1,1649.1L1008.2,1651.4L1009.2,1655L1006,1653L1002.9,1655L1003.9,1651.4L1001,1649.1L1004.7,1648.9Z" fill="#000"/>
<path d="M1017.3,1649L1018.6,1652.5L1022.3,1652.7L1019.5,1655L1020.4,1658.6L1017.3,1656.6L1014.2,1658.6L1015.1,1655L1012.2,1652.7L1015.9,1652.5Z" fill="#000"/>
<path d="M1028.9,1649.7L1030.3,1653.2L1034,1653.4L1031.1,1655.8L1032,1659.4L1028.9,1657.3L1025.8,1659.4L1026.7,1655.8L1023.9,1653.4L1027.6,1653.2Z" fill="#000"/>
<path d="M1007.1,1657.4L1008.5,1660.8L1012.2,1661L1009.3,1663.4L1010.2,1667L1007.1,1665L1004,1667L1005,1663.4L1002.1,1661L1005.8,1660.8Z" fill="#000"/>
<path d="M1022.4,1659.2L1023.7,1662.7L1027.4,1662.9L1024.5,1665.2L1025.5,1668.8L1022.4,1666.8L1019.2,1668.8L1020.2,1665.2L1017.3,1662.9L1021,1662.7Z" fill="#000"/>
<path d="M1015.1,1652.6L1016.5,1656.1L1020.2,1656.3L1017.3,1658.7L1018.2,1662.3L1015.1,1660.2L1012,1662.3L1012.9,1658.7L1010.1,1656.3L1013.8,1656.1Z" fill="#000"/>
<path d="M1089.6,1643.2L1094.2,1651.6L1084.9,1651.6Z" fill="#000"/>
<path d="M1079,1649.7L1083.7,1658.1L1074.4,1658.1Z" fill="#000"/>
<path d="M1087,1651.5L1091.6,1659.9L1082.4,1659.9Z" fill="#000"/>
<path d="M1094.3,1646.1L1098.9,1654.5L1089.7,1654.5Z" fill="#000"/>
<path d="M1105.2,1652.3L1109.8,1660.7L1100.6,1660.7Z" fill="#000"/>
<path d="M1083.4,1655.2L1088,1663.6L1078.8,1663.6Z" fill="#000"/>
<path d="M1091.4,1654.1L1096,1662.5L1086.8,1662.5Z" fill="#000"/>
<path d="M1087.8,1660.6L1092.4,1669L1083.1,1669Z" fill="#000"/>
<path d="M1101.6,1662.4L1106.2,1670.8L1096.9,1670.8Z" fill="#000"/>
<path d="M1111.4,1665L1116,1673.4L1106.7,1673.4Z" fill="#000"/>
<path d="M1102.3,1672.6L1106.9,1681L1097.7,1681Z" fill="#000"/>
<line x1="1147.7" y1="1598.8" x2="1194.5" y2="1598.8" stroke="#000" stroke-width="1.3"/>
<polygon points="1198.5,1598.8 1194.5,1601.4 1194.5,1596.2" fill="#000"/>
<text x="1328.9" y="1522.5" font-size="21.1" text-anchor="middle" stroke="#000">Population of interest</text>
<rect x="1218.1" y="1535.6" width="230.3" height="180.8" fill="none" stroke="#222" stroke-width="1.1"/>
<text x="1236.7" y="1560.6" font-size="18" stroke="#000">1. Energetic status</text>
<text x="1235.9" y="1582.8" font-size="18" stroke="#000">(Steady-state ATP:ADP)</text>
<text x="1235.2" y="1619.1" font-size="18" stroke="#000">2. Metabolic pathways</text>
<text x="1246.8" y="1644.2" font-size="18" stroke="#000">(<tspan fill="#0a0ac8" stroke="#0a0ac8">OXPHOS</tspan>/ <tspan fill="#f0149a" stroke="#f0149a">Glycolysis</tspan>)</text>
<text x="1238.8" y="1675.4" font-size="18" stroke="#000">3. Nutrient-dependency</text>
<text x="1259.5" y="1700.5" font-size="18" stroke="#000">(<tspan fill="#12a36a" stroke="#12a36a">Glucose</tspan>/<tspan fill="#ff8a1c" stroke="#ff8a1c">FA+AA</tspan>)</text>
<text transform="translate(5.5,1773.4) scale(0.93,1)" x="0" y="0" font-size="43.5" font-family="'DejaVu Sans', 'Liberation Sans', sans-serif" stroke="#000" stroke-width="0.5">K</text>
<rect x="103.70" y="1799.30" width="38.73" height="83.35" fill="#000000"/>
<rect x="142.13" y="1799.30" width="38.73" height="83.35" fill="#c9c9c9"/>
<rect x="180.57" y="1799.30" width="38.73" height="83.35" fill="#cacaca"/>
<rect x="219.00" y="1799.30" width="38.73" height="83.35" fill="#b6b6b6"/>
<rect x="257.43" y="1799.30" width="38.73" height="83.35" fill="#292929"/>
<rect x="295.87" y="1799.30" width="38.73" height="83.35" fill="#a3a3a3"/>
<rect x="103.70" y="1882.35" width="38.73" height="83.35" fill="#737373"/>
<rect x="142.13" y="1882.35" width="38.73" height="83.35" fill="#aaaaaa"/>
<rect x="180.57" y="1882.35" width="38.73" height="83.35" fill="#8f8f8f"/>
<rect x="219.00" y="1882.35" width="38.73" height="83.35" fill="#4d4d4d"/>
<rect x="257.43" y="1882.35" width="38.73" height="83.35" fill="#ababab"/>
<rect x="295.87" y="1882.35" width="38.73" height="83.35" fill="#8a8a8a"/>
<rect x="103.7" y="1799.3" width="230.6" height="166.1" fill="none" stroke="#111" stroke-width="1.1"/>
<text x="103.5" y="1793.7" font-size="21" stroke="#000">CD8 E/EM</text>
<text x="345.3" y="1791.4" font-size="14.9" text-anchor="end" stroke="#000">ATP:ADP</text>
<text x="96.1" y="1845.3" font-size="20.9" text-anchor="middle" fill="#ff0000" stroke="#ff0000" transform="rotate(-90 96.1 1845.3)">Blood</text>
<text x="96.1" y="1920.1" font-size="20.3" text-anchor="middle" stroke="#000" transform="rotate(-90 96.1 1920.1)">LNs</text>
<text x="108.8" y="1996.6" font-size="18" text-anchor="end" fill="#12a36a" stroke="#12a36a">Glucose</text>
<text x="122.6 160.2 198.3 237.2 276.4 315.3" y="1996" font-size="16.5" text-anchor="middle" fill="#12a36a" stroke="#12a36a">+-++++</text>
<text x="108.8" y="2019.5" font-size="15.2" text-anchor="end" fill="#12a36a" stroke="#12a36a">2DG</text>
<text x="122.6 160.2 198.3 237.2 276.4 315.3" y="2018.9" font-size="16.5" text-anchor="middle" fill="#12a36a" stroke="#12a36a">--+---</text>
<text x="108.8" y="2042.4" font-size="15" text-anchor="end" fill="#12a36a" stroke="#12a36a">Glutor</text>
<text x="122.6 160.2 198.3 237.2 276.4 315.3" y="2041.8" font-size="16.5" text-anchor="middle" fill="#12a36a" stroke="#12a36a">---+--</text>
<text x="108.8" y="2062.2" font-size="18" text-anchor="end" fill="#ff8a1c" stroke="#ff8a1c">Fatty acids</text>
<text x="122.6 160.2 198.3 237.2 276.4 315.3" y="2061.6" font-size="16.5" text-anchor="middle" fill="#ff8a1c" stroke="#ff8a1c">++++-+</text>
<text x="108.8" y="2085.6" font-size="18" text-anchor="end" fill="#ff8a1c" stroke="#ff8a1c">Glutamine</text>
<text x="122.6 160.2 198.3 237.2 276.4 315.3" y="2085" font-size="16.5" text-anchor="middle" fill="#ff8a1c" stroke="#ff8a1c">+++++-</text>
<rect x="113.7" y="1982.4" width="19.0" height="107.6" fill="none" stroke="#b5b5b5" stroke-width="1.1"/>
<rect x="481.40" y="1799.30" width="38.15" height="83.35" fill="#5252d0"/>
<rect x="519.25" y="1799.30" width="38.15" height="83.35" fill="#eaeaf9"/>
<rect x="557.10" y="1799.30" width="38.15" height="83.35" fill="#b9b9ee"/>
<rect x="594.95" y="1799.30" width="38.15" height="83.35" fill="#ffffff"/>
<rect x="632.80" y="1799.30" width="38.15" height="83.35" fill="#0a0abf"/>
<rect x="670.65" y="1799.30" width="38.15" height="83.35" fill="#ababe8"/>
<rect x="481.40" y="1882.35" width="38.15" height="83.35" fill="#4a4ace"/>
<rect x="519.25" y="1882.35" width="38.15" height="83.35" fill="#7a7add"/>
<rect x="557.10" y="1882.35" width="38.15" height="83.35" fill="#4646cd"/>
<rect x="594.95" y="1882.35" width="38.15" height="83.35" fill="#0000bb"/>
<rect x="632.80" y="1882.35" width="38.15" height="83.35" fill="#7373da"/>
<rect x="670.65" y="1882.35" width="38.15" height="83.35" fill="#9595e3"/>
<rect x="481.4" y="1799.3" width="227.1" height="166.1" fill="none" stroke="#1a1a3a" stroke-width="1.1"/>
<text x="481.2" y="1793.7" font-size="21" stroke="#000">CD8 E/EM</text>
<text x="718.7" y="1791.4" font-size="14.9" text-anchor="end" stroke="#000">OXPHOS</text>
<text x="473.8" y="1845.3" font-size="20.9" text-anchor="middle" fill="#ff0000" stroke="#ff0000" transform="rotate(-90 473.8 1845.3)">Blood</text>
<text x="473.8" y="1920.1" font-size="20.3" text-anchor="middle" stroke="#000" transform="rotate(-90 473.8 1920.1)">LNs</text>
<text x="486.5" y="1996.6" font-size="18" text-anchor="end" fill="#12a36a" stroke="#12a36a">Glucose</text>
<text x="500.3 537.9 576 614.9 654.1 693" y="1996" font-size="16.5" text-anchor="middle" fill="#12a36a" stroke="#12a36a">+-++++</text>
<text x="486.5" y="2019.5" font-size="15.2" text-anchor="end" fill="#12a36a" stroke="#12a36a">2DG</text>
<text x="500.3 537.9 576 614.9 654.1 693" y="2018.9" font-size="16.5" text-anchor="middle" fill="#12a36a" stroke="#12a36a">--+---</text>
<text x="486.5" y="2042.4" font-size="15" text-anchor="end" fill="#12a36a" stroke="#12a36a">Glutor</text>
<text x="500.3 537.9 576 614.9 654.1 693" y="2041.8" font-size="16.5" text-anchor="middle" fill="#12a36a" stroke="#12a36a">---+--</text>
<text x="486.5" y="2062.2" font-size="18" text-anchor="end" fill="#ff8a1c" stroke="#ff8a1c">Fatty acids</text>
<text x="500.3 537.9 576 614.9 654.1 693" y="2061.6" font-size="16.5" text-anchor="middle" fill="#ff8a1c" stroke="#ff8a1c">++++-+</text>
<text x="486.5" y="2085.6" font-size="18" text-anchor="end" fill="#ff8a1c" stroke="#ff8a1c">Glutamine</text>
<text x="500.3 537.9 576 614.9 654.1 693" y="2085" font-size="16.5" text-anchor="middle" fill="#ff8a1c" stroke="#ff8a1c">+++++-</text>
<rect x="491.4" y="1982.4" width="19.0" height="107.6" fill="none" stroke="#b5b5b5" stroke-width="1.1"/>
<rect x="835.30" y="1799.30" width="38.22" height="83.35" fill="#f20a96"/>
<rect x="873.22" y="1799.30" width="38.22" height="83.35" fill="#ffffff"/>
<rect x="911.13" y="1799.30" width="38.22" height="83.35" fill="#ffffff"/>
<rect x="949.05" y="1799.30" width="38.22" height="83.35" fill="#ffffff"/>
<rect x="986.97" y="1799.30" width="38.22" height="83.35" fill="#f768c0"/>
<rect x="1024.88" y="1799.30" width="38.22" height="83.35" fill="#fdd3ec"/>
<rect x="835.30" y="1882.35" width="38.22" height="83.35" fill="#f898d4"/>
<rect x="873.22" y="1882.35" width="38.22" height="83.35" fill="#fdeaf6"/>
<rect x="911.13" y="1882.35" width="38.22" height="83.35" fill="#fef0f9"/>
<rect x="949.05" y="1882.35" width="38.22" height="83.35" fill="#fef2fa"/>
<rect x="986.97" y="1882.35" width="38.22" height="83.35" fill="#fcd8ee"/>
<rect x="1024.88" y="1882.35" width="38.22" height="83.35" fill="#f794d2"/>
<rect x="835.3" y="1799.3" width="227.5" height="166.1" fill="none" stroke="#333" stroke-width="1.1"/>
<text x="835.1" y="1793.7" font-size="21" stroke="#000">CD8 E/EM</text>
<text x="1072.5" y="1791.4" font-size="14.9" text-anchor="end" stroke="#000">Glycolysis</text>
<text x="827.7" y="1845.3" font-size="20.9" text-anchor="middle" fill="#ff0000" stroke="#ff0000" transform="rotate(-90 827.7 1845.3)">Blood</text>
<text x="827.7" y="1920.1" font-size="20.3" text-anchor="middle" stroke="#000" transform="rotate(-90 827.7 1920.1)">LNs</text>
<text x="840.4" y="1996.6" font-size="18" text-anchor="end" fill="#12a36a" stroke="#12a36a">Glucose</text>
<text x="854.2 891.8 929.9 968.8 1008 1046.9" y="1996" font-size="16.5" text-anchor="middle" fill="#12a36a" stroke="#12a36a">+-++++</text>
<text x="840.4" y="2019.5" font-size="15.2" text-anchor="end" fill="#12a36a" stroke="#12a36a">2DG</text>
<text x="854.2 891.8 929.9 968.8 1008 1046.9" y="2018.9" font-size="16.5" text-anchor="middle" fill="#12a36a" stroke="#12a36a">--+---</text>
<text x="840.4" y="2042.4" font-size="15" text-anchor="end" fill="#12a36a" stroke="#12a36a">Glutor</text>
<text x="854.2 891.8 929.9 968.8 1008 1046.9" y="2041.8" font-size="16.5" text-anchor="middle" fill="#12a36a" stroke="#12a36a">---+--</text>
<text x="840.4" y="2062.2" font-size="18" text-anchor="end" fill="#ff8a1c" stroke="#ff8a1c">Fatty acids</text>
<text x="854.2 891.8 929.9 968.8 1008 1046.9" y="2061.6" font-size="16.5" text-anchor="middle" fill="#ff8a1c" stroke="#ff8a1c">++++-+</text>
<text x="840.4" y="2085.6" font-size="18" text-anchor="end" fill="#ff8a1c" stroke="#ff8a1c">Glutamine</text>
<text x="854.2 891.8 929.9 968.8 1008 1046.9" y="2085" font-size="16.5" text-anchor="middle" fill="#ff8a1c" stroke="#ff8a1c">+++++-</text>
<rect x="845.3" y="1982.4" width="19.0" height="107.6" fill="none" stroke="#b5b5b5" stroke-width="1.1"/>
<rect x="1180.50" y="1799.30" width="38.15" height="83.35" fill="#0b7440"/>
<rect x="1218.35" y="1799.30" width="38.15" height="83.35" fill="#ffffff"/>
<rect x="1256.20" y="1799.30" width="38.15" height="83.35" fill="#fefefe"/>
<rect x="1294.05" y="1799.30" width="38.15" height="83.35" fill="#ecf4f0"/>
<rect x="1331.90" y="1799.30" width="38.15" height="83.35" fill="#90c0aa"/>
<rect x="1369.75" y="1799.30" width="38.15" height="83.35" fill="#c6e0d4"/>
<rect x="1180.50" y="1882.35" width="38.15" height="83.35" fill="#b0d4c2"/>
<rect x="1218.35" y="1882.35" width="38.15" height="83.35" fill="#f7fbf9"/>
<rect x="1256.20" y="1882.35" width="38.15" height="83.35" fill="#dcebe4"/>
<rect x="1294.05" y="1882.35" width="38.15" height="83.35" fill="#e2efe8"/>
<rect x="1331.90" y="1882.35" width="38.15" height="83.35" fill="#ffffff"/>
<rect x="1369.75" y="1882.35" width="38.15" height="83.35" fill="#bcdacb"/>
<rect x="1180.5" y="1799.3" width="227.1" height="166.1" fill="none" stroke="#333" stroke-width="1.1"/>
<text x="1180.3" y="1793.7" font-size="21" stroke="#000">CD8 E/EM</text>
<text x="1411.0" y="1791.4" font-size="14.9" text-anchor="end" stroke="#000">Glucose</text>
<text x="1172.9" y="1845.3" font-size="20.9" text-anchor="middle" fill="#ff0000" stroke="#ff0000" transform="rotate(-90 1172.9 1845.3)">Blood</text>
<text x="1172.9" y="1920.1" font-size="20.3" text-anchor="middle" stroke="#000" transform="rotate(-90 1172.9 1920.1)">LNs</text>
<text x="1185.6" y="1996.6" font-size="18" text-anchor="end" fill="#12a36a" stroke="#12a36a">Glucose</text>
<text x="1199.4 1237 1275.1 1314 1353.2 1392.1" y="1996" font-size="16.5" text-anchor="middle" fill="#12a36a" stroke="#12a36a">+-++++</text>
<text x="1185.6" y="2019.5" font-size="15.2" text-anchor="end" fill="#12a36a" stroke="#12a36a">2DG</text>
<text x="1199.4 1237 1275.1 1314 1353.2 1392.1" y="2018.9" font-size="16.5" text-anchor="middle" fill="#12a36a" stroke="#12a36a">--+---</text>
<text x="1185.6" y="2042.4" font-size="15" text-anchor="end" fill="#12a36a" stroke="#12a36a">Glutor</text>
<text x="1199.4 1237 1275.1 1314 1353.2 1392.1" y="2041.8" font-size="16.5" text-anchor="middle" fill="#12a36a" stroke="#12a36a">---+--</text>
<text x="1185.6" y="2062.2" font-size="18" text-anchor="end" fill="#ff8a1c" stroke="#ff8a1c">Fatty acids</text>
<text x="1199.4 1237 1275.1 1314 1353.2 1392.1" y="2061.6" font-size="16.5" text-anchor="middle" fill="#ff8a1c" stroke="#ff8a1c">++++-+</text>
<text x="1185.6" y="2085.6" font-size="18" text-anchor="end" fill="#ff8a1c" stroke="#ff8a1c">Glutamine</text>
<text x="1199.4 1237 1275.1 1314 1353.2 1392.1" y="2085" font-size="16.5" text-anchor="middle" fill="#ff8a1c" stroke="#ff8a1c">+++++-</text>
<rect x="1190.5" y="1982.4" width="19.0" height="107.6" fill="none" stroke="#b5b5b5" stroke-width="1.1"/>
<rect x="1557.20" y="1799.30" width="38.25" height="83.35" fill="#fff8f2"/>
<rect x="1595.15" y="1799.30" width="38.25" height="83.35" fill="#ffffff"/>
<rect x="1633.10" y="1799.30" width="38.25" height="83.35" fill="#ffffff"/>
<rect x="1671.05" y="1799.30" width="38.25" height="83.35" fill="#ffffff"/>
<rect x="1709.00" y="1799.30" width="38.25" height="83.35" fill="#ff7416"/>
<rect x="1746.95" y="1799.30" width="38.25" height="83.35" fill="#fffafa"/>
<rect x="1557.20" y="1882.35" width="38.25" height="83.35" fill="#fdd3b4"/>
<rect x="1595.15" y="1882.35" width="38.25" height="83.35" fill="#fdc29a"/>
<rect x="1633.10" y="1882.35" width="38.25" height="83.35" fill="#fdc39c"/>
<rect x="1671.05" y="1882.35" width="38.25" height="83.35" fill="#ff6600"/>
<rect x="1709.00" y="1882.35" width="38.25" height="83.35" fill="#fdb184"/>
<rect x="1746.95" y="1882.35" width="38.25" height="83.35" fill="#ffeadb"/>
<rect x="1557.2" y="1799.3" width="227.7" height="166.1" fill="none" stroke="#333" stroke-width="1.1"/>
<text x="1557.0" y="1793.7" font-size="21" stroke="#000">CD8 E/EM</text>
<text x="1787.6" y="1791.4" font-size="14.9" text-anchor="end" stroke="#000">FA/AA</text>
<text x="1549.6" y="1845.3" font-size="20.9" text-anchor="middle" fill="#ff0000" stroke="#ff0000" transform="rotate(-90 1549.6 1845.3)">Blood</text>
<text x="1549.6" y="1920.1" font-size="20.3" text-anchor="middle" stroke="#000" transform="rotate(-90 1549.6 1920.1)">LNs</text>
<text x="1562.3" y="1996.6" font-size="18" text-anchor="end" fill="#12a36a" stroke="#12a36a">Glucose</text>
<text x="1576.1 1613.7 1651.8 1690.7 1729.9 1768.8" y="1996" font-size="16.5" text-anchor="middle" fill="#12a36a" stroke="#12a36a">+-++++</text>
<text x="1562.3" y="2019.5" font-size="15.2" text-anchor="end" fill="#12a36a" stroke="#12a36a">2DG</text>
<text x="1576.1 1613.7 1651.8 1690.7 1729.9 1768.8" y="2018.9" font-size="16.5" text-anchor="middle" fill="#12a36a" stroke="#12a36a">--+---</text>
<text x="1562.3" y="2042.4" font-size="15" text-anchor="end" fill="#12a36a" stroke="#12a36a">Glutor</text>
<text x="1576.1 1613.7 1651.8 1690.7 1729.9 1768.8" y="2041.8" font-size="16.5" text-anchor="middle" fill="#12a36a" stroke="#12a36a">---+--</text>
<text x="1562.3" y="2062.2" font-size="18" text-anchor="end" fill="#ff8a1c" stroke="#ff8a1c">Fatty acids</text>
<text x="1576.1 1613.7 1651.8 1690.7 1729.9 1768.8" y="2061.6" font-size="16.5" text-anchor="middle" fill="#ff8a1c" stroke="#ff8a1c">++++-+</text>
<text x="1562.3" y="2085.6" font-size="18" text-anchor="end" fill="#ff8a1c" stroke="#ff8a1c">Glutamine</text>
<text x="1576.1 1613.7 1651.8 1690.7 1729.9 1768.8" y="2085" font-size="16.5" text-anchor="middle" fill="#ff8a1c" stroke="#ff8a1c">+++++-</text>
<rect x="1567.2" y="1982.4" width="19.0" height="107.6" fill="none" stroke="#b5b5b5" stroke-width="1.1"/>
<text transform="translate(5.2,2154.8) scale(0.95,1)" x="0" y="0" font-size="43.5" font-family="'DejaVu Sans', 'Liberation Sans', sans-serif" stroke="#000" stroke-width="0.5">L</text>
<clipPath id="cL1"><rect x="81.7" y="2140" width="278.8" height="207.4"/></clipPath><g clip-path="url(#cL1)">
<path d="M95.9,2184.4c.4 0 .4 10.8 1.2 15.2 .8 4.4 2.6 7.8 3.6 11.2 1 3.3 2.3 6 2.4 8.9 0 3-1.5 6-2.2 9-.7 3-1.6 6-2 9-.5 2.9-.6 5.6-.6 8.9-.1 3.4 .4 7.5 .2 11.2-.2 3.7-1 7.1-1.4 11.2-.5 4.1-.8 13.5-1.2 13.5-.4 0-.8-9.4-1.2-13.5-.5-4.1-1.2-7.5-1.4-11.2-.2-3.7 .2-7.8 .2-11.2-.1-3.3-.2-6-.6-8.9-.5-3-1.3-6-2-9-.7-3-2.3-6-2.2-9 0-2.9 1.4-5.6 2.4-8.9 1-3.4 2.8-6.8 3.6-11.2 .8-4.4 .8-15.2 1.2-15.2Z" fill="#ffd6cd" fill-opacity="1.0" stroke="#ff2a00" stroke-width="1.45" stroke-linejoin="round"/>
<line x1="89.6" y1="2222.0" x2="102.2" y2="2222.0" stroke="#000" stroke-width="2"/>
<path d="M116.9,2247.1c.7 0 1.4 5.9 2 8.5 .6 2.5 1.5 3.7 1.5 6.7 0 3-1.5 7.8-1.3 11.2 .3 3.4 1.9 6 2.8 9 .9 2.9 2.5 5.9 2.4 8.9-.1 3-1.8 5.6-2.8 9-1 3.3-2.3 7.6-3.1 11.2-.8 3.5-1 10-1.5 10-.5 0-.7-6.5-1.5-10-.8-3.6-2.1-7.9-3.1-11.2-1-3.4-2.7-6-2.8-9-.1-3 1.5-6 2.4-8.9 .9-3 2.6-5.6 2.8-9 .3-3.4-1.3-8.2-1.3-11.2 0-3 .9-4.2 1.5-6.7 .6-2.6 1.3-8.5 2-8.5Z" fill="#ffd6cd" fill-opacity="1.0" stroke="#ff2a00" stroke-width="1.45" stroke-linejoin="round"/>
<line x1="110.6" y1="2290.3" x2="123.2" y2="2290.3" stroke="#000" stroke-width="2"/>
<path d="M138.4,2282c1.5 0 3.3 2.6 4.5 3.8 1.2 1.2 2.7 2.1 2.7 3.4 0 1.2-1.5 2.1-2.7 4-1.2 1.9-3 7.2-4.5 7.2-1.5 0-3.3-5.3-4.5-7.2-1.2-1.9-2.7-2.8-2.7-4 0-1.3 1.5-2.2 2.7-3.4 1.2-1.2 3-3.8 4.5-3.8Z" fill="#ffd6cd" fill-opacity="1.0" stroke="#ff2a00" stroke-width="1.45" stroke-linejoin="round"/>
<line x1="132.1" y1="2289.6" x2="144.7" y2="2289.6" stroke="#000" stroke-width="2"/>
<path d="M159.7,2263.4c1.2 0 2.4 4.5 3.5 6.7 1.1 2.3 2.8 4.3 3.3 6.8 .5 2.4-.6 5.4-.5 7.8 .1 2.4 1.4 4.5 .9 6.7-.5 2.3-2.6 4.3-3.8 6.7-1.2 2.5-2.3 7.9-3.4 7.9-1.1 0-2.2-5.4-3.4-7.9-1.2-2.4-3.3-4.4-3.8-6.7-.5-2.2 .8-4.3 .9-6.7 .1-2.4-1-5.4-.5-7.8 .5-2.5 2.2-4.5 3.3-6.8 1.1-2.2 2.3-6.7 3.5-6.7Z" fill="#ffd6cd" fill-opacity="1.0" stroke="#ff2a00" stroke-width="1.45" stroke-linejoin="round"/>
<line x1="153.4" y1="2285.1" x2="166.0" y2="2285.1" stroke="#000" stroke-width="2"/>
<path d="M181.4,2159.7c.5 0 .5 15.3 1.4 22 .9 6.6 2.8 12.7 3.8 17.9 1 5.2 2 8.2 2.2 13.4 .2 5.2-.8 12-1.2 17.9-.4 6-.9 12-1.2 18-.3 5.9-.7 12.6-.8 17.9-.1 5.2 .6 8.6 .4 13.4-.2 4.9-1 10.5-1.6 15.7-.6 5.2-1.5 9.9-2 15.7-.5 5.8-.7 19-1 19-.3 0-.5-13.2-1-19-.5-5.8-1.4-10.5-2-15.7-.6-5.2-1.4-10.8-1.6-15.7-.2-4.8 .5-8.2 .4-13.4-.1-5.3-.5-12-.8-17.9-.3-6-.8-12-1.2-18-.4-5.9-1.4-12.7-1.2-17.9 .2-5.2 1.2-8.2 2.2-13.4 1-5.2 2.9-11.3 3.8-17.9 .9-6.7 .9-22 1.4-22Z" fill="#ffd6cd" fill-opacity="1.0" stroke="#ff2a00" stroke-width="1.45" stroke-linejoin="round"/>
<line x1="175.1" y1="2235.9" x2="187.7" y2="2235.9" stroke="#000" stroke-width="2"/>
<path d="M203.1,2220.2c.9 0 1.6 12.7 2.6 17.5 1 4.7 2.7 8.2 3.4 11.2 .8 2.9 1.4 3.7 1.2 6.7-.1 3-1.4 7.4-2.2 11.2-.7 3.7-2.2 7.4-2.2 11.2 .1 3.7 2 7.8 2.7 11.2 .8 3.3 1.9 5.6 1.7 8.9-.1 3.4-1.7 7.5-2.8 11.2-1 3.8-2.6 7-3.4 11.2-.7 4.2-.6 14.1-1 14.1-.3 0-.2-9.9-1-14.1-.7-4.2-2.3-7.4-3.4-11.2-1-3.7-2.6-7.8-2.8-11.2-.1-3.3 1-5.6 1.7-8.9 .8-3.4 2.7-7.5 2.7-11.2 .1-3.8-1.4-7.5-2.2-11.2-.7-3.8-2-8.2-2.2-11.2-.1-3 .5-3.8 1.2-6.7 .8-3 2.4-6.5 3.4-11.2 1-4.8 1.8-17.5 2.6-17.5Z" fill="#ffd6cd" fill-opacity="1.0" stroke="#ff2a00" stroke-width="1.45" stroke-linejoin="round"/>
<line x1="196.8" y1="2277.5" x2="209.4" y2="2277.5" stroke="#000" stroke-width="2"/>
<path d="M238.5,2210.1c.6 0 .9 11 1.8 16.4 .9 5.3 2.8 10.8 3.7 15.6 1 4.9 2 9.4 2.1 13.5 .2 4.1-.7 7.4-1.2 11.2-.4 3.7-.8 7.4-1.4 11.2-.5 3.7-1.3 7.4-2 11.2-.6 3.7-1.3 7-1.8 11.2-.5 4.2-.8 13.9-1.2 13.9-.4 0-.7-9.7-1.2-13.9-.5-4.2-1.1-7.5-1.8-11.2-.6-3.8-1.4-7.5-2-11.2-.5-3.8-.9-7.5-1.4-11.2-.4-3.8-1.3-7.1-1.2-11.2 .2-4.1 1.2-8.6 2.1-13.5 1-4.8 2.8-10.3 3.7-15.6 .9-5.4 1.2-16.4 1.8-16.4Z" fill="#cfcfcf" fill-opacity="1.0" stroke="#000" stroke-width="1.45" stroke-linejoin="round"/>
<line x1="232.2" y1="2261.6" x2="244.8" y2="2261.6" stroke="#000" stroke-width="2"/>
<path d="M259.8,2238.8c.5 0 1.1 7.3 1.5 10.1 .4 2.8 .5 3.3 1 6.7 .5 3.3 1.3 8.2 2.1 13.4 .8 5.2 2.7 13.5 2.8 17.9 .1 4.5-1.4 5.6-2.4 9-1 3.3-2.8 7.8-3.6 11.2-.8 3.4-.9 9.4-1.4 9.4-.5 0-.6-6-1.4-9.4-.8-3.4-2.6-7.9-3.6-11.2-1-3.4-2.5-4.5-2.4-9 .1-4.4 2-12.7 2.8-17.9 .8-5.2 1.6-10.1 2.1-13.4 .5-3.4 .6-3.9 1-6.7 .4-2.8 1-10.1 1.5-10.1Z" fill="#cfcfcf" fill-opacity="1.0" stroke="#000" stroke-width="1.45" stroke-linejoin="round"/>
<line x1="253.5" y1="2280.7" x2="266.1" y2="2280.7" stroke="#000" stroke-width="2"/>
<path d="M281.5,2244.4c1.2 0 2.5 6 3.6 8.9 1.2 3 2.8 5.6 3.4 9 .6 3.4 .4 7.5 .2 11.2-.1 3.7-.4 8.2-1.2 11.2-.7 3-2.4 4.4-3.4 6.7-1 2.3-1.7 7.2-2.6 7.2-.8 0-1.6-4.9-2.6-7.2-1-2.3-2.6-3.7-3.4-6.7-.7-3-1-7.5-1.2-11.2-.1-3.7-.4-7.8 .2-11.2 .6-3.4 2.3-6 3.4-9 1.2-2.9 2.4-8.9 3.6-8.9Z" fill="#cfcfcf" fill-opacity="1.0" stroke="#000" stroke-width="1.45" stroke-linejoin="round"/>
<line x1="275.2" y1="2271.3" x2="287.8" y2="2271.3" stroke="#000" stroke-width="2"/>
<path d="M302.8,2228.3c1.1 0 2 6.2 3.2 9.4 1.2 3.1 4.1 6.6 4.2 9.4 .1 2.8-2.9 5.2-3.8 7.4-.9 2.1-1.3 3.5-1.4 5.6-.1 2 1 4.2 .8 6.7-.2 2.4-1.3 4.9-1.8 7.8-.5 2.9-.8 9.6-1.2 9.6-.4 0-.7-6.7-1.2-9.6-.5-2.9-1.6-5.4-1.8-7.8-.2-2.5 .9-4.7 .8-6.7-.1-2.1-.5-3.5-1.4-5.6-.9-2.2-3.9-4.6-3.8-7.4 .1-2.8 3-6.3 4.2-9.4 1.2-3.2 2.1-9.4 3.2-9.4Z" fill="#cfcfcf" fill-opacity="1.0" stroke="#000" stroke-width="1.45" stroke-linejoin="round"/>
<line x1="296.5" y1="2247.7" x2="309.1" y2="2247.7" stroke="#000" stroke-width="2"/>
<path d="M324.3,2253.3c.7 0 1.5 4.5 2.2 6.8 .8 2.2 2 4.4 2.3 6.7 .3 2.2-.8 4.3-.3 6.7 .5 2.4 3.5 5.2 3.2 7.8-.3 2.6-4.2 5.4-4.9 7.9-.6 2.4 1.2 4.5 1 6.7-.2 2.2-1.5 4.1-2.1 6.7-.6 2.6-.9 9-1.4 9-.5 0-.8-6.4-1.4-9-.6-2.6-1.9-4.5-2.1-6.7-.2-2.2 1.7-4.3 1-6.7-.6-2.5-4.6-5.3-4.9-7.9-.3-2.6 2.7-5.4 3.2-7.8 .5-2.4-.6-4.5-.3-6.7 .3-2.3 1.6-4.5 2.3-6.7 .8-2.3 1.5-6.8 2.2-6.8Z" fill="#cfcfcf" fill-opacity="1.0" stroke="#000" stroke-width="1.45" stroke-linejoin="round"/>
<line x1="318.0" y1="2281.3" x2="330.6" y2="2281.3" stroke="#000" stroke-width="2"/>
<path d="M346,2226.9c.8 0 1.5 9.3 2.2 13 .7 3.7 1.8 6 2 9 .3 2.9-1.1 5.5-.6 8.9 .6 3.5 3.8 8.3 3.8 11.7 .1 3.3-2.7 5.9-3.6 8.5-.8 2.5-1.4 4.5-1.6 6.7-.1 2.2 1 4.1 .8 6.7-.1 2.6-1.3 5.1-1.8 9-.5 3.8-.8 14.1-1.2 14.1-.4 0-.7-10.3-1.2-14.1-.5-3.9-1.6-6.4-1.8-9-.1-2.6 1-4.5 .8-6.7-.1-2.2-.7-4.2-1.6-6.7-.8-2.6-3.6-5.2-3.6-8.5 .1-3.4 3.3-8.2 3.8-11.7 .6-3.4-.8-6-.6-8.9 .3-3 1.3-5.3 2-9 .7-3.7 1.5-13 2.2-13Z" fill="#cfcfcf" fill-opacity="1.0" stroke="#000" stroke-width="1.45" stroke-linejoin="round"/>
<line x1="339.7" y1="2269.5" x2="352.3" y2="2269.5" stroke="#000" stroke-width="2"/>
<path d="M93.1,2203.9h4v4h-4ZM94.7,2222.9L96.9,2218.9L92.5,2218.9ZM95.5,2232.6L96.3,2234.4L98.2,2234.5L96.7,2235.7L97.2,2237.6L95.5,2236.6L93.9,2237.6L94.4,2235.7L92.9,2234.5L94.8,2234.4ZM92.8,2250.1a2.0,2.0 0 1,0 4,0a2.0,2.0 0 1,0 -4,0ZM94.6,2262.6L96.8,2266.6L92.4,2266.6ZM114.6,2261.5h4v4h-4ZM118.2,2276.9L120.4,2272.9L116,2272.9ZM117.8,2283L118.5,2284.9L120.5,2285L119,2286.2L119.5,2288.1L117.8,2287L116.2,2288.1L116.7,2286.2L115.1,2285L117.1,2284.9ZM115.7,2297a2.0,2.0 0 1,0 4,0a2.0,2.0 0 1,0 -4,0ZM116.1,2306L118.3,2310L113.9,2310ZM136.5,2284h4v4h-4ZM137.7,2291L139.9,2287L135.5,2287ZM137.4,2288.8L138.1,2290.6L140.1,2290.7L138.6,2291.9L139.1,2293.8L137.4,2292.8L135.8,2293.8L136.3,2291.9L134.8,2290.7L136.7,2290.6ZM135.2,2294.3a2.0,2.0 0 1,0 4,0a2.0,2.0 0 1,0 -4,0ZM137.6,2294.9L139.8,2298.9L135.4,2298.9ZM159,2270.8h4v4h-4ZM160.7,2281.4L162.9,2277.4L158.5,2277.4ZM160.6,2282.7L161.3,2284.6L163.3,2284.7L161.7,2285.9L162.3,2287.8L160.6,2286.7L159,2287.8L159.5,2285.9L157.9,2284.7L159.9,2284.6ZM158.6,2291.9a2.0,2.0 0 1,0 4,0a2.0,2.0 0 1,0 -4,0ZM158.8,2296.1L161,2300.1L156.6,2300.1ZM178.8,2195.3h4v4h-4ZM181.8,2225.1L184,2221.1L179.6,2221.1ZM182.1,2245.8L182.8,2247.6L184.8,2247.7L183.2,2249L183.8,2250.8L182.1,2249.8L180.5,2250.8L181,2249L179.4,2247.7L181.4,2247.6ZM180.5,2274.2a2.0,2.0 0 1,0 4,0a2.0,2.0 0 1,0 -4,0ZM182.6,2297.6L184.8,2301.6L180.4,2301.6ZM199.9,2243.4h4v4h-4ZM203.5,2264.7L205.7,2260.7L201.3,2260.7ZM203.7,2276.9L204.4,2278.7L206.3,2278.8L204.8,2280.1L205.3,2282L203.7,2280.9L202,2282L202.5,2280.1L201,2278.8L202.9,2278.7ZM201.2,2296.9a2.0,2.0 0 1,0 4,0a2.0,2.0 0 1,0 -4,0ZM202.2,2311.8L204.4,2315.8L200,2315.8ZM236.4,2231h4v4h-4ZM237.3,2250.8L239.5,2246.8L235.1,2246.8ZM239.8,2261.5L240.5,2263.3L242.5,2263.4L241,2264.6L241.5,2266.5L239.8,2265.5L238.2,2266.5L238.7,2264.6L237.2,2263.4L239.1,2263.3ZM237.6,2279.9a2.0,2.0 0 1,0 4,0a2.0,2.0 0 1,0 -4,0ZM238.7,2293.3L240.9,2297.3L236.5,2297.3ZM257.2,2253.9h4v4h-4ZM261,2269.7L263.2,2265.7L258.8,2265.7ZM260,2276.4L260.7,2278.2L262.7,2278.3L261.2,2279.6L261.7,2281.5L260,2280.4L258.4,2281.5L258.9,2279.6L257.4,2278.3L259.3,2278.2ZM258.9,2290.8a2.0,2.0 0 1,0 4,0a2.0,2.0 0 1,0 -4,0ZM260.8,2300.3L263,2304.3L258.6,2304.3ZM279.5,2254.3h4v4h-4ZM281.3,2266.6L283.5,2262.6L279.1,2262.6ZM281.8,2269.8L282.5,2271.6L284.5,2271.7L283,2272.9L283.5,2274.8L281.8,2273.8L280.2,2274.8L280.7,2272.9L279.2,2271.7L281.1,2271.6ZM279.3,2280.7a2.0,2.0 0 1,0 4,0a2.0,2.0 0 1,0 -4,0ZM280.5,2286.6L282.7,2290.6L278.3,2290.6ZM300.2,2238.6h4v4h-4ZM303.7,2251.2L305.9,2247.2L301.5,2247.2ZM301.4,2254.6L302.1,2256.4L304.1,2256.5L302.6,2257.7L303.1,2259.6L301.4,2258.6L299.8,2259.6L300.3,2257.7L298.8,2256.5L300.7,2256.4ZM299.4,2265.8a2.0,2.0 0 1,0 4,0a2.0,2.0 0 1,0 -4,0ZM303.2,2272L305.4,2276L301,2276ZM321.6,2264.1h4v4h-4ZM324.4,2277.1L326.6,2273.1L322.2,2273.1ZM324.2,2280.8L324.9,2282.6L326.9,2282.8L325.4,2284L325.9,2285.9L324.2,2284.8L322.6,2285.9L323.1,2284L321.6,2282.8L323.5,2282.6ZM321.8,2292.4a2.0,2.0 0 1,0 4,0a2.0,2.0 0 1,0 -4,0ZM325.8,2298.9L328,2302.9L323.6,2302.9ZM343.1,2244.2h4v4h-4ZM345.8,2261.5L348,2257.5L343.6,2257.5ZM345.1,2269.6L345.8,2271.5L347.8,2271.6L346.3,2272.8L346.8,2274.7L345.1,2273.6L343.5,2274.7L344,2272.8L342.5,2271.6L344.4,2271.5ZM344.4,2285.6a2.0,2.0 0 1,0 4,0a2.0,2.0 0 1,0 -4,0ZM345.4,2296.5L347.6,2300.5L343.2,2300.5Z" fill="#000"/>
</g>
<line x1="81.7" y1="2147.9" x2="81.7" y2="2348.0" stroke="#111" stroke-width="1.3"/>
<line x1="73.9" y1="2347.4" x2="360.6" y2="2347.4" stroke="#111" stroke-width="1.3"/>
<line x1="73.9" y1="2149.2" x2="81.7" y2="2149.2" stroke="#111" stroke-width="1.2"/>
<text x="71.2" y="2153.3" font-size="11.5" text-anchor="end" stroke="#000">4</text>
<line x1="73.9" y1="2198.7" x2="81.7" y2="2198.7" stroke="#111" stroke-width="1.2"/>
<text x="71.2" y="2202.8" font-size="11.5" text-anchor="end" stroke="#000">3</text>
<line x1="73.9" y1="2248.4" x2="81.7" y2="2248.4" stroke="#111" stroke-width="1.2"/>
<text x="71.2" y="2252.5" font-size="11.5" text-anchor="end" stroke="#000">2</text>
<line x1="73.9" y1="2297.7" x2="81.7" y2="2297.7" stroke="#111" stroke-width="1.2"/>
<text x="71.2" y="2301.8" font-size="11.5" text-anchor="end" stroke="#000">1</text>
<line x1="73.9" y1="2347.4" x2="81.7" y2="2347.4" stroke="#111" stroke-width="1.2"/>
<text x="71.2" y="2351.5" font-size="11.5" text-anchor="end" stroke="#000">0</text>
<line x1="95.9" y1="2347.4" x2="95.9" y2="2356.4" stroke="#111" stroke-width="1.2"/>
<line x1="116.9" y1="2347.4" x2="116.9" y2="2356.4" stroke="#111" stroke-width="1.2"/>
<line x1="138.4" y1="2347.4" x2="138.4" y2="2356.4" stroke="#111" stroke-width="1.2"/>
<line x1="159.7" y1="2347.4" x2="159.7" y2="2356.4" stroke="#111" stroke-width="1.2"/>
<line x1="181.4" y1="2347.4" x2="181.4" y2="2356.4" stroke="#111" stroke-width="1.2"/>
<line x1="203.1" y1="2347.4" x2="203.1" y2="2356.4" stroke="#111" stroke-width="1.2"/>
<line x1="238.5" y1="2347.4" x2="238.5" y2="2356.4" stroke="#111" stroke-width="1.2"/>
<line x1="259.8" y1="2347.4" x2="259.8" y2="2356.4" stroke="#111" stroke-width="1.2"/>
<line x1="281.5" y1="2347.4" x2="281.5" y2="2356.4" stroke="#111" stroke-width="1.2"/>
<line x1="302.8" y1="2347.4" x2="302.8" y2="2356.4" stroke="#111" stroke-width="1.2"/>
<line x1="324.3" y1="2347.4" x2="324.3" y2="2356.4" stroke="#111" stroke-width="1.2"/>
<line x1="346.0" y1="2347.4" x2="346.0" y2="2356.4" stroke="#111" stroke-width="1.2"/>
<text x="154.1" y="2148.1" font-size="20.6" text-anchor="middle" fill="#ff0000" stroke="#ff0000">Blood</text>
<text x="297.4" y="2148.1" font-size="20.8" text-anchor="middle" stroke="#000">LNs</text>
<line x1="219.9" y1="2148.5" x2="219.9" y2="2468.0" stroke="#666" stroke-width="1.3" stroke-dasharray="6.5,2"/>
<text x="117.8" y="2245.9" font-size="14.4" text-anchor="middle" stroke="#000" stroke-width="0" font-weight="bold">***</text>
<text x="139.3" y="2280.6" font-size="14.4" text-anchor="middle" stroke="#000" stroke-width="0" font-weight="bold">***</text>
<text x="160.6" y="2261.6" font-size="14.4" text-anchor="middle" stroke="#000" stroke-width="0" font-weight="bold">***</text>
<text x="204.0" y="2218.3" font-size="14.4" text-anchor="middle" stroke="#000" stroke-width="0" font-weight="bold">***</text>
<text x="84.7" y="2373.2" font-size="17.9" text-anchor="end" fill="#12a36a" stroke="#12a36a">Glucose</text>
<text x="95.9 116.9 138.4 159.7 181.4 203.1" y="2372" font-size="17" text-anchor="middle" fill="#12a36a" stroke="#12a36a">+-++++</text>
<text x="238.5 259.8 281.5 302.8 324.3 346" y="2370.8" font-size="17" text-anchor="middle" fill="#12a36a" stroke="#12a36a">+-++++</text>
<text x="77.3" y="2396.7" font-size="15" text-anchor="end" fill="#12a36a" stroke="#12a36a">2DG</text>
<text x="95.9 116.9 138.4 159.7 181.4 203.1" y="2395.5" font-size="17" text-anchor="middle" fill="#12a36a" stroke="#12a36a">--+---</text>
<text x="238.5 259.8 281.5 302.8 324.3 346" y="2394.3" font-size="17" text-anchor="middle" fill="#12a36a" stroke="#12a36a">--+---</text>
<text x="72.8" y="2418.4" font-size="15" text-anchor="end" fill="#12a36a" stroke="#12a36a">Glutor</text>
<text x="95.9 116.9 138.4 159.7 181.4 203.1" y="2417.2" font-size="17" text-anchor="middle" fill="#12a36a" stroke="#12a36a">---+--</text>
<text x="238.5 259.8 281.5 302.8 324.3 346" y="2416" font-size="17" text-anchor="middle" fill="#12a36a" stroke="#12a36a">---+--</text>
<text x="85.8" y="2439.2" font-size="18" text-anchor="end" fill="#ff8a1c" stroke="#ff8a1c">Fatty acids</text>
<text x="95.9 116.9 138.4 159.7 181.4 203.1" y="2438" font-size="17" text-anchor="middle" fill="#ff8a1c" stroke="#ff8a1c">++++-+</text>
<text x="238.5 259.8 281.5 302.8 324.3 346" y="2436.8" font-size="17" text-anchor="middle" fill="#ff8a1c" stroke="#ff8a1c">++++-+</text>
<text x="81.7" y="2462.1" font-size="18" text-anchor="end" fill="#ff8a1c" stroke="#ff8a1c">Glutamine</text>
<text x="95.9 116.9 138.4 159.7 181.4 203.1" y="2460.9" font-size="17" text-anchor="middle" fill="#ff8a1c" stroke="#ff8a1c">+++++-</text>
<text x="238.5 259.8 281.5 302.8 324.3 346" y="2459.7" font-size="17" text-anchor="middle" fill="#ff8a1c" stroke="#ff8a1c">+++++-</text>
<rect x="86.7" y="2359.0" width="18.6" height="108.4" fill="none" stroke="#b0b0b0" stroke-width="1.1"/>
<rect x="228.4" y="2358.6" width="19.3" height="107.5" fill="none" stroke="#b0b0b0" stroke-width="1.1"/>
<clipPath id="cL2"><rect x="443.3" y="2140" width="277.7" height="207.4"/></clipPath><g clip-path="url(#cL2)">
<path d="M457,2214.1c.1 2.8 .3 11.1 1 16.8 .6 5.8 2.4 12 3 18 .6 5.9 .3 12.6 .6 17.9 .2 5.2 .6 8.6 .9 13.4 .3 4.9 .6 10.5 .9 15.7 .3 5.2 1 10.8 1 15.7-.1 4.8-.6 9.3-1.4 13.4-.8 4.1-2.6 7.5-3.5 11.2-1 3.7-1.8 9.3-2.2 11.2-.5 1.9-.2 1.9-.6 0-.5-1.9-1.3-7.5-2.2-11.2-1-3.7-2.7-7.1-3.5-11.2-.8-4.1-1.4-8.6-1.4-13.4-.1-4.9 .7-10.5 1-15.7 .3-5.2 .6-10.8 .9-15.7 .3-4.8 .6-8.2 .9-13.4 .2-5.3 0-12 .6-17.9 .6-6 2.3-12.2 3-18 .6-5.7 .8-14 1-16.8 .1-2.8-.2-2.8 0 0Z" fill="#c7cdf5" fill-opacity="1.0" stroke="#1a3ad2" stroke-width="1.45" stroke-linejoin="round"/>
<line x1="450.7" y1="2295.9" x2="463.3" y2="2295.9" stroke="#000" stroke-width="2"/>
<path d="M478.7,2284.2c.3 1.6 1.2 6.8 1.6 9.5 .4 2.6 .9 4.4 .9 6.7 0 2.2-.6 4.4-.9 6.7-.3 2.2-.9 4.1-.8 6.7 .1 2.6 .9 6.4 1.4 9 .5 2.6 1.1 4.1 1.8 6.7 .7 2.6 2.1 6.5 2.6 8.9 .5 2.5 .6 4.1 .6 5.6 0 1.6 1.6 3.2-.7 3.8-2.3 .7-10.7 .7-13 0-2.3-.6-.7-2.2-.7-3.8 0-1.5 .1-3.1 .6-5.6 .5-2.4 1.9-6.3 2.6-8.9 .7-2.6 1.3-4.1 1.8-6.7 .5-2.6 1.3-6.4 1.4-9 .1-2.6-.5-4.5-.8-6.7-.3-2.3-.9-4.5-.9-6.7 0-2.3 .5-4.1 .9-6.7 .4-2.7 1.3-7.9 1.6-9.5 .3-1.5-.3-1.5 0 0Z" fill="#c7cdf5" fill-opacity="1.0" stroke="#1a3ad2" stroke-width="1.45" stroke-linejoin="round"/>
<line x1="472.4" y1="2341.8" x2="485.0" y2="2341.8" stroke="#000" stroke-width="2"/>
<path d="M500,2291.4c.5 2.3 2 9.7 3 13.4 1 3.8 2.2 6.4 3 9 .7 2.6 1.4 4.1 1.4 6.7-.1 2.6-1.3 6.4-1.8 9-.5 2.6-1.1 4.5-1.1 6.7 0 2.2 .8 4.8 1 6.7 .1 2 1.8 4.1 0 4.9-1.9 .9-9.2 .9-11 0-1.9-.8-.2-2.9 0-4.9 .1-1.9 1-4.5 1-6.7 0-2.2-.6-4.1-1.1-6.7-.5-2.6-1.8-6.4-1.8-9-.1-2.6 .6-4.1 1.4-6.7 .7-2.6 2-5.2 3-9 1-3.7 2.5-11.1 3-13.4 .5-2.2-.5-2.2 0 0Z" fill="#c7cdf5" fill-opacity="1.0" stroke="#1a3ad2" stroke-width="1.45" stroke-linejoin="round"/>
<line x1="493.7" y1="2327.2" x2="506.3" y2="2327.2" stroke="#000" stroke-width="2"/>
<path d="M521.3,2239.9c.2 4.5 .8 19 1.5 26.9 .6 7.8 2.3 14.5 2.5 20.1 .1 5.6-1.1 9.4-1.5 13.5-.5 4.1-1.4 7.1-1.3 11.2 0 4.1 1 9.3 1.8 13.4 .8 4.1 2.2 8.2 3 11.2 .7 3 1.1 4.8 1.4 6.7 .2 2 2.4 4.1 0 4.9-2.5 .9-12.4 .9-14.8 0-2.5-.8-.3-2.9 0-4.9 .2-1.9 .6-3.7 1.4-6.7 .7-3 2.2-7.1 3-11.2 .8-4.1 1.7-9.3 1.8-13.4 0-4.1-.9-7.1-1.3-11.2-.5-4.1-1.7-7.9-1.5-13.5 .1-5.6 1.8-12.3 2.5-20.1 .6-7.9 1.2-22.4 1.5-26.9 .2-4.5-.3-4.5 0 0Z" fill="#c7cdf5" fill-opacity="1.0" stroke="#1a3ad2" stroke-width="1.45" stroke-linejoin="round"/>
<line x1="515.0" y1="2346.3" x2="527.6" y2="2346.3" stroke="#000" stroke-width="2"/>
<path d="M543,2201.2c.5 0 .9 15.1 1.6 20.8 .6 5.7 2 9.7 2.2 13.4 .2 3.8-.7 6-1 9-.3 3-1.2 5.6-.8 8.9 .3 3.4 2.1 7.5 3 11.2 .9 3.8 2.4 7.1 2.4 11.2 0 4.1-1.6 9-2.4 13.5-.8 4.5-1.8 9.7-2.4 13.4-.6 3.7-.7 3.1-1.1 9-.5 5.9-1 26.4-1.5 26.4-.5 0-1.1-20.5-1.5-26.4-.5-5.9-.5-5.3-1.1-9-.6-3.7-1.6-8.9-2.4-13.4-.8-4.5-2.4-9.4-2.4-13.5 0-4.1 1.5-7.4 2.4-11.2 .9-3.7 2.6-7.8 3-11.2 .3-3.3-.5-5.9-.8-8.9-.3-3-1.2-5.2-1-9 .2-3.7 1.5-7.7 2.2-13.4 .6-5.7 1-20.8 1.6-20.8Z" fill="#c7cdf5" fill-opacity="1.0" stroke="#1a3ad2" stroke-width="1.45" stroke-linejoin="round"/>
<line x1="536.7" y1="2275.3" x2="549.3" y2="2275.3" stroke="#000" stroke-width="2"/>
<path d="M564.3,2258.3c.3 2.9 1.1 12.3 2 17.4 .8 5.2 2.4 9.7 3.2 13.5 .7 3.7 1.3 5.2 1.3 8.9-.1 3.8-1 9-1.5 13.5-.5 4.4-1.6 9.7-1.5 13.4 .1 3.7 1.4 6 2.1 9 .6 3 1.4 6.6 1.6 8.9 .1 2.3 1.5 4.1-.7 4.9-2.3 .9-10.8 .9-13 0-2.3-.8-.9-2.6-.7-4.9 .1-2.3 .9-5.9 1.6-8.9 .6-3 2-5.3 2.1-9 .1-3.7-1-9-1.5-13.4-.5-4.5-1.5-9.7-1.5-13.5-.1-3.7 .5-5.2 1.3-8.9 .7-3.8 2.3-8.3 3.2-13.5 .8-5.1 1.6-14.5 2-17.4 .3-2.9-.4-2.9 0 0Z" fill="#c7cdf5" fill-opacity="1.0" stroke="#1a3ad2" stroke-width="1.45" stroke-linejoin="round"/>
<line x1="558.0" y1="2323.9" x2="570.6" y2="2323.9" stroke="#000" stroke-width="2"/>
<path d="M599.6,2254.5c.4 2.4 1.1 10.2 2 14.5 1 4.3 2.7 7.9 3.6 11.2 .9 3.4 2 5.6 1.8 9-.1 3.3-1.9 7.4-2.8 11.2-.9 3.7-2.3 8-2.6 11.2-.2 3.1 .7 5.6 1 7.8 .3 2.2 .9 3.2 .8 5.6 0 2.4-.6 5.2-1.2 9-.5 3.7-1.8 11.2-2.3 13.4-.4 2.2-.1 2.2-.6 0-.4-2.2-1.7-9.7-2.3-13.4-.5-3.8-1.1-6.6-1.2-9 0-2.4 .5-3.4 .8-5.6 .3-2.2 1.3-4.7 1-7.8-.2-3.2-1.7-7.5-2.6-11.2-.9-3.8-2.6-7.9-2.8-11.2-.1-3.4 .9-5.6 1.8-9 .9-3.3 2.7-6.9 3.6-11.2 1-4.3 1.7-12.1 2-14.5 .4-2.5-.3-2.5 0 0Z" fill="#fff" fill-opacity="1.0" stroke="#1a3ad2" stroke-width="1.45" stroke-linejoin="round"/>
<line x1="593.3" y1="2293.7" x2="605.9" y2="2293.7" stroke="#000" stroke-width="2"/>
<path d="M621.4,2241.5c.4 3.4 1.4 14.7 2.4 20.8 .9 6.1 2.3 11.2 3.2 15.7 .8 4.5 1.9 7.1 1.8 11.2-.1 4.1-1.7 8.9-2.4 13.4-.8 4.5-2.1 9-2 13.4 0 4.5 1.7 9.4 2.4 13.5 .6 4.1 1.5 8.1 1.6 11.2 0 3 .5 6-1.5 7.1-2.1 1.2-9 1.2-11 0-2.1-1.1-1.6-4.1-1.5-7.1 0-3.1 .9-7.1 1.6-11.2 .6-4.1 2.3-9 2.4-13.5 0-4.4-1.3-8.9-2-13.4-.8-4.5-2.3-9.3-2.4-13.4-.1-4.1 .9-6.7 1.8-11.2 .8-4.5 2.2-9.6 3.2-15.7 .9-6.1 2-17.4 2.4-20.8 .4-3.5-.4-3.5 0 0Z" fill="#fff" fill-opacity="1.0" stroke="#1a3ad2" stroke-width="1.45" stroke-linejoin="round"/>
<line x1="615.1" y1="2307.8" x2="627.7" y2="2307.8" stroke="#000" stroke-width="2"/>
<path d="M642.6,2252.2c.9 0 1.9 9.2 2.6 12.3 .7 3.2 1.4 4 1.6 6.8 .2 2.8-.7 7-.4 10 .4 3 2.1 5.6 2.6 7.9 .6 2.2 1.1 3.3 .8 5.6-.3 2.2-1.6 5-2.6 7.8-.9 2.8-2.4 5.8-3.2 9-.7 3.1-.9 10-1.4 10-.4 0-.6-6.9-1.4-10-.7-3.2-2.2-6.2-3.2-9-.9-2.8-2.3-5.6-2.6-7.8-.3-2.3 .3-3.4 .8-5.6 .6-2.3 2.3-4.9 2.6-7.9 .4-3-.6-7.2-.4-10 .2-2.8 .9-3.6 1.6-6.8 .7-3.1 1.8-12.3 2.6-12.3Z" fill="#fff" fill-opacity="1.0" stroke="#1a3ad2" stroke-width="1.45" stroke-linejoin="round"/>
<line x1="636.3" y1="2293.2" x2="648.9" y2="2293.2" stroke="#000" stroke-width="2"/>
<path d="M663.9,2228.3c.9 0 1.9 10 2.6 13.8 .8 3.8 1.8 5.6 1.9 9 .2 3.4-1.3 8-1 11.2 .3 3.2 2.3 5.6 2.9 7.8 .7 2.3 1.3 3.2 1 5.6-.3 2.5-1.8 6-2.8 9-1 3-2.4 6-3.2 9-.7 2.9-.9 8.9-1.4 8.9-.4 0-.6-6-1.4-8.9-.7-3-2.2-6-3.2-9-1-3-2.5-6.5-2.8-9-.3-2.4 .4-3.3 1-5.6 .7-2.2 2.6-4.6 2.9-7.8 .3-3.2-1.1-7.8-1-11.2 .2-3.4 1.2-5.2 1.9-9 .8-3.8 1.8-13.8 2.6-13.8Z" fill="#fff" fill-opacity="1.0" stroke="#1a3ad2" stroke-width="1.45" stroke-linejoin="round"/>
<line x1="657.6" y1="2271.7" x2="670.2" y2="2271.7" stroke="#000" stroke-width="2"/>
<path d="M685.4,2209c.3 4.4 1.2 19 1.8 26.4 .7 7.4 2.1 12.7 2.2 17.9 .2 5.3-1 9.7-1.4 13.5-.4 3.7-1.3 5.2-1.1 8.9 .3 3.8 1.7 9 2.5 13.5 .9 4.5 2.1 9.7 2.6 13.4 .6 3.7 1 5.2 .8 9-.2 3.7-1.2 9.3-2 13.4-.8 4.1-1.9 7.5-2.8 11.2-.8 3.7-1.8 9.3-2.3 11.2-.5 1.9-.1 1.9-.6 0-.5-1.9-1.4-7.5-2.3-11.2-.8-3.7-2-7.1-2.8-11.2-.8-4.1-1.8-9.7-2-13.4-.2-3.8 .3-5.3 .8-9 .6-3.7 1.8-8.9 2.6-13.4 .9-4.5 2.3-9.7 2.5-13.5 .3-3.7-.7-5.2-1.1-8.9-.4-3.8-1.5-8.2-1.4-13.5 .2-5.2 1.6-10.5 2.2-17.9 .7-7.4 1.5-22 1.8-26.4 .3-4.4-.3-4.4 0 0Z" fill="#fff" fill-opacity="1.0" stroke="#1a3ad2" stroke-width="1.45" stroke-linejoin="round"/>
<line x1="679.1" y1="2306.0" x2="691.7" y2="2306.0" stroke="#000" stroke-width="2"/>
<path d="M706.9,2207.4c.3 4.7 1.2 20 1.8 28 .7 8 2 14.6 2 20.2 .1 5.6-1.3 9.3-1.8 13.4-.5 4.1-1.4 7.1-1.2 11.2 .3 4.1 1.7 9 2.6 13.5 1 4.4 2.4 9.3 3 13.4 .7 4.1 1.2 7.5 1 11.2-.1 3.7-1 7.8-1.8 11.2-.7 3.3-1.7 6-2.6 8.9-.9 3-2.1 7.5-2.7 9-.5 1.5 0 1.5-.6 0-.5-1.5-1.8-6-2.7-9-.9-2.9-1.8-5.6-2.6-8.9-.7-3.4-1.6-7.5-1.8-11.2-.1-3.7 .4-7.1 1-11.2 .7-4.1 2.1-9 3-13.4 1-4.5 2.4-9.4 2.6-13.5 .3-4.1-.7-7.1-1.2-11.2-.5-4.1-1.8-7.8-1.8-13.4 .1-5.6 1.4-12.2 2-20.2 .7-8 1.5-23.3 1.8-28 .3-4.6-.3-4.6 0 0Z" fill="#fff" fill-opacity="1.0" stroke="#1a3ad2" stroke-width="1.45" stroke-linejoin="round"/>
<line x1="700.6" y1="2316.5" x2="713.2" y2="2316.5" stroke="#000" stroke-width="2"/>
<path d="M454.5,2241.4h4v4h-4ZM457.7,2265.5L459.9,2261.5L455.5,2261.5ZM456.4,2280.4L457.1,2282.2L459.1,2282.3L457.6,2283.6L458.1,2285.5L456.4,2284.4L454.8,2285.5L455.3,2283.6L453.8,2282.3L455.7,2282.2ZM455.2,2303.1a2.0,2.0 0 1,0 4,0a2.0,2.0 0 1,0 -4,0ZM458.2,2320.8L460.4,2324.8L456,2324.8ZM475.5,2296h4v4h-4ZM477.4,2309.6L479.6,2305.6L475.2,2305.6ZM477.9,2314.1L478.6,2315.9L480.6,2316L479,2317.2L479.5,2319.1L477.9,2318.1L476.2,2319.1L476.7,2317.2L475.2,2316L477.2,2315.9ZM477.5,2326.3a2.0,2.0 0 1,0 4,0a2.0,2.0 0 1,0 -4,0ZM479,2333.5L481.2,2337.5L476.8,2337.5ZM497.2,2301.6h4v4h-4ZM499.5,2314.2L501.7,2310.2L497.3,2310.2ZM499,2317.5L499.7,2319.3L501.7,2319.4L500.2,2320.7L500.7,2322.6L499,2321.5L497.4,2322.6L497.9,2320.7L496.3,2319.4L498.3,2319.3ZM497.9,2328.6a2.0,2.0 0 1,0 4,0a2.0,2.0 0 1,0 -4,0ZM498.6,2334.8L500.8,2338.8L496.4,2338.8ZM519.8,2261.5h4v4h-4ZM522.4,2281.7L524.6,2277.7L520.2,2277.7ZM522.6,2292.8L523.3,2294.6L525.3,2294.7L523.8,2295.9L524.3,2297.8L522.6,2296.8L521,2297.8L521.5,2295.9L520,2294.7L521.9,2294.6ZM520,2311.6a2.0,2.0 0 1,0 4,0a2.0,2.0 0 1,0 -4,0ZM522.6,2325.5L524.8,2329.5L520.4,2329.5ZM539.5,2229.3h4v4h-4ZM542.3,2254L544.5,2250L540.1,2250ZM544.4,2269.5L545.1,2271.3L547,2271.4L545.5,2272.7L546,2274.6L544.4,2273.5L542.7,2274.6L543.2,2272.7L541.7,2271.4L543.7,2271.3ZM541.8,2292.8a2.0,2.0 0 1,0 4,0a2.0,2.0 0 1,0 -4,0ZM542.7,2311.2L544.9,2315.2L540.5,2315.2ZM563.6,2275.8h4v4h-4ZM564.6,2293.3L566.8,2289.3L562.4,2289.3ZM565.2,2301.6L565.9,2303.4L567.9,2303.5L566.4,2304.8L566.9,2306.6L565.2,2305.6L563.6,2306.6L564.1,2304.8L562.5,2303.5L564.5,2303.4ZM561.6,2317.7a2.0,2.0 0 1,0 4,0a2.0,2.0 0 1,0 -4,0ZM563.3,2328.8L565.5,2332.8L561.1,2332.8ZM597.5,2272.8h4v4h-4ZM598.6,2290.9L600.8,2286.9L596.4,2286.9ZM599.3,2299.8L600,2301.6L601.9,2301.7L600.4,2302.9L600.9,2304.8L599.3,2303.8L597.6,2304.8L598.1,2302.9L596.6,2301.7L598.6,2301.6ZM599,2316.4a2.0,2.0 0 1,0 4,0a2.0,2.0 0 1,0 -4,0ZM599.1,2328.1L601.3,2332.1L596.9,2332.1ZM617.9,2262.7h4v4h-4ZM620,2282.7L622.2,2278.7L617.8,2278.7ZM620.4,2293.5L621.1,2295.3L623,2295.5L621.5,2296.7L622,2298.6L620.4,2297.5L618.7,2298.6L619.2,2296.7L617.7,2295.5L619.7,2295.3ZM620.2,2312.1a2.0,2.0 0 1,0 4,0a2.0,2.0 0 1,0 -4,0ZM621,2325.8L623.2,2329.8L618.8,2329.8ZM640,2265.5h4v4h-4ZM641.4,2280.1L643.6,2276.1L639.2,2276.1ZM644.1,2285.5L644.8,2287.3L646.8,2287.5L645.2,2288.7L645.7,2290.6L644.1,2289.5L642.4,2290.6L642.9,2288.7L641.4,2287.5L643.4,2287.3ZM640.4,2298.7a2.0,2.0 0 1,0 4,0a2.0,2.0 0 1,0 -4,0ZM641.8,2306.9L644,2310.9L639.6,2310.9ZM660.6,2242.6h4v4h-4ZM662.6,2258L664.8,2254L660.4,2254ZM662.9,2264.1L663.6,2265.9L665.6,2266.1L664.1,2267.3L664.6,2269.2L662.9,2268.1L661.3,2269.2L661.8,2267.3L660.3,2266.1L662.2,2265.9ZM662.4,2278.1a2.0,2.0 0 1,0 4,0a2.0,2.0 0 1,0 -4,0ZM662.9,2287L665.1,2291L660.7,2291ZM682,2237.3h4v4h-4ZM685.4,2262.2L687.6,2258.2L683.2,2258.2ZM684.7,2277.9L685.4,2279.8L687.3,2279.9L685.8,2281.1L686.3,2283L684.7,2281.9L683,2283L683.5,2281.1L682,2279.9L684,2279.8ZM684.9,2301.4a2.0,2.0 0 1,0 4,0a2.0,2.0 0 1,0 -4,0ZM684.3,2319.9L686.5,2323.9L682.1,2323.9ZM705,2236.1h4v4h-4ZM707.7,2261.3L709.9,2257.3L705.5,2257.3ZM706.6,2277.2L707.4,2279L709.3,2279.1L707.8,2280.4L708.3,2282.2L706.6,2281.2L705,2282.2L705.5,2280.4L704,2279.1L705.9,2279ZM706.4,2300.9a2.0,2.0 0 1,0 4,0a2.0,2.0 0 1,0 -4,0ZM706.9,2319.6L709.1,2323.6L704.7,2323.6Z" fill="#000"/>
</g>
<line x1="443.3" y1="2147.9" x2="443.3" y2="2348.0" stroke="#111" stroke-width="1.3"/>
<line x1="435.7" y1="2347.4" x2="721.0" y2="2347.4" stroke="#111" stroke-width="1.3"/>
<line x1="435.7" y1="2149.2" x2="443.3" y2="2149.2" stroke="#111" stroke-width="1.2"/>
<text x="432.8" y="2153.3" font-size="11.5" text-anchor="end" stroke="#000">2.0</text>
<line x1="435.7" y1="2198.7" x2="443.3" y2="2198.7" stroke="#111" stroke-width="1.2"/>
<text x="432.8" y="2202.8" font-size="11.5" text-anchor="end" stroke="#000">1.5</text>
<line x1="435.7" y1="2248.2" x2="443.3" y2="2248.2" stroke="#111" stroke-width="1.2"/>
<text x="432.8" y="2252.3" font-size="11.5" text-anchor="end" stroke="#000">1.0</text>
<line x1="435.7" y1="2297.7" x2="443.3" y2="2297.7" stroke="#111" stroke-width="1.2"/>
<text x="432.8" y="2301.8" font-size="11.5" text-anchor="end" stroke="#000">0.5</text>
<line x1="435.7" y1="2347.4" x2="443.3" y2="2347.4" stroke="#111" stroke-width="1.2"/>
<text x="432.8" y="2351.5" font-size="11.5" text-anchor="end" stroke="#000">0.0</text>
<line x1="457.0" y1="2347.4" x2="457.0" y2="2356.4" stroke="#111" stroke-width="1.2"/>
<line x1="478.7" y1="2347.4" x2="478.7" y2="2356.4" stroke="#111" stroke-width="1.2"/>
<line x1="500.0" y1="2347.4" x2="500.0" y2="2356.4" stroke="#111" stroke-width="1.2"/>
<line x1="521.3" y1="2347.4" x2="521.3" y2="2356.4" stroke="#111" stroke-width="1.2"/>
<line x1="543.0" y1="2347.4" x2="543.0" y2="2356.4" stroke="#111" stroke-width="1.2"/>
<line x1="564.3" y1="2347.4" x2="564.3" y2="2356.4" stroke="#111" stroke-width="1.2"/>
<line x1="599.6" y1="2347.4" x2="599.6" y2="2356.4" stroke="#111" stroke-width="1.2"/>
<line x1="621.4" y1="2347.4" x2="621.4" y2="2356.4" stroke="#111" stroke-width="1.2"/>
<line x1="642.6" y1="2347.4" x2="642.6" y2="2356.4" stroke="#111" stroke-width="1.2"/>
<line x1="663.9" y1="2347.4" x2="663.9" y2="2356.4" stroke="#111" stroke-width="1.2"/>
<line x1="685.4" y1="2347.4" x2="685.4" y2="2356.4" stroke="#111" stroke-width="1.2"/>
<line x1="706.9" y1="2347.4" x2="706.9" y2="2356.4" stroke="#111" stroke-width="1.2"/>
<text x="514.1" y="2148.1" font-size="20.6" text-anchor="middle" fill="#ff0000" stroke="#ff0000">Blood</text>
<text x="657.9" y="2148.1" font-size="20.8" text-anchor="middle" stroke="#000">LNs</text>
<line x1="580.6" y1="2148.5" x2="580.6" y2="2468.0" stroke="#222" stroke-width="1.3" stroke-dasharray="6.5,2"/>
<text x="478.7" y="2281.7" font-size="14.4" text-anchor="middle" stroke="#000" stroke-width="0" font-weight="bold">*</text>
<text x="442.9" y="2371.6" font-size="17.9" text-anchor="end" fill="#12a36a" stroke="#12a36a">Glucose</text>
<text x="457 478.7 500 521.3 543 564.3" y="2370.4" font-size="17" text-anchor="middle" fill="#12a36a" stroke="#12a36a">+-++++</text>
<text x="599.6 621.4 642.6 663.9 685.4 706.9" y="2369.2" font-size="17" text-anchor="middle" fill="#12a36a" stroke="#12a36a">+-++++</text>
<text x="438.4" y="2395.1" font-size="15" text-anchor="end" fill="#12a36a" stroke="#12a36a">2DG</text>
<text x="457 478.7 500 521.3 543 564.3" y="2393.9" font-size="17" text-anchor="middle" fill="#12a36a" stroke="#12a36a">--+---</text>
<text x="599.6 621.4 642.6 663.9 685.4 706.9" y="2392.7" font-size="17" text-anchor="middle" fill="#12a36a" stroke="#12a36a">--+---</text>
<text x="433.9" y="2416.4" font-size="15" text-anchor="end" fill="#12a36a" stroke="#12a36a">Glutor</text>
<text x="457 478.7 500 521.3 543 564.3" y="2415.2" font-size="17" text-anchor="middle" fill="#12a36a" stroke="#12a36a">---+--</text>
<text x="599.6 621.4 642.6 663.9 685.4 706.9" y="2414" font-size="17" text-anchor="middle" fill="#12a36a" stroke="#12a36a">---+--</text>
<text x="444.7" y="2437.0" font-size="18" text-anchor="end" fill="#ff8a1c" stroke="#ff8a1c">Fatty acids</text>
<text x="457 478.7 500 521.3 543 564.3" y="2435.8" font-size="17" text-anchor="middle" fill="#ff8a1c" stroke="#ff8a1c">++++-+</text>
<text x="599.6 621.4 642.6 663.9 685.4 706.9" y="2434.6" font-size="17" text-anchor="middle" fill="#ff8a1c" stroke="#ff8a1c">++++-+</text>
<text x="440.2" y="2460.5" font-size="18" text-anchor="end" fill="#ff8a1c" stroke="#ff8a1c">Glutamine</text>
<text x="457 478.7 500 521.3 543 564.3" y="2459.3" font-size="17" text-anchor="middle" fill="#ff8a1c" stroke="#ff8a1c">+++++-</text>
<text x="599.6 621.4 642.6 663.9 685.4 706.9" y="2458.1" font-size="17" text-anchor="middle" fill="#ff8a1c" stroke="#ff8a1c">+++++-</text>
<rect x="447.8" y="2358.2" width="18.8" height="107.5" fill="none" stroke="#b0b0b0" stroke-width="1.1"/>
<rect x="590.2" y="2357.5" width="19.0" height="107.1" fill="none" stroke="#b0b0b0" stroke-width="1.1"/>
<clipPath id="cL3"><rect x="806.9" y="2140" width="277.0" height="207.4"/></clipPath><g clip-path="url(#cL3)">
<path d="M820.8,2184.4c.5 0 .8 13.4 1.6 19.7 .8 6.2 2.4 12.3 3.4 17.9 1 5.6 2.3 10.8 2.4 15.7 .1 4.8-1.4 9.3-2 13.4-.7 4.1-1.9 7.8-1.9 11.2 0 3.4 1.4 6 1.9 9 .5 2.9 1.3 5.2 1.1 8.9-.2 3.7-1.6 8.2-2.5 13.5-.9 5.2-2.3 12.2-3 17.9-.7 5.6-.7 16.1-1 16.1-.3 0-.3-10.5-1-16.1-.7-5.7-2.1-12.7-3-17.9-.9-5.3-2.3-9.8-2.5-13.5-.2-3.7 .6-6 1.1-8.9 .5-3 1.9-5.6 1.9-9 0-3.4-1.3-7.1-1.9-11.2-.7-4.1-2.1-8.6-2-13.4 .1-4.9 1.4-10.1 2.4-15.7 1-5.6 2.6-11.7 3.4-17.9 .8-6.3 1.1-19.7 1.6-19.7Z" fill="#fdd0e7" fill-opacity="1.0" stroke="#f0379f" stroke-width="1.45" stroke-linejoin="round"/>
<line x1="814.5" y1="2248.2" x2="827.1" y2="2248.2" stroke="#000" stroke-width="2"/>
<path d="M842.1,2341.8c.5 .5 2 2.1 3 2.9 1 .9 2.5 1.7 3 2.3 .5 .6 2 1.1 0 1.3-2 .2-10 .2-12 0-2-.2-.5-.7 0-1.3 .5-.6 2-1.4 3-2.3 1-.8 2.5-2.4 3-2.9 .5-.5-.5-.5 0 0Z" fill="#fdd0e7" fill-opacity="1.0" stroke="#f0379f" stroke-width="1.45" stroke-linejoin="round"/>
<path d="M863.6,2293.7c.3 2.2 1.3 9.3 2 13.4 .6 4.1 1.6 8.2 1.8 11.2 .1 3-.7 4.5-1 6.7-.3 2.2-1.1 4.5-.8 6.7 .3 2.3 1.7 4.5 2.6 6.7 .9 2.3 2.3 5.1 2.8 6.8 .4 1.6 2.4 2.6 0 3.1-2.5 .5-12.4 .5-14.8 0-2.5-.5-.5-1.5 0-3.1 .4-1.7 1.9-4.5 2.8-6.8 .9-2.2 2.3-4.4 2.6-6.7 .3-2.2-.5-4.5-.8-6.7-.3-2.2-1.2-3.7-1-6.7 .1-3 1.1-7.1 1.8-11.2 .6-4.1 1.6-11.2 2-13.4 .3-2.3-.4-2.3 0 0Z" fill="#fdd0e7" fill-opacity="1.0" stroke="#f0379f" stroke-width="1.45" stroke-linejoin="round"/>
<path d="M884.8,2336.2c.4 .8 1 3 2 4.5 1 1.5 3.2 3.2 4 4.5 .9 1.2 3.2 2.6 1 3.1-2.1 .5-11.8 .5-14 0-2.1-.5 .2-1.9 1-3.1 .9-1.3 3-3 4-4.5 1-1.5 1.7-3.7 2-4.5 .4-.7-.3-.7 0 0Z" fill="#fdd0e7" fill-opacity="1.0" stroke="#f0379f" stroke-width="1.45" stroke-linejoin="round"/>
<path d="M906.1,2198.5c.3 3.9 .9 16.6 1.6 23.5 .7 6.9 1.8 12.7 2.4 17.9 .7 5.2 1 8.2 1.5 13.4 .5 5.3 1 12.7 1.3 18 .3 5.2 .8 8.2 .6 13.4-.2 5.2-1.4 12.7-2 17.9-.6 5.2-1.4 9.7-1.8 13.4-.4 3.8-.7 6-.8 9-.1 3 .3 6 .4 9 .1 3 .3 6.5 .4 8.9 .1 2.4 1.2 4.5 0 5.4-1.2 .9-6 .9-7.2 0-1.2-.9-.1-3 0-5.4 .1-2.4 .3-5.9 .4-8.9 .1-3 .5-6 .4-9-.1-3-.4-5.2-.8-9-.4-3.7-1.2-8.2-1.8-13.4-.6-5.2-1.8-12.7-2-17.9-.2-5.2 .3-8.2 .6-13.4 .3-5.3 .8-12.7 1.3-18 .5-5.2 .9-8.2 1.5-13.4 .7-5.2 1.7-11 2.4-17.9 .7-6.9 1.3-19.6 1.6-23.5 .3-4-.3-4 0 0Z" fill="#fdd0e7" fill-opacity="1.0" stroke="#f0379f" stroke-width="1.45" stroke-linejoin="round"/>
<line x1="899.8" y1="2285.8" x2="912.4" y2="2285.8" stroke="#000" stroke-width="2"/>
<path d="M927.6,2237.2c.3 4.2 1.3 17.9 2 25.1 .7 7.2 1.8 12.7 2 17.9 .2 5.2-.5 9-.8 13.5-.2 4.4-.9 8.9-.7 13.4 .2 4.5 1.1 9.3 1.7 13.4 .7 4.1 1.7 7.9 2.2 11.2 .5 3.4 .8 6.2 .8 9 0 2.7 1.6 6.3-.7 7.6-2.3 1.3-10.7 1.3-13 0-2.3-1.3-.7-4.9-.7-7.6 0-2.8 .3-5.6 .8-9 .5-3.3 1.6-7.1 2.2-11.2 .7-4.1 1.5-8.9 1.7-13.4 .2-4.5-.4-9-.7-13.4-.2-4.5-1-8.3-.8-13.5 .2-5.2 1.3-10.7 2-17.9 .7-7.2 1.7-20.9 2-25.1 .3-4.2-.3-4.2 0 0Z" fill="#fdd0e7" fill-opacity="1.0" stroke="#f0379f" stroke-width="1.45" stroke-linejoin="round"/>
<line x1="921.3" y1="2331.1" x2="933.9" y2="2331.1" stroke="#000" stroke-width="2"/>
<path d="M963,2267.4c.3 1.8 1.2 7.7 1.6 10.6 .4 2.8 .5 4.1 .9 6.7 .4 2.6 1 6 1.7 9 .7 2.9 1.9 6.3 2.4 8.9 .5 2.6 1 4.1 .8 6.7-.2 2.6-1.2 6-2 9-.8 3-1.9 6.3-2.6 8.9-.6 2.7-.9 3.4-1.3 6.8-.4 3.3-.9 11.2-1.2 13.4-.3 2.2-.3 2.2-.6 0-.3-2.2-.8-10.1-1.2-13.4-.4-3.4-.6-4.1-1.3-6.8-.6-2.6-1.8-5.9-2.6-8.9-.8-3-1.8-6.4-2-9-.2-2.6 .3-4.1 .8-6.7 .5-2.6 1.7-6 2.4-8.9 .7-3 1.3-6.4 1.7-9 .4-2.6 .5-3.9 .9-6.7 .4-2.9 1.3-8.8 1.6-10.6 .3-1.7-.3-1.7 0 0Z" fill="#fff" fill-opacity="1.0" stroke="#f0379f" stroke-width="1.45" stroke-linejoin="round"/>
<line x1="956.7" y1="2308.7" x2="969.3" y2="2308.7" stroke="#000" stroke-width="2"/>
<path d="M984.5,2314.9c.3 .8 1.3 3.2 1.8 4.5 .5 1.3 1.1 1.5 1 3.4 0 1.8-1.5 5.8-1.3 7.8 .2 2.1 1.6 2.8 2.5 4.5 1 1.7 2.9 3.9 3.2 5.6 .3 1.7-.7 3.2-1.2 4.5-.5 1.2-.3 2.6-2 3.1-1.7 .5-6.3 .5-8 0-1.7-.5-1.5-1.9-2-3.1-.5-1.3-1.5-2.8-1.2-4.5 .3-1.7 2.3-3.9 3.2-5.6 1-1.7 2.3-2.4 2.5-4.5 .2-2-1.2-6-1.3-7.8 0-1.9 .5-2.1 1-3.4 .5-1.3 1.5-3.7 1.8-4.5 .3-.7-.3-.7 0 0Z" fill="#fff" fill-opacity="1.0" stroke="#f0379f" stroke-width="1.45" stroke-linejoin="round"/>
<line x1="978.2" y1="2341.1" x2="990.8" y2="2341.1" stroke="#000" stroke-width="2"/>
<path d="M1005.8,2340.7c1.6 0 3.8 .8 5 1.3 1.1 .5 2 1.1 2 1.6 0 .5-.9 1.1-2 1.6-1.2 .4-3.4 1.3-5 1.3-1.7 0-3.9-.9-5-1.3-1.2-.5-2-1.1-2-1.6 0-.5 .8-1.1 2-1.6 1.1-.5 3.3-1.3 5-1.3Z" fill="#fff" fill-opacity="1.0" stroke="#f0379f" stroke-width="1.45" stroke-linejoin="round"/>
<path d="M1027.1,2340c1.6 0 3.8 .7 5 1.1 1.1 .4 2 .9 2 1.4 0 .5-.9 1.1-2 1.5-1.2 .5-3.4 1.2-5 1.2-1.7 0-3.9-.7-5-1.2-1.2-.4-2-1-2-1.5 0-.5 .8-1 2-1.4 1.1-.4 3.3-1.1 5-1.1Z" fill="#fff" fill-opacity="1.0" stroke="#f0379f" stroke-width="1.45" stroke-linejoin="round"/>
<path d="M1048.3,2295.4c.5 1.6 1.7 6.8 2.6 9.4 1 2.7 2.2 4.5 3 6.8 .8 2.2 1.9 4.4 1.8 6.7 0 2.2-1.2 4.5-2 6.7-.7 2.2-2.2 4.7-2.4 6.7-.1 2.1 1.1 3.8 1.6 5.6 .5 1.9 1.4 3.8 1.4 5.6 .1 1.9 .9 4.5-1 5.4-1.8 .9-8.1 .9-10 0-1.8-.9-1-3.5-1-5.4 .1-1.8 .9-3.7 1.4-5.6 .5-1.8 1.8-3.5 1.6-5.6-.1-2-1.6-4.5-2.4-6.7-.7-2.2-1.9-4.5-2-6.7 0-2.3 1-4.5 1.8-6.7 .8-2.3 2.1-4.1 3-6.8 1-2.6 2.2-7.8 2.6-9.4 .5-1.5-.4-1.5 0 0Z" fill="#fff" fill-opacity="1.0" stroke="#f0379f" stroke-width="1.45" stroke-linejoin="round"/>
<line x1="1042.0" y1="2331.7" x2="1054.6" y2="2331.7" stroke="#000" stroke-width="2"/>
<path d="M1069.8,2260.1c.4 2.6 1.4 10.8 2.2 15.6 .9 4.9 2.1 9.7 2.8 13.5 .8 3.7 1.4 6.3 1.8 8.9 .4 2.6 .9 3.8 .6 6.7-.3 3-1.5 7.5-2.4 11.2-.8 3.8-2.5 7.9-2.8 11.2-.3 3.4 .7 6.4 1 9 .3 2.6 .8 4.7 .8 6.7 .1 2 .8 4.5-.5 5.4-1.2 .9-5.7 .9-7 0-1.2-.9-.5-3.4-.5-5.4 .1-2 .5-4.1 .8-6.7 .3-2.6 1.3-5.6 1-9-.3-3.3-1.9-7.4-2.8-11.2-.8-3.7-2.1-8.2-2.4-11.2-.3-2.9 .2-4.1 .6-6.7 .4-2.6 1.1-5.2 1.8-8.9 .8-3.8 2-8.6 2.8-13.5 .9-4.8 1.9-13 2.2-15.6 .4-2.7-.3-2.7 0 0Z" fill="#fff" fill-opacity="1.0" stroke="#f0379f" stroke-width="1.45" stroke-linejoin="round"/>
<line x1="1063.5" y1="2306.4" x2="1076.1" y2="2306.4" stroke="#000" stroke-width="2"/>
<path d="M818,2213.9h4v4h-4ZM820.5,2239.6L822.7,2235.6L818.3,2235.6ZM819.4,2256.1L820.1,2257.9L822.1,2258L820.5,2259.3L821,2261.2L819.4,2260.1L817.7,2261.2L818.3,2259.3L816.7,2258L818.7,2257.9ZM818.5,2280.4a2.0,2.0 0 1,0 4,0a2.0,2.0 0 1,0 -4,0ZM820,2299.7L822.2,2303.7L817.8,2303.7ZM841.2,2344.1h4v4h-4ZM843.1,2347.6L845.3,2343.6L840.9,2343.6ZM842.1,2341.9L842.8,2343.7L844.7,2343.8L843.2,2345.1L843.7,2347L842.1,2345.9L840.4,2347L840.9,2345.1L839.4,2343.8L841.4,2343.7ZM838.7,2344a2.0,2.0 0 1,0 4,0a2.0,2.0 0 1,0 -4,0ZM841.3,2341.2L843.5,2345.2L839.1,2345.2ZM860.8,2303.4h4v4h-4ZM862.7,2315.6L864.9,2311.6L860.5,2311.6ZM862.8,2318.6L863.5,2320.4L865.4,2320.5L863.9,2321.7L864.4,2323.6L862.8,2322.6L861.1,2323.6L861.6,2321.7L860.1,2320.5L862.1,2320.4ZM862.7,2329.4a2.0,2.0 0 1,0 4,0a2.0,2.0 0 1,0 -4,0ZM862.5,2335.2L864.7,2339.2L860.3,2339.2ZM881.5,2344.1h4v4h-4ZM886.1,2347.6L888.3,2343.6L883.9,2343.6ZM885,2341.9L885.7,2343.7L887.7,2343.8L886.2,2345.1L886.7,2347L885,2345.9L883.4,2347L883.9,2345.1L882.4,2343.8L884.3,2343.7ZM884.3,2344a2.0,2.0 0 1,0 4,0a2.0,2.0 0 1,0 -4,0ZM884.5,2341.2L886.7,2345.2L882.3,2345.2ZM905.3,2229.1h4v4h-4ZM906.6,2255.6L908.8,2251.6L904.4,2251.6ZM907,2272.9L907.7,2274.7L909.6,2274.8L908.1,2276.1L908.6,2277.9L907,2276.9L905.3,2277.9L905.8,2276.1L904.3,2274.8L906.3,2274.7ZM904.8,2298a2.0,2.0 0 1,0 4,0a2.0,2.0 0 1,0 -4,0ZM906.1,2318L908.3,2322L903.9,2322ZM924.4,2259.4h4v4h-4ZM926.7,2280L928.9,2276L924.5,2276ZM928.7,2291.5L929.4,2293.3L931.4,2293.4L929.9,2294.6L930.4,2296.5L928.7,2295.5L927.1,2296.5L927.6,2294.6L926.1,2293.4L928,2293.3ZM926.8,2310.7a2.0,2.0 0 1,0 4,0a2.0,2.0 0 1,0 -4,0ZM928.9,2325L931.1,2329L926.7,2329ZM960.5,2282.9h4v4h-4ZM963.5,2299.1L965.7,2295.1L961.3,2295.1ZM963.9,2306L964.6,2307.8L966.6,2307.9L965,2309.2L965.5,2311.1L963.9,2310L962.3,2311.1L962.8,2309.2L961.2,2307.9L963.2,2307.8ZM961.4,2320.7a2.0,2.0 0 1,0 4,0a2.0,2.0 0 1,0 -4,0ZM963.9,2330.4L966.1,2334.4L961.7,2334.4ZM982.6,2320h4v4h-4ZM985,2329L987.2,2325L982.8,2325ZM985.1,2328.8L985.8,2330.6L987.7,2330.7L986.2,2332L986.7,2333.8L985.1,2332.8L983.4,2333.8L983.9,2332L982.4,2330.7L984.4,2330.6ZM981.8,2336.4a2.0,2.0 0 1,0 4,0a2.0,2.0 0 1,0 -4,0ZM985.8,2339L988,2343L983.6,2343ZM1005.1,2343.6h4v4h-4ZM1004.5,2347.1L1006.7,2343.1L1002.3,2343.1ZM1007.2,2341.5L1007.9,2343.3L1009.9,2343.4L1008.3,2344.6L1008.8,2346.5L1007.2,2345.5L1005.5,2346.5L1006.1,2344.6L1004.5,2343.4L1006.5,2343.3ZM1005.2,2343.6a2.0,2.0 0 1,0 4,0a2.0,2.0 0 1,0 -4,0ZM1006.3,2340.7L1008.5,2344.7L1004.1,2344.7ZM1023.7,2342.3h4v4h-4ZM1028.3,2345.8L1030.5,2341.8L1026.1,2341.8ZM1025.9,2340.1L1026.6,2342L1028.6,2342.1L1027.1,2343.3L1027.6,2345.2L1025.9,2344.1L1024.3,2345.2L1024.8,2343.3L1023.3,2342.1L1025.2,2342ZM1026.5,2342.3a2.0,2.0 0 1,0 4,0a2.0,2.0 0 1,0 -4,0ZM1027.6,2339.4L1029.8,2343.4L1025.4,2343.4ZM1045,2304.8h4v4h-4ZM1047.3,2316.7L1049.5,2312.7L1045.1,2312.7ZM1048.7,2319.4L1049.4,2321.3L1051.4,2321.4L1049.9,2322.6L1050.4,2324.5L1048.7,2323.4L1047.1,2324.5L1047.6,2322.6L1046.1,2321.4L1048,2321.3ZM1046.5,2330a2.0,2.0 0 1,0 4,0a2.0,2.0 0 1,0 -4,0ZM1049.1,2335.5L1051.3,2339.5L1046.9,2339.5ZM1069.1,2277.2h4v4h-4ZM1069,2294.4L1071.2,2290.4L1066.8,2290.4ZM1068.3,2302.4L1069,2304.3L1071,2304.4L1069.5,2305.6L1070,2307.5L1068.3,2306.4L1066.7,2307.5L1067.2,2305.6L1065.7,2304.4L1067.6,2304.3ZM1069.1,2318.3a2.0,2.0 0 1,0 4,0a2.0,2.0 0 1,0 -4,0ZM1068.4,2329.1L1070.6,2333.1L1066.2,2333.1Z" fill="#000"/>
</g>
<line x1="806.9" y1="2147.9" x2="806.9" y2="2348.0" stroke="#111" stroke-width="1.3"/>
<line x1="799.5" y1="2347.4" x2="1083.9" y2="2347.4" stroke="#111" stroke-width="1.3"/>
<line x1="799.5" y1="2149.2" x2="806.9" y2="2149.2" stroke="#111" stroke-width="1.2"/>
<text x="796.6" y="2153.3" font-size="11.5" text-anchor="end" stroke="#000">2.0</text>
<line x1="799.5" y1="2198.7" x2="806.9" y2="2198.7" stroke="#111" stroke-width="1.2"/>
<text x="796.6" y="2202.8" font-size="11.5" text-anchor="end" stroke="#000">1.5</text>
<line x1="799.5" y1="2248.2" x2="806.9" y2="2248.2" stroke="#111" stroke-width="1.2"/>
<text x="796.6" y="2252.3" font-size="11.5" text-anchor="end" stroke="#000">1.0</text>
<line x1="799.5" y1="2297.7" x2="806.9" y2="2297.7" stroke="#111" stroke-width="1.2"/>
<text x="796.6" y="2301.8" font-size="11.5" text-anchor="end" stroke="#000">0.5</text>
<line x1="799.5" y1="2347.4" x2="806.9" y2="2347.4" stroke="#111" stroke-width="1.2"/>
<text x="796.6" y="2351.5" font-size="11.5" text-anchor="end" stroke="#000">0.0</text>
<line x1="820.8" y1="2347.4" x2="820.8" y2="2356.4" stroke="#111" stroke-width="1.2"/>
<line x1="842.1" y1="2347.4" x2="842.1" y2="2356.4" stroke="#111" stroke-width="1.2"/>
<line x1="863.6" y1="2347.4" x2="863.6" y2="2356.4" stroke="#111" stroke-width="1.2"/>
<line x1="884.8" y1="2347.4" x2="884.8" y2="2356.4" stroke="#111" stroke-width="1.2"/>
<line x1="906.1" y1="2347.4" x2="906.1" y2="2356.4" stroke="#111" stroke-width="1.2"/>
<line x1="927.6" y1="2347.4" x2="927.6" y2="2356.4" stroke="#111" stroke-width="1.2"/>
<line x1="963.0" y1="2347.4" x2="963.0" y2="2356.4" stroke="#111" stroke-width="1.2"/>
<line x1="984.5" y1="2347.4" x2="984.5" y2="2356.4" stroke="#111" stroke-width="1.2"/>
<line x1="1005.8" y1="2347.4" x2="1005.8" y2="2356.4" stroke="#111" stroke-width="1.2"/>
<line x1="1027.1" y1="2347.4" x2="1027.1" y2="2356.4" stroke="#111" stroke-width="1.2"/>
<line x1="1048.3" y1="2347.4" x2="1048.3" y2="2356.4" stroke="#111" stroke-width="1.2"/>
<line x1="1069.8" y1="2347.4" x2="1069.8" y2="2356.4" stroke="#111" stroke-width="1.2"/>
<text x="877.9" y="2148.1" font-size="20.6" text-anchor="middle" fill="#ff0000" stroke="#ff0000">Blood</text>
<text x="1020.8" y="2148.1" font-size="20.8" text-anchor="middle" stroke="#000">LNs</text>
<line x1="945.8" y1="2148.5" x2="945.8" y2="2468.0" stroke="#666" stroke-width="1.3" stroke-dasharray="6.5,2"/>
<text x="843.2" y="2336.1" font-size="14.4" text-anchor="middle" stroke="#000" stroke-width="0" font-weight="bold">****</text>
<text x="864.5" y="2290.7" font-size="14.4" text-anchor="middle" stroke="#000" stroke-width="0" font-weight="bold">****</text>
<text x="883.5" y="2336.1" font-size="14.4" text-anchor="middle" stroke="#000" stroke-width="0" font-weight="bold">****</text>
<text x="906.6" y="2194.4" font-size="14.4" text-anchor="middle" stroke="#000" stroke-width="0" font-weight="bold">*</text>
<text x="928.3" y="2234.7" font-size="14.4" text-anchor="middle" stroke="#000" stroke-width="0" font-weight="bold">***</text>
<text x="985.4" y="2311.3" font-size="14.4" text-anchor="middle" stroke="#000" stroke-width="0" font-weight="bold">***</text>
<text x="1005.8" y="2338.6" font-size="14.4" text-anchor="middle" stroke="#000" stroke-width="0" font-weight="bold">**</text>
<text x="1027.1" y="2339.0" font-size="14.4" text-anchor="middle" stroke="#000" stroke-width="0" font-weight="bold">**</text>
<text x="1048.3" y="2293.4" font-size="14.4" text-anchor="middle" stroke="#000" stroke-width="0" font-weight="bold">*</text>
<text x="805.8" y="2371.6" font-size="17.9" text-anchor="end" fill="#12a36a" stroke="#12a36a">Glucose</text>
<text x="820.8 842.1 863.6 884.8 906.1 927.6" y="2370.4" font-size="17" text-anchor="middle" fill="#12a36a" stroke="#12a36a">+-++++</text>
<text x="963 984.5 1005.8 1027.1 1048.3 1069.8" y="2369.2" font-size="17" text-anchor="middle" fill="#12a36a" stroke="#12a36a">+-++++</text>
<text x="801.7" y="2395.1" font-size="15" text-anchor="end" fill="#12a36a" stroke="#12a36a">2DG</text>
<text x="820.8 842.1 863.6 884.8 906.1 927.6" y="2393.9" font-size="17" text-anchor="middle" fill="#12a36a" stroke="#12a36a">--+---</text>
<text x="963 984.5 1005.8 1027.1 1048.3 1069.8" y="2392.7" font-size="17" text-anchor="middle" fill="#12a36a" stroke="#12a36a">--+---</text>
<text x="797.7" y="2416.4" font-size="15" text-anchor="end" fill="#12a36a" stroke="#12a36a">Glutor</text>
<text x="820.8 842.1 863.6 884.8 906.1 927.6" y="2415.2" font-size="17" text-anchor="middle" fill="#12a36a" stroke="#12a36a">---+--</text>
<text x="963 984.5 1005.8 1027.1 1048.3 1069.8" y="2414" font-size="17" text-anchor="middle" fill="#12a36a" stroke="#12a36a">---+--</text>
<text x="807.3" y="2437.0" font-size="18" text-anchor="end" fill="#ff8a1c" stroke="#ff8a1c">Fatty acids</text>
<text x="820.8 842.1 863.6 884.8 906.1 927.6" y="2435.8" font-size="17" text-anchor="middle" fill="#ff8a1c" stroke="#ff8a1c">++++-+</text>
<text x="963 984.5 1005.8 1027.1 1048.3 1069.8" y="2434.6" font-size="17" text-anchor="middle" fill="#ff8a1c" stroke="#ff8a1c">++++-+</text>
<text x="803.3" y="2460.5" font-size="18" text-anchor="end" fill="#ff8a1c" stroke="#ff8a1c">Glutamine</text>
<text x="820.8 842.1 863.6 884.8 906.1 927.6" y="2459.3" font-size="17" text-anchor="middle" fill="#ff8a1c" stroke="#ff8a1c">+++++-</text>
<text x="963 984.5 1005.8 1027.1 1048.3 1069.8" y="2458.1" font-size="17" text-anchor="middle" fill="#ff8a1c" stroke="#ff8a1c">+++++-</text>
<rect x="810.7" y="2355.7" width="19.5" height="110.4" fill="none" stroke="#b0b0b0" stroke-width="1.1"/>
<rect x="953.4" y="2355.2" width="19.3" height="110.9" fill="none" stroke="#b0b0b0" stroke-width="1.1"/>
<clipPath id="cL4"><rect x="1165.6" y="2140" width="277.3" height="207.4"/></clipPath><g clip-path="url(#cL4)">
<path d="M1179.2,2157.5c.5 0 .7 13.4 1.4 19.7 .7 6.3 2.1 12.7 3 17.9 .9 5.2 1.7 9.7 2.2 13.4 .5 3.8 1.1 5.6 .8 9-.3 3.4-1.7 7.8-2.4 11.2-.7 3.4-1.4 6-1.8 9-.4 2.9-.8 5.9-.7 8.9 .1 3 1 6 1.3 9 .3 3 .8 5.6 .7 8.9-.1 3.4-.9 7.1-1.5 11.2-.6 4.1-1.5 9.6-2 13.5-.5 3.9-.7 10-1 10-.3 0-.5-6.1-1-10-.5-3.9-1.4-9.4-2-13.5-.6-4.1-1.4-7.8-1.5-11.2-.1-3.3 .4-5.9 .7-8.9 .3-3 1.2-6 1.3-9 .1-3-.3-6-.7-8.9-.4-3-1.1-5.6-1.8-9-.7-3.4-2.1-7.8-2.4-11.2-.3-3.4 .3-5.2 .8-9 .5-3.7 1.3-8.2 2.2-13.4 .9-5.2 2.3-11.6 3-17.9 .7-6.3 .9-19.7 1.4-19.7Z" fill="#d0e6db" fill-opacity="1.0" stroke="#1a8a52" stroke-width="1.45" stroke-linejoin="round"/>
<line x1="1172.9" y1="2218.0" x2="1185.5" y2="2218.0" stroke="#000" stroke-width="2"/>
<path d="M1200.9,2274.6c.3 1.5 1.4 6.4 1.8 9 .5 2.6 1.1 4.3 1 6.7 0 2.4-.8 5.4-1.2 7.8-.3 2.5-.8 3.8-.8 6.7 0 3 .3 7.9 .8 11.2 .6 3.4 1.7 5.6 2.6 9 1 3.4 2.6 8.2 3 11.2 .5 3-.2 4.7-.4 6.7-.1 2 2 4.5-.3 5.4-2.2 .9-10.7 .9-13 0-2.2-.9-.1-3.4-.3-5.4-.1-2-.8-3.7-.4-6.7 .5-3 2.1-7.8 3-11.2 1-3.4 2.1-5.6 2.6-9 .6-3.3 .8-8.2 .8-11.2 0-2.9-.4-4.2-.8-6.7-.3-2.4-1.1-5.4-1.2-7.8 0-2.4 .6-4.1 1-6.7 .5-2.6 1.5-7.5 1.8-9 .3-1.5-.3-1.5 0 0Z" fill="#d0e6db" fill-opacity="1.0" stroke="#1a8a52" stroke-width="1.45" stroke-linejoin="round"/>
<line x1="1194.6" y1="2335.1" x2="1207.2" y2="2335.1" stroke="#000" stroke-width="2"/>
<path d="M1222.2,2313.4c.7 0 1.4 3.3 2 4.9 .6 1.6 1.4 2.8 1.5 4.5 .2 1.6-.8 4.1-.5 5.6 .4 1.5 1.9 2.2 2.6 3.3 .8 1.1 2.1 2.1 1.8 3.4-.2 1.3-2.1 2.6-3.4 4.5-1.2 1.8-2.6 6.7-4 6.7-1.3 0-2.7-4.9-4-6.7-1.2-1.9-3.1-3.2-3.4-4.5-.2-1.3 1.1-2.3 1.8-3.4 .8-1.1 2.3-1.8 2.6-3.3 .4-1.5-.6-4-.5-5.6 .2-1.7 .9-2.9 1.5-4.5 .6-1.6 1.4-4.9 2-4.9Z" fill="#d0e6db" fill-opacity="1.0" stroke="#1a8a52" stroke-width="1.45" stroke-linejoin="round"/>
<line x1="1215.9" y1="2334.6" x2="1228.5" y2="2334.6" stroke="#000" stroke-width="2"/>
<path d="M1243.7,2301.5c.4 1.7 1.5 7.3 2.4 10.1 1 2.8 2.4 4.6 3.2 6.7 .8 2 1.7 3.5 1.6 5.6-.1 2-1.5 4.7-2.2 6.7-.7 2.1-1.7 3.7-2 5.6-.2 1.9 .5 3.6 .6 5.6 .2 2 1.7 5.4 .4 6.5-1.2 1.1-6.7 1.1-8 0-1.2-1.1 .3-4.5 .4-6.5 .2-2 .9-3.7 .6-5.6-.2-1.9-1.3-3.5-2-5.6-.7-2-2.1-4.7-2.2-6.7-.1-2.1 .8-3.6 1.6-5.6 .8-2.1 2.3-3.9 3.2-6.7 1-2.8 2-8.4 2.4-10.1 .4-1.7-.4-1.7 0 0Z" fill="#d0e6db" fill-opacity="1.0" stroke="#1a8a52" stroke-width="1.45" stroke-linejoin="round"/>
<line x1="1237.4" y1="2327.2" x2="1250.0" y2="2327.2" stroke="#000" stroke-width="2"/>
<path d="M1265,2161.1c.2 4.9 .7 21.2 1.4 29.5 .7 8.3 1.9 13.8 2.8 20.2 .9 6.3 1.9 12.3 2.4 17.9 .5 5.6 .8 9.3 .8 15.7 0 6.3-.6 14.9-.8 22.4-.2 7.4-.5 14.9-.6 22.4-.1 7.4 .1 14.9 .2 22.4 .1 7.4 .2 16.2 .3 22.4 0 6.1 2.2 11.9 0 14.3-2.2 2.4-10.8 2.4-13 0-2.2-2.4-.1-8.2 0-14.3 0-6.2 .2-15 .3-22.4 .1-7.5 .3-15 .2-22.4-.1-7.5-.4-15-.6-22.4-.2-7.5-.8-16.1-.8-22.4 0-6.4 .3-10.1 .8-15.7 .5-5.6 1.5-11.6 2.4-17.9 .9-6.4 2.1-11.9 2.8-20.2 .7-8.3 1.2-24.6 1.4-29.5 .2-5-.2-5 0 0Z" fill="#d0e6db" fill-opacity="1.0" stroke="#1a8a52" stroke-width="1.45" stroke-linejoin="round"/>
<line x1="1258.7" y1="2282.0" x2="1271.3" y2="2282.0" stroke="#000" stroke-width="2"/>
<path d="M1286.5,2205.9c.4 4.1 1.3 17.1 2.2 25 .9 8 2.4 15.7 3.2 22.4 .8 6.8 1.5 12 1.4 18-.1 5.9-1.2 13-1.8 17.9-.6 4.8-1.5 7.8-2 11.2-.5 3.3-1 5.6-.8 8.9 .2 3.4 1.1 7.9 1.8 11.2 .7 3.4 1.6 6 2.2 9 .6 3 1.1 5.8 1.2 8.9 .1 3.2 2 8.3-.4 9.9-2.4 1.6-11.6 1.6-14 0-2.4-1.6-.5-6.7-.4-9.9 .1-3.1 .6-5.9 1.2-8.9 .6-3 1.5-5.6 2.2-9 .7-3.3 1.6-7.8 1.8-11.2 .2-3.3-.3-5.6-.8-8.9-.5-3.4-1.4-6.4-2-11.2-.6-4.9-1.7-12-1.8-17.9-.1-6 .6-11.2 1.4-18 .8-6.7 2.3-14.4 3.2-22.4 .9-7.9 1.8-20.9 2.2-25 .4-4.2-.4-4.2 0 0Z" fill="#d0e6db" fill-opacity="1.0" stroke="#1a8a52" stroke-width="1.45" stroke-linejoin="round"/>
<line x1="1280.2" y1="2309.3" x2="1292.8" y2="2309.3" stroke="#000" stroke-width="2"/>
<path d="M1321.9,2248.4c.3 2.7 1.1 11.6 1.8 16.1 .6 4.6 1.4 7.5 2.2 11.2 .7 3.8 1.8 7.9 2.4 11.2 .5 3.4 1.1 5.6 1 9-.2 3.3-1.3 7.1-2 11.2-.8 4.1-1.8 8.9-2.4 13.4-.7 4.5-1.1 9-1.5 13.5-.5 4.4-.9 11.2-1.2 13.4-.3 2.2-.3 2.2-.6 0-.3-2.2-.8-9-1.2-13.4-.5-4.5-.9-9-1.5-13.5-.7-4.5-1.7-9.3-2.4-13.4-.8-4.1-1.9-7.9-2-11.2-.2-3.4 .4-5.6 1-9 .5-3.3 1.6-7.4 2.4-11.2 .7-3.7 1.5-6.6 2.2-11.2 .6-4.5 1.5-13.4 1.8-16.1 .3-2.7-.3-2.7 0 0Z" fill="#fff" fill-opacity="1.0" stroke="#1a8a52" stroke-width="1.45" stroke-linejoin="round"/>
<line x1="1315.6" y1="2296.3" x2="1328.2" y2="2296.3" stroke="#000" stroke-width="2"/>
<path d="M1343.4,2310.4c.4 1.4 1.6 5.5 2.6 7.9 .9 2.4 2.4 4.7 3.2 6.7 .8 2.1 1.5 3.9 1.6 5.6 0 1.7-1 3.2-1.4 4.5-.4 1.3-1 1.9-1 3.3 0 1.5 1 4 1 5.6 0 1.7 .8 3.6-1 4.3-1.9 .7-8.2 .7-10 0-1.9-.7-1-2.6-1-4.3 0-1.6 1-4.1 1-5.6 0-1.4-.6-2-1-3.3-.4-1.3-1.5-2.8-1.4-4.5 0-1.7 .8-3.5 1.6-5.6 .8-2 2.2-4.3 3.2-6.7 .9-2.4 2.1-6.5 2.6-7.9 .4-1.3-.5-1.3 0 0Z" fill="#fff" fill-opacity="1.0" stroke="#1a8a52" stroke-width="1.45" stroke-linejoin="round"/>
<line x1="1337.1" y1="2331.3" x2="1349.7" y2="2331.3" stroke="#000" stroke-width="2"/>
<path d="M1364.9,2302.2c1 0 2.1 4.8 3.2 7.1 1 2.3 2.5 4.9 3.2 6.7 .7 1.9 1.1 2.8 1 4.5-.2 1.7-1.1 3.8-2 5.6-.9 1.9-2.5 3.9-3.4 5.6-.9 1.8-1.4 5-2 5-.7 0-1.1-3.2-2-5-.9-1.7-2.5-3.7-3.4-5.6-.9-1.8-1.9-3.9-2-5.6-.2-1.7 .3-2.6 1-4.5 .7-1.8 2.1-4.4 3.2-6.7 1-2.3 2.1-7.1 3.2-7.1Z" fill="#fff" fill-opacity="1.0" stroke="#1a8a52" stroke-width="1.45" stroke-linejoin="round"/>
<line x1="1358.6" y1="2320.5" x2="1371.2" y2="2320.5" stroke="#000" stroke-width="2"/>
<path d="M1386.2,2301c1 0 1.9 5.8 3 8.3 1 2.5 2.6 4.9 3.4 6.7 .7 1.9 1.2 2.7 1 4.5-.3 1.9-1.8 4.5-2.4 6.7-.7 2.3-1.2 4.5-1.5 6.8-.4 2.2 0 4.6-.5 6.7-.6 2-2 5.6-3 5.6-1 0-2.5-3.6-3-5.6-.6-2.1-.2-4.5-.5-6.7-.4-2.3-.9-4.5-1.5-6.8-.7-2.2-2.2-4.8-2.4-6.7-.3-1.8 .2-2.6 1-4.5 .7-1.8 2.3-4.2 3.4-6.7 1-2.5 2-8.3 3-8.3Z" fill="#fff" fill-opacity="1.0" stroke="#1a8a52" stroke-width="1.45" stroke-linejoin="round"/>
<line x1="1379.9" y1="2323.4" x2="1392.5" y2="2323.4" stroke="#000" stroke-width="2"/>
<path d="M1407.4,2295.9c.4 1.5 1.4 6.3 2 8.9 .7 2.7 1.5 4.5 2 6.8 .5 2.2 .9 4.1 1 6.7 .2 2.6 .1 6 0 8.9 0 3-.6 6.8-.5 9 .2 2.2 1.1 3.2 1.5 4.5 .5 1.3 1.2 2.1 1.2 3.3 .1 1.3 1.6 3.6-.7 4.3-2.2 .7-10.7 .7-13 0-2.2-.7-.7-3-.7-4.3 .1-1.2 .8-2 1.2-3.3 .5-1.3 1.4-2.3 1.5-4.5 .2-2.2-.4-6-.5-9 0-2.9-.1-6.3 0-8.9 .2-2.6 .5-4.5 1-6.7 .5-2.3 1.4-4.1 2-6.8 .7-2.6 1.7-7.4 2-8.9 .4-1.5-.3-1.5 0 0Z" fill="#fff" fill-opacity="1.0" stroke="#1a8a52" stroke-width="1.45" stroke-linejoin="round"/>
<line x1="1401.1" y1="2335.5" x2="1413.7" y2="2335.5" stroke="#000" stroke-width="2"/>
<path d="M1428.9,2229.1c.4 4.1 1.3 17.2 2 24.2 .7 7.1 1.5 12.4 2.2 18 .7 5.6 1.5 10.4 2 15.6 .6 5.3 1.4 10.9 1.2 15.7-.2 4.9-1.6 9-2.4 13.4-.7 4.5-1.9 10.1-2.2 13.5-.3 3.3 .2 4.5 .4 6.7 .2 2.2 .8 4.7 .8 6.7 .1 2 .9 4.5-.4 5.4-1.2 .9-5.9 .9-7.2 0-1.2-.9-.4-3.4-.4-5.4 .1-2 .6-4.5 .8-6.7 .2-2.2 .7-3.4 .4-6.7-.3-3.4-1.4-9-2.2-13.5-.7-4.4-2.2-8.5-2.4-13.4-.2-4.8 .7-10.4 1.2-15.7 .6-5.2 1.3-10 2-15.6 .7-5.6 1.5-10.9 2.2-18 .7-7 1.7-20.1 2-24.2 .4-4-.3-4 0 0Z" fill="#fff" fill-opacity="1.0" stroke="#1a8a52" stroke-width="1.45" stroke-linejoin="round"/>
<line x1="1422.6" y1="2302.6" x2="1435.2" y2="2302.6" stroke="#000" stroke-width="2"/>
<path d="M1178.3,2186.7h4v4h-4ZM1178.1,2212.1L1180.3,2208.1L1175.9,2208.1ZM1180.1,2228.4L1180.9,2230.2L1182.8,2230.3L1181.3,2231.6L1181.8,2233.5L1180.1,2232.4L1178.5,2233.5L1179,2231.6L1177.5,2230.3L1179.4,2230.2ZM1178.1,2252.5a2.0,2.0 0 1,0 4,0a2.0,2.0 0 1,0 -4,0ZM1180.3,2271.5L1182.5,2275.5L1178.1,2275.5ZM1199.1,2288.5h4v4h-4ZM1202.1,2303.6L1204.3,2299.6L1199.9,2299.6ZM1200,2309.4L1200.8,2311.3L1202.7,2311.4L1201.2,2312.6L1201.7,2314.5L1200,2313.4L1198.4,2314.5L1198.9,2312.6L1197.4,2311.4L1199.3,2311.3ZM1199.5,2323.1a2.0,2.0 0 1,0 4,0a2.0,2.0 0 1,0 -4,0ZM1200.4,2331.7L1202.6,2335.7L1198.2,2335.7ZM1221.4,2318.6h4v4h-4ZM1223,2327.7L1225.2,2323.7L1220.8,2323.7ZM1222.1,2327.7L1222.8,2329.5L1224.8,2329.6L1223.3,2330.9L1223.8,2332.7L1222.1,2331.7L1220.5,2332.7L1221,2330.9L1219.5,2329.6L1221.4,2329.5ZM1220.3,2335.4a2.0,2.0 0 1,0 4,0a2.0,2.0 0 1,0 -4,0ZM1220.8,2338.2L1223,2342.2L1218.6,2342.2ZM1240.3,2309.5h4v4h-4ZM1244,2320.5L1246.2,2316.5L1241.8,2316.5ZM1243.7,2322.3L1244.4,2324.2L1246.3,2324.3L1244.8,2325.5L1245.3,2327.4L1243.7,2326.3L1242,2327.4L1242.5,2325.5L1241,2324.3L1243,2324.2ZM1242.8,2332a2.0,2.0 0 1,0 4,0a2.0,2.0 0 1,0 -4,0ZM1244,2336.6L1246.2,2340.6L1241.8,2340.6ZM1261.9,2200h4v4h-4ZM1264.6,2232L1266.8,2228L1262.4,2228ZM1265.8,2254.9L1266.5,2256.8L1268.5,2256.9L1266.9,2258.1L1267.4,2260L1265.8,2258.9L1264.2,2260L1264.7,2258.1L1263.1,2256.9L1265.1,2256.8ZM1263.1,2285.6a2.0,2.0 0 1,0 4,0a2.0,2.0 0 1,0 -4,0ZM1263.5,2311.3L1265.7,2315.3L1261.3,2315.3ZM1285.5,2234.9h4v4h-4ZM1287.5,2260.3L1289.7,2256.3L1285.3,2256.3ZM1285.3,2276.4L1286,2278.3L1287.9,2278.4L1286.4,2279.6L1286.9,2281.5L1285.3,2280.4L1283.6,2281.5L1284.1,2279.6L1282.6,2278.4L1284.5,2278.3ZM1284.6,2300.4a2.0,2.0 0 1,0 4,0a2.0,2.0 0 1,0 -4,0ZM1286.1,2319.4L1288.3,2323.4L1283.9,2323.4ZM1320.7,2268.1h4v4h-4ZM1321.3,2287.1L1323.5,2283.1L1319.1,2283.1ZM1321.1,2296.9L1321.8,2298.7L1323.7,2298.8L1322.2,2300L1322.7,2301.9L1321.1,2300.9L1319.4,2301.9L1319.9,2300L1318.4,2298.8L1320.4,2298.7ZM1319.8,2314.4a2.0,2.0 0 1,0 4,0a2.0,2.0 0 1,0 -4,0ZM1323.3,2327L1325.5,2331L1321.1,2331ZM1340.2,2316.5h4v4h-4ZM1342.2,2326.2L1344.4,2322.2L1340,2322.2ZM1343.7,2326.6L1344.5,2328.5L1346.4,2328.6L1344.9,2329.8L1345.4,2331.7L1343.7,2330.6L1342.1,2331.7L1342.6,2329.8L1341.1,2328.6L1343,2328.5ZM1342.5,2334.9a2.0,2.0 0 1,0 4,0a2.0,2.0 0 1,0 -4,0ZM1343.4,2338.2L1345.6,2342.2L1341.2,2342.2ZM1362.7,2307.7h4v4h-4ZM1366,2317.1L1368.2,2313.1L1363.8,2313.1ZM1365.7,2317.3L1366.4,2319.1L1368.4,2319.2L1366.9,2320.5L1367.4,2322.4L1365.7,2321.3L1364.1,2322.4L1364.6,2320.5L1363,2319.2L1365,2319.1ZM1361.6,2325.3a2.0,2.0 0 1,0 4,0a2.0,2.0 0 1,0 -4,0ZM1366,2328.2L1368.2,2332.2L1363.8,2332.2ZM1383.2,2309h4v4h-4ZM1385.6,2320L1387.8,2316L1383.4,2316ZM1387.2,2321.8L1387.9,2323.6L1389.8,2323.7L1388.3,2324.9L1388.8,2326.8L1387.2,2325.8L1385.5,2326.8L1386,2324.9L1384.5,2323.7L1386.5,2323.6ZM1383.9,2331.4a2.0,2.0 0 1,0 4,0a2.0,2.0 0 1,0 -4,0ZM1387.1,2335.9L1389.3,2339.9L1384.9,2339.9ZM1404.4,2305.1h4v4h-4ZM1408.6,2317L1410.8,2313L1406.4,2313ZM1406.5,2319.6L1407.2,2321.5L1409.1,2321.6L1407.6,2322.8L1408.1,2324.7L1406.5,2323.6L1404.8,2324.7L1405.3,2322.8L1403.8,2321.6L1405.8,2321.5ZM1404.4,2330.1a2.0,2.0 0 1,0 4,0a2.0,2.0 0 1,0 -4,0ZM1407.4,2335.6L1409.6,2339.6L1405.2,2339.6ZM1426.5,2253.1h4v4h-4ZM1429.1,2274.9L1431.3,2270.9L1426.9,2270.9ZM1430.1,2287.6L1430.9,2289.4L1432.8,2289.5L1431.3,2290.8L1431.8,2292.7L1430.1,2291.6L1428.5,2292.7L1429,2290.8L1427.5,2289.5L1429.4,2289.4ZM1427.6,2308.1a2.0,2.0 0 1,0 4,0a2.0,2.0 0 1,0 -4,0ZM1427.5,2323.5L1429.7,2327.5L1425.3,2327.5Z" fill="#000"/>
</g>
<line x1="1165.6" y1="2147.9" x2="1165.6" y2="2348.0" stroke="#111" stroke-width="1.3"/>
<line x1="1157.3" y1="2347.4" x2="1442.8" y2="2347.4" stroke="#111" stroke-width="1.3"/>
<line x1="1157.3" y1="2148.5" x2="1165.6" y2="2148.5" stroke="#111" stroke-width="1.2"/>
<text x="1155.0" y="2152.6" font-size="11.5" text-anchor="end" stroke="#000">2.5</text>
<line x1="1157.3" y1="2188.4" x2="1165.6" y2="2188.4" stroke="#111" stroke-width="1.2"/>
<text x="1155.0" y="2192.5" font-size="11.5" text-anchor="end" stroke="#000">2.0</text>
<line x1="1157.3" y1="2228.0" x2="1165.6" y2="2228.0" stroke="#111" stroke-width="1.2"/>
<text x="1155.0" y="2232.1" font-size="11.5" text-anchor="end" stroke="#000">1.5</text>
<line x1="1157.3" y1="2267.9" x2="1165.6" y2="2267.9" stroke="#111" stroke-width="1.2"/>
<text x="1155.0" y="2272.0" font-size="11.5" text-anchor="end" stroke="#000">1.0</text>
<line x1="1157.3" y1="2307.8" x2="1165.6" y2="2307.8" stroke="#111" stroke-width="1.2"/>
<text x="1155.0" y="2311.9" font-size="11.5" text-anchor="end" stroke="#000">0.5</text>
<line x1="1157.3" y1="2347.4" x2="1165.6" y2="2347.4" stroke="#111" stroke-width="1.2"/>
<text x="1155.0" y="2351.5" font-size="11.5" text-anchor="end" stroke="#000">0.0</text>
<line x1="1179.2" y1="2347.4" x2="1179.2" y2="2356.4" stroke="#111" stroke-width="1.2"/>
<line x1="1200.9" y1="2347.4" x2="1200.9" y2="2356.4" stroke="#111" stroke-width="1.2"/>
<line x1="1222.2" y1="2347.4" x2="1222.2" y2="2356.4" stroke="#111" stroke-width="1.2"/>
<line x1="1243.7" y1="2347.4" x2="1243.7" y2="2356.4" stroke="#111" stroke-width="1.2"/>
<line x1="1265.0" y1="2347.4" x2="1265.0" y2="2356.4" stroke="#111" stroke-width="1.2"/>
<line x1="1286.5" y1="2347.4" x2="1286.5" y2="2356.4" stroke="#111" stroke-width="1.2"/>
<line x1="1321.9" y1="2347.4" x2="1321.9" y2="2356.4" stroke="#111" stroke-width="1.2"/>
<line x1="1343.4" y1="2347.4" x2="1343.4" y2="2356.4" stroke="#111" stroke-width="1.2"/>
<line x1="1364.9" y1="2347.4" x2="1364.9" y2="2356.4" stroke="#111" stroke-width="1.2"/>
<line x1="1386.2" y1="2347.4" x2="1386.2" y2="2356.4" stroke="#111" stroke-width="1.2"/>
<line x1="1407.4" y1="2347.4" x2="1407.4" y2="2356.4" stroke="#111" stroke-width="1.2"/>
<line x1="1428.9" y1="2347.4" x2="1428.9" y2="2356.4" stroke="#111" stroke-width="1.2"/>
<text x="1233.6" y="2148.1" font-size="20.6" text-anchor="middle" fill="#ff0000" stroke="#ff0000">Blood</text>
<text x="1377.0" y="2148.1" font-size="20.8" text-anchor="middle" stroke="#000">LNs</text>
<line x1="1304.6" y1="2148.5" x2="1304.6" y2="2468.0" stroke="#111" stroke-width="1.3" stroke-dasharray="6.5,2"/>
<text x="1201.6" y="2271.4" font-size="14.4" text-anchor="middle" stroke="#000" stroke-width="0" font-weight="bold">****</text>
<text x="1222.7" y="2313.1" font-size="14.4" text-anchor="middle" stroke="#000" stroke-width="0" font-weight="bold">***</text>
<text x="1244.2" y="2299.2" font-size="14.4" text-anchor="middle" stroke="#000" stroke-width="0" font-weight="bold">***</text>
<text x="1265.9" y="2158.5" font-size="14.4" text-anchor="middle" stroke="#000" stroke-width="0" font-weight="bold">*</text>
<text x="1287.8" y="2204.9" font-size="14.4" text-anchor="middle" stroke="#000" stroke-width="0" font-weight="bold">**</text>
<text x="1344.3" y="2308.6" font-size="14.4" text-anchor="middle" stroke="#000" stroke-width="0" font-weight="bold">**</text>
<text x="1407.4" y="2293.4" font-size="14.4" text-anchor="middle" stroke="#000" stroke-width="0" font-weight="bold">*</text>
<text x="1165.1" y="2370.2" font-size="17.9" text-anchor="end" fill="#12a36a" stroke="#12a36a">Glucose</text>
<text x="1179.2 1200.9 1222.2 1243.7 1265 1286.5" y="2369" font-size="17" text-anchor="middle" fill="#12a36a" stroke="#12a36a">+-++++</text>
<text x="1321.9 1343.4 1364.9 1386.2 1407.4 1428.9" y="2367.8" font-size="17" text-anchor="middle" fill="#12a36a" stroke="#12a36a">+-++++</text>
<text x="1160.6" y="2393.3" font-size="15" text-anchor="end" fill="#12a36a" stroke="#12a36a">2DG</text>
<text x="1179.2 1200.9 1222.2 1243.7 1265 1286.5" y="2392.1" font-size="17" text-anchor="middle" fill="#12a36a" stroke="#12a36a">--+---</text>
<text x="1321.9 1343.4 1364.9 1386.2 1407.4 1428.9" y="2390.9" font-size="17" text-anchor="middle" fill="#12a36a" stroke="#12a36a">--+---</text>
<text x="1156.6" y="2415.0" font-size="15" text-anchor="end" fill="#12a36a" stroke="#12a36a">Glutor</text>
<text x="1179.2 1200.9 1222.2 1243.7 1265 1286.5" y="2413.8" font-size="17" text-anchor="middle" fill="#12a36a" stroke="#12a36a">---+--</text>
<text x="1321.9 1343.4 1364.9 1386.2 1407.4 1428.9" y="2412.6" font-size="17" text-anchor="middle" fill="#12a36a" stroke="#12a36a">---+--</text>
<text x="1166.2" y="2435.9" font-size="18" text-anchor="end" fill="#ff8a1c" stroke="#ff8a1c">Fatty acids</text>
<text x="1179.2 1200.9 1222.2 1243.7 1265 1286.5" y="2434.7" font-size="17" text-anchor="middle" fill="#ff8a1c" stroke="#ff8a1c">++++-+</text>
<text x="1321.9 1343.4 1364.9 1386.2 1407.4 1428.9" y="2433.5" font-size="17" text-anchor="middle" fill="#ff8a1c" stroke="#ff8a1c">++++-+</text>
<text x="1162.2" y="2458.7" font-size="18" text-anchor="end" fill="#ff8a1c" stroke="#ff8a1c">Glutamine</text>
<text x="1179.2 1200.9 1222.2 1243.7 1265 1286.5" y="2457.5" font-size="17" text-anchor="middle" fill="#ff8a1c" stroke="#ff8a1c">+++++-</text>
<text x="1321.9 1343.4 1364.9 1386.2 1407.4 1428.9" y="2456.3" font-size="17" text-anchor="middle" fill="#ff8a1c" stroke="#ff8a1c">+++++-</text>
<rect x="1169.6" y="2355.2" width="19.0" height="107.5" fill="none" stroke="#b0b0b0" stroke-width="1.1"/>
<rect x="1312.5" y="2355.2" width="19.0" height="107.1" fill="none" stroke="#b0b0b0" stroke-width="1.1"/>
<clipPath id="cL5"><rect x="1526.3" y="2140" width="278.4" height="207.4"/></clipPath><g clip-path="url(#cL5)">
<path d="M1539.9,2320.5c.2 1.5 .7 6.6 1.2 9 .5 2.4 1.3 3.9 1.8 5.6 .6 1.7 1.2 3.2 1.5 4.5 .4 1.3 .1 2.2 .5 3.3 .5 1.1 1.9 2.5 2.2 3.4 .4 .9 2.4 1.7 0 2-2.4 .3-12 .3-14.4 0-2.4-.3-.3-1.1 0-2 .4-.9 1.8-2.3 2.2-3.4 .5-1.1 .2-2 .5-3.3 .4-1.3 1-2.8 1.5-4.5 .6-1.7 1.3-3.2 1.8-5.6 .5-2.4 1-7.5 1.2-9 .2-1.5-.2-1.5 0 0Z" fill="#fde2cc" fill-opacity="1.0" stroke="#f57a00" stroke-width="1.45" stroke-linejoin="round"/>
<line x1="1533.6" y1="2345.6" x2="1546.2" y2="2345.6" stroke="#000" stroke-width="2"/>
<path d="M1561.2,2301c.1 2.5 .4 9.6 .6 15 .2 5.5 0 14.2 .4 18 .4 3.7 1.6 3.1 2 4.4 .4 1.3 0 2.3 .5 3.4 .5 1.1 1.9 2.3 2.5 3.4 .6 1 3.2 2.6 1 3.1-2.2 .5-11.8 .5-14 0-2.2-.5 .4-2.1 1-3.1 .6-1.1 2-2.3 2.5-3.4 .5-1.1 .1-2.1 .5-3.4 .4-1.3 1.6-.7 2-4.4 .4-3.8 .2-12.5 .4-18 .2-5.4 .5-12.5 .6-15 .1-2.5-.1-2.5 0 0Z" fill="#fde2cc" fill-opacity="1.0" stroke="#f57a00" stroke-width="1.45" stroke-linejoin="round"/>
<line x1="1554.9" y1="2345.6" x2="1567.5" y2="2345.6" stroke="#000" stroke-width="2"/>
<path d="M1582.5,2344.7c.8 .3 3.8 1.2 5 1.8 1.2 .6 4 1.5 2 1.8-2 .3-12 .3-14 0-2-.3 .8-1.2 2-1.8 1.2-.6 4.2-1.5 5-1.8 .8-.3-.8-.3 0 0Z" fill="#fde2cc" fill-opacity="1.0" stroke="#f57a00" stroke-width="1.45" stroke-linejoin="round"/>
<path d="M1604,2304.8c.3 1.9 1.2 7.9 1.8 11.2 .6 3.4 1.6 6 1.7 9 .1 3-1.3 6.7-1.3 9 0 2.2 .6 2.8 1.4 4.4 .8 1.7 2.8 4 3.4 5.6 .6 1.7 2.8 3.6 .4 4.3-2.4 .7-12.4 .7-14.8 0-2.4-.7-.2-2.6 .4-4.3 .6-1.6 2.6-3.9 3.4-5.6 .8-1.6 1.4-2.2 1.4-4.4 0-2.3-1.4-6-1.3-9 .1-3 1.1-5.6 1.7-9 .6-3.3 1.5-9.3 1.8-11.2 .3-1.8-.3-1.8 0 0Z" fill="#fde2cc" fill-opacity="1.0" stroke="#f57a00" stroke-width="1.45" stroke-linejoin="round"/>
<line x1="1597.7" y1="2346.3" x2="1610.3" y2="2346.3" stroke="#000" stroke-width="2"/>
<path d="M1625.3,2252.2c.8 0 1.4 10.7 2.4 14.6 .9 3.9 2.3 5.9 3.2 8.9 .8 3 1.7 6 1.8 9 0 3-.8 6-1.4 9-.7 2.9-2.1 6.5-2.6 8.9-.6 2.4-.9 3-.9 5.6-.1 2.6 .8 6.5 .7 10.1-.2 3.5-1.3 7.1-1.8 11.2-.6 4.1-1 13.4-1.4 13.4-.5 0-.9-9.3-1.4-13.4-.6-4.1-1.7-7.7-1.8-11.2-.2-3.6 .7-7.5 .7-10.1-.1-2.6-.4-3.2-.9-5.6-.6-2.4-2-6-2.6-8.9-.7-3-1.5-6-1.4-9 0-3 .9-6 1.8-9 .8-3 2.2-5 3.2-8.9 .9-3.9 1.6-14.6 2.4-14.6Z" fill="#fde2cc" fill-opacity="1.0" stroke="#f57a00" stroke-width="1.45" stroke-linejoin="round"/>
<line x1="1619.0" y1="2289.2" x2="1631.6" y2="2289.2" stroke="#000" stroke-width="2"/>
<path d="M1646.8,2338.4c.5 .8 1.8 3.2 3 4.5 1.1 1.3 3.3 2.5 4 3.4 .6 .9 2.3 1.7 0 2-2.4 .3-11.7 .3-14 0-2.4-.3-.7-1.1 0-2 .6-.9 2.8-2.1 4-3.4 1.1-1.3 2.5-3.7 3-4.5 .5-.7-.5-.7 0 0Z" fill="#fde2cc" fill-opacity="1.0" stroke="#f57a00" stroke-width="1.45" stroke-linejoin="round"/>
<line x1="1640.5" y1="2345.6" x2="1653.1" y2="2345.6" stroke="#000" stroke-width="2"/>
<path d="M1682.2,2295.9c.3 1.5 1.5 6 2.2 8.9 .7 3 1.7 5.6 2 9 .3 3.4-.5 8.2-.2 11.2 .3 3 1.4 4.5 2 6.7 .5 2.3 1.5 4.7 1.4 6.7-.2 2.1-1.6 4-2.4 5.6-.9 1.7-1.3 3.6-2.5 4.3-1.3 .7-3.8 .7-5 0-1.3-.7-1.7-2.6-2.5-4.3-.9-1.6-2.3-3.5-2.4-5.6-.2-2 .8-4.4 1.4-6.7 .5-2.2 1.7-3.7 2-6.7 .3-3-.5-7.8-.2-11.2 .3-3.4 1.3-6 2-9 .7-2.9 1.8-7.4 2.2-8.9 .3-1.5-.4-1.5 0 0Z" fill="#fff" fill-opacity="1.0" stroke="#f57a00" stroke-width="1.45" stroke-linejoin="round"/>
<line x1="1675.9" y1="2332.8" x2="1688.5" y2="2332.8" stroke="#000" stroke-width="2"/>
<path d="M1703.9,2274.6c.4 2.4 1.6 10.7 2.6 14.6 .9 3.9 2.4 6.3 3.2 8.9 .8 2.6 1.4 4.1 1.6 6.7 .2 2.7-.3 6-.4 9-.2 3-.1 5.6-.5 9-.4 3.3-1.8 8.4-2 11.2-.2 2.8 .6 3.9 .9 5.6 .2 1.6 .8 3 .6 4.4-.3 1.5-.4 3.6-2 4.3-1.7 .7-6.4 .7-8 0-1.7-.7-1.8-2.8-2-4.3-.3-1.4 .3-2.8 .6-4.4 .2-1.7 1.1-2.8 .9-5.6-.2-2.8-1.6-7.9-2-11.2-.4-3.4-.4-6-.5-9-.2-3-.6-6.3-.4-9 .2-2.6 .8-4.1 1.6-6.7 .8-2.6 2.2-5 3.2-8.9 .9-3.9 2.1-12.2 2.6-14.6 .4-2.4-.5-2.4 0 0Z" fill="#fff" fill-opacity="1.0" stroke="#f57a00" stroke-width="1.45" stroke-linejoin="round"/>
<line x1="1697.6" y1="2322.8" x2="1710.2" y2="2322.8" stroke="#000" stroke-width="2"/>
<path d="M1725.2,2313.4c1.2 0 2.4 3.5 3.6 4.9 1.2 1.4 3.6 2.3 3.6 3.3 0 1.1-2.4 2-3.6 3-1.2 .9-2.4 2.6-3.6 2.6-1.2 0-2.4-1.7-3.6-2.6-1.2-1-3.6-1.9-3.6-3 0-1 2.4-1.9 3.6-3.3 1.2-1.4 2.4-4.9 3.6-4.9Z" fill="#fff" fill-opacity="1.0" stroke="#f57a00" stroke-width="1.45" stroke-linejoin="round"/>
<line x1="1718.9" y1="2321.6" x2="1731.5" y2="2321.6" stroke="#000" stroke-width="2"/>
<path d="M1746.4,2258.9c.9 0 1.6 7.1 2.6 10.1 1 3 2.6 5.7 3.4 7.9 .8 2.1 1.7 3.1 1.4 5.1-.2 2.1-2 4.9-2.8 7.2-.8 2.3-1.8 4.5-2.1 6.7-.3 2.2 .2 4.8 .3 6.7 .1 1.9 .5 2.2 .2 4.5-.2 2.2-1.3 5.8-1.8 8.9-.5 3.2-.8 10.1-1.2 10.1-.4 0-.7-6.9-1.2-10.1-.5-3.1-1.5-6.7-1.8-8.9-.2-2.3 .1-2.6 .2-4.5 .1-1.9 .6-4.5 .3-6.7-.3-2.2-1.3-4.4-2.1-6.7-.8-2.3-2.5-5.1-2.8-7.2-.2-2 .6-3 1.4-5.1 .8-2.2 2.4-4.9 3.4-7.9 1-3 1.8-10.1 2.6-10.1Z" fill="#fff" fill-opacity="1.0" stroke="#f57a00" stroke-width="1.45" stroke-linejoin="round"/>
<line x1="1740.1" y1="2282.0" x2="1752.7" y2="2282.0" stroke="#000" stroke-width="2"/>
<path d="M1767.9,2233.2c.4 3.7 1.2 16 2 22.4 .9 6.3 2.3 10.8 3 15.7 .8 4.8 1.5 8.5 1.5 13.4 .1 4.8-.6 10.1-1.1 15.7-.5 5.6-1.7 13-1.9 17.9-.1 4.8 .6 7.5 1.1 11.2 .5 3.7 1.7 8 1.9 11.2 .3 3.1 1.6 6.3-.5 7.6-2.1 1.3-9.9 1.3-12 0-2.1-1.3-.7-4.5-.5-7.6 .3-3.2 1.4-7.5 1.9-11.2 .5-3.7 1.3-6.4 1.1-11.2-.1-4.9-1.4-12.3-1.9-17.9-.5-5.6-1.1-10.9-1.1-15.7 .1-4.9 .8-8.6 1.5-13.4 .8-4.9 2.2-9.4 3-15.7 .9-6.4 1.7-18.7 2-22.4 .4-3.8-.3-3.8 0 0Z" fill="#fff" fill-opacity="1.0" stroke="#f57a00" stroke-width="1.45" stroke-linejoin="round"/>
<line x1="1761.6" y1="2316.5" x2="1774.2" y2="2316.5" stroke="#000" stroke-width="2"/>
<path d="M1789.4,2326.8c.5 1.2 1.6 5.2 2.6 7.2 1 1.9 2.6 3.3 3.4 4.4 .8 1.2 1.5 1.3 1.4 2.3-.1 .9-1.1 2.1-2 3.3-.9 1.3-2.1 3.6-3.4 4.3-1.2 .7-2.7 .7-4 0-1.2-.7-2.5-3-3.4-4.3-.9-1.2-1.9-2.4-2-3.3-.1-1 .6-1.1 1.4-2.3 .8-1.1 2.4-2.5 3.4-4.4 1-2 2.2-6 2.6-7.2 .5-1.2-.4-1.2 0 0Z" fill="#fff" fill-opacity="1.0" stroke="#f57a00" stroke-width="1.45" stroke-linejoin="round"/>
<line x1="1783.1" y1="2340.7" x2="1795.7" y2="2340.7" stroke="#000" stroke-width="2"/>
<path d="M1537.4,2324.3h4v4h-4ZM1540.1,2332.5L1542.3,2328.5L1537.9,2328.5ZM1539.9,2331.5L1540.6,2333.3L1542.6,2333.4L1541,2334.6L1541.5,2336.5L1539.9,2335.5L1538.2,2336.5L1538.8,2334.6L1537.2,2333.4L1539.2,2333.3ZM1538.6,2338.2a2.0,2.0 0 1,0 4,0a2.0,2.0 0 1,0 -4,0ZM1539.9,2340L1542.1,2344L1537.7,2344ZM1557.9,2309.1h4v4h-4ZM1560.4,2320.2L1562.6,2316.2L1558.2,2316.2ZM1562.3,2322.1L1563,2323.9L1564.9,2324.1L1563.4,2325.3L1563.9,2327.2L1562.3,2326.1L1560.6,2327.2L1561.1,2325.3L1559.6,2324.1L1561.5,2323.9ZM1558.8,2331.8a2.0,2.0 0 1,0 4,0a2.0,2.0 0 1,0 -4,0ZM1562,2336.5L1564.2,2340.5L1559.8,2340.5ZM1581.9,2344.1h4v4h-4ZM1582.9,2347.6L1585.1,2343.6L1580.7,2343.6ZM1583,2341.9L1583.7,2343.7L1585.7,2343.8L1584.2,2345.1L1584.7,2347L1583,2345.9L1581.4,2347L1581.9,2345.1L1580.4,2343.8L1582.3,2343.7ZM1580.8,2344a2.0,2.0 0 1,0 4,0a2.0,2.0 0 1,0 -4,0ZM1581.9,2341.2L1584.1,2345.2L1579.7,2345.2ZM1603.2,2312.1h4v4h-4ZM1603.9,2322.6L1606.1,2318.6L1601.7,2318.6ZM1605.2,2323.9L1605.9,2325.8L1607.9,2325.9L1606.4,2327.1L1606.9,2329L1605.2,2327.9L1603.6,2329L1604.1,2327.1L1602.6,2325.9L1604.5,2325.8ZM1601.4,2333.1a2.0,2.0 0 1,0 4,0a2.0,2.0 0 1,0 -4,0ZM1605.1,2337.2L1607.3,2341.2L1602.9,2341.2ZM1624.1,2270.2h4v4h-4ZM1625.6,2288L1627.8,2284L1623.4,2284ZM1625.1,2296.6L1625.8,2298.4L1627.8,2298.5L1626.2,2299.8L1626.7,2301.6L1625.1,2300.6L1623.4,2301.6L1624,2299.8L1622.4,2298.5L1624.4,2298.4ZM1622.2,2313a2.0,2.0 0 1,0 4,0a2.0,2.0 0 1,0 -4,0ZM1626.1,2324.4L1628.3,2328.4L1623.9,2328.4ZM1644.4,2344.1h4v4h-4ZM1647.3,2347.6L1649.5,2343.6L1645.1,2343.6ZM1645.7,2341.9L1646.4,2343.7L1648.3,2343.8L1646.8,2345.1L1647.3,2347L1645.7,2345.9L1644,2347L1644.5,2345.1L1643,2343.8L1645,2343.7ZM1643.5,2344a2.0,2.0 0 1,0 4,0a2.0,2.0 0 1,0 -4,0ZM1645.7,2341.2L1647.9,2345.2L1643.5,2345.2ZM1681.1,2305.1h4v4h-4ZM1681.2,2317L1683.4,2313L1679,2313ZM1683.4,2319.6L1684.1,2321.5L1686,2321.6L1684.5,2322.8L1685,2324.7L1683.4,2323.6L1681.7,2324.7L1682.2,2322.8L1680.7,2321.6L1682.7,2321.5ZM1679.8,2330.1a2.0,2.0 0 1,0 4,0a2.0,2.0 0 1,0 -4,0ZM1682.4,2335.6L1684.6,2339.6L1680.2,2339.6ZM1701.4,2288.5h4v4h-4ZM1704.2,2303.6L1706.4,2299.6L1702,2299.6ZM1702.7,2309.4L1703.4,2311.3L1705.3,2311.4L1703.8,2312.6L1704.3,2314.5L1702.7,2313.4L1701,2314.5L1701.5,2312.6L1700,2311.4L1702,2311.3ZM1701.6,2323.1a2.0,2.0 0 1,0 4,0a2.0,2.0 0 1,0 -4,0ZM1705.2,2331.7L1707.4,2335.7L1703,2335.7ZM1722.2,2314.4h4v4h-4ZM1725.6,2320.7L1727.8,2316.7L1723.4,2316.7ZM1724.6,2317.8L1725.3,2319.6L1727.3,2319.7L1725.8,2321L1726.3,2322.8L1724.6,2321.8L1723,2322.8L1723.5,2321L1722,2319.7L1723.9,2319.6ZM1722.6,2322.7a2.0,2.0 0 1,0 4,0a2.0,2.0 0 1,0 -4,0ZM1723.7,2322.5L1725.9,2326.5L1721.5,2326.5ZM1743,2271.7h4v4h-4ZM1747.8,2286L1750,2282L1745.6,2282ZM1747.4,2291.1L1748.1,2292.9L1750.1,2293L1748.6,2294.2L1749.1,2296.1L1747.4,2295.1L1745.8,2296.1L1746.3,2294.2L1744.8,2293L1746.7,2292.9ZM1745.3,2304a2.0,2.0 0 1,0 4,0a2.0,2.0 0 1,0 -4,0ZM1747.4,2311.8L1749.6,2315.8L1745.2,2315.8ZM1767.3,2256.2h4v4h-4ZM1766.9,2277.5L1769.1,2273.5L1764.7,2273.5ZM1768.2,2289.5L1768.9,2291.4L1770.8,2291.5L1769.3,2292.7L1769.8,2294.6L1768.2,2293.5L1766.5,2294.6L1767,2292.7L1765.5,2291.5L1767.5,2291.4ZM1765.9,2309.4a2.0,2.0 0 1,0 4,0a2.0,2.0 0 1,0 -4,0ZM1768.2,2324.3L1770.4,2328.3L1766,2328.3ZM1788.7,2329.2h4v4h-4ZM1790.2,2336.5L1792.4,2332.5L1788,2332.5ZM1790.8,2334.5L1791.5,2336.3L1793.5,2336.4L1792,2337.6L1792.5,2339.5L1790.8,2338.5L1789.2,2339.5L1789.7,2337.6L1788.2,2336.4L1790.1,2336.3ZM1786.3,2340.3a2.0,2.0 0 1,0 4,0a2.0,2.0 0 1,0 -4,0ZM1789.9,2341.1L1792.1,2345.1L1787.7,2345.1Z" fill="#000"/>
</g>
<line x1="1526.3" y1="2147.9" x2="1526.3" y2="2348.0" stroke="#111" stroke-width="1.3"/>
<line x1="1518.0" y1="2347.4" x2="1804.0" y2="2347.4" stroke="#111" stroke-width="1.3"/>
<line x1="1518.0" y1="2148.5" x2="1526.3" y2="2148.5" stroke="#111" stroke-width="1.2"/>
<text x="1515.7" y="2152.6" font-size="11.5" text-anchor="end" stroke="#000">2.0</text>
<line x1="1518.0" y1="2198.5" x2="1526.3" y2="2198.5" stroke="#111" stroke-width="1.2"/>
<text x="1515.7" y="2202.6" font-size="11.5" text-anchor="end" stroke="#000">1.5</text>
<line x1="1518.0" y1="2248.2" x2="1526.3" y2="2248.2" stroke="#111" stroke-width="1.2"/>
<text x="1515.7" y="2252.3" font-size="11.5" text-anchor="end" stroke="#000">1.0</text>
<line x1="1518.0" y1="2297.7" x2="1526.3" y2="2297.7" stroke="#111" stroke-width="1.2"/>
<text x="1515.7" y="2301.8" font-size="11.5" text-anchor="end" stroke="#000">0.5</text>
<line x1="1518.0" y1="2347.4" x2="1526.3" y2="2347.4" stroke="#111" stroke-width="1.2"/>
<text x="1515.7" y="2351.5" font-size="11.5" text-anchor="end" stroke="#000">0.0</text>
<line x1="1539.9" y1="2347.4" x2="1539.9" y2="2356.4" stroke="#111" stroke-width="1.2"/>
<line x1="1561.2" y1="2347.4" x2="1561.2" y2="2356.4" stroke="#111" stroke-width="1.2"/>
<line x1="1582.5" y1="2347.4" x2="1582.5" y2="2356.4" stroke="#111" stroke-width="1.2"/>
<line x1="1604.0" y1="2347.4" x2="1604.0" y2="2356.4" stroke="#111" stroke-width="1.2"/>
<line x1="1625.3" y1="2347.4" x2="1625.3" y2="2356.4" stroke="#111" stroke-width="1.2"/>
<line x1="1646.8" y1="2347.4" x2="1646.8" y2="2356.4" stroke="#111" stroke-width="1.2"/>
<line x1="1682.2" y1="2347.4" x2="1682.2" y2="2356.4" stroke="#111" stroke-width="1.2"/>
<line x1="1703.9" y1="2347.4" x2="1703.9" y2="2356.4" stroke="#111" stroke-width="1.2"/>
<line x1="1725.2" y1="2347.4" x2="1725.2" y2="2356.4" stroke="#111" stroke-width="1.2"/>
<line x1="1746.4" y1="2347.4" x2="1746.4" y2="2356.4" stroke="#111" stroke-width="1.2"/>
<line x1="1767.9" y1="2347.4" x2="1767.9" y2="2356.4" stroke="#111" stroke-width="1.2"/>
<line x1="1789.4" y1="2347.4" x2="1789.4" y2="2356.4" stroke="#111" stroke-width="1.2"/>
<text x="1598.6" y="2148.1" font-size="20.6" text-anchor="middle" fill="#ff0000" stroke="#ff0000">Blood</text>
<text x="1741.5" y="2148.1" font-size="20.8" text-anchor="middle" stroke="#000">LNs</text>
<line x1="1662.4" y1="2148.5" x2="1662.4" y2="2468.0" stroke="#111" stroke-width="1.3" stroke-dasharray="6.5,2"/>
<text x="1626.2" y="2250.4" font-size="14.4" text-anchor="middle" stroke="#000" stroke-width="0" font-weight="bold">****</text>
<text x="1746.4" y="2254.2" font-size="14.4" text-anchor="middle" stroke="#000" stroke-width="0" font-weight="bold">*</text>
<text x="1525.4" y="2370.2" font-size="17.9" text-anchor="end" fill="#12a36a" stroke="#12a36a">Glucose</text>
<text x="1539.9 1561.2 1582.5 1604 1625.3 1646.8" y="2369" font-size="17" text-anchor="middle" fill="#12a36a" stroke="#12a36a">+-++++</text>
<text x="1682.2 1703.9 1725.2 1746.4 1767.9 1789.4" y="2367.8" font-size="17" text-anchor="middle" fill="#12a36a" stroke="#12a36a">+-++++</text>
<text x="1521.3" y="2393.3" font-size="15" text-anchor="end" fill="#12a36a" stroke="#12a36a">2DG</text>
<text x="1539.9 1561.2 1582.5 1604 1625.3 1646.8" y="2392.1" font-size="17" text-anchor="middle" fill="#12a36a" stroke="#12a36a">--+---</text>
<text x="1682.2 1703.9 1725.2 1746.4 1767.9 1789.4" y="2390.9" font-size="17" text-anchor="middle" fill="#12a36a" stroke="#12a36a">--+---</text>
<text x="1516.9" y="2415.0" font-size="15" text-anchor="end" fill="#12a36a" stroke="#12a36a">Glutor</text>
<text x="1539.9 1561.2 1582.5 1604 1625.3 1646.8" y="2413.8" font-size="17" text-anchor="middle" fill="#12a36a" stroke="#12a36a">---+--</text>
<text x="1682.2 1703.9 1725.2 1746.4 1767.9 1789.4" y="2412.6" font-size="17" text-anchor="middle" fill="#12a36a" stroke="#12a36a">---+--</text>
<text x="1526.9" y="2435.9" font-size="18" text-anchor="end" fill="#ff8a1c" stroke="#ff8a1c">Fatty acids</text>
<text x="1539.9 1561.2 1582.5 1604 1625.3 1646.8" y="2434.7" font-size="17" text-anchor="middle" fill="#ff8a1c" stroke="#ff8a1c">++++-+</text>
<text x="1682.2 1703.9 1725.2 1746.4 1767.9 1789.4" y="2433.5" font-size="17" text-anchor="middle" fill="#ff8a1c" stroke="#ff8a1c">++++-+</text>
<text x="1522.5" y="2458.7" font-size="18" text-anchor="end" fill="#ff8a1c" stroke="#ff8a1c">Glutamine</text>
<text x="1539.9 1561.2 1582.5 1604 1625.3 1646.8" y="2457.5" font-size="17" text-anchor="middle" fill="#ff8a1c" stroke="#ff8a1c">+++++-</text>
<text x="1682.2 1703.9 1725.2 1746.4 1767.9 1789.4" y="2456.3" font-size="17" text-anchor="middle" fill="#ff8a1c" stroke="#ff8a1c">+++++-</text>
<rect x="1530.3" y="2356.4" width="19.0" height="107.5" fill="none" stroke="#b0b0b0" stroke-width="1.1"/>
<rect x="1672.5" y="2355.7" width="19.0" height="107.5" fill="none" stroke="#b0b0b0" stroke-width="1.1"/>
</svg>
</body></html>
